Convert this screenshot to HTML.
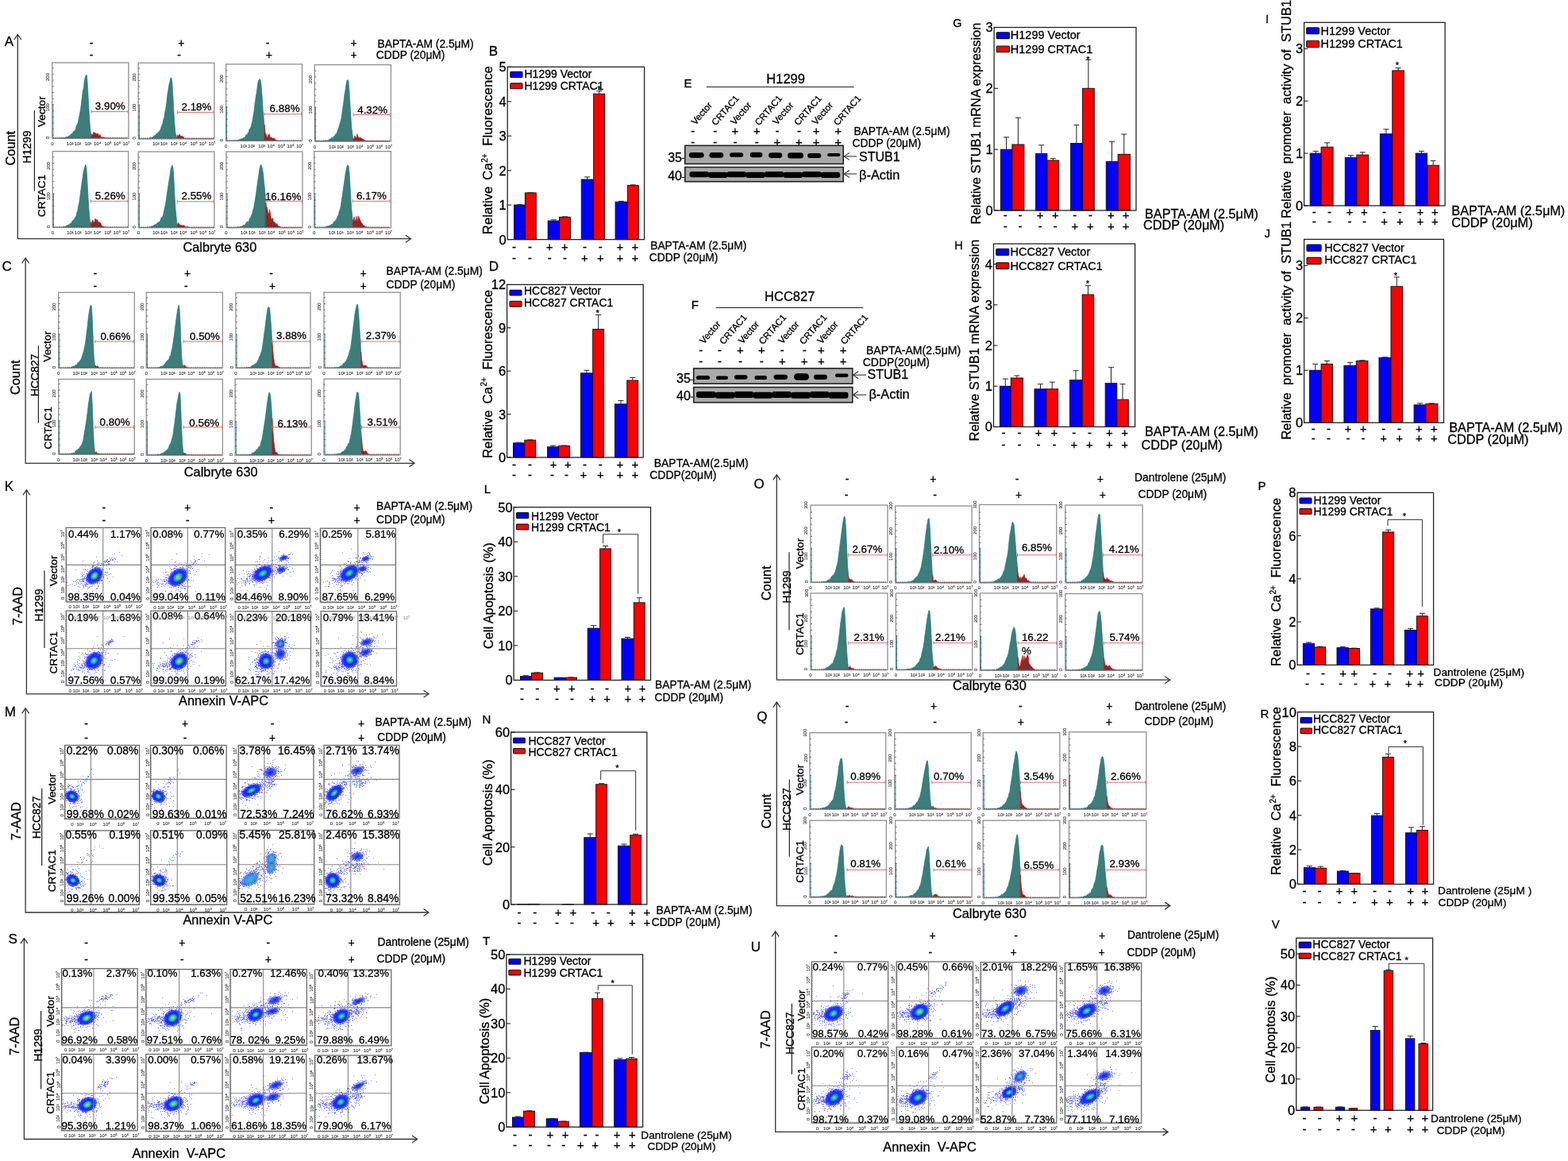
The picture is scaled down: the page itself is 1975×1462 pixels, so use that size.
<!DOCTYPE html><html><head><meta charset="utf-8"><title>Figure</title><style>html,body{margin:0;padding:0;background:#fff;overflow:hidden}svg{display:block}text{font-family:"Liberation Sans",Arial,sans-serif;fill:#000;white-space:pre;stroke:#000;stroke-width:0.3px}.c0{font-size:17px}.c1{font-size:14px;text-anchor:middle}.c2{font-size:13.8px}.c3{font-size:16.4px;text-anchor:middle}.c4{font-size:13.7px;text-anchor:middle}.c5{font-size:16.4px}.c6{font-size:13.4px;text-anchor:start}.c7{font-size:6px;text-anchor:middle;fill:#333;stroke:#333;stroke-width:0.12px}.c8{font-size:13.4px;text-anchor:end}.c9{font-size:6px;text-anchor:middle;fill:#9a9a9a;stroke:#9a9a9a;stroke-width:0.12px}.c10{font-size:13.9px;text-anchor:start}.c11{font-size:13.9px;text-anchor:end}.c12{font-size:16.5px;text-anchor:end}.c13{font-size:14px}.c14{font-size:11px;text-anchor:middle}.c15{font-size:16.8px;text-anchor:start}.c16{font-size:10px}.c17{font-size:15px;text-anchor:middle}.c18{font-size:14.5px}.c19{font-size:16.5px;text-anchor:start}.c20{font-size:16.3px}.c21{font-size:15px}.c22{font-size:16.4px;text-anchor:start}.c23{font-size:13.7px}.c24{font-size:16.5px}.c25{font-size:11.7px}.c26{font-size:16px}</style></head><body><svg width="1975" height="1462" viewBox="0 0 1975 1462">
<rect width="1975" height="1462" fill="#fff"/>
<text x="5.7" y="58.4" class="c0">A</text>
<path d="M22.3 43.5V300.7H517.4" fill="none" stroke="#333" stroke-width="1.3"/>
<path d="M17.8 50L22.3 43.5L26.8 50" fill="none" stroke="#333" stroke-width="1.3"/>
<path d="M510.9 296.2L517.4 300.7L510.9 305.2" fill="none" stroke="#333" stroke-width="1.3"/>
<text x="115" y="58.5" class="c1">-</text>
<text x="228.3" y="58.5" class="c1">+</text>
<text x="337" y="58.5" class="c1">-</text>
<text x="445.5" y="58.5" class="c1">+</text>
<text x="115" y="74.3" class="c1">-</text>
<text x="225.6" y="74.3" class="c1">-</text>
<text x="338.9" y="74.3" class="c1">+</text>
<text x="445.5" y="74.3" class="c1">+</text>
<text x="475.5" y="59.6" class="c2">BAPTA-AM (2.5μM)</text>
<text x="473.8" y="73.9" class="c2">CDDP (20μM)</text>
<text x="19.5" y="186.7" class="c3" transform="rotate(-90 19.5 186.7)">Count</text>
<text x="38.5" y="185" class="c1" transform="rotate(-90 38.5 185)">H1299</text>
<text x="56.6" y="140.6" class="c4" transform="rotate(-90 56.6 140.6)">Vector</text>
<text x="56.6" y="246.5" class="c4" transform="rotate(-90 56.6 246.5)">CRTAC1</text>
<line x1="43.4" y1="139.3" x2="43.4" y2="240.6" stroke="#222" stroke-width="1.2"/>
<text x="230.4" y="316.5" class="c5">Calbryte 630</text>
<path d="M66.4 174.3L66.4 174.3l1 0l1 0l1 0l1 -0.1l1 0l1 0l1 0l1 -0.1l1 0l1 -0.4l1 -0.3l1 0.5l1 0l1 -0.5l1 0.1l1 -0.2l1 -1.3l1 0.9l1 -0.9l1 -0.7l1 0.2l1 -1.6l1 -1l1 -0.1l1 -1.1l1 -2.2l1 -0.3l1 -1.2l1 -1.6l1 -4.5l1 -1.2l1 -2.7l1 -5.7l1 -4.2l1 -5.6l1 -7.4l1 -8.9l1 -7.7l1 -4.2l1 -8.9l1 -4.5l1 -2.6l1 0.5l1 14l1 18.5l1 16.9l1 14.9l1 9.1l0.4 1.6L115 174.3Z" fill="#3d7d7a" stroke="#13807e" stroke-width="0.7"/>
<path d="M115 174.3L115 169.9l0 0l0.4 -1.2l1 2l1 -2.7l1 -1.9l1 1.8l1 -0.4l1 1.1l1 0l1 -0.7l1 3.7l1 -2.2l1 0.8l1 2.6l1 0.1l1 -0.2l1 0.3l1 0.1l1 0.6l1 0.5l1 0l1 0l1 0.1l1 0l1 0l1 0l1 0l1 0l1 0l1 0l1 0l1 0l1 0l1 0l1 0l1 0l1 0l1 0l1 0l1 0l1 0l1 0l1 0l1 0l1 0l1 0l1 0l1 0L161.4 174.3Z" fill="#8a2a2a" stroke="#c01818" stroke-width="0.7"/>
<line x1="66.8" y1="174.3" x2="66.8" y2="131.4" stroke="#13807e" stroke-width="1"/>
<rect x="65.8" y="78.9" width="96.2" height="95.4" fill="none" stroke="#8f8f8f" stroke-width="1.3"/>
<path d="M67.8 174.3v-1.6M70.1 174.3v-1.6M72.4 174.3v-1.6M74.7 174.3v-1.6M77 174.3v-1.6M79.3 174.3v-1.6M81.6 174.3v-1.6M83.9 174.3v-1.6M86.2 174.3v-1.6M88.5 174.3v-1.6M90.8 174.3v-1.6M93.1 174.3v-1.6M95.4 174.3v-1.6M97.7 174.3v-1.6M100 174.3v-1.6M102.3 174.3v-1.6M104.6 174.3v-1.6M106.9 174.3v-1.6M109.2 174.3v-1.6M111.5 174.3v-1.6M113.8 174.3v-1.6M116.1 174.3v-1.6M118.4 174.3v-1.6M120.7 174.3v-1.6M123 174.3v-1.6M125.3 174.3v-1.6M127.6 174.3v-1.6M129.9 174.3v-1.6M132.2 174.3v-1.6M134.5 174.3v-1.6M136.8 174.3v-1.6M139.1 174.3v-1.6M141.4 174.3v-1.6M143.7 174.3v-1.6M146 174.3v-1.6M148.3 174.3v-1.6M150.6 174.3v-1.6M152.9 174.3v-1.6M155.2 174.3v-1.6M157.5 174.3v-1.6M159.8 174.3v-1.6" fill="none" stroke="#444" stroke-width="0.8"/>
<path d="M65.8 170.3h2M65.8 162.6h2M65.8 154.9h2M65.8 147.2h2M65.8 139.5h2M65.8 131.8h2M65.8 124.1h2M65.8 116.4h2M65.8 108.7h2M65.8 101h2M65.8 93.3h2M65.8 85.6h2" fill="none" stroke="#555" stroke-width="0.8"/>
<line x1="115" y1="140.6" x2="161.1" y2="140.6" stroke="#e07070" stroke-width="1"/>
<line x1="115" y1="138.4" x2="115" y2="142.8" stroke="#e07070" stroke-width="1"/>
<line x1="161.1" y1="138.4" x2="161.1" y2="142.8" stroke="#e07070" stroke-width="1"/>
<text x="119.8" y="138" class="c6">3.90%</text>
<text x="65.8" y="182.8" class="c7">0</text>
<text x="88.2" y="182.8" class="c7">10¹</text>
<text x="98" y="182.8" class="c7">10²</text>
<text x="111" y="182.8" class="c7">10³</text>
<text x="122.6" y="182.8" class="c7">10⁴</text>
<text x="136" y="182.8" class="c7">10⁵</text>
<text x="147.6" y="182.8" class="c7">10⁶</text>
<text x="159.1" y="182.8" class="c7">10⁷</text>
<text x="62.3" y="173.3" class="c7" transform="rotate(-90 62.3 173.3)">0</text>
<text x="62.3" y="135.1" class="c7" transform="rotate(-90 62.3 135.1)">100</text>
<text x="62.3" y="97" class="c7" transform="rotate(-90 62.3 97)">200</text>
<path d="M174.9 174.8L174.9 174.8l1 0l1 0l1 -0.1l1 0l1 0l1 0l1 -0.1l1 -0.1l1 -0.2l1 0.5l1 -0.9l1 0.6l1 0l1 -1.3l1 -0.2l1 0.8l1 -0.5l1 -1.4l1 -0.9l1 -0.3l1 -1.2l1 -0.2l1 -1.4l1 0l1 -2.2l1 -1l1 -0.8l1 -3.3l1 -2.9l1 -2.1l1 -5l1 -2.8l1 -7l1 -4.9l1 -6.8l1 -9.6l1 -6.1l1 -6.6l1 -3.6l1 -5.1l1 -0.2l1 6.2l1 17.1l1 18.8l1 15.8l1 10.8l1 4.5l1 2.7l0.2 0.1L223.3 174.8Z" fill="#3d7d7a" stroke="#13807e" stroke-width="0.7"/>
<path d="M223.3 174.8L223.3 169.8l0 0l0.6 1l1 0.3l1 -2.2l1 1.8l1 0.8l1 0l1 -0.1l1 0.8l1 2.2l1 -0.2l1 0.3l1 0.1l1 0.1l1 0.1l1 0l1 0l1 0l1 0l1 0l1 0l1 0l1 0l1 0l1 0l1 0l1 0l1 0l1 0l1 0l1 0l1 0l1 0l1 0l1 0l1 0l1 0l1 0l1 0l1 0l1 0l1 0l1 0l1 0l1 0l1 0l1 0L268.9 174.8Z" fill="#8a2a2a" stroke="#c01818" stroke-width="0.7"/>
<line x1="175.3" y1="174.8" x2="175.3" y2="131.8" stroke="#13807e" stroke-width="1"/>
<rect x="174.3" y="79.2" width="95.6" height="95.6" fill="none" stroke="#8f8f8f" stroke-width="1.3"/>
<path d="M176.3 174.8v-1.6M178.6 174.8v-1.6M180.9 174.8v-1.6M183.2 174.8v-1.6M185.5 174.8v-1.6M187.8 174.8v-1.6M190.1 174.8v-1.6M192.4 174.8v-1.6M194.7 174.8v-1.6M197 174.8v-1.6M199.3 174.8v-1.6M201.6 174.8v-1.6M203.9 174.8v-1.6M206.2 174.8v-1.6M208.5 174.8v-1.6M210.8 174.8v-1.6M213.1 174.8v-1.6M215.4 174.8v-1.6M217.7 174.8v-1.6M220 174.8v-1.6M222.3 174.8v-1.6M224.6 174.8v-1.6M226.9 174.8v-1.6M229.2 174.8v-1.6M231.5 174.8v-1.6M233.8 174.8v-1.6M236.1 174.8v-1.6M238.4 174.8v-1.6M240.7 174.8v-1.6M243 174.8v-1.6M245.3 174.8v-1.6M247.6 174.8v-1.6M249.9 174.8v-1.6M252.2 174.8v-1.6M254.5 174.8v-1.6M256.8 174.8v-1.6M259.1 174.8v-1.6M261.4 174.8v-1.6M263.7 174.8v-1.6M266 174.8v-1.6M268.3 174.8v-1.6" fill="none" stroke="#444" stroke-width="0.8"/>
<path d="M174.3 170.8h2M174.3 163.1h2M174.3 155.4h2M174.3 147.7h2M174.3 140h2M174.3 132.3h2M174.3 124.6h2M174.3 116.9h2M174.3 109.2h2M174.3 101.5h2M174.3 93.8h2M174.3 86.1h2" fill="none" stroke="#555" stroke-width="0.8"/>
<line x1="223.3" y1="141.4" x2="269" y2="141.4" stroke="#e07070" stroke-width="1"/>
<line x1="223.3" y1="139.2" x2="223.3" y2="143.6" stroke="#e07070" stroke-width="1"/>
<line x1="269" y1="139.2" x2="269" y2="143.6" stroke="#e07070" stroke-width="1"/>
<text x="228.5" y="139.3" class="c6">2.18%</text>
<text x="174.3" y="183.3" class="c7">0</text>
<text x="196.6" y="183.3" class="c7">10¹</text>
<text x="206.3" y="183.3" class="c7">10²</text>
<text x="219.2" y="183.3" class="c7">10³</text>
<text x="230.7" y="183.3" class="c7">10⁴</text>
<text x="244.1" y="183.3" class="c7">10⁵</text>
<text x="255.6" y="183.3" class="c7">10⁶</text>
<text x="267" y="183.3" class="c7">10⁷</text>
<text x="170.8" y="173.8" class="c7" transform="rotate(-90 170.8 173.8)">0</text>
<text x="170.8" y="135.6" class="c7" transform="rotate(-90 170.8 135.6)">100</text>
<text x="170.8" y="97.3" class="c7" transform="rotate(-90 170.8 97.3)">200</text>
<path d="M285.2 177.5L285.2 177.5l1 0l1 0l1 0l1 -0.1l1 0l1 0l1 0l1 -0.1l1 -0.1l1 -0.4l1 0.5l1 -0.5l1 0.4l1 -0.6l1 0.1l1 -0.4l1 -1.2l1 0.2l1 -0.7l1 0.1l1 -1.2l1 -0.1l1 -0.3l1 -1.2l1 -2.7l1 1.2l1 -2.8l1 -1.3l1 -3.7l1 -0.7l1 -2.6l1 -3.8l1 -4.2l1 -6.9l1 -5.3l1 -9.4l1 -7.4l1 -5.5l1 -7.5l1 -6.5l1 -2.1l1 -1.3l1 1.6l1 7.8l1 13.7l1 15.8l1 11.1l0.6 8.2L333 177.5Z" fill="#3d7d7a" stroke="#13807e" stroke-width="0.7"/>
<path d="M333 177.5L333 156.8l0 0l1.2 10.8l1 1.5l1 3.5l1 0.1l1 -3.2l1 -0.9l1 4.1l1 0.6l1 -0.2l1 0.9l1 0.5l1 -0.9l1 1.5l1 0.7l1 1.4l1 -0.1l1 0.1l1 0.2l1 0l1 0l1 0l1 0.1l1 0l1 0l1 0l1 0l1 0l1 0l1 0l1 0l1 0l1 0l1 0l1 0l1 0l1 0l1 0l1 0l1 0l1 0l1 0l1 0l1 0l1 0l1 0l1 0L379.2 177.5Z" fill="#8a2a2a" stroke="#c01818" stroke-width="0.7"/>
<line x1="285.6" y1="177.5" x2="285.6" y2="134" stroke="#13807e" stroke-width="1"/>
<rect x="284.6" y="80.8" width="95.9" height="96.7" fill="none" stroke="#8f8f8f" stroke-width="1.3"/>
<path d="M286.6 177.5v-1.6M288.9 177.5v-1.6M291.2 177.5v-1.6M293.5 177.5v-1.6M295.8 177.5v-1.6M298.1 177.5v-1.6M300.4 177.5v-1.6M302.7 177.5v-1.6M305 177.5v-1.6M307.3 177.5v-1.6M309.6 177.5v-1.6M311.9 177.5v-1.6M314.2 177.5v-1.6M316.5 177.5v-1.6M318.8 177.5v-1.6M321.1 177.5v-1.6M323.4 177.5v-1.6M325.7 177.5v-1.6M328 177.5v-1.6M330.3 177.5v-1.6M332.6 177.5v-1.6M334.9 177.5v-1.6M337.2 177.5v-1.6M339.5 177.5v-1.6M341.8 177.5v-1.6M344.1 177.5v-1.6M346.4 177.5v-1.6M348.7 177.5v-1.6M351 177.5v-1.6M353.3 177.5v-1.6M355.6 177.5v-1.6M357.9 177.5v-1.6M360.2 177.5v-1.6M362.5 177.5v-1.6M364.8 177.5v-1.6M367.1 177.5v-1.6M369.4 177.5v-1.6M371.7 177.5v-1.6M374 177.5v-1.6M376.3 177.5v-1.6M378.6 177.5v-1.6" fill="none" stroke="#444" stroke-width="0.8"/>
<path d="M284.6 173.5h2M284.6 165.8h2M284.6 158.1h2M284.6 150.4h2M284.6 142.7h2M284.6 135h2M284.6 127.3h2M284.6 119.6h2M284.6 111.9h2M284.6 104.2h2M284.6 96.5h2M284.6 88.8h2" fill="none" stroke="#555" stroke-width="0.8"/>
<line x1="333" y1="143.7" x2="379.7" y2="143.7" stroke="#e07070" stroke-width="1"/>
<line x1="333" y1="141.5" x2="333" y2="145.9" stroke="#e07070" stroke-width="1"/>
<line x1="379.7" y1="141.5" x2="379.7" y2="145.9" stroke="#e07070" stroke-width="1"/>
<text x="339.6" y="140.6" class="c6">6.88%</text>
<text x="284.6" y="186" class="c7">0</text>
<text x="306.9" y="186" class="c7">10¹</text>
<text x="316.7" y="186" class="c7">10²</text>
<text x="329.7" y="186" class="c7">10³</text>
<text x="341.2" y="186" class="c7">10⁴</text>
<text x="354.6" y="186" class="c7">10⁵</text>
<text x="366.1" y="186" class="c7">10⁶</text>
<text x="377.6" y="186" class="c7">10⁷</text>
<text x="281.1" y="176.5" class="c7" transform="rotate(-90 281.1 176.5)">0</text>
<text x="281.1" y="137.8" class="c7" transform="rotate(-90 281.1 137.8)">100</text>
<text x="281.1" y="99.1" class="c7" transform="rotate(-90 281.1 99.1)">200</text>
<path d="M396.9 178L396.9 178l1 0l1 0l1 -0.1l1 0l1 0l1 0l1 -0.1l1 0l1 -0.1l1 -0.2l1 0.5l1 -0.8l1 -0.6l1 0.8l1 -0.7l1 0.3l1 -0.4l1 -1.5l1 0.2l1 -1.2l1 -1.1l1 0.9l1 -1.4l1 -0.9l1 -1.2l1 -1.6l1 -0.4l1 -3l1 -2.8l1 -2.6l1 -3.6l1 -3.5l1 -3.5l1 -6.8l1 -7.5l1 -6.3l1 -9.3l1 -5.4l1 -7.3l1 -5l1 -1.5l1 1.1l1 12.3l1 16.2l1 16.7l1 15.1l1 7.3l0.9 5.2L445 178Z" fill="#3d7d7a" stroke="#13807e" stroke-width="0.7"/>
<path d="M445 178L445 174.7l0 0l0.9 0.1l1 -4l1 2.5l1 0.2l1 -4.8l1 3.4l1 1.1l1 0.4l1 -0.5l1 0.4l1 1.2l1 0.3l1 1.1l1 -0.2l1 1.6l1 -0.4l1 0.9l1 -0.2l1 0.1l1 0l1 0.1l1 0l1 0l1 0l1 0l1 0l1 0l1 0l1 0l1 0l1 0l1 0l1 0l1 0l1 0l1 0l1 0l1 0l1 0l1 0l1 0l1 0l1 0l1 0l1 0l1 0L490.9 178Z" fill="#8a2a2a" stroke="#c01818" stroke-width="0.7"/>
<line x1="397.3" y1="178" x2="397.3" y2="134.6" stroke="#13807e" stroke-width="1"/>
<rect x="396.3" y="81.6" width="96.1" height="96.4" fill="none" stroke="#8f8f8f" stroke-width="1.3"/>
<path d="M398.3 178v-1.6M400.6 178v-1.6M402.9 178v-1.6M405.2 178v-1.6M407.5 178v-1.6M409.8 178v-1.6M412.1 178v-1.6M414.4 178v-1.6M416.7 178v-1.6M419 178v-1.6M421.3 178v-1.6M423.6 178v-1.6M425.9 178v-1.6M428.2 178v-1.6M430.5 178v-1.6M432.8 178v-1.6M435.1 178v-1.6M437.4 178v-1.6M439.7 178v-1.6M442 178v-1.6M444.3 178v-1.6M446.6 178v-1.6M448.9 178v-1.6M451.2 178v-1.6M453.5 178v-1.6M455.8 178v-1.6M458.1 178v-1.6M460.4 178v-1.6M462.7 178v-1.6M465 178v-1.6M467.3 178v-1.6M469.6 178v-1.6M471.9 178v-1.6M474.2 178v-1.6M476.5 178v-1.6M478.8 178v-1.6M481.1 178v-1.6M483.4 178v-1.6M485.7 178v-1.6M488 178v-1.6M490.3 178v-1.6" fill="none" stroke="#444" stroke-width="0.8"/>
<path d="M396.3 174h2M396.3 166.3h2M396.3 158.6h2M396.3 150.9h2M396.3 143.2h2M396.3 135.5h2M396.3 127.8h2M396.3 120.1h2M396.3 112.4h2M396.3 104.7h2M396.3 97h2M396.3 89.3h2" fill="none" stroke="#555" stroke-width="0.8"/>
<line x1="445" y1="144.5" x2="491" y2="144.5" stroke="#e07070" stroke-width="1"/>
<line x1="445" y1="142.3" x2="445" y2="146.7" stroke="#e07070" stroke-width="1"/>
<line x1="491" y1="142.3" x2="491" y2="146.7" stroke="#e07070" stroke-width="1"/>
<text x="450.2" y="143.2" class="c6">4.32%</text>
<text x="396.3" y="186.5" class="c7">0</text>
<text x="418.7" y="186.5" class="c7">10¹</text>
<text x="428.5" y="186.5" class="c7">10²</text>
<text x="441.5" y="186.5" class="c7">10³</text>
<text x="453" y="186.5" class="c7">10⁴</text>
<text x="466.5" y="186.5" class="c7">10⁵</text>
<text x="478" y="186.5" class="c7">10⁶</text>
<text x="489.5" y="186.5" class="c7">10⁷</text>
<text x="392.8" y="177" class="c7" transform="rotate(-90 392.8 177)">0</text>
<text x="392.8" y="138.4" class="c7" transform="rotate(-90 392.8 138.4)">100</text>
<text x="392.8" y="99.9" class="c7" transform="rotate(-90 392.8 99.9)">200</text>
<path d="M66.9 286.5L66.9 286.5l1 0l1 0l1 -0.1l1 0l1 0l1 0l1 -0.1l1 -0.1l1 -0.5l1 0.8l1 0l1 -0.4l1 -0.6l1 0l1 0.1l1 -0.8l1 -0.8l1 0.1l1 -0.8l1 -0.5l1 -0.9l1 -0.3l1 -1l1 -2.3l1 -0.3l1 -1.4l1 -1.4l1 -1.8l1 -1.5l1 -4.6l1 -2.1l1 -6.6l1 -4l1 -7.6l1 -7.8l1 -7.3l1 -6.1l1 -8.2l1 -4.6l1 -3.4l1 -2.4l1 4.4l1 16.4l1 18.8l1 16l1 12l1 6.8l0.4 1.2L114.5 286.5Z" fill="#3d7d7a" stroke="#13807e" stroke-width="0.7"/>
<path d="M114.5 286.5L114.5 279.7l0 0l0.4 2.2l1 -2.9l1 -2.1l1 3.6l1 -0.9l1 -4l1 0.1l1 2.2l1 -1.3l1 3.8l1 -1l1 0.6l1 1.3l1 2.3l1 1.4l1 -0.1l1 0.7l1 0.3l1 0.6l1 -0.3l1 0l1 0.2l1 0l1 0l1 0.1l1 0l1 0l1 0l1 0l1 0l1 0l1 0l1 0l1 0l1 0l1 0l1 0l1 0l1 0l1 0l1 0l1 0l1 0l1 0l1 0l1 0l1 0L160.9 286.5Z" fill="#8a2a2a" stroke="#c01818" stroke-width="0.7"/>
<line x1="67.3" y1="286.5" x2="67.3" y2="243.3" stroke="#13807e" stroke-width="1"/>
<rect x="66.3" y="190.6" width="95.3" height="95.9" fill="none" stroke="#8f8f8f" stroke-width="1.3"/>
<path d="M68.3 286.5v-1.6M70.6 286.5v-1.6M72.9 286.5v-1.6M75.2 286.5v-1.6M77.5 286.5v-1.6M79.8 286.5v-1.6M82.1 286.5v-1.6M84.4 286.5v-1.6M86.7 286.5v-1.6M89 286.5v-1.6M91.3 286.5v-1.6M93.6 286.5v-1.6M95.9 286.5v-1.6M98.2 286.5v-1.6M100.5 286.5v-1.6M102.8 286.5v-1.6M105.1 286.5v-1.6M107.4 286.5v-1.6M109.7 286.5v-1.6M112 286.5v-1.6M114.3 286.5v-1.6M116.6 286.5v-1.6M118.9 286.5v-1.6M121.2 286.5v-1.6M123.5 286.5v-1.6M125.8 286.5v-1.6M128.1 286.5v-1.6M130.4 286.5v-1.6M132.7 286.5v-1.6M135 286.5v-1.6M137.3 286.5v-1.6M139.6 286.5v-1.6M141.9 286.5v-1.6M144.2 286.5v-1.6M146.5 286.5v-1.6M148.8 286.5v-1.6M151.1 286.5v-1.6M153.4 286.5v-1.6M155.7 286.5v-1.6M158 286.5v-1.6M160.3 286.5v-1.6" fill="none" stroke="#444" stroke-width="0.8"/>
<path d="M66.3 282.5h2M66.3 274.8h2M66.3 267.1h2M66.3 259.4h2M66.3 251.7h2M66.3 244h2M66.3 236.3h2M66.3 228.6h2M66.3 220.9h2M66.3 213.2h2M66.3 205.5h2M66.3 197.8h2" fill="none" stroke="#555" stroke-width="0.8"/>
<line x1="114.5" y1="253.3" x2="161.1" y2="253.3" stroke="#e07070" stroke-width="1"/>
<line x1="114.5" y1="251.1" x2="114.5" y2="255.5" stroke="#e07070" stroke-width="1"/>
<line x1="161.1" y1="251.1" x2="161.1" y2="255.5" stroke="#e07070" stroke-width="1"/>
<text x="119.8" y="250.6" class="c6">5.26%</text>
<text x="66.3" y="295" class="c7">0</text>
<text x="88.5" y="295" class="c7">10¹</text>
<text x="98.2" y="295" class="c7">10²</text>
<text x="111.1" y="295" class="c7">10³</text>
<text x="122.5" y="295" class="c7">10⁴</text>
<text x="135.9" y="295" class="c7">10⁵</text>
<text x="147.3" y="295" class="c7">10⁶</text>
<text x="158.7" y="295" class="c7">10⁷</text>
<text x="62.8" y="285.5" class="c7" transform="rotate(-90 62.8 285.5)">0</text>
<text x="62.8" y="247.1" class="c7" transform="rotate(-90 62.8 247.1)">100</text>
<text x="62.8" y="208.8" class="c7" transform="rotate(-90 62.8 208.8)">200</text>
<path d="M174.9 286.7L174.9 286.7l1 0l1 0l1 0l1 -0.1l1 0l1 0l1 0l1 -0.1l1 0l1 0l1 -0.8l1 0.7l1 0l1 -0.6l1 0l1 -1.2l1 0.3l1 -0.4l1 -1.1l1 -0.4l1 -0.5l1 0.5l1 -2.2l1 -0.7l1 0l1 -1l1 -1l1 -3.8l1 -0.6l1 -0.9l1 -3.3l1 -5.3l1 -4.8l1 -4.3l1 -7.6l1 -6.8l1 -6.7l1 -6.5l1 -5.6l1 -7.5l1 -4.2l1 -2.3l1 2.7l1 12.4l1 21.5l1 16.9l1 10.4l1 8.6l0.2 1.9L223.3 286.7Z" fill="#3d7d7a" stroke="#13807e" stroke-width="0.7"/>
<path d="M223.3 286.7L223.3 283.3l0 0l0.6 -0.8l1 -2.1l1 2.5l1 0.1l1 0.4l1 0.7l1 -0.2l1 0l1 -0.4l1 2.1l1 0.3l1 -0.3l1 0.2l1 -0.3l1 0.9l1 0.2l1 0l1 0l1 0.1l1 0l1 0l1 0l1 0l1 0l1 0l1 0l1 0l1 0l1 0l1 0l1 0l1 0l1 0l1 0l1 0l1 0l1 0l1 0l1 0l1 0l1 0l1 0l1 0l1 0l1 0l1 0L268.9 286.7Z" fill="#8a2a2a" stroke="#c01818" stroke-width="0.7"/>
<line x1="175.3" y1="286.7" x2="175.3" y2="243.6" stroke="#13807e" stroke-width="1"/>
<rect x="174.3" y="191" width="95.6" height="95.7" fill="none" stroke="#8f8f8f" stroke-width="1.3"/>
<path d="M176.3 286.7v-1.6M178.6 286.7v-1.6M180.9 286.7v-1.6M183.2 286.7v-1.6M185.5 286.7v-1.6M187.8 286.7v-1.6M190.1 286.7v-1.6M192.4 286.7v-1.6M194.7 286.7v-1.6M197 286.7v-1.6M199.3 286.7v-1.6M201.6 286.7v-1.6M203.9 286.7v-1.6M206.2 286.7v-1.6M208.5 286.7v-1.6M210.8 286.7v-1.6M213.1 286.7v-1.6M215.4 286.7v-1.6M217.7 286.7v-1.6M220 286.7v-1.6M222.3 286.7v-1.6M224.6 286.7v-1.6M226.9 286.7v-1.6M229.2 286.7v-1.6M231.5 286.7v-1.6M233.8 286.7v-1.6M236.1 286.7v-1.6M238.4 286.7v-1.6M240.7 286.7v-1.6M243 286.7v-1.6M245.3 286.7v-1.6M247.6 286.7v-1.6M249.9 286.7v-1.6M252.2 286.7v-1.6M254.5 286.7v-1.6M256.8 286.7v-1.6M259.1 286.7v-1.6M261.4 286.7v-1.6M263.7 286.7v-1.6M266 286.7v-1.6M268.3 286.7v-1.6" fill="none" stroke="#444" stroke-width="0.8"/>
<path d="M174.3 282.7h2M174.3 275h2M174.3 267.3h2M174.3 259.6h2M174.3 251.9h2M174.3 244.2h2M174.3 236.5h2M174.3 228.8h2M174.3 221.1h2M174.3 213.4h2M174.3 205.7h2M174.3 198h2" fill="none" stroke="#555" stroke-width="0.8"/>
<line x1="223.3" y1="253.8" x2="269" y2="253.8" stroke="#e07070" stroke-width="1"/>
<line x1="223.3" y1="251.6" x2="223.3" y2="256" stroke="#e07070" stroke-width="1"/>
<line x1="269" y1="251.6" x2="269" y2="256" stroke="#e07070" stroke-width="1"/>
<text x="228.5" y="251.2" class="c6">2.55%</text>
<text x="174.3" y="295.2" class="c7">0</text>
<text x="196.6" y="295.2" class="c7">10¹</text>
<text x="206.3" y="295.2" class="c7">10²</text>
<text x="219.2" y="295.2" class="c7">10³</text>
<text x="230.7" y="295.2" class="c7">10⁴</text>
<text x="244.1" y="295.2" class="c7">10⁵</text>
<text x="255.6" y="295.2" class="c7">10⁶</text>
<text x="267" y="295.2" class="c7">10⁷</text>
<text x="170.8" y="285.7" class="c7" transform="rotate(-90 170.8 285.7)">0</text>
<text x="170.8" y="247.4" class="c7" transform="rotate(-90 170.8 247.4)">100</text>
<text x="170.8" y="209.1" class="c7" transform="rotate(-90 170.8 209.1)">200</text>
<path d="M285.6 286.7L285.6 286.7l1 0l1 0l1 0l1 0l1 -0.1l1 0l1 0l1 0l1 -0.1l1 0l1 0l1 0.2l1 -0.1l1 -1l1 1l1 -0.3l1 -1.4l1 0.6l1 -0.8l1 -0.2l1 -1.2l1 0.2l1 -0.5l1 -1.6l1 -1.6l1 -0.9l1 0.5l1 -1.1l1 -3.6l1 -0.5l1 -3.1l1 -1.7l1 -5l1 -2.5l1 -5.9l1 -5.5l1 -7.1l1 -7.1l1 -8.1l1 -5.8l1 -7.8l1 -4.7l1 -2.6l1 1.9l1 3.9l1 5.6l1 11.7l1 9.1l0.6 6.9L334.4 286.7Z" fill="#3d7d7a" stroke="#13807e" stroke-width="0.7"/>
<path d="M334.4 286.7L334.4 250.5l0 0l1.2 9.7l1 1.7l1 5.6l1 2.7l1 -6.4l1 6l1 6l1 0.1l1 -1.6l1 6.2l1 -1.2l1 1.1l1 1.8l1 -0.7l1 2.3l1 0.8l1 0.5l1 0.2l1 1.2l1 0l1 -0.1l1 0.1l1 0.1l1 0l1 0.1l1 0l1 0l1 0l1 0l1 0l1 0l1 0l1 0l1 0l1 0l1 0l1 0l1 0l1 0l1 0l1 0l1 0l1 0l1 0l1 0L379.6 286.7Z" fill="#8a2a2a" stroke="#c01818" stroke-width="0.7"/>
<line x1="286" y1="286.7" x2="286" y2="243.6" stroke="#13807e" stroke-width="1"/>
<rect x="285" y="191" width="96" height="95.7" fill="none" stroke="#8f8f8f" stroke-width="1.3"/>
<path d="M287 286.7v-1.6M289.3 286.7v-1.6M291.6 286.7v-1.6M293.9 286.7v-1.6M296.2 286.7v-1.6M298.5 286.7v-1.6M300.8 286.7v-1.6M303.1 286.7v-1.6M305.4 286.7v-1.6M307.7 286.7v-1.6M310 286.7v-1.6M312.3 286.7v-1.6M314.6 286.7v-1.6M316.9 286.7v-1.6M319.2 286.7v-1.6M321.5 286.7v-1.6M323.8 286.7v-1.6M326.1 286.7v-1.6M328.4 286.7v-1.6M330.7 286.7v-1.6M333 286.7v-1.6M335.3 286.7v-1.6M337.6 286.7v-1.6M339.9 286.7v-1.6M342.2 286.7v-1.6M344.5 286.7v-1.6M346.8 286.7v-1.6M349.1 286.7v-1.6M351.4 286.7v-1.6M353.7 286.7v-1.6M356 286.7v-1.6M358.3 286.7v-1.6M360.6 286.7v-1.6M362.9 286.7v-1.6M365.2 286.7v-1.6M367.5 286.7v-1.6M369.8 286.7v-1.6M372.1 286.7v-1.6M374.4 286.7v-1.6M376.7 286.7v-1.6M379 286.7v-1.6" fill="none" stroke="#444" stroke-width="0.8"/>
<path d="M285 282.7h2M285 275h2M285 267.3h2M285 259.6h2M285 251.9h2M285 244.2h2M285 236.5h2M285 228.8h2M285 221.1h2M285 213.4h2M285 205.7h2M285 198h2" fill="none" stroke="#555" stroke-width="0.8"/>
<line x1="334.4" y1="253.3" x2="380.5" y2="253.3" stroke="#e07070" stroke-width="1"/>
<line x1="334.4" y1="251.1" x2="334.4" y2="255.5" stroke="#e07070" stroke-width="1"/>
<line x1="380.5" y1="251.1" x2="380.5" y2="255.5" stroke="#e07070" stroke-width="1"/>
<text x="333.9" y="252" class="c6">16.16%</text>
<text x="285" y="295.2" class="c7">0</text>
<text x="307.4" y="295.2" class="c7">10¹</text>
<text x="317.2" y="295.2" class="c7">10²</text>
<text x="330.1" y="295.2" class="c7">10³</text>
<text x="341.6" y="295.2" class="c7">10⁴</text>
<text x="355.1" y="295.2" class="c7">10⁵</text>
<text x="366.6" y="295.2" class="c7">10⁶</text>
<text x="378.1" y="295.2" class="c7">10⁷</text>
<text x="281.5" y="285.7" class="c7" transform="rotate(-90 281.5 285.7)">0</text>
<text x="281.5" y="247.4" class="c7" transform="rotate(-90 281.5 247.4)">100</text>
<text x="281.5" y="209.1" class="c7" transform="rotate(-90 281.5 209.1)">200</text>
<path d="M396.3 286.7L396.3 286.7l1 0l1 0l1 0l1 -0.1l1 0l1 0l1 0l1 -0.1l1 -0.1l1 0l1 0.2l1 -0.1l1 0.1l1 -0.8l1 -0.5l1 -0.6l1 0.1l1 -0.4l1 -0.3l1 -0.7l1 -0.8l1 -0.1l1 -1.1l1 -1.6l1 -0.7l1 -1.2l1 -1.1l1 -1.8l1 -2.8l1 -1.6l1 -4.3l1 -2.5l1 -4l1 -7.8l1 -5.5l1 -8.1l1 -6.5l1 -7.1l1 -7.4l1 -4.4l1 -4.6l1 -0.6l1 2l1 12.1l1 17.1l1 17.2l1 11.8l0.9 9.7L444.4 286.7Z" fill="#3d7d7a" stroke="#13807e" stroke-width="0.7"/>
<path d="M444.4 286.7L444.4 278l0 0l0.9 -2.1l1 -2.9l1 5.4l1 -1.5l1 -4.5l1 7.5l1 -7.7l1 1.7l1 2.3l1 2.3l1 1.8l1 1.2l1 1.8l1 0.9l1 0.3l1 1.5l1 -0.8l1 0.9l1 0.2l1 0.2l1 0l1 0.1l1 0l1 0.1l1 0l1 0l1 0l1 0l1 0l1 0l1 0l1 0l1 0l1 0l1 0l1 0l1 0l1 0l1 0l1 0l1 0l1 0l1 0l1 0l1 0l1 0l1 0L491.3 286.7Z" fill="#8a2a2a" stroke="#c01818" stroke-width="0.7"/>
<line x1="396.7" y1="286.7" x2="396.7" y2="243.5" stroke="#13807e" stroke-width="1"/>
<rect x="395.7" y="190.6" width="96.7" height="96.1" fill="none" stroke="#8f8f8f" stroke-width="1.3"/>
<path d="M397.7 286.7v-1.6M400 286.7v-1.6M402.3 286.7v-1.6M404.6 286.7v-1.6M406.9 286.7v-1.6M409.2 286.7v-1.6M411.5 286.7v-1.6M413.8 286.7v-1.6M416.1 286.7v-1.6M418.4 286.7v-1.6M420.7 286.7v-1.6M423 286.7v-1.6M425.3 286.7v-1.6M427.6 286.7v-1.6M429.9 286.7v-1.6M432.2 286.7v-1.6M434.5 286.7v-1.6M436.8 286.7v-1.6M439.1 286.7v-1.6M441.4 286.7v-1.6M443.7 286.7v-1.6M446 286.7v-1.6M448.3 286.7v-1.6M450.6 286.7v-1.6M452.9 286.7v-1.6M455.2 286.7v-1.6M457.5 286.7v-1.6M459.8 286.7v-1.6M462.1 286.7v-1.6M464.4 286.7v-1.6M466.7 286.7v-1.6M469 286.7v-1.6M471.3 286.7v-1.6M473.6 286.7v-1.6M475.9 286.7v-1.6M478.2 286.7v-1.6M480.5 286.7v-1.6M482.8 286.7v-1.6M485.1 286.7v-1.6M487.4 286.7v-1.6M489.7 286.7v-1.6" fill="none" stroke="#444" stroke-width="0.8"/>
<path d="M395.7 282.7h2M395.7 275h2M395.7 267.3h2M395.7 259.6h2M395.7 251.9h2M395.7 244.2h2M395.7 236.5h2M395.7 228.8h2M395.7 221.1h2M395.7 213.4h2M395.7 205.7h2M395.7 198h2" fill="none" stroke="#555" stroke-width="0.8"/>
<line x1="444.4" y1="253.3" x2="491" y2="253.3" stroke="#e07070" stroke-width="1"/>
<line x1="444.4" y1="251.1" x2="444.4" y2="255.5" stroke="#e07070" stroke-width="1"/>
<line x1="491" y1="251.1" x2="491" y2="255.5" stroke="#e07070" stroke-width="1"/>
<text x="448.9" y="251.2" class="c6">6.17%</text>
<text x="395.7" y="295.2" class="c7">0</text>
<text x="418.2" y="295.2" class="c7">10¹</text>
<text x="428.1" y="295.2" class="c7">10²</text>
<text x="441.1" y="295.2" class="c7">10³</text>
<text x="452.8" y="295.2" class="c7">10⁴</text>
<text x="466.3" y="295.2" class="c7">10⁵</text>
<text x="477.9" y="295.2" class="c7">10⁶</text>
<text x="489.5" y="295.2" class="c7">10⁷</text>
<text x="392.2" y="285.7" class="c7" transform="rotate(-90 392.2 285.7)">0</text>
<text x="392.2" y="247.3" class="c7" transform="rotate(-90 392.2 247.3)">100</text>
<text x="392.2" y="208.8" class="c7" transform="rotate(-90 392.2 208.8)">200</text>
<text x="2.6" y="341" class="c0">C</text>
<path d="M32.1 325V583.3H522" fill="none" stroke="#333" stroke-width="1.3"/>
<path d="M27.6 331.5L32.1 325L36.6 331.5" fill="none" stroke="#333" stroke-width="1.3"/>
<path d="M515.5 578.8L522 583.3L515.5 587.8" fill="none" stroke="#333" stroke-width="1.3"/>
<text x="119.8" y="348.5" class="c1">-</text>
<text x="236.2" y="348.5" class="c1">+</text>
<text x="341.5" y="348.5" class="c1">-</text>
<text x="457.6" y="348.5" class="c1">+</text>
<text x="119.8" y="364.8" class="c1">-</text>
<text x="234.4" y="364.8" class="c1">-</text>
<text x="343.1" y="364.8" class="c1">+</text>
<text x="457.6" y="364.8" class="c1">+</text>
<text x="486.6" y="345.5" class="c2">BAPTA-AM (2.5μM)</text>
<text x="486.6" y="363.4" class="c2">CDDP (20μM)</text>
<text x="25.3" y="475.3" class="c3" transform="rotate(-90 25.3 475.3)">Count</text>
<text x="48.6" y="472.5" class="c1" transform="rotate(-90 48.6 472.5)">HCC827</text>
<text x="64.5" y="436.3" class="c4" transform="rotate(-90 64.5 436.3)">Vector</text>
<text x="64.5" y="539" class="c4" transform="rotate(-90 64.5 539)">CRTAC1</text>
<line x1="48.4" y1="435.3" x2="48.4" y2="532.7" stroke="#222" stroke-width="1.2"/>
<text x="231.7" y="599.6" class="c5">Calbryte 630</text>
<path d="M74.3 463.5L74.3 463.5l1 0l1 0l1 0l1 0l1 0l1 -0.1l1 0l1 0l1 -0.1l1 0l1 -0.2l1 -0.3l1 0.1l1 0.2l1 -0.2l1 -0.6l1 -0.7l1 -0.6l1 0.6l1 -1.5l1 -0.4l1 0.2l1 -1.8l1 -1.9l1 0.4l1 -2.1l1 -0.4l1 -2.2l1 -2.9l1 -3.1l1 -3.1l1 -4.7l1 -4.7l1 -7.5l1 -8.1l1 -8.1l1 -10.1l1 -6.2l1 -6.2l1 -3.1l1 0.9l1 17.3l1 25.1l1 22.7l1 8.5l0.3 1.4L119.8 463.5Z" fill="#3d7d7a" stroke="#13807e" stroke-width="0.7"/>
<path d="M119.8 463.5L119.8 461.3l0 0l0.5 -1.2l1 1.6l1 -0.9l1 0.5l1 1.8l1 0.2l1 0.1l1 0.1l1 0l1 0l1 0l1 0l1 0l1 0l1 0l1 0l1 0l1 0l1 0l1 0l1 0l1 0l1 0l1 0l1 0l1 0l1 0l1 0l1 0l1 0l1 0l1 0l1 0l1 0l1 0l1 0l1 0l1 0l1 0l1 0l1 0l1 0l1 0l1 0l1 0l1 0l1 0l1 0l1 0L168.3 463.5Z" fill="#8a2a2a" stroke="#c01818" stroke-width="0.7"/>
<line x1="74.7" y1="463.5" x2="74.7" y2="420.6" stroke="#13807e" stroke-width="1"/>
<rect x="73.7" y="368.2" width="95.6" height="95.3" fill="none" stroke="#8f8f8f" stroke-width="1.3"/>
<path d="M75.7 463.5v-1.6M78 463.5v-1.6M80.3 463.5v-1.6M82.6 463.5v-1.6M84.9 463.5v-1.6M87.2 463.5v-1.6M89.5 463.5v-1.6M91.8 463.5v-1.6M94.1 463.5v-1.6M96.4 463.5v-1.6M98.7 463.5v-1.6M101 463.5v-1.6M103.3 463.5v-1.6M105.6 463.5v-1.6M107.9 463.5v-1.6M110.2 463.5v-1.6M112.5 463.5v-1.6M114.8 463.5v-1.6M117.1 463.5v-1.6M119.4 463.5v-1.6M121.7 463.5v-1.6M124 463.5v-1.6M126.3 463.5v-1.6M128.6 463.5v-1.6M130.9 463.5v-1.6M133.2 463.5v-1.6M135.5 463.5v-1.6M137.8 463.5v-1.6M140.1 463.5v-1.6M142.4 463.5v-1.6M144.7 463.5v-1.6M147 463.5v-1.6M149.3 463.5v-1.6M151.6 463.5v-1.6M153.9 463.5v-1.6M156.2 463.5v-1.6M158.5 463.5v-1.6M160.8 463.5v-1.6M163.1 463.5v-1.6M165.4 463.5v-1.6M167.7 463.5v-1.6" fill="none" stroke="#444" stroke-width="0.8"/>
<path d="M73.7 459.5h2M73.7 451.8h2M73.7 444.1h2M73.7 436.4h2M73.7 428.7h2M73.7 421h2M73.7 413.3h2M73.7 405.6h2M73.7 397.9h2M73.7 390.2h2M73.7 382.5h2M73.7 374.8h2" fill="none" stroke="#555" stroke-width="0.8"/>
<line x1="119.8" y1="430" x2="168.5" y2="430" stroke="#e07070" stroke-width="1"/>
<line x1="119.8" y1="427.8" x2="119.8" y2="432.2" stroke="#e07070" stroke-width="1"/>
<line x1="168.5" y1="427.8" x2="168.5" y2="432.2" stroke="#e07070" stroke-width="1"/>
<text x="126.4" y="428" class="c6">0.66%</text>
<text x="73.7" y="472" class="c7">0</text>
<text x="96" y="472" class="c7">10¹</text>
<text x="105.7" y="472" class="c7">10²</text>
<text x="118.6" y="472" class="c7">10³</text>
<text x="130.1" y="472" class="c7">10⁴</text>
<text x="143.5" y="472" class="c7">10⁵</text>
<text x="155" y="472" class="c7">10⁶</text>
<text x="166.4" y="472" class="c7">10⁷</text>
<text x="70.2" y="462.5" class="c7" transform="rotate(-90 70.2 462.5)">0</text>
<text x="70.2" y="424.4" class="c7" transform="rotate(-90 70.2 424.4)">100</text>
<text x="70.2" y="386.3" class="c7" transform="rotate(-90 70.2 386.3)">200</text>
<path d="M184.9 463.5L184.9 463.5l1 0l1 0l1 0l1 0l1 0l1 -0.1l1 0l1 0l1 -0.1l1 0l1 0.2l1 0l1 -0.7l1 0.5l1 -0.9l1 0.6l1 -1.2l1 -0.7l1 0.4l1 -0.1l1 -1.6l1 -1l1 -1l1 -1.4l1 -1.1l1 -1.5l1 0.2l1 -2.1l1 -3.4l1 -1l1 -5l1 -3.8l1 -6.2l1 -7l1 -6.8l1 -8.8l1 -7.4l1 -7.2l1 -6.1l1 -5l1 2.4l1 17.7l1 24.5l1 21.9l1 8.2l1.1 3.4L231.2 463.5Z" fill="#3d7d7a" stroke="#13807e" stroke-width="0.7"/>
<path d="M231.2 463.5L231.2 461l0 0l0.7 -1.3l1 0.5l1 1.5l1 0.3l1 1.2l1 0.1l1 0.2l1 0l1 0l1 0l1 0l1 0l1 0l1 0l1 0l1 0l1 0l1 0l1 0l1 0l1 0l1 0l1 0l1 0l1 0l1 0l1 0l1 0l1 0l1 0l1 0l1 0l1 0l1 0l1 0l1 0l1 0l1 0l1 0l1 0l1 0l1 0l1 0l1 0l1 0l1 0l1 0l1 0L278.9 463.5Z" fill="#8a2a2a" stroke="#c01818" stroke-width="0.7"/>
<line x1="185.3" y1="463.5" x2="185.3" y2="420.6" stroke="#13807e" stroke-width="1"/>
<rect x="184.3" y="368.2" width="96.1" height="95.3" fill="none" stroke="#8f8f8f" stroke-width="1.3"/>
<path d="M186.3 463.5v-1.6M188.6 463.5v-1.6M190.9 463.5v-1.6M193.2 463.5v-1.6M195.5 463.5v-1.6M197.8 463.5v-1.6M200.1 463.5v-1.6M202.4 463.5v-1.6M204.7 463.5v-1.6M207 463.5v-1.6M209.3 463.5v-1.6M211.6 463.5v-1.6M213.9 463.5v-1.6M216.2 463.5v-1.6M218.5 463.5v-1.6M220.8 463.5v-1.6M223.1 463.5v-1.6M225.4 463.5v-1.6M227.7 463.5v-1.6M230 463.5v-1.6M232.3 463.5v-1.6M234.6 463.5v-1.6M236.9 463.5v-1.6M239.2 463.5v-1.6M241.5 463.5v-1.6M243.8 463.5v-1.6M246.1 463.5v-1.6M248.4 463.5v-1.6M250.7 463.5v-1.6M253 463.5v-1.6M255.3 463.5v-1.6M257.6 463.5v-1.6M259.9 463.5v-1.6M262.2 463.5v-1.6M264.5 463.5v-1.6M266.8 463.5v-1.6M269.1 463.5v-1.6M271.4 463.5v-1.6M273.7 463.5v-1.6M276 463.5v-1.6M278.3 463.5v-1.6" fill="none" stroke="#444" stroke-width="0.8"/>
<path d="M184.3 459.5h2M184.3 451.8h2M184.3 444.1h2M184.3 436.4h2M184.3 428.7h2M184.3 421h2M184.3 413.3h2M184.3 405.6h2M184.3 397.9h2M184.3 390.2h2M184.3 382.5h2M184.3 374.8h2" fill="none" stroke="#555" stroke-width="0.8"/>
<line x1="231.2" y1="430" x2="279.9" y2="430" stroke="#e07070" stroke-width="1"/>
<line x1="231.2" y1="427.8" x2="231.2" y2="432.2" stroke="#e07070" stroke-width="1"/>
<line x1="279.9" y1="427.8" x2="279.9" y2="432.2" stroke="#e07070" stroke-width="1"/>
<text x="239" y="428" class="c6">0.50%</text>
<text x="184.3" y="472" class="c7">0</text>
<text x="206.7" y="472" class="c7">10¹</text>
<text x="216.5" y="472" class="c7">10²</text>
<text x="229.5" y="472" class="c7">10³</text>
<text x="241" y="472" class="c7">10⁴</text>
<text x="254.5" y="472" class="c7">10⁵</text>
<text x="266" y="472" class="c7">10⁶</text>
<text x="277.5" y="472" class="c7">10⁷</text>
<text x="180.8" y="462.5" class="c7" transform="rotate(-90 180.8 462.5)">0</text>
<text x="180.8" y="424.4" class="c7" transform="rotate(-90 180.8 424.4)">100</text>
<text x="180.8" y="386.3" class="c7" transform="rotate(-90 180.8 386.3)">200</text>
<path d="M297.6 463.5L297.6 463.5l1 0l1 0l1 0l1 0l1 0l1 -0.1l1 0l1 0l1 0l1 -0.1l1 -0.1l1 0l1 -0.4l1 0l1 -0.1l1 0l1 -0.2l1 0.1l1 -1.5l1 -0.9l1 -0.2l1 0l1 -1.8l1 0.2l1 -1l1 -0.9l1 -2.4l1 -1l1 -4l1 -1l1 -3.7l1 -2.1l1 -5.6l1 -7.2l1 -7.4l1 -7.3l1 -8.5l1 -7.6l1 -7.5l1 -4.1l1 -0.4l1 1.4l1 10.4l1 12.7l1 16.6L342.8 463.5Z" fill="#3d7d7a" stroke="#13807e" stroke-width="0.7"/>
<path d="M342.8 463.5L342.8 430.7l0 0l0.8 8.8l1 10.8l1 6.7l1 3l1 0.9l1 -0.8l1 1.6l1 -0.2l1 0.7l1 1l1 0.2l1 0.1l1 0l1 0l1 0l1 0l1 0l1 0l1 0l1 0l1 0l1 0l1 0l1 0l1 0l1 0l1 0l1 0l1 0l1 0l1 0l1 0l1 0l1 0l1 0l1 0l1 0l1 0l1 0l1 0l1 0l1 0l1 0l1 0l1 0l1 0l1 0L389.6 463.5Z" fill="#8a2a2a" stroke="#c01818" stroke-width="0.7"/>
<line x1="298" y1="463.5" x2="298" y2="420.8" stroke="#13807e" stroke-width="1"/>
<rect x="297" y="368.7" width="94" height="94.8" fill="none" stroke="#8f8f8f" stroke-width="1.3"/>
<path d="M299 463.5v-1.6M301.3 463.5v-1.6M303.6 463.5v-1.6M305.9 463.5v-1.6M308.2 463.5v-1.6M310.5 463.5v-1.6M312.8 463.5v-1.6M315.1 463.5v-1.6M317.4 463.5v-1.6M319.7 463.5v-1.6M322 463.5v-1.6M324.3 463.5v-1.6M326.6 463.5v-1.6M328.9 463.5v-1.6M331.2 463.5v-1.6M333.5 463.5v-1.6M335.8 463.5v-1.6M338.1 463.5v-1.6M340.4 463.5v-1.6M342.7 463.5v-1.6M345 463.5v-1.6M347.3 463.5v-1.6M349.6 463.5v-1.6M351.9 463.5v-1.6M354.2 463.5v-1.6M356.5 463.5v-1.6M358.8 463.5v-1.6M361.1 463.5v-1.6M363.4 463.5v-1.6M365.7 463.5v-1.6M368 463.5v-1.6M370.3 463.5v-1.6M372.6 463.5v-1.6M374.9 463.5v-1.6M377.2 463.5v-1.6M379.5 463.5v-1.6M381.8 463.5v-1.6M384.1 463.5v-1.6M386.4 463.5v-1.6M388.7 463.5v-1.6" fill="none" stroke="#444" stroke-width="0.8"/>
<path d="M297 459.5h2M297 451.8h2M297 444.1h2M297 436.4h2M297 428.7h2M297 421h2M297 413.3h2M297 405.6h2M297 397.9h2M297 390.2h2M297 382.5h2M297 374.8h2" fill="none" stroke="#555" stroke-width="0.8"/>
<line x1="342.8" y1="430" x2="390.2" y2="430" stroke="#e07070" stroke-width="1"/>
<line x1="342.8" y1="427.8" x2="342.8" y2="432.2" stroke="#e07070" stroke-width="1"/>
<line x1="390.2" y1="427.8" x2="390.2" y2="432.2" stroke="#e07070" stroke-width="1"/>
<text x="348" y="426.6" class="c6">3.88%</text>
<text x="297" y="472" class="c7">0</text>
<text x="318.9" y="472" class="c7">10¹</text>
<text x="328.5" y="472" class="c7">10²</text>
<text x="341.2" y="472" class="c7">10³</text>
<text x="352.5" y="472" class="c7">10⁴</text>
<text x="365.6" y="472" class="c7">10⁵</text>
<text x="376.9" y="472" class="c7">10⁶</text>
<text x="388.2" y="472" class="c7">10⁷</text>
<text x="293.5" y="462.5" class="c7" transform="rotate(-90 293.5 462.5)">0</text>
<text x="293.5" y="424.6" class="c7" transform="rotate(-90 293.5 424.6)">100</text>
<text x="293.5" y="386.7" class="c7" transform="rotate(-90 293.5 386.7)">200</text>
<path d="M408.6 463.5L408.6 463.5l1 0l1 0l1 0l1 0l1 0l1 0l1 -0.1l1 0l1 0l1 -0.1l1 0l1 0.2l1 0l1 -0.9l1 0.6l1 -0.6l1 0l1 0.1l1 -0.8l1 -1.2l1 0l1 -0.1l1 -1.6l1 -1.5l1 -0.1l1 -1.5l1 -1.2l1 -1.7l1 -1.6l1 -3.4l1 -2.7l1 -4.3l1 -2l1 -8.2l1 -7.4l1 -8.9l1 -7.6l1 -8.3l1 -6.9l1 -4.3l1 -4.5l1 1.2l1 8.1l1 16.4l1 15.9l0.9 15L454.7 463.5Z" fill="#3d7d7a" stroke="#13807e" stroke-width="0.7"/>
<path d="M454.7 463.5L454.7 443.2l0 0l0.9 9.1l1 5.5l1 3.8l1 -1.5l1 -0.2l1 0.2l1 0.6l1 2.3l1 0.2l1 -0.2l1 0.4l1 0l1 0.1l1 0l1 0l1 0l1 0l1 0l1 0l1 0l1 0l1 0l1 0l1 0l1 0l1 0l1 0l1 0l1 0l1 0l1 0l1 0l1 0l1 0l1 0l1 0l1 0l1 0l1 0l1 0l1 0l1 0l1 0l1 0l1 0l1 0l1 0l1 0L502.6 463.5Z" fill="#8a2a2a" stroke="#c01818" stroke-width="0.7"/>
<line x1="409" y1="463.5" x2="409" y2="420.6" stroke="#13807e" stroke-width="1"/>
<rect x="408" y="368.2" width="96.2" height="95.3" fill="none" stroke="#8f8f8f" stroke-width="1.3"/>
<path d="M410 463.5v-1.6M412.3 463.5v-1.6M414.6 463.5v-1.6M416.9 463.5v-1.6M419.2 463.5v-1.6M421.5 463.5v-1.6M423.8 463.5v-1.6M426.1 463.5v-1.6M428.4 463.5v-1.6M430.7 463.5v-1.6M433 463.5v-1.6M435.3 463.5v-1.6M437.6 463.5v-1.6M439.9 463.5v-1.6M442.2 463.5v-1.6M444.5 463.5v-1.6M446.8 463.5v-1.6M449.1 463.5v-1.6M451.4 463.5v-1.6M453.7 463.5v-1.6M456 463.5v-1.6M458.3 463.5v-1.6M460.6 463.5v-1.6M462.9 463.5v-1.6M465.2 463.5v-1.6M467.5 463.5v-1.6M469.8 463.5v-1.6M472.1 463.5v-1.6M474.4 463.5v-1.6M476.7 463.5v-1.6M479 463.5v-1.6M481.3 463.5v-1.6M483.6 463.5v-1.6M485.9 463.5v-1.6M488.2 463.5v-1.6M490.5 463.5v-1.6M492.8 463.5v-1.6M495.1 463.5v-1.6M497.4 463.5v-1.6M499.7 463.5v-1.6M502 463.5v-1.6" fill="none" stroke="#444" stroke-width="0.8"/>
<path d="M408 459.5h2M408 451.8h2M408 444.1h2M408 436.4h2M408 428.7h2M408 421h2M408 413.3h2M408 405.6h2M408 397.9h2M408 390.2h2M408 382.5h2M408 374.8h2" fill="none" stroke="#555" stroke-width="0.8"/>
<line x1="454.7" y1="430" x2="503.4" y2="430" stroke="#e07070" stroke-width="1"/>
<line x1="454.7" y1="427.8" x2="454.7" y2="432.2" stroke="#e07070" stroke-width="1"/>
<line x1="503.4" y1="427.8" x2="503.4" y2="432.2" stroke="#e07070" stroke-width="1"/>
<text x="460.8" y="426.6" class="c6">2.37%</text>
<text x="408" y="472" class="c7">0</text>
<text x="430.4" y="472" class="c7">10¹</text>
<text x="440.2" y="472" class="c7">10²</text>
<text x="453.2" y="472" class="c7">10³</text>
<text x="464.8" y="472" class="c7">10⁴</text>
<text x="478.2" y="472" class="c7">10⁵</text>
<text x="489.8" y="472" class="c7">10⁶</text>
<text x="501.3" y="472" class="c7">10⁷</text>
<text x="404.5" y="462.5" class="c7" transform="rotate(-90 404.5 462.5)">0</text>
<text x="404.5" y="424.4" class="c7" transform="rotate(-90 404.5 424.4)">100</text>
<text x="404.5" y="386.3" class="c7" transform="rotate(-90 404.5 386.3)">200</text>
<path d="M74.3 572.2L74.3 572.2l1 0l1 0l1 0l1 0l1 0l1 -0.1l1 0l1 0l1 -0.1l1 0l1 0.2l1 -0.3l1 -0.7l1 0.8l1 -0.8l1 -0.1l1 -0.1l1 -0.6l1 0.2l1 -0.9l1 -1.8l1 -1l1 -0.1l1 -1.2l1 0l1 -2.1l1 -1.4l1 -1.2l1 -2.1l1 -2l1 -5.4l1 -6.1l1 -5.7l1 -6.3l1 -6.9l1 -8.1l1 -8.8l1 -6.4l1 -6.1l1 -2.5l1 -1.8l1 18.4l1 26.1l1 20.6l1 10l0.3 1.5L119.8 572.2Z" fill="#3d7d7a" stroke="#13807e" stroke-width="0.7"/>
<path d="M119.8 572.2L119.8 569.6l0 0l0.5 0.9l1 -1.8l1 2.4l1 0.1l1 -0.1l1 0.5l1 0.5l1 0.1l1 0l1 0l1 0l1 0l1 0l1 0l1 0l1 0l1 0l1 0l1 0l1 0l1 0l1 0l1 0l1 0l1 0l1 0l1 0l1 0l1 0l1 0l1 0l1 0l1 0l1 0l1 0l1 0l1 0l1 0l1 0l1 0l1 0l1 0l1 0l1 0l1 0l1 0l1 0l1 0l1 0L168.3 572.2Z" fill="#8a2a2a" stroke="#c01818" stroke-width="0.7"/>
<line x1="74.7" y1="572.2" x2="74.7" y2="529.6" stroke="#13807e" stroke-width="1"/>
<rect x="73.7" y="477.5" width="95.6" height="94.7" fill="none" stroke="#8f8f8f" stroke-width="1.3"/>
<path d="M75.7 572.2v-1.6M78 572.2v-1.6M80.3 572.2v-1.6M82.6 572.2v-1.6M84.9 572.2v-1.6M87.2 572.2v-1.6M89.5 572.2v-1.6M91.8 572.2v-1.6M94.1 572.2v-1.6M96.4 572.2v-1.6M98.7 572.2v-1.6M101 572.2v-1.6M103.3 572.2v-1.6M105.6 572.2v-1.6M107.9 572.2v-1.6M110.2 572.2v-1.6M112.5 572.2v-1.6M114.8 572.2v-1.6M117.1 572.2v-1.6M119.4 572.2v-1.6M121.7 572.2v-1.6M124 572.2v-1.6M126.3 572.2v-1.6M128.6 572.2v-1.6M130.9 572.2v-1.6M133.2 572.2v-1.6M135.5 572.2v-1.6M137.8 572.2v-1.6M140.1 572.2v-1.6M142.4 572.2v-1.6M144.7 572.2v-1.6M147 572.2v-1.6M149.3 572.2v-1.6M151.6 572.2v-1.6M153.9 572.2v-1.6M156.2 572.2v-1.6M158.5 572.2v-1.6M160.8 572.2v-1.6M163.1 572.2v-1.6M165.4 572.2v-1.6M167.7 572.2v-1.6" fill="none" stroke="#444" stroke-width="0.8"/>
<path d="M73.7 568.2h2M73.7 560.5h2M73.7 552.8h2M73.7 545.1h2M73.7 537.4h2M73.7 529.7h2M73.7 522h2M73.7 514.3h2M73.7 506.6h2M73.7 498.9h2M73.7 491.2h2M73.7 483.5h2" fill="none" stroke="#555" stroke-width="0.8"/>
<line x1="119.8" y1="538" x2="168.5" y2="538" stroke="#e07070" stroke-width="1"/>
<line x1="119.8" y1="535.8" x2="119.8" y2="540.2" stroke="#e07070" stroke-width="1"/>
<line x1="168.5" y1="535.8" x2="168.5" y2="540.2" stroke="#e07070" stroke-width="1"/>
<text x="125.6" y="536.4" class="c6">0.80%</text>
<text x="73.7" y="580.7" class="c7">0</text>
<text x="96" y="580.7" class="c7">10¹</text>
<text x="105.7" y="580.7" class="c7">10²</text>
<text x="118.6" y="580.7" class="c7">10³</text>
<text x="130.1" y="580.7" class="c7">10⁴</text>
<text x="143.5" y="580.7" class="c7">10⁵</text>
<text x="155" y="580.7" class="c7">10⁶</text>
<text x="166.4" y="580.7" class="c7">10⁷</text>
<text x="70.2" y="571.2" class="c7" transform="rotate(-90 70.2 571.2)">0</text>
<text x="70.2" y="533.3" class="c7" transform="rotate(-90 70.2 533.3)">100</text>
<text x="70.2" y="495.4" class="c7" transform="rotate(-90 70.2 495.4)">200</text>
<path d="M184.9 573.3L184.9 573.3l1 0l1 0l1 0l1 0l1 0l1 -0.1l1 0l1 0l1 0l1 -0.1l1 -0.1l1 0.3l1 -0.7l1 -0.4l1 -0.1l1 0.8l1 -0.6l1 -1l1 -0.6l1 0.2l1 -1.1l1 -0.4l1 -0.9l1 -0.5l1 -0.8l1 -1.6l1 -0.2l1 -3.3l1 -2.4l1 -1.5l1 -3l1 -3.7l1 -3.7l1 -7.9l1 -6.4l1 -8.2l1 -9l1 -8.2l1 -5.4l1 -4.8l1 -4.4l1 2.2l1 21.5l1 25.9l1 18.3l1.1 9.4L231.2 573.3Z" fill="#3d7d7a" stroke="#13807e" stroke-width="0.7"/>
<path d="M231.2 573.3L231.2 570.4l0 0l0.7 0.5l1 -0.2l1 0.3l1 1.7l1 0.4l1 0l1 0.2l1 0l1 0l1 0l1 0l1 0l1 0l1 0l1 0l1 0l1 0l1 0l1 0l1 0l1 0l1 0l1 0l1 0l1 0l1 0l1 0l1 0l1 0l1 0l1 0l1 0l1 0l1 0l1 0l1 0l1 0l1 0l1 0l1 0l1 0l1 0l1 0l1 0l1 0l1 0l1 0l1 0L278.9 573.3Z" fill="#8a2a2a" stroke="#c01818" stroke-width="0.7"/>
<line x1="185.3" y1="573.3" x2="185.3" y2="530.2" stroke="#13807e" stroke-width="1"/>
<rect x="184.3" y="477.5" width="96.1" height="95.8" fill="none" stroke="#8f8f8f" stroke-width="1.3"/>
<path d="M186.3 573.3v-1.6M188.6 573.3v-1.6M190.9 573.3v-1.6M193.2 573.3v-1.6M195.5 573.3v-1.6M197.8 573.3v-1.6M200.1 573.3v-1.6M202.4 573.3v-1.6M204.7 573.3v-1.6M207 573.3v-1.6M209.3 573.3v-1.6M211.6 573.3v-1.6M213.9 573.3v-1.6M216.2 573.3v-1.6M218.5 573.3v-1.6M220.8 573.3v-1.6M223.1 573.3v-1.6M225.4 573.3v-1.6M227.7 573.3v-1.6M230 573.3v-1.6M232.3 573.3v-1.6M234.6 573.3v-1.6M236.9 573.3v-1.6M239.2 573.3v-1.6M241.5 573.3v-1.6M243.8 573.3v-1.6M246.1 573.3v-1.6M248.4 573.3v-1.6M250.7 573.3v-1.6M253 573.3v-1.6M255.3 573.3v-1.6M257.6 573.3v-1.6M259.9 573.3v-1.6M262.2 573.3v-1.6M264.5 573.3v-1.6M266.8 573.3v-1.6M269.1 573.3v-1.6M271.4 573.3v-1.6M273.7 573.3v-1.6M276 573.3v-1.6M278.3 573.3v-1.6" fill="none" stroke="#444" stroke-width="0.8"/>
<path d="M184.3 569.3h2M184.3 561.6h2M184.3 553.9h2M184.3 546.2h2M184.3 538.5h2M184.3 530.8h2M184.3 523.1h2M184.3 515.4h2M184.3 507.7h2M184.3 500h2M184.3 492.3h2M184.3 484.6h2" fill="none" stroke="#555" stroke-width="0.8"/>
<line x1="231.2" y1="538" x2="279.9" y2="538" stroke="#e07070" stroke-width="1"/>
<line x1="231.2" y1="535.8" x2="231.2" y2="540.2" stroke="#e07070" stroke-width="1"/>
<line x1="279.9" y1="535.8" x2="279.9" y2="540.2" stroke="#e07070" stroke-width="1"/>
<text x="238.3" y="537" class="c6">0.56%</text>
<text x="184.3" y="581.8" class="c7">0</text>
<text x="206.7" y="581.8" class="c7">10¹</text>
<text x="216.5" y="581.8" class="c7">10²</text>
<text x="229.5" y="581.8" class="c7">10³</text>
<text x="241" y="581.8" class="c7">10⁴</text>
<text x="254.5" y="581.8" class="c7">10⁵</text>
<text x="266" y="581.8" class="c7">10⁶</text>
<text x="277.5" y="581.8" class="c7">10⁷</text>
<text x="180.8" y="572.3" class="c7" transform="rotate(-90 180.8 572.3)">0</text>
<text x="180.8" y="534" class="c7" transform="rotate(-90 180.8 534)">100</text>
<text x="180.8" y="495.7" class="c7" transform="rotate(-90 180.8 495.7)">200</text>
<path d="M296.8 573.3L296.8 573.3l1 0l1 0l1 0l1 0l1 0l1 0l1 0l1 -0.1l1 0l1 0l1 -0.1l1 0l1 -0.4l1 0.6l1 0l1 -0.1l1 -0.7l1 -0.2l1 -0.1l1 -0.1l1 -1.8l1 0.4l1 -1.3l1 -0.6l1 -0.4l1 -2.2l1 -0.3l1 -0.6l1 -2.8l1 0.2l1 -1.5l1 -4.6l1 -2.6l1 -5l1 -7.2l1 -6.5l1 -5.8l1 -8l1 -7.3l1 -8l1 -6.7l1 -5.1l1 0.4l1 4.6l1 11.9l0.8 13.5L342.8 573.3Z" fill="#3d7d7a" stroke="#13807e" stroke-width="0.7"/>
<path d="M342.8 573.3L342.8 526.8l0 0l1 15.5l1 12.4l1 8.4l1 5.4l1 2.1l1 -1.2l1 2.3l1 0.9l1 -0.3l1 0.8l1 0.1l1 0l1 0.1l1 0l1 0l1 0l1 0l1 0l1 0l1 0l1 0l1 0l1 0l1 0l1 0l1 0l1 0l1 0l1 0l1 0l1 0l1 0l1 0l1 0l1 0l1 0l1 0l1 0l1 0l1 0l1 0l1 0l1 0l1 0l1 0l1 0l1 0l1 0L390.8 573.3Z" fill="#8a2a2a" stroke="#c01818" stroke-width="0.7"/>
<line x1="297.2" y1="573.3" x2="297.2" y2="530.1" stroke="#13807e" stroke-width="1"/>
<rect x="296.2" y="477.2" width="96.1" height="96.1" fill="none" stroke="#8f8f8f" stroke-width="1.3"/>
<path d="M298.2 573.3v-1.6M300.5 573.3v-1.6M302.8 573.3v-1.6M305.1 573.3v-1.6M307.4 573.3v-1.6M309.7 573.3v-1.6M312 573.3v-1.6M314.3 573.3v-1.6M316.6 573.3v-1.6M318.9 573.3v-1.6M321.2 573.3v-1.6M323.5 573.3v-1.6M325.8 573.3v-1.6M328.1 573.3v-1.6M330.4 573.3v-1.6M332.7 573.3v-1.6M335 573.3v-1.6M337.3 573.3v-1.6M339.6 573.3v-1.6M341.9 573.3v-1.6M344.2 573.3v-1.6M346.5 573.3v-1.6M348.8 573.3v-1.6M351.1 573.3v-1.6M353.4 573.3v-1.6M355.7 573.3v-1.6M358 573.3v-1.6M360.3 573.3v-1.6M362.6 573.3v-1.6M364.9 573.3v-1.6M367.2 573.3v-1.6M369.5 573.3v-1.6M371.8 573.3v-1.6M374.1 573.3v-1.6M376.4 573.3v-1.6M378.7 573.3v-1.6M381 573.3v-1.6M383.3 573.3v-1.6M385.6 573.3v-1.6M387.9 573.3v-1.6M390.2 573.3v-1.6" fill="none" stroke="#444" stroke-width="0.8"/>
<path d="M296.2 569.3h2M296.2 561.6h2M296.2 553.9h2M296.2 546.2h2M296.2 538.5h2M296.2 530.8h2M296.2 523.1h2M296.2 515.4h2M296.2 507.7h2M296.2 500h2M296.2 492.3h2M296.2 484.6h2" fill="none" stroke="#555" stroke-width="0.8"/>
<line x1="342.8" y1="538" x2="391" y2="538" stroke="#e07070" stroke-width="1"/>
<line x1="342.8" y1="535.8" x2="342.8" y2="540.2" stroke="#e07070" stroke-width="1"/>
<line x1="391" y1="535.8" x2="391" y2="540.2" stroke="#e07070" stroke-width="1"/>
<text x="349.4" y="537.5" class="c6">6.13%</text>
<text x="296.2" y="581.8" class="c7">0</text>
<text x="318.6" y="581.8" class="c7">10¹</text>
<text x="328.4" y="581.8" class="c7">10²</text>
<text x="341.4" y="581.8" class="c7">10³</text>
<text x="352.9" y="581.8" class="c7">10⁴</text>
<text x="366.4" y="581.8" class="c7">10⁵</text>
<text x="377.9" y="581.8" class="c7">10⁶</text>
<text x="389.4" y="581.8" class="c7">10⁷</text>
<text x="292.7" y="572.3" class="c7" transform="rotate(-90 292.7 572.3)">0</text>
<text x="292.7" y="533.9" class="c7" transform="rotate(-90 292.7 533.9)">100</text>
<text x="292.7" y="495.4" class="c7" transform="rotate(-90 292.7 495.4)">200</text>
<path d="M408.6 572.8L408.6 572.8l1 0l1 0l1 0l1 0l1 0l1 0l1 -0.1l1 0l1 0l1 -0.1l1 0l1 -0.1l1 0l1 -0.6l1 0.8l1 -1.1l1 0.5l1 -1.4l1 0.7l1 -0.6l1 0l1 -1.3l1 -1.5l1 1l1 -2.1l1 -0.7l1 -0.6l1 -3.5l1 0l1 -3.7l1 0.4l1 -4.3l1 -4.9l1 -4.2l1 -7.4l1 -7.7l1 -7.3l1 -9.5l1 -8.3l1 -4.9l1 -6.5l1 0.3l1 1.4l1 12.7l1 16.6l1 16.4l0.7 8.9L455.5 572.8Z" fill="#3d7d7a" stroke="#13807e" stroke-width="0.7"/>
<path d="M455.5 572.8L455.5 552.2l0 0l1.1 11.6l1 5.1l1 -1.1l1 0.8l1 -1l1 0.9l1 2.1l1 0.7l1 0.9l1 0.6l1 -0.1l1 0l1 0.1l1 0l1 0l1 0l1 0l1 0l1 0l1 0l1 0l1 0l1 0l1 0l1 0l1 0l1 0l1 0l1 0l1 0l1 0l1 0l1 0l1 0l1 0l1 0l1 0l1 0l1 0l1 0l1 0l1 0l1 0l1 0l1 0l1 0l1 0L502.6 572.8Z" fill="#8a2a2a" stroke="#c01818" stroke-width="0.7"/>
<line x1="409" y1="572.8" x2="409" y2="529.8" stroke="#13807e" stroke-width="1"/>
<rect x="408" y="477.2" width="96.2" height="95.6" fill="none" stroke="#8f8f8f" stroke-width="1.3"/>
<path d="M410 572.8v-1.6M412.3 572.8v-1.6M414.6 572.8v-1.6M416.9 572.8v-1.6M419.2 572.8v-1.6M421.5 572.8v-1.6M423.8 572.8v-1.6M426.1 572.8v-1.6M428.4 572.8v-1.6M430.7 572.8v-1.6M433 572.8v-1.6M435.3 572.8v-1.6M437.6 572.8v-1.6M439.9 572.8v-1.6M442.2 572.8v-1.6M444.5 572.8v-1.6M446.8 572.8v-1.6M449.1 572.8v-1.6M451.4 572.8v-1.6M453.7 572.8v-1.6M456 572.8v-1.6M458.3 572.8v-1.6M460.6 572.8v-1.6M462.9 572.8v-1.6M465.2 572.8v-1.6M467.5 572.8v-1.6M469.8 572.8v-1.6M472.1 572.8v-1.6M474.4 572.8v-1.6M476.7 572.8v-1.6M479 572.8v-1.6M481.3 572.8v-1.6M483.6 572.8v-1.6M485.9 572.8v-1.6M488.2 572.8v-1.6M490.5 572.8v-1.6M492.8 572.8v-1.6M495.1 572.8v-1.6M497.4 572.8v-1.6M499.7 572.8v-1.6M502 572.8v-1.6" fill="none" stroke="#444" stroke-width="0.8"/>
<path d="M408 568.8h2M408 561.1h2M408 553.4h2M408 545.7h2M408 538h2M408 530.3h2M408 522.6h2M408 514.9h2M408 507.2h2M408 499.5h2M408 491.8h2M408 484.1h2" fill="none" stroke="#555" stroke-width="0.8"/>
<line x1="455.5" y1="538" x2="503.4" y2="538" stroke="#e07070" stroke-width="1"/>
<line x1="455.5" y1="535.8" x2="455.5" y2="540.2" stroke="#e07070" stroke-width="1"/>
<line x1="503.4" y1="535.8" x2="503.4" y2="540.2" stroke="#e07070" stroke-width="1"/>
<text x="462.6" y="536.4" class="c6">3.51%</text>
<text x="408" y="581.3" class="c7">0</text>
<text x="430.4" y="581.3" class="c7">10¹</text>
<text x="440.2" y="581.3" class="c7">10²</text>
<text x="453.2" y="581.3" class="c7">10³</text>
<text x="464.8" y="581.3" class="c7">10⁴</text>
<text x="478.2" y="581.3" class="c7">10⁵</text>
<text x="489.8" y="581.3" class="c7">10⁶</text>
<text x="501.3" y="581.3" class="c7">10⁷</text>
<text x="404.5" y="571.8" class="c7" transform="rotate(-90 404.5 571.8)">0</text>
<text x="404.5" y="533.6" class="c7" transform="rotate(-90 404.5 533.6)">100</text>
<text x="404.5" y="495.3" class="c7" transform="rotate(-90 404.5 495.3)">200</text>
<text x="949.4" y="615" class="c0">O</text>
<path d="M978.3 597.8V856.2H1473.7" fill="none" stroke="#333" stroke-width="1.3"/>
<path d="M973.8 604.3L978.3 597.8L982.8 604.3" fill="none" stroke="#333" stroke-width="1.3"/>
<path d="M1467.2 851.7L1473.7 856.2L1467.2 860.7" fill="none" stroke="#333" stroke-width="1.3"/>
<text x="1067.1" y="608" class="c1">-</text>
<text x="1175.4" y="608" class="c1">+</text>
<text x="1281.2" y="608" class="c1">-</text>
<text x="1385.8" y="608" class="c1">+</text>
<text x="1066.2" y="627.8" class="c1">-</text>
<text x="1177.6" y="627.8" class="c1">-</text>
<text x="1283.1" y="627.8" class="c1">+</text>
<text x="1388.9" y="627.8" class="c1">+</text>
<text x="1429.1" y="606.3" class="c2">Dantrolene (25μM)</text>
<text x="1433.5" y="627" class="c2">CDDP (20μM)</text>
<text x="971" y="734.4" class="c3" transform="rotate(-90 971 734.4)">Count</text>
<text x="996" y="739.1" class="c1" transform="rotate(-90 996 739.1)">H1299</text>
<text x="1011.6" y="697.2" class="c4" transform="rotate(-90 1011.6 697.2)">Vector</text>
<text x="1011.6" y="798.3" class="c4" transform="rotate(-90 1011.6 798.3)">CRTAC1</text>
<line x1="994" y1="695.2" x2="994" y2="793.4" stroke="#222" stroke-width="1.2"/>
<text x="1199.9" y="869.4" class="c5">Calbryte 630</text>
<path d="M1021.6 733.5L1021.6 733.5l1 0l1 0l1 0l1 0l1 0l1 0l1 -0.1l1 0l1 0l1 0l1 -0.1l1 -0.1l1 0l1 -0.8l1 0.4l1 -0.3l1 -0.1l1 -0.1l1 -0.4l1 -0.2l1 -1.2l1 -0.4l1 -0.2l1 -0.8l1 -1.7l1 -1.6l1 -1.1l1 -0.3l1 -2l1 -1.3l1 -2.8l1 -4.7l1 -2.6l1 -5.6l1 -8.3l1 -7.7l1 -7.5l1 -8.2l1 -8l1 -7l1 -5.8l1 -3l1 2.4l1 15.2l1 23.9l1 20.9l0.9 10.3L1068.7 733.5Z" fill="#3d7d7a" stroke="#13807e" stroke-width="0.7"/>
<path d="M1068.7 733.5L1068.7 725.6l0 0l0.9 3.7l1 -0.1l1 0.7l1 -0.5l1 1.7l1 0.7l1 0.3l1 1.4l1 -0.2l1 0.1l1 0l1 0.1l1 0l1 0l1 0l1 0l1 0l1 0l1 0l1 0l1 0l1 0l1 0l1 0l1 0l1 0l1 0l1 0l1 0l1 0l1 0l1 0l1 0l1 0l1 0l1 0l1 0l1 0l1 0l1 0l1 0l1 0l1 0l1 0l1 0l1 0l1 0l1 0L1116.6 733.5Z" fill="#8a2a2a" stroke="#c01818" stroke-width="0.7"/>
<line x1="1022" y1="733.5" x2="1022" y2="689.7" stroke="#13807e" stroke-width="1"/>
<rect x="1021" y="636.1" width="97" height="97.4" fill="none" stroke="#8f8f8f" stroke-width="1.3"/>
<path d="M1023 733.5v-1.6M1025.3 733.5v-1.6M1027.6 733.5v-1.6M1029.9 733.5v-1.6M1032.2 733.5v-1.6M1034.5 733.5v-1.6M1036.8 733.5v-1.6M1039.1 733.5v-1.6M1041.4 733.5v-1.6M1043.7 733.5v-1.6M1046 733.5v-1.6M1048.3 733.5v-1.6M1050.6 733.5v-1.6M1052.9 733.5v-1.6M1055.2 733.5v-1.6M1057.5 733.5v-1.6M1059.8 733.5v-1.6M1062.1 733.5v-1.6M1064.4 733.5v-1.6M1066.7 733.5v-1.6M1069 733.5v-1.6M1071.3 733.5v-1.6M1073.6 733.5v-1.6M1075.9 733.5v-1.6M1078.2 733.5v-1.6M1080.5 733.5v-1.6M1082.8 733.5v-1.6M1085.1 733.5v-1.6M1087.4 733.5v-1.6M1089.7 733.5v-1.6M1092 733.5v-1.6M1094.3 733.5v-1.6M1096.6 733.5v-1.6M1098.9 733.5v-1.6M1101.2 733.5v-1.6M1103.5 733.5v-1.6M1105.8 733.5v-1.6M1108.1 733.5v-1.6M1110.4 733.5v-1.6M1112.7 733.5v-1.6M1115 733.5v-1.6" fill="none" stroke="#444" stroke-width="0.8"/>
<path d="M1021 729.5h2M1021 721.8h2M1021 714.1h2M1021 706.4h2M1021 698.7h2M1021 691h2M1021 683.3h2M1021 675.6h2M1021 667.9h2M1021 660.2h2M1021 652.5h2M1021 644.8h2" fill="none" stroke="#555" stroke-width="0.8"/>
<line x1="1068.7" y1="698.9" x2="1117.4" y2="698.9" stroke="#e07070" stroke-width="1"/>
<line x1="1068.7" y1="696.7" x2="1068.7" y2="701.1" stroke="#e07070" stroke-width="1"/>
<line x1="1117.4" y1="696.7" x2="1117.4" y2="701.1" stroke="#e07070" stroke-width="1"/>
<text x="1073.4" y="696.1" class="c6">2.67%</text>
<text x="1021" y="742" class="c7">0</text>
<text x="1043.6" y="742" class="c7">10¹</text>
<text x="1053.5" y="742" class="c7">10²</text>
<text x="1066.6" y="742" class="c7">10³</text>
<text x="1078.2" y="742" class="c7">10⁴</text>
<text x="1091.8" y="742" class="c7">10⁵</text>
<text x="1103.5" y="742" class="c7">10⁶</text>
<text x="1115.1" y="742" class="c7">10⁷</text>
<text x="1017.5" y="732.5" class="c7" transform="rotate(-90 1017.5 732.5)">0</text>
<text x="1017.5" y="700.4" class="c7" transform="rotate(-90 1017.5 700.4)">100</text>
<text x="1017.5" y="668.2" class="c7" transform="rotate(-90 1017.5 668.2)">200</text>
<text x="1017.5" y="636.1" class="c7" transform="rotate(-90 1017.5 636.1)">300</text>
<path d="M1128.3 733.8L1128.3 733.8l1 0l1 0l1 0l1 0l1 0l1 0l1 -0.1l1 0l1 0l1 -0.1l1 0l1 0.2l1 -0.4l1 0.1l1 0l1 -1.3l1 1l1 -0.9l1 0.1l1 -0.7l1 -0.4l1 -0.3l1 -1l1 -2l1 -0.1l1 -1.6l1 0.1l1 -2.2l1 -2.4l1 -1.8l1 -2.8l1 -3.3l1 -5.5l1 -5.4l1 -6.8l1 -7.3l1 -10l1 -8.2l1 -6.7l1 -7.1l1 -3.9l1 -0.1l1 11.3l1 20.4l1 19.5l1 17.8l0.3 0.4L1174.8 733.8Z" fill="#3d7d7a" stroke="#13807e" stroke-width="0.7"/>
<path d="M1174.8 733.8L1174.8 724.6l0 0l0.5 5.1l1 1.8l1 -0.9l1 -0.4l1 0.6l1 2.2l1 -0.3l1 0.7l1 0.4l1 -0.2l1 0.1l1 0.1l1 0l1 0l1 0l1 0l1 0l1 0l1 0l1 0l1 0l1 0l1 0l1 0l1 0l1 0l1 0l1 0l1 0l1 0l1 0l1 0l1 0l1 0l1 0l1 0l1 0l1 0l1 0l1 0l1 0l1 0l1 0l1 0l1 0l1 0l1 0l1 0l1 0L1223.3 733.8Z" fill="#8a2a2a" stroke="#c01818" stroke-width="0.7"/>
<line x1="1128.7" y1="733.8" x2="1128.7" y2="690.3" stroke="#13807e" stroke-width="1"/>
<rect x="1127.7" y="637.1" width="96.4" height="96.7" fill="none" stroke="#8f8f8f" stroke-width="1.3"/>
<path d="M1129.7 733.8v-1.6M1132 733.8v-1.6M1134.3 733.8v-1.6M1136.6 733.8v-1.6M1138.9 733.8v-1.6M1141.2 733.8v-1.6M1143.5 733.8v-1.6M1145.8 733.8v-1.6M1148.1 733.8v-1.6M1150.4 733.8v-1.6M1152.7 733.8v-1.6M1155 733.8v-1.6M1157.3 733.8v-1.6M1159.6 733.8v-1.6M1161.9 733.8v-1.6M1164.2 733.8v-1.6M1166.5 733.8v-1.6M1168.8 733.8v-1.6M1171.1 733.8v-1.6M1173.4 733.8v-1.6M1175.7 733.8v-1.6M1178 733.8v-1.6M1180.3 733.8v-1.6M1182.6 733.8v-1.6M1184.9 733.8v-1.6M1187.2 733.8v-1.6M1189.5 733.8v-1.6M1191.8 733.8v-1.6M1194.1 733.8v-1.6M1196.4 733.8v-1.6M1198.7 733.8v-1.6M1201 733.8v-1.6M1203.3 733.8v-1.6M1205.6 733.8v-1.6M1207.9 733.8v-1.6M1210.2 733.8v-1.6M1212.5 733.8v-1.6M1214.8 733.8v-1.6M1217.1 733.8v-1.6M1219.4 733.8v-1.6M1221.7 733.8v-1.6" fill="none" stroke="#444" stroke-width="0.8"/>
<path d="M1127.7 729.8h2M1127.7 722.1h2M1127.7 714.4h2M1127.7 706.7h2M1127.7 699h2M1127.7 691.3h2M1127.7 683.6h2M1127.7 675.9h2M1127.7 668.2h2M1127.7 660.5h2M1127.7 652.8h2M1127.7 645.1h2" fill="none" stroke="#555" stroke-width="0.8"/>
<line x1="1174.8" y1="698.9" x2="1224.1" y2="698.9" stroke="#e07070" stroke-width="1"/>
<line x1="1174.8" y1="696.7" x2="1174.8" y2="701.1" stroke="#e07070" stroke-width="1"/>
<line x1="1224.1" y1="696.7" x2="1224.1" y2="701.1" stroke="#e07070" stroke-width="1"/>
<text x="1176.1" y="696.7" class="c6">2.10%</text>
<text x="1127.7" y="742.3" class="c7">0</text>
<text x="1150.2" y="742.3" class="c7">10¹</text>
<text x="1160" y="742.3" class="c7">10²</text>
<text x="1173" y="742.3" class="c7">10³</text>
<text x="1184.6" y="742.3" class="c7">10⁴</text>
<text x="1198.1" y="742.3" class="c7">10⁵</text>
<text x="1209.6" y="742.3" class="c7">10⁶</text>
<text x="1221.2" y="742.3" class="c7">10⁷</text>
<text x="1124.2" y="732.8" class="c7" transform="rotate(-90 1124.2 732.8)">0</text>
<text x="1124.2" y="700.9" class="c7" transform="rotate(-90 1124.2 700.9)">100</text>
<text x="1124.2" y="669" class="c7" transform="rotate(-90 1124.2 669)">200</text>
<text x="1124.2" y="637.1" class="c7" transform="rotate(-90 1124.2 637.1)">300</text>
<path d="M1234.1 733.8L1234.1 733.8l1 0l1 0l1 0l1 0l1 0l1 0l1 -0.1l1 0l1 0l1 -0.1l1 0l1 -0.6l1 0.2l1 -0.2l1 0.8l1 -1.2l1 0.8l1 -1.1l1 -0.7l1 -0.7l1 0.1l1 -0.4l1 -1.8l1 0.5l1 -0.7l1 -1l1 -1.7l1 -1.2l1 -1.9l1 -3.4l1 -1.3l1 -5.1l1 -4.5l1 -5.7l1 -3.9l1 -7.7l1 -10.5l1 -8.1l1 -4.6l1 -5.9l1 -4.6l1 0.4l1 2.7l1 11.4l1 13l1 12.8l1 11.2l0.2 4.3L1281.5 733.8Z" fill="#3d7d7a" stroke="#13807e" stroke-width="0.7"/>
<path d="M1281.5 733.8L1281.5 714l0 0l0.6 6.7l1 5.3l1 2.5l1 -1.9l1 3.2l1 -2.8l1 -0.2l1 -1.2l1 -2.3l1 4.7l1 0.1l1 0.5l1 2.9l1 -0.7l1 0.5l1 1.3l1 0.1l1 1.1l1 0l1 -1l1 0.9l1 0l1 0.1l1 0l1 0l1 0l1 0l1 0l1 0l1 0l1 0l1 0l1 0l1 0l1 0l1 0l1 0l1 0l1 0l1 0l1 0l1 0l1 0l1 0l1 0l1 0l1 0l1 0l1 0L1330.1 733.8Z" fill="#8a2a2a" stroke="#c01818" stroke-width="0.7"/>
<line x1="1234.5" y1="733.8" x2="1234.5" y2="689.6" stroke="#13807e" stroke-width="1"/>
<rect x="1233.5" y="635.5" width="97.3" height="98.3" fill="none" stroke="#8f8f8f" stroke-width="1.3"/>
<path d="M1235.5 733.8v-1.6M1237.8 733.8v-1.6M1240.1 733.8v-1.6M1242.4 733.8v-1.6M1244.7 733.8v-1.6M1247 733.8v-1.6M1249.3 733.8v-1.6M1251.6 733.8v-1.6M1253.9 733.8v-1.6M1256.2 733.8v-1.6M1258.5 733.8v-1.6M1260.8 733.8v-1.6M1263.1 733.8v-1.6M1265.4 733.8v-1.6M1267.7 733.8v-1.6M1270 733.8v-1.6M1272.3 733.8v-1.6M1274.6 733.8v-1.6M1276.9 733.8v-1.6M1279.2 733.8v-1.6M1281.5 733.8v-1.6M1283.8 733.8v-1.6M1286.1 733.8v-1.6M1288.4 733.8v-1.6M1290.7 733.8v-1.6M1293 733.8v-1.6M1295.3 733.8v-1.6M1297.6 733.8v-1.6M1299.9 733.8v-1.6M1302.2 733.8v-1.6M1304.5 733.8v-1.6M1306.8 733.8v-1.6M1309.1 733.8v-1.6M1311.4 733.8v-1.6M1313.7 733.8v-1.6M1316 733.8v-1.6M1318.3 733.8v-1.6M1320.6 733.8v-1.6M1322.9 733.8v-1.6M1325.2 733.8v-1.6M1327.5 733.8v-1.6M1329.8 733.8v-1.6" fill="none" stroke="#444" stroke-width="0.8"/>
<path d="M1233.5 729.8h2M1233.5 722.1h2M1233.5 714.4h2M1233.5 706.7h2M1233.5 699h2M1233.5 691.3h2M1233.5 683.6h2M1233.5 675.9h2M1233.5 668.2h2M1233.5 660.5h2M1233.5 652.8h2M1233.5 645.1h2" fill="none" stroke="#555" stroke-width="0.8"/>
<line x1="1281.5" y1="698.9" x2="1330.2" y2="698.9" stroke="#e07070" stroke-width="1"/>
<line x1="1281.5" y1="696.7" x2="1281.5" y2="701.1" stroke="#e07070" stroke-width="1"/>
<line x1="1330.2" y1="696.7" x2="1330.2" y2="701.1" stroke="#e07070" stroke-width="1"/>
<text x="1286.9" y="694.2" class="c6">6.85%</text>
<text x="1233.5" y="742.3" class="c7">0</text>
<text x="1256.2" y="742.3" class="c7">10¹</text>
<text x="1266.1" y="742.3" class="c7">10²</text>
<text x="1279.2" y="742.3" class="c7">10³</text>
<text x="1290.9" y="742.3" class="c7">10⁴</text>
<text x="1304.5" y="742.3" class="c7">10⁵</text>
<text x="1316.2" y="742.3" class="c7">10⁶</text>
<text x="1327.9" y="742.3" class="c7">10⁷</text>
<text x="1230" y="732.8" class="c7" transform="rotate(-90 1230 732.8)">0</text>
<text x="1230" y="700.4" class="c7" transform="rotate(-90 1230 700.4)">100</text>
<text x="1230" y="667.9" class="c7" transform="rotate(-90 1230 667.9)">200</text>
<text x="1230" y="635.5" class="c7" transform="rotate(-90 1230 635.5)">300</text>
<path d="M1342.4 733.8L1342.4 733.8l1 0l1 0l1 0l1 0l1 0l1 0l1 -0.1l1 0l1 0l1 -0.1l1 0l1 -0.1l1 0.2l1 -0.4l1 -0.9l1 1l1 -1.1l1 0.7l1 -0.5l1 -1.5l1 0.2l1 -1.6l1 0.2l1 -1.3l1 -0.7l1 -1.6l1 -0.2l1 -1.9l1 -1.4l1 -3.1l1 -1.9l1 -2.4l1 -5l1 -6.1l1 -6l1 -7.9l1 -9.4l1 -9.6l1 -7.2l1 -7.5l1 -7.4l1 -2.2l1 2l1 14.8l1 18.4l1 20.3l0.9 15L1389.5 733.8Z" fill="#3d7d7a" stroke="#13807e" stroke-width="0.7"/>
<path d="M1389.5 733.8L1389.5 720.4l0 0l0.9 6.1l1 2.3l1 0.7l1 0.6l1 -2.8l1 2.4l1 -0.3l1 0.9l1 1.7l1 -0.9l1 1l1 0.2l1 0.5l1 0.8l1 -0.1l1 0.1l1 0.1l1 0l1 0.1l1 0l1 0l1 0l1 0l1 0l1 0l1 0l1 0l1 0l1 0l1 0l1 0l1 0l1 0l1 0l1 0l1 0l1 0l1 0l1 0l1 0l1 0l1 0l1 0l1 0l1 0l1 0l1 0l1 0l1 0L1438.4 733.8Z" fill="#8a2a2a" stroke="#c01818" stroke-width="0.7"/>
<line x1="1342.8" y1="733.8" x2="1342.8" y2="689.8" stroke="#13807e" stroke-width="1"/>
<rect x="1341.8" y="636.1" width="97.3" height="97.7" fill="none" stroke="#8f8f8f" stroke-width="1.3"/>
<path d="M1343.8 733.8v-1.6M1346.1 733.8v-1.6M1348.4 733.8v-1.6M1350.7 733.8v-1.6M1353 733.8v-1.6M1355.3 733.8v-1.6M1357.6 733.8v-1.6M1359.9 733.8v-1.6M1362.2 733.8v-1.6M1364.5 733.8v-1.6M1366.8 733.8v-1.6M1369.1 733.8v-1.6M1371.4 733.8v-1.6M1373.7 733.8v-1.6M1376 733.8v-1.6M1378.3 733.8v-1.6M1380.6 733.8v-1.6M1382.9 733.8v-1.6M1385.2 733.8v-1.6M1387.5 733.8v-1.6M1389.8 733.8v-1.6M1392.1 733.8v-1.6M1394.4 733.8v-1.6M1396.7 733.8v-1.6M1399 733.8v-1.6M1401.3 733.8v-1.6M1403.6 733.8v-1.6M1405.9 733.8v-1.6M1408.2 733.8v-1.6M1410.5 733.8v-1.6M1412.8 733.8v-1.6M1415.1 733.8v-1.6M1417.4 733.8v-1.6M1419.7 733.8v-1.6M1422 733.8v-1.6M1424.3 733.8v-1.6M1426.6 733.8v-1.6M1428.9 733.8v-1.6M1431.2 733.8v-1.6M1433.5 733.8v-1.6M1435.8 733.8v-1.6M1438.1 733.8v-1.6" fill="none" stroke="#444" stroke-width="0.8"/>
<path d="M1341.8 729.8h2M1341.8 722.1h2M1341.8 714.4h2M1341.8 706.7h2M1341.8 699h2M1341.8 691.3h2M1341.8 683.6h2M1341.8 675.9h2M1341.8 668.2h2M1341.8 660.5h2M1341.8 652.8h2M1341.8 645.1h2" fill="none" stroke="#555" stroke-width="0.8"/>
<line x1="1389.5" y1="698.9" x2="1438.5" y2="698.9" stroke="#e07070" stroke-width="1"/>
<line x1="1389.5" y1="696.7" x2="1389.5" y2="701.1" stroke="#e07070" stroke-width="1"/>
<line x1="1438.5" y1="696.7" x2="1438.5" y2="701.1" stroke="#e07070" stroke-width="1"/>
<text x="1396.8" y="696.1" class="c6">4.21%</text>
<text x="1341.8" y="742.3" class="c7">0</text>
<text x="1364.5" y="742.3" class="c7">10¹</text>
<text x="1374.4" y="742.3" class="c7">10²</text>
<text x="1387.5" y="742.3" class="c7">10³</text>
<text x="1399.2" y="742.3" class="c7">10⁴</text>
<text x="1412.8" y="742.3" class="c7">10⁵</text>
<text x="1424.5" y="742.3" class="c7">10⁶</text>
<text x="1436.2" y="742.3" class="c7">10⁷</text>
<text x="1338.3" y="732.8" class="c7" transform="rotate(-90 1338.3 732.8)">0</text>
<text x="1338.3" y="700.6" class="c7" transform="rotate(-90 1338.3 700.6)">100</text>
<text x="1338.3" y="668.3" class="c7" transform="rotate(-90 1338.3 668.3)">200</text>
<text x="1338.3" y="636.1" class="c7" transform="rotate(-90 1338.3 636.1)">300</text>
<path d="M1021.6 843.6L1021.6 843.6l1 0l1 0l1 0l1 0l1 0l1 -0.1l1 0l1 0l1 0l1 -0.1l1 -0.1l1 0.1l1 -0.9l1 0.7l1 -0.1l1 -0.5l1 -0.1l1 -0.3l1 -1.4l1 -0.2l1 -0.3l1 -0.6l1 -1.3l1 -0.3l1 -1.3l1 -0.9l1 0.1l1 -2.4l1 -3.1l1 -2.7l1 -2.2l1 -5.2l1 -3.2l1 -6.4l1 -7.6l1 -7.8l1 -9.3l1 -6.8l1 -8.3l1 -2.8l1 -3.5l1 0.8l1 15l1 21.1l1 18.1l1 13.7l0.9 6.9L1068.7 843.6Z" fill="#3d7d7a" stroke="#13807e" stroke-width="0.7"/>
<path d="M1068.7 843.6L1068.7 840.1l0 0l0.9 1l1 -2.7l1 3.3l1 -1l1 1.6l1 -0.8l1 0.8l1 1.1l1 -0.4l1 0.4l1 0.1l1 0.1l1 0l1 0l1 0l1 0l1 0l1 0l1 0l1 0l1 0l1 0l1 0l1 0l1 0l1 0l1 0l1 0l1 0l1 0l1 0l1 0l1 0l1 0l1 0l1 0l1 0l1 0l1 0l1 0l1 0l1 0l1 0l1 0l1 0l1 0l1 0l1 0L1116.6 843.6Z" fill="#8a2a2a" stroke="#c01818" stroke-width="0.7"/>
<line x1="1022" y1="843.6" x2="1022" y2="800.1" stroke="#13807e" stroke-width="1"/>
<rect x="1021" y="747" width="97" height="96.6" fill="none" stroke="#8f8f8f" stroke-width="1.3"/>
<path d="M1023 843.6v-1.6M1025.3 843.6v-1.6M1027.6 843.6v-1.6M1029.9 843.6v-1.6M1032.2 843.6v-1.6M1034.5 843.6v-1.6M1036.8 843.6v-1.6M1039.1 843.6v-1.6M1041.4 843.6v-1.6M1043.7 843.6v-1.6M1046 843.6v-1.6M1048.3 843.6v-1.6M1050.6 843.6v-1.6M1052.9 843.6v-1.6M1055.2 843.6v-1.6M1057.5 843.6v-1.6M1059.8 843.6v-1.6M1062.1 843.6v-1.6M1064.4 843.6v-1.6M1066.7 843.6v-1.6M1069 843.6v-1.6M1071.3 843.6v-1.6M1073.6 843.6v-1.6M1075.9 843.6v-1.6M1078.2 843.6v-1.6M1080.5 843.6v-1.6M1082.8 843.6v-1.6M1085.1 843.6v-1.6M1087.4 843.6v-1.6M1089.7 843.6v-1.6M1092 843.6v-1.6M1094.3 843.6v-1.6M1096.6 843.6v-1.6M1098.9 843.6v-1.6M1101.2 843.6v-1.6M1103.5 843.6v-1.6M1105.8 843.6v-1.6M1108.1 843.6v-1.6M1110.4 843.6v-1.6M1112.7 843.6v-1.6M1115 843.6v-1.6" fill="none" stroke="#444" stroke-width="0.8"/>
<path d="M1021 839.6h2M1021 831.9h2M1021 824.2h2M1021 816.5h2M1021 808.8h2M1021 801.1h2M1021 793.4h2M1021 785.7h2M1021 778h2M1021 770.3h2M1021 762.6h2M1021 754.9h2" fill="none" stroke="#555" stroke-width="0.8"/>
<line x1="1068.7" y1="809.7" x2="1118" y2="809.7" stroke="#e07070" stroke-width="1"/>
<line x1="1068.7" y1="807.5" x2="1068.7" y2="811.9" stroke="#e07070" stroke-width="1"/>
<line x1="1118" y1="807.5" x2="1118" y2="811.9" stroke="#e07070" stroke-width="1"/>
<text x="1075.6" y="807.2" class="c6">2.31%</text>
<text x="1021" y="852.1" class="c7">0</text>
<text x="1043.6" y="852.1" class="c7">10¹</text>
<text x="1053.5" y="852.1" class="c7">10²</text>
<text x="1066.6" y="852.1" class="c7">10³</text>
<text x="1078.2" y="852.1" class="c7">10⁴</text>
<text x="1091.8" y="852.1" class="c7">10⁵</text>
<text x="1103.5" y="852.1" class="c7">10⁶</text>
<text x="1115.1" y="852.1" class="c7">10⁷</text>
<text x="1017.5" y="842.6" class="c7" transform="rotate(-90 1017.5 842.6)">0</text>
<text x="1017.5" y="810.7" class="c7" transform="rotate(-90 1017.5 810.7)">100</text>
<text x="1017.5" y="778.8" class="c7" transform="rotate(-90 1017.5 778.8)">200</text>
<text x="1017.5" y="747" class="c7" transform="rotate(-90 1017.5 747)">300</text>
<path d="M1129 843.6L1129 843.6l1 0l1 0l1 0l1 0l1 0l1 0l1 -0.1l1 0l1 0l1 -0.1l1 0l1 -0.5l1 0.2l1 -0.7l1 0.1l1 0l1 -0.6l1 1l1 -1.5l1 0.2l1 -1.2l1 -0.1l1 -0.3l1 -1.3l1 -1.5l1 -0.6l1 -1.6l1 -1l1 -1.1l1 -3.7l1 -0.9l1 -5.6l1 -3.7l1 -3.9l1 -6.8l1 -8.2l1 -7.1l1 -7.8l1 -6.9l1 -5.3l1 -4.4l1 0.7l1 11.5l1 19l1 21.5l1 11l0.8 6L1176 843.6Z" fill="#3d7d7a" stroke="#13807e" stroke-width="0.7"/>
<path d="M1176 843.6L1176 840.1l0 0l1 -0.3l1 -1.4l1 0.7l1 0.7l1 1.7l1 0l1 0.8l1 0l1 0.2l1 0.8l1 0.2l1 0.1l1 0l1 0l1 0l1 0l1 0l1 0l1 0l1 0l1 0l1 0l1 0l1 0l1 0l1 0l1 0l1 0l1 0l1 0l1 0l1 0l1 0l1 0l1 0l1 0l1 0l1 0l1 0l1 0l1 0l1 0l1 0l1 0l1 0l1 0l1 0l1 0L1224 843.6Z" fill="#8a2a2a" stroke="#c01818" stroke-width="0.7"/>
<line x1="1129.4" y1="843.6" x2="1129.4" y2="800.1" stroke="#13807e" stroke-width="1"/>
<rect x="1128.4" y="747" width="96.3" height="96.6" fill="none" stroke="#8f8f8f" stroke-width="1.3"/>
<path d="M1130.4 843.6v-1.6M1132.7 843.6v-1.6M1135 843.6v-1.6M1137.3 843.6v-1.6M1139.6 843.6v-1.6M1141.9 843.6v-1.6M1144.2 843.6v-1.6M1146.5 843.6v-1.6M1148.8 843.6v-1.6M1151.1 843.6v-1.6M1153.4 843.6v-1.6M1155.7 843.6v-1.6M1158 843.6v-1.6M1160.3 843.6v-1.6M1162.6 843.6v-1.6M1164.9 843.6v-1.6M1167.2 843.6v-1.6M1169.5 843.6v-1.6M1171.8 843.6v-1.6M1174.1 843.6v-1.6M1176.4 843.6v-1.6M1178.7 843.6v-1.6M1181 843.6v-1.6M1183.3 843.6v-1.6M1185.6 843.6v-1.6M1187.9 843.6v-1.6M1190.2 843.6v-1.6M1192.5 843.6v-1.6M1194.8 843.6v-1.6M1197.1 843.6v-1.6M1199.4 843.6v-1.6M1201.7 843.6v-1.6M1204 843.6v-1.6M1206.3 843.6v-1.6M1208.6 843.6v-1.6M1210.9 843.6v-1.6M1213.2 843.6v-1.6M1215.5 843.6v-1.6M1217.8 843.6v-1.6M1220.1 843.6v-1.6M1222.4 843.6v-1.6" fill="none" stroke="#444" stroke-width="0.8"/>
<path d="M1128.4 839.6h2M1128.4 831.9h2M1128.4 824.2h2M1128.4 816.5h2M1128.4 808.8h2M1128.4 801.1h2M1128.4 793.4h2M1128.4 785.7h2M1128.4 778h2M1128.4 770.3h2M1128.4 762.6h2M1128.4 754.9h2" fill="none" stroke="#555" stroke-width="0.8"/>
<line x1="1176" y1="809.7" x2="1224.7" y2="809.7" stroke="#e07070" stroke-width="1"/>
<line x1="1176" y1="807.5" x2="1176" y2="811.9" stroke="#e07070" stroke-width="1"/>
<line x1="1224.7" y1="807.5" x2="1224.7" y2="811.9" stroke="#e07070" stroke-width="1"/>
<text x="1178" y="806.6" class="c6">2.21%</text>
<text x="1128.4" y="852.1" class="c7">0</text>
<text x="1150.8" y="852.1" class="c7">10¹</text>
<text x="1160.7" y="852.1" class="c7">10²</text>
<text x="1173.7" y="852.1" class="c7">10³</text>
<text x="1185.2" y="852.1" class="c7">10⁴</text>
<text x="1198.7" y="852.1" class="c7">10⁵</text>
<text x="1210.3" y="852.1" class="c7">10⁶</text>
<text x="1221.8" y="852.1" class="c7">10⁷</text>
<text x="1124.9" y="842.6" class="c7" transform="rotate(-90 1124.9 842.6)">0</text>
<text x="1124.9" y="810.7" class="c7" transform="rotate(-90 1124.9 810.7)">100</text>
<text x="1124.9" y="778.8" class="c7" transform="rotate(-90 1124.9 778.8)">200</text>
<text x="1124.9" y="747" class="c7" transform="rotate(-90 1124.9 747)">300</text>
<path d="M1235.1 844.3L1235.1 844.3l1 0l1 0l1 0l1 0l1 0l1 0l1 0l1 -0.1l1 0l1 0l1 0l1 -0.1l1 0l1 0.2l1 0l1 -0.5l1 -0.7l1 0.9l1 -0.1l1 -1.3l1 0.5l1 -1.2l1 -0.2l1 -0.7l1 -1l1 -0.2l1 -0.5l1 -1.6l1 -0.4l1 -1.8l1 -2l1 -2.7l1 -2.4l1 -2.2l1 -3.2l1 -5.6l1 -6.2l1 -4.4l1 -6.6l1 -5.5l1 -2.8l1 -2.2l1 1.9l1 5l1 11.6l1 8.3l0.9 10.8L1282.2 844.3Z" fill="#3d7d7a" stroke="#13807e" stroke-width="0.7"/>
<path d="M1282.2 844.3L1282.2 827.9l0 0l0.9 7l1 3.8l1 0.6l1 -6.9l1 -2.4l1 -4.6l1 8.3l1 -7.5l1 4.9l1 -3l1 0.2l1 -4.1l1 1.7l1 9.9l1 0.5l1 1.9l1 1.2l1 0.8l1 1.6l1 0.2l1 1.3l1 0.3l1 0.7l1 -0.3l1 0.2l1 0l1 0.1l1 0l1 0l1 0l1 0l1 0l1 0l1 0l1 0l1 0l1 0l1 0l1 0l1 0l1 0l1 0l1 0l1 0l1 0l1 0l1 0l1 0L1330.1 844.3Z" fill="#8a2a2a" stroke="#c01818" stroke-width="0.7"/>
<line x1="1235.5" y1="844.3" x2="1235.5" y2="800.5" stroke="#13807e" stroke-width="1"/>
<rect x="1234.5" y="747" width="97" height="97.3" fill="none" stroke="#8f8f8f" stroke-width="1.3"/>
<path d="M1236.5 844.3v-1.6M1238.8 844.3v-1.6M1241.1 844.3v-1.6M1243.4 844.3v-1.6M1245.7 844.3v-1.6M1248 844.3v-1.6M1250.3 844.3v-1.6M1252.6 844.3v-1.6M1254.9 844.3v-1.6M1257.2 844.3v-1.6M1259.5 844.3v-1.6M1261.8 844.3v-1.6M1264.1 844.3v-1.6M1266.4 844.3v-1.6M1268.7 844.3v-1.6M1271 844.3v-1.6M1273.3 844.3v-1.6M1275.6 844.3v-1.6M1277.9 844.3v-1.6M1280.2 844.3v-1.6M1282.5 844.3v-1.6M1284.8 844.3v-1.6M1287.1 844.3v-1.6M1289.4 844.3v-1.6M1291.7 844.3v-1.6M1294 844.3v-1.6M1296.3 844.3v-1.6M1298.6 844.3v-1.6M1300.9 844.3v-1.6M1303.2 844.3v-1.6M1305.5 844.3v-1.6M1307.8 844.3v-1.6M1310.1 844.3v-1.6M1312.4 844.3v-1.6M1314.7 844.3v-1.6M1317 844.3v-1.6M1319.3 844.3v-1.6M1321.6 844.3v-1.6M1323.9 844.3v-1.6M1326.2 844.3v-1.6M1328.5 844.3v-1.6" fill="none" stroke="#444" stroke-width="0.8"/>
<path d="M1234.5 840.3h2M1234.5 832.6h2M1234.5 824.9h2M1234.5 817.2h2M1234.5 809.5h2M1234.5 801.8h2M1234.5 794.1h2M1234.5 786.4h2M1234.5 778.7h2M1234.5 771h2M1234.5 763.3h2M1234.5 755.6h2" fill="none" stroke="#555" stroke-width="0.8"/>
<line x1="1282.2" y1="809.7" x2="1330.8" y2="809.7" stroke="#e07070" stroke-width="1"/>
<line x1="1282.2" y1="807.5" x2="1282.2" y2="811.9" stroke="#e07070" stroke-width="1"/>
<line x1="1330.8" y1="807.5" x2="1330.8" y2="811.9" stroke="#e07070" stroke-width="1"/>
<text x="1286.9" y="807.2" class="c6">16.22</text>
<text x="1286.9" y="823.9" class="c6">%</text>
<text x="1234.5" y="852.8" class="c7">0</text>
<text x="1257.1" y="852.8" class="c7">10¹</text>
<text x="1267" y="852.8" class="c7">10²</text>
<text x="1280.1" y="852.8" class="c7">10³</text>
<text x="1291.7" y="852.8" class="c7">10⁴</text>
<text x="1305.3" y="852.8" class="c7">10⁵</text>
<text x="1317" y="852.8" class="c7">10⁶</text>
<text x="1328.6" y="852.8" class="c7">10⁷</text>
<text x="1231" y="843.3" class="c7" transform="rotate(-90 1231 843.3)">0</text>
<text x="1231" y="811.2" class="c7" transform="rotate(-90 1231 811.2)">100</text>
<text x="1231" y="779.1" class="c7" transform="rotate(-90 1231 779.1)">200</text>
<text x="1231" y="747" class="c7" transform="rotate(-90 1231 747)">300</text>
<path d="M1342.4 844.3L1342.4 844.3l1 0l1 0l1 0l1 0l1 0l1 0l1 0l1 -0.1l1 0l1 0l1 -0.1l1 0l1 -0.5l1 -0.1l1 0.2l1 0l1 -0.9l1 0.8l1 -0.3l1 -1.4l1 0l1 -0.2l1 -1.1l1 0.3l1 -1.2l1 -0.8l1 -0.2l1 -1.7l1 -2.9l1 -0.8l1 -3.2l1 -2.5l1 -3l1 -3.5l1 -5.9l1 -5.4l1 -8l1 -6.6l1 -8.5l1 -9.1l1 -5.8l1 -1.9l1 -0.1l1 6.1l1 10.5l1 16.1l1 13l0.9 9.6L1390.5 844.3Z" fill="#3d7d7a" stroke="#13807e" stroke-width="0.7"/>
<path d="M1390.5 844.3L1390.5 828.5l0 0l0.9 5.8l1 4.3l1 -0.9l1 0.2l1 1.9l1 -1.7l1 -0.1l1 2l1 0.4l1 1.2l1 1.2l1 -0.4l1 0.3l1 0.6l1 0.7l1 0.2l1 -0.1l1 0.1l1 0l1 0.1l1 0l1 0l1 0l1 0l1 0l1 0l1 0l1 0l1 0l1 0l1 0l1 0l1 0l1 0l1 0l1 0l1 0l1 0l1 0l1 0l1 0l1 0l1 0l1 0l1 0l1 0l1 0l1 0L1438.4 844.3Z" fill="#8a2a2a" stroke="#c01818" stroke-width="0.7"/>
<line x1="1342.8" y1="844.3" x2="1342.8" y2="800.8" stroke="#13807e" stroke-width="1"/>
<rect x="1341.8" y="747.6" width="97.3" height="96.7" fill="none" stroke="#8f8f8f" stroke-width="1.3"/>
<path d="M1343.8 844.3v-1.6M1346.1 844.3v-1.6M1348.4 844.3v-1.6M1350.7 844.3v-1.6M1353 844.3v-1.6M1355.3 844.3v-1.6M1357.6 844.3v-1.6M1359.9 844.3v-1.6M1362.2 844.3v-1.6M1364.5 844.3v-1.6M1366.8 844.3v-1.6M1369.1 844.3v-1.6M1371.4 844.3v-1.6M1373.7 844.3v-1.6M1376 844.3v-1.6M1378.3 844.3v-1.6M1380.6 844.3v-1.6M1382.9 844.3v-1.6M1385.2 844.3v-1.6M1387.5 844.3v-1.6M1389.8 844.3v-1.6M1392.1 844.3v-1.6M1394.4 844.3v-1.6M1396.7 844.3v-1.6M1399 844.3v-1.6M1401.3 844.3v-1.6M1403.6 844.3v-1.6M1405.9 844.3v-1.6M1408.2 844.3v-1.6M1410.5 844.3v-1.6M1412.8 844.3v-1.6M1415.1 844.3v-1.6M1417.4 844.3v-1.6M1419.7 844.3v-1.6M1422 844.3v-1.6M1424.3 844.3v-1.6M1426.6 844.3v-1.6M1428.9 844.3v-1.6M1431.2 844.3v-1.6M1433.5 844.3v-1.6M1435.8 844.3v-1.6M1438.1 844.3v-1.6" fill="none" stroke="#444" stroke-width="0.8"/>
<path d="M1341.8 840.3h2M1341.8 832.6h2M1341.8 824.9h2M1341.8 817.2h2M1341.8 809.5h2M1341.8 801.8h2M1341.8 794.1h2M1341.8 786.4h2M1341.8 778.7h2M1341.8 771h2M1341.8 763.3h2M1341.8 755.6h2" fill="none" stroke="#555" stroke-width="0.8"/>
<line x1="1390.5" y1="809.7" x2="1439.1" y2="809.7" stroke="#e07070" stroke-width="1"/>
<line x1="1390.5" y1="807.5" x2="1390.5" y2="811.9" stroke="#e07070" stroke-width="1"/>
<line x1="1439.1" y1="807.5" x2="1439.1" y2="811.9" stroke="#e07070" stroke-width="1"/>
<text x="1397.4" y="807.2" class="c6">5.74%</text>
<text x="1341.8" y="852.8" class="c7">0</text>
<text x="1364.5" y="852.8" class="c7">10¹</text>
<text x="1374.4" y="852.8" class="c7">10²</text>
<text x="1387.5" y="852.8" class="c7">10³</text>
<text x="1399.2" y="852.8" class="c7">10⁴</text>
<text x="1412.8" y="852.8" class="c7">10⁵</text>
<text x="1424.5" y="852.8" class="c7">10⁶</text>
<text x="1436.2" y="852.8" class="c7">10⁷</text>
<text x="1338.3" y="843.3" class="c7" transform="rotate(-90 1338.3 843.3)">0</text>
<text x="1338.3" y="811.4" class="c7" transform="rotate(-90 1338.3 811.4)">100</text>
<text x="1338.3" y="779.5" class="c7" transform="rotate(-90 1338.3 779.5)">200</text>
<text x="1338.3" y="747.6" class="c7" transform="rotate(-90 1338.3 747.6)">300</text>
<text x="953.2" y="907.7" class="c0">Q</text>
<path d="M978.3 884.1V1140.6H1473.7" fill="none" stroke="#333" stroke-width="1.3"/>
<path d="M973.8 890.6L978.3 884.1L982.8 890.6" fill="none" stroke="#333" stroke-width="1.3"/>
<path d="M1467.2 1136.1L1473.7 1140.6L1467.2 1145.1" fill="none" stroke="#333" stroke-width="1.3"/>
<text x="1067.1" y="893.6" class="c1">-</text>
<text x="1176.1" y="893.6" class="c1">+</text>
<text x="1285.3" y="893.6" class="c1">-</text>
<text x="1397.4" y="893.6" class="c1">+</text>
<text x="1066.2" y="914" class="c1">-</text>
<text x="1177.6" y="914" class="c1">-</text>
<text x="1285.9" y="914" class="c1">+</text>
<text x="1396.8" y="914" class="c1">+</text>
<text x="1429.1" y="893.5" class="c2">Dantrolene (25μM)</text>
<text x="1441.6" y="913.3" class="c2">CDDP (20μM)</text>
<text x="971.4" y="1021.5" class="c3" transform="rotate(-90 971.4 1021.5)">Count</text>
<text x="996" y="1019.1" class="c1" transform="rotate(-90 996 1019.1)">HCC827</text>
<text x="1012" y="982.2" class="c4" transform="rotate(-90 1012 982.2)">Vector</text>
<text x="1012" y="1085" class="c4" transform="rotate(-90 1012 1085)">CRTAC1</text>
<line x1="994.3" y1="981.4" x2="994.3" y2="1078.8" stroke="#222" stroke-width="1.2"/>
<text x="1199.9" y="1156.3" class="c5">Calbryte 630</text>
<path d="M1020.6 1019.1L1020.6 1019.1l1 0l1 0l1 0l1 0l1 -0.1l1 0l1 0l1 -0.1l1 0l1 -0.1l1 -0.4l1 0.6l1 -0.9l1 0l1 -0.3l1 -0.8l1 0.3l1 -0.2l1 -0.6l1 -0.7l1 0.2l1 -1.2l1 -1l1 -0.5l1 -2.3l1 -0.6l1 -1.9l1 -1.1l1 -1.1l1 -5.6l1 -4.8l1 -3.5l1 -5.6l1 -7.2l1 -5.2l1 -9.8l1 -4l1 -4.8l1 -1l1 0.8l1 12.4l1 19.7l1 15.6l1 10l1 3.8l1 1.5l0.3 0.3L1067.1 1019.1Z" fill="#3d7d7a" stroke="#13807e" stroke-width="0.7"/>
<path d="M1067.1 1019.1L1067.1 1018.2l0 0l0.5 -0.9l1 -1.9l1 0.8l1 1l1 -0.2l1 0.4l1 -0.1l1 0.6l1 1.1l1 -0.1l1 0.1l1 0.1l1 0l1 0l1 0l1 0l1 0l1 0l1 0l1 0l1 0l1 0l1 0l1 0l1 0l1 0l1 0l1 0l1 0l1 0l1 0l1 0l1 0l1 0l1 0l1 0l1 0l1 0l1 0l1 0l1 0l1 0l1 0l1 0l1 0l1 0l1 0l1 0L1114.6 1019.1Z" fill="#8a2a2a" stroke="#c01818" stroke-width="0.7"/>
<line x1="1021" y1="1019.1" x2="1021" y2="975.7" stroke="#13807e" stroke-width="1"/>
<rect x="1020" y="922.7" width="95.8" height="96.4" fill="none" stroke="#8f8f8f" stroke-width="1.3"/>
<path d="M1022 1019.1v-1.6M1024.3 1019.1v-1.6M1026.6 1019.1v-1.6M1028.9 1019.1v-1.6M1031.2 1019.1v-1.6M1033.5 1019.1v-1.6M1035.8 1019.1v-1.6M1038.1 1019.1v-1.6M1040.4 1019.1v-1.6M1042.7 1019.1v-1.6M1045 1019.1v-1.6M1047.3 1019.1v-1.6M1049.6 1019.1v-1.6M1051.9 1019.1v-1.6M1054.2 1019.1v-1.6M1056.5 1019.1v-1.6M1058.8 1019.1v-1.6M1061.1 1019.1v-1.6M1063.4 1019.1v-1.6M1065.7 1019.1v-1.6M1068 1019.1v-1.6M1070.3 1019.1v-1.6M1072.6 1019.1v-1.6M1074.9 1019.1v-1.6M1077.2 1019.1v-1.6M1079.5 1019.1v-1.6M1081.8 1019.1v-1.6M1084.1 1019.1v-1.6M1086.4 1019.1v-1.6M1088.7 1019.1v-1.6M1091 1019.1v-1.6M1093.3 1019.1v-1.6M1095.6 1019.1v-1.6M1097.9 1019.1v-1.6M1100.2 1019.1v-1.6M1102.5 1019.1v-1.6M1104.8 1019.1v-1.6M1107.1 1019.1v-1.6M1109.4 1019.1v-1.6M1111.7 1019.1v-1.6M1114 1019.1v-1.6" fill="none" stroke="#444" stroke-width="0.8"/>
<path d="M1020 1015.1h2M1020 1007.4h2M1020 999.7h2M1020 992h2M1020 984.3h2M1020 976.6h2M1020 968.9h2M1020 961.2h2M1020 953.5h2M1020 945.8h2M1020 938.1h2M1020 930.4h2" fill="none" stroke="#555" stroke-width="0.8"/>
<line x1="1067.1" y1="985.2" x2="1114.9" y2="985.2" stroke="#e07070" stroke-width="1"/>
<line x1="1067.1" y1="983" x2="1067.1" y2="987.4" stroke="#e07070" stroke-width="1"/>
<line x1="1114.9" y1="983" x2="1114.9" y2="987.4" stroke="#e07070" stroke-width="1"/>
<text x="1071.2" y="982.1" class="c6">0.89%</text>
<text x="1020" y="1027.6" class="c7">0</text>
<text x="1042.3" y="1027.6" class="c7">10¹</text>
<text x="1052.1" y="1027.6" class="c7">10²</text>
<text x="1065" y="1027.6" class="c7">10³</text>
<text x="1076.5" y="1027.6" class="c7">10⁴</text>
<text x="1089.9" y="1027.6" class="c7">10⁵</text>
<text x="1101.4" y="1027.6" class="c7">10⁶</text>
<text x="1112.9" y="1027.6" class="c7">10⁷</text>
<text x="1016.5" y="1018.1" class="c7" transform="rotate(-90 1016.5 1018.1)">0</text>
<text x="1016.5" y="986.3" class="c7" transform="rotate(-90 1016.5 986.3)">100</text>
<text x="1016.5" y="954.5" class="c7" transform="rotate(-90 1016.5 954.5)">200</text>
<text x="1016.5" y="922.7" class="c7" transform="rotate(-90 1016.5 922.7)">300</text>
<path d="M1127.4 1019.1L1127.4 1019.1l1 0l1 0l1 0l1 0l1 0l1 0l1 -0.1l1 0l1 0l1 -0.1l1 0l1 0.2l1 -0.5l1 -0.2l1 0l1 0l1 -0.4l1 -0.9l1 0.6l1 -1.3l1 0.8l1 -1.4l1 -1.4l1 -0.1l1 -0.4l1 -1.6l1 -1.5l1 -1.3l1 -0.1l1 -4.4l1 -0.8l1 -3.9l1 -4.5l1 -5.1l1 -7.2l1 -5.7l1 -5.6l1 -5.3l1 -5l1 -4l1 0.1l1 10l1 16.7l1 18.6l1 9.3l1 3.9l0.3 0.9L1173.9 1019.1Z" fill="#3d7d7a" stroke="#13807e" stroke-width="0.7"/>
<path d="M1173.9 1019.1L1173.9 1016.2l0 0l0.5 -0.3l1 -0.9l1 2.9l1 -0.4l1 -0.2l1 1l1 -0.3l1 1.1l1 -0.5l1 0.4l1 0.1l1 0l1 0l1 0l1 0l1 0l1 0l1 0l1 0l1 0l1 0l1 0l1 0l1 0l1 0l1 0l1 0l1 0l1 0l1 0l1 0l1 0l1 0l1 0l1 0l1 0l1 0l1 0l1 0l1 0l1 0l1 0l1 0l1 0l1 0l1 0l1 0l1 0l1 0L1222.4 1019.1Z" fill="#8a2a2a" stroke="#c01818" stroke-width="0.7"/>
<line x1="1127.8" y1="1019.1" x2="1127.8" y2="975.7" stroke="#13807e" stroke-width="1"/>
<rect x="1126.8" y="922.7" width="96.4" height="96.4" fill="none" stroke="#8f8f8f" stroke-width="1.3"/>
<path d="M1128.8 1019.1v-1.6M1131.1 1019.1v-1.6M1133.4 1019.1v-1.6M1135.7 1019.1v-1.6M1138 1019.1v-1.6M1140.3 1019.1v-1.6M1142.6 1019.1v-1.6M1144.9 1019.1v-1.6M1147.2 1019.1v-1.6M1149.5 1019.1v-1.6M1151.8 1019.1v-1.6M1154.1 1019.1v-1.6M1156.4 1019.1v-1.6M1158.7 1019.1v-1.6M1161 1019.1v-1.6M1163.3 1019.1v-1.6M1165.6 1019.1v-1.6M1167.9 1019.1v-1.6M1170.2 1019.1v-1.6M1172.5 1019.1v-1.6M1174.8 1019.1v-1.6M1177.1 1019.1v-1.6M1179.4 1019.1v-1.6M1181.7 1019.1v-1.6M1184 1019.1v-1.6M1186.3 1019.1v-1.6M1188.6 1019.1v-1.6M1190.9 1019.1v-1.6M1193.2 1019.1v-1.6M1195.5 1019.1v-1.6M1197.8 1019.1v-1.6M1200.1 1019.1v-1.6M1202.4 1019.1v-1.6M1204.7 1019.1v-1.6M1207 1019.1v-1.6M1209.3 1019.1v-1.6M1211.6 1019.1v-1.6M1213.9 1019.1v-1.6M1216.2 1019.1v-1.6M1218.5 1019.1v-1.6M1220.8 1019.1v-1.6" fill="none" stroke="#444" stroke-width="0.8"/>
<path d="M1126.8 1015.1h2M1126.8 1007.4h2M1126.8 999.7h2M1126.8 992h2M1126.8 984.3h2M1126.8 976.6h2M1126.8 968.9h2M1126.8 961.2h2M1126.8 953.5h2M1126.8 945.8h2M1126.8 938.1h2M1126.8 930.4h2" fill="none" stroke="#555" stroke-width="0.8"/>
<line x1="1173.9" y1="985.2" x2="1222.5" y2="985.2" stroke="#e07070" stroke-width="1"/>
<line x1="1173.9" y1="983" x2="1173.9" y2="987.4" stroke="#e07070" stroke-width="1"/>
<line x1="1222.5" y1="983" x2="1222.5" y2="987.4" stroke="#e07070" stroke-width="1"/>
<text x="1176.1" y="982.4" class="c6">0.70%</text>
<text x="1126.8" y="1027.6" class="c7">0</text>
<text x="1149.3" y="1027.6" class="c7">10¹</text>
<text x="1159.1" y="1027.6" class="c7">10²</text>
<text x="1172.1" y="1027.6" class="c7">10³</text>
<text x="1183.7" y="1027.6" class="c7">10⁴</text>
<text x="1197.2" y="1027.6" class="c7">10⁵</text>
<text x="1208.7" y="1027.6" class="c7">10⁶</text>
<text x="1220.3" y="1027.6" class="c7">10⁷</text>
<text x="1123.3" y="1018.1" class="c7" transform="rotate(-90 1123.3 1018.1)">0</text>
<text x="1123.3" y="986.3" class="c7" transform="rotate(-90 1123.3 986.3)">100</text>
<text x="1123.3" y="954.5" class="c7" transform="rotate(-90 1123.3 954.5)">200</text>
<text x="1123.3" y="922.7" class="c7" transform="rotate(-90 1123.3 922.7)">300</text>
<path d="M1238.8 1019.1L1238.8 1019.1l1 0l1 0l1 0l1 0l1 0l1 0l1 -0.1l1 0l1 0l1 -0.1l1 0l1 -0.1l1 -0.5l1 0.1l1 0.6l1 -1.1l1 0.3l1 -0.6l1 -0.1l1 -0.2l1 -0.8l1 -0.5l1 -0.1l1 -1.1l1 -1.9l1 0.7l1 -2.1l1 -1.1l1 -1.2l1 -3.8l1 -1.2l1 -4.5l1 -2.3l1 -7.6l1 -6.2l1 -5.9l1 -8.3l1 -7.1l1 -5l1 -6.5l1 -4.9l1 1.1l1 4.3l1 10l1 14.6l1 13.7l0.3 2.9L1285.3 1019.1Z" fill="#3d7d7a" stroke="#13807e" stroke-width="0.7"/>
<path d="M1285.3 1019.1L1285.3 996.4l0 0l0.5 6.7l1 7.4l1 3.5l1 0l1 1l1 1.6l1 0.4l1 0.8l1 0.4l1 0.9l1 -0.1l1 0.1l1 0l1 0l1 0l1 0l1 0l1 0l1 0l1 0l1 0l1 0l1 0l1 0l1 0l1 0l1 0l1 0l1 0l1 0l1 0l1 0l1 0l1 0l1 0l1 0l1 0l1 0l1 0l1 0l1 0l1 0l1 0l1 0l1 0l1 0l1 0l1 0l1 0L1333.8 1019.1Z" fill="#8a2a2a" stroke="#c01818" stroke-width="0.7"/>
<line x1="1239.2" y1="1019.1" x2="1239.2" y2="975.7" stroke="#13807e" stroke-width="1"/>
<rect x="1238.2" y="922.7" width="96.7" height="96.4" fill="none" stroke="#8f8f8f" stroke-width="1.3"/>
<path d="M1240.2 1019.1v-1.6M1242.5 1019.1v-1.6M1244.8 1019.1v-1.6M1247.1 1019.1v-1.6M1249.4 1019.1v-1.6M1251.7 1019.1v-1.6M1254 1019.1v-1.6M1256.3 1019.1v-1.6M1258.6 1019.1v-1.6M1260.9 1019.1v-1.6M1263.2 1019.1v-1.6M1265.5 1019.1v-1.6M1267.8 1019.1v-1.6M1270.1 1019.1v-1.6M1272.4 1019.1v-1.6M1274.7 1019.1v-1.6M1277 1019.1v-1.6M1279.3 1019.1v-1.6M1281.6 1019.1v-1.6M1283.9 1019.1v-1.6M1286.2 1019.1v-1.6M1288.5 1019.1v-1.6M1290.8 1019.1v-1.6M1293.1 1019.1v-1.6M1295.4 1019.1v-1.6M1297.7 1019.1v-1.6M1300 1019.1v-1.6M1302.3 1019.1v-1.6M1304.6 1019.1v-1.6M1306.9 1019.1v-1.6M1309.2 1019.1v-1.6M1311.5 1019.1v-1.6M1313.8 1019.1v-1.6M1316.1 1019.1v-1.6M1318.4 1019.1v-1.6M1320.7 1019.1v-1.6M1323 1019.1v-1.6M1325.3 1019.1v-1.6M1327.6 1019.1v-1.6M1329.9 1019.1v-1.6M1332.2 1019.1v-1.6" fill="none" stroke="#444" stroke-width="0.8"/>
<path d="M1238.2 1015.1h2M1238.2 1007.4h2M1238.2 999.7h2M1238.2 992h2M1238.2 984.3h2M1238.2 976.6h2M1238.2 968.9h2M1238.2 961.2h2M1238.2 953.5h2M1238.2 945.8h2M1238.2 938.1h2M1238.2 930.4h2" fill="none" stroke="#555" stroke-width="0.8"/>
<line x1="1285.3" y1="985.2" x2="1334.6" y2="985.2" stroke="#e07070" stroke-width="1"/>
<line x1="1285.3" y1="983" x2="1285.3" y2="987.4" stroke="#e07070" stroke-width="1"/>
<line x1="1334.6" y1="983" x2="1334.6" y2="987.4" stroke="#e07070" stroke-width="1"/>
<text x="1289.4" y="982.1" class="c6">3.54%</text>
<text x="1238.2" y="1027.6" class="c7">0</text>
<text x="1260.7" y="1027.6" class="c7">10¹</text>
<text x="1270.6" y="1027.6" class="c7">10²</text>
<text x="1283.6" y="1027.6" class="c7">10³</text>
<text x="1295.3" y="1027.6" class="c7">10⁴</text>
<text x="1308.8" y="1027.6" class="c7">10⁵</text>
<text x="1320.4" y="1027.6" class="c7">10⁶</text>
<text x="1332" y="1027.6" class="c7">10⁷</text>
<text x="1234.7" y="1018.1" class="c7" transform="rotate(-90 1234.7 1018.1)">0</text>
<text x="1234.7" y="986.3" class="c7" transform="rotate(-90 1234.7 986.3)">100</text>
<text x="1234.7" y="954.5" class="c7" transform="rotate(-90 1234.7 954.5)">200</text>
<text x="1234.7" y="922.7" class="c7" transform="rotate(-90 1234.7 922.7)">300</text>
<path d="M1347.1 1019.1L1347.1 1019.1l1 0l1 0l1 0l1 0l1 0l1 0l1 -0.1l1 0l1 0l1 0l1 -0.1l1 -0.1l1 0.3l1 0l1 -1l1 -0.2l1 0.8l1 -1.1l1 -0.2l1 0l1 -0.2l1 -0.4l1 -1l1 -1.9l1 -0.9l1 0.3l1 -1.9l1 -0.2l1 -2.8l1 -0.9l1 -3.9l1 -0.7l1 -6.5l1 -3l1 -6.1l1 -6.2l1 -7.2l1 -7.6l1 -5.9l1 -5.6l1 -2l1 0.2l1 3.4l1 9.2l1 13.2l1 13.3l0.9 10.8L1394.2 1019.1Z" fill="#3d7d7a" stroke="#13807e" stroke-width="0.7"/>
<path d="M1394.2 1019.1L1394.2 1002.4l0 0l0.9 6.9l1 4.4l1 0.9l1 1l1 2l1 -0.4l1 0.6l1 1.1l1 -0.2l1 0.2l1 0.1l1 0.1l1 0l1 0l1 0l1 0l1 0l1 0l1 0l1 0l1 0l1 0l1 0l1 0l1 0l1 0l1 0l1 0l1 0l1 0l1 0l1 0l1 0l1 0l1 0l1 0l1 0l1 0l1 0l1 0l1 0l1 0l1 0l1 0l1 0l1 0l1 0l1 0l1 0L1443.1 1019.1Z" fill="#8a2a2a" stroke="#c01818" stroke-width="0.7"/>
<line x1="1347.5" y1="1019.1" x2="1347.5" y2="975.3" stroke="#13807e" stroke-width="1"/>
<rect x="1346.5" y="921.8" width="97.3" height="97.3" fill="none" stroke="#8f8f8f" stroke-width="1.3"/>
<path d="M1348.5 1019.1v-1.6M1350.8 1019.1v-1.6M1353.1 1019.1v-1.6M1355.4 1019.1v-1.6M1357.7 1019.1v-1.6M1360 1019.1v-1.6M1362.3 1019.1v-1.6M1364.6 1019.1v-1.6M1366.9 1019.1v-1.6M1369.2 1019.1v-1.6M1371.5 1019.1v-1.6M1373.8 1019.1v-1.6M1376.1 1019.1v-1.6M1378.4 1019.1v-1.6M1380.7 1019.1v-1.6M1383 1019.1v-1.6M1385.3 1019.1v-1.6M1387.6 1019.1v-1.6M1389.9 1019.1v-1.6M1392.2 1019.1v-1.6M1394.5 1019.1v-1.6M1396.8 1019.1v-1.6M1399.1 1019.1v-1.6M1401.4 1019.1v-1.6M1403.7 1019.1v-1.6M1406 1019.1v-1.6M1408.3 1019.1v-1.6M1410.6 1019.1v-1.6M1412.9 1019.1v-1.6M1415.2 1019.1v-1.6M1417.5 1019.1v-1.6M1419.8 1019.1v-1.6M1422.1 1019.1v-1.6M1424.4 1019.1v-1.6M1426.7 1019.1v-1.6M1429 1019.1v-1.6M1431.3 1019.1v-1.6M1433.6 1019.1v-1.6M1435.9 1019.1v-1.6M1438.2 1019.1v-1.6M1440.5 1019.1v-1.6M1442.8 1019.1v-1.6" fill="none" stroke="#444" stroke-width="0.8"/>
<path d="M1346.5 1015.1h2M1346.5 1007.4h2M1346.5 999.7h2M1346.5 992h2M1346.5 984.3h2M1346.5 976.6h2M1346.5 968.9h2M1346.5 961.2h2M1346.5 953.5h2M1346.5 945.8h2M1346.5 938.1h2M1346.5 930.4h2" fill="none" stroke="#555" stroke-width="0.8"/>
<line x1="1394.2" y1="985.2" x2="1442.9" y2="985.2" stroke="#e07070" stroke-width="1"/>
<line x1="1394.2" y1="983" x2="1394.2" y2="987.4" stroke="#e07070" stroke-width="1"/>
<line x1="1442.9" y1="983" x2="1442.9" y2="987.4" stroke="#e07070" stroke-width="1"/>
<text x="1399" y="982.1" class="c6">2.66%</text>
<text x="1346.5" y="1027.6" class="c7">0</text>
<text x="1369.2" y="1027.6" class="c7">10¹</text>
<text x="1379.1" y="1027.6" class="c7">10²</text>
<text x="1392.2" y="1027.6" class="c7">10³</text>
<text x="1403.9" y="1027.6" class="c7">10⁴</text>
<text x="1417.5" y="1027.6" class="c7">10⁵</text>
<text x="1429.2" y="1027.6" class="c7">10⁶</text>
<text x="1440.9" y="1027.6" class="c7">10⁷</text>
<text x="1343" y="1018.1" class="c7" transform="rotate(-90 1343 1018.1)">0</text>
<text x="1343" y="986" class="c7" transform="rotate(-90 1343 986)">100</text>
<text x="1343" y="953.9" class="c7" transform="rotate(-90 1343 953.9)">200</text>
<text x="1343" y="921.8" class="c7" transform="rotate(-90 1343 921.8)">300</text>
<path d="M1020.6 1129.9L1020.6 1129.9l1 0l1 0l1 0l1 0l1 0l1 -0.1l1 0l1 0l1 -0.1l1 0l1 -0.7l1 0.7l1 0.2l1 -1.4l1 1.1l1 -1.3l1 0.6l1 -1.2l1 0.3l1 -0.6l1 -1.2l1 -0.9l1 -0.3l1 -1.3l1 -1.1l1 -1.4l1 1l1 -2.4l1 -4.2l1 -2l1 -2.7l1 -5.1l1 -3.8l1 -5.5l1 -7.5l1 -8.2l1 -7.1l1 -6.4l1 -3.6l1 0.9l1 0.7l1 18.7l1 19.6l1 14.7l1 8.2l1 2.9l0.3 -0.3L1067.1 1129.9Z" fill="#3d7d7a" stroke="#13807e" stroke-width="0.7"/>
<path d="M1067.1 1129.9L1067.1 1127.9l0 0l0.5 0l1 0.2l1 -0.5l1 0l1 1.3l1 -0.7l1 -0.4l1 1.3l1 -0.1l1 0.6l1 0.2l1 0.1l1 0l1 0l1 0l1 0l1 0l1 0l1 0l1 0l1 0l1 0l1 0l1 0l1 0l1 0l1 0l1 0l1 0l1 0l1 0l1 0l1 0l1 0l1 0l1 0l1 0l1 0l1 0l1 0l1 0l1 0l1 0l1 0l1 0l1 0l1 0l1 0l1 0L1115.6 1129.9Z" fill="#8a2a2a" stroke="#c01818" stroke-width="0.7"/>
<line x1="1021" y1="1129.9" x2="1021" y2="1086.4" stroke="#13807e" stroke-width="1"/>
<rect x="1020" y="1033.2" width="96.4" height="96.7" fill="none" stroke="#8f8f8f" stroke-width="1.3"/>
<path d="M1022 1129.9v-1.6M1024.3 1129.9v-1.6M1026.6 1129.9v-1.6M1028.9 1129.9v-1.6M1031.2 1129.9v-1.6M1033.5 1129.9v-1.6M1035.8 1129.9v-1.6M1038.1 1129.9v-1.6M1040.4 1129.9v-1.6M1042.7 1129.9v-1.6M1045 1129.9v-1.6M1047.3 1129.9v-1.6M1049.6 1129.9v-1.6M1051.9 1129.9v-1.6M1054.2 1129.9v-1.6M1056.5 1129.9v-1.6M1058.8 1129.9v-1.6M1061.1 1129.9v-1.6M1063.4 1129.9v-1.6M1065.7 1129.9v-1.6M1068 1129.9v-1.6M1070.3 1129.9v-1.6M1072.6 1129.9v-1.6M1074.9 1129.9v-1.6M1077.2 1129.9v-1.6M1079.5 1129.9v-1.6M1081.8 1129.9v-1.6M1084.1 1129.9v-1.6M1086.4 1129.9v-1.6M1088.7 1129.9v-1.6M1091 1129.9v-1.6M1093.3 1129.9v-1.6M1095.6 1129.9v-1.6M1097.9 1129.9v-1.6M1100.2 1129.9v-1.6M1102.5 1129.9v-1.6M1104.8 1129.9v-1.6M1107.1 1129.9v-1.6M1109.4 1129.9v-1.6M1111.7 1129.9v-1.6M1114 1129.9v-1.6" fill="none" stroke="#444" stroke-width="0.8"/>
<path d="M1020 1125.9h2M1020 1118.2h2M1020 1110.5h2M1020 1102.8h2M1020 1095.1h2M1020 1087.4h2M1020 1079.7h2M1020 1072h2M1020 1064.3h2M1020 1056.6h2M1020 1048.9h2M1020 1041.2h2" fill="none" stroke="#555" stroke-width="0.8"/>
<line x1="1067.1" y1="1095.4" x2="1116.4" y2="1095.4" stroke="#e07070" stroke-width="1"/>
<line x1="1067.1" y1="1093.2" x2="1067.1" y2="1097.6" stroke="#e07070" stroke-width="1"/>
<line x1="1116.4" y1="1093.2" x2="1116.4" y2="1097.6" stroke="#e07070" stroke-width="1"/>
<text x="1071.2" y="1091.9" class="c6">0.81%</text>
<text x="1020" y="1138.4" class="c7">0</text>
<text x="1042.5" y="1138.4" class="c7">10¹</text>
<text x="1052.3" y="1138.4" class="c7">10²</text>
<text x="1065.3" y="1138.4" class="c7">10³</text>
<text x="1076.9" y="1138.4" class="c7">10⁴</text>
<text x="1090.4" y="1138.4" class="c7">10⁵</text>
<text x="1101.9" y="1138.4" class="c7">10⁶</text>
<text x="1113.5" y="1138.4" class="c7">10⁷</text>
<text x="1016.5" y="1128.9" class="c7" transform="rotate(-90 1016.5 1128.9)">0</text>
<text x="1016.5" y="1097" class="c7" transform="rotate(-90 1016.5 1097)">100</text>
<text x="1016.5" y="1065.1" class="c7" transform="rotate(-90 1016.5 1065.1)">200</text>
<text x="1016.5" y="1033.2" class="c7" transform="rotate(-90 1016.5 1033.2)">300</text>
<path d="M1128.3 1129.9L1128.3 1129.9l1 0l1 0l1 0l1 0l1 0l1 0l1 -0.1l1 0l1 0l1 -0.1l1 0l1 0.2l1 -0.5l1 -0.3l1 0.3l1 -0.1l1 -1.2l1 -0.1l1 -0.4l1 0l1 0.1l1 -0.9l1 -1.5l1 0l1 -1.2l1 -0.6l1 -2.3l1 -0.5l1 -1.4l1 -3.6l1 -1.2l1 -4l1 -5.7l1 -4l1 -6.9l1 -6.3l1 -5.8l1 -4.9l1 -7.6l1 -1.2l1 -2.4l1 8.8l1 18.7l1 18.8l1 11.4l1 4.6l1 1l0.5 0.6L1176 1129.9Z" fill="#3d7d7a" stroke="#13807e" stroke-width="0.7"/>
<path d="M1176 1129.9L1176 1127l0 0l1.3 -0.4l1 -0.5l1 0.3l1 0l1 2.9l1 -1.1l1 0.7l1 0.5l1 0.4l1 0.1l1 0l1 0l1 0l1 0l1 0l1 0l1 0l1 0l1 0l1 0l1 0l1 0l1 0l1 0l1 0l1 0l1 0l1 0l1 0l1 0l1 0l1 0l1 0l1 0l1 0l1 0l1 0l1 0l1 0l1 0l1 0l1 0l1 0l1 0l1 0l1 0l1 0L1223.3 1129.9Z" fill="#8a2a2a" stroke="#c01818" stroke-width="0.7"/>
<line x1="1128.7" y1="1129.9" x2="1128.7" y2="1086.4" stroke="#13807e" stroke-width="1"/>
<rect x="1127.7" y="1033.2" width="96.4" height="96.7" fill="none" stroke="#8f8f8f" stroke-width="1.3"/>
<path d="M1129.7 1129.9v-1.6M1132 1129.9v-1.6M1134.3 1129.9v-1.6M1136.6 1129.9v-1.6M1138.9 1129.9v-1.6M1141.2 1129.9v-1.6M1143.5 1129.9v-1.6M1145.8 1129.9v-1.6M1148.1 1129.9v-1.6M1150.4 1129.9v-1.6M1152.7 1129.9v-1.6M1155 1129.9v-1.6M1157.3 1129.9v-1.6M1159.6 1129.9v-1.6M1161.9 1129.9v-1.6M1164.2 1129.9v-1.6M1166.5 1129.9v-1.6M1168.8 1129.9v-1.6M1171.1 1129.9v-1.6M1173.4 1129.9v-1.6M1175.7 1129.9v-1.6M1178 1129.9v-1.6M1180.3 1129.9v-1.6M1182.6 1129.9v-1.6M1184.9 1129.9v-1.6M1187.2 1129.9v-1.6M1189.5 1129.9v-1.6M1191.8 1129.9v-1.6M1194.1 1129.9v-1.6M1196.4 1129.9v-1.6M1198.7 1129.9v-1.6M1201 1129.9v-1.6M1203.3 1129.9v-1.6M1205.6 1129.9v-1.6M1207.9 1129.9v-1.6M1210.2 1129.9v-1.6M1212.5 1129.9v-1.6M1214.8 1129.9v-1.6M1217.1 1129.9v-1.6M1219.4 1129.9v-1.6M1221.7 1129.9v-1.6" fill="none" stroke="#444" stroke-width="0.8"/>
<path d="M1127.7 1125.9h2M1127.7 1118.2h2M1127.7 1110.5h2M1127.7 1102.8h2M1127.7 1095.1h2M1127.7 1087.4h2M1127.7 1079.7h2M1127.7 1072h2M1127.7 1064.3h2M1127.7 1056.6h2M1127.7 1048.9h2M1127.7 1041.2h2" fill="none" stroke="#555" stroke-width="0.8"/>
<line x1="1176" y1="1095.4" x2="1224.1" y2="1095.4" stroke="#e07070" stroke-width="1"/>
<line x1="1176" y1="1093.2" x2="1176" y2="1097.6" stroke="#e07070" stroke-width="1"/>
<line x1="1224.1" y1="1093.2" x2="1224.1" y2="1097.6" stroke="#e07070" stroke-width="1"/>
<text x="1178.6" y="1091.9" class="c6">0.61%</text>
<text x="1127.7" y="1138.4" class="c7">0</text>
<text x="1150.2" y="1138.4" class="c7">10¹</text>
<text x="1160" y="1138.4" class="c7">10²</text>
<text x="1173" y="1138.4" class="c7">10³</text>
<text x="1184.6" y="1138.4" class="c7">10⁴</text>
<text x="1198.1" y="1138.4" class="c7">10⁵</text>
<text x="1209.6" y="1138.4" class="c7">10⁶</text>
<text x="1221.2" y="1138.4" class="c7">10⁷</text>
<text x="1124.2" y="1128.9" class="c7" transform="rotate(-90 1124.2 1128.9)">0</text>
<text x="1124.2" y="1097" class="c7" transform="rotate(-90 1124.2 1097)">100</text>
<text x="1124.2" y="1065.1" class="c7" transform="rotate(-90 1124.2 1065.1)">200</text>
<text x="1124.2" y="1033.2" class="c7" transform="rotate(-90 1124.2 1033.2)">300</text>
<path d="M1238.8 1130.6L1238.8 1130.6l1 0l1 0l1 0l1 0l1 0l1 0l1 0l1 -0.1l1 0l1 0l1 -0.1l1 0l1 -0.1l1 0.1l1 -1l1 0.8l1 -0.2l1 -0.7l1 -0.1l1 -0.9l1 0.1l1 -1.5l1 -0.4l1 0.2l1 -1.5l1 -0.2l1 -1.7l1 -0.8l1 -1.7l1 -3.2l1 -1.7l1 -3.8l1 -3.3l1 -4.8l1 -5.1l1 -4.9l1 -8.9l1 -7.8l1 -8.9l1 -5.5l1 -7.2l1 -4.6l1 0.4l1 9.8l1 13.3l1 16.9l0.3 8L1285.3 1130.6Z" fill="#3d7d7a" stroke="#13807e" stroke-width="0.7"/>
<path d="M1285.3 1130.6L1285.3 1101.7l0 0l0.5 7.8l1 9.6l1 6.2l1 1.5l1 0.1l1 0.7l1 1.9l1 0.2l1 0.6l1 -0.2l1 0.4l1 0l1 0.1l1 0l1 0l1 0l1 0l1 0l1 0l1 0l1 0l1 0l1 0l1 0l1 0l1 0l1 0l1 0l1 0l1 0l1 0l1 0l1 0l1 0l1 0l1 0l1 0l1 0l1 0l1 0l1 0l1 0l1 0l1 0l1 0l1 0l1 0l1 0l1 0L1333.8 1130.6Z" fill="#8a2a2a" stroke="#c01818" stroke-width="0.7"/>
<line x1="1239.2" y1="1130.6" x2="1239.2" y2="1086.8" stroke="#13807e" stroke-width="1"/>
<rect x="1238.2" y="1033.2" width="96.7" height="97.4" fill="none" stroke="#8f8f8f" stroke-width="1.3"/>
<path d="M1240.2 1130.6v-1.6M1242.5 1130.6v-1.6M1244.8 1130.6v-1.6M1247.1 1130.6v-1.6M1249.4 1130.6v-1.6M1251.7 1130.6v-1.6M1254 1130.6v-1.6M1256.3 1130.6v-1.6M1258.6 1130.6v-1.6M1260.9 1130.6v-1.6M1263.2 1130.6v-1.6M1265.5 1130.6v-1.6M1267.8 1130.6v-1.6M1270.1 1130.6v-1.6M1272.4 1130.6v-1.6M1274.7 1130.6v-1.6M1277 1130.6v-1.6M1279.3 1130.6v-1.6M1281.6 1130.6v-1.6M1283.9 1130.6v-1.6M1286.2 1130.6v-1.6M1288.5 1130.6v-1.6M1290.8 1130.6v-1.6M1293.1 1130.6v-1.6M1295.4 1130.6v-1.6M1297.7 1130.6v-1.6M1300 1130.6v-1.6M1302.3 1130.6v-1.6M1304.6 1130.6v-1.6M1306.9 1130.6v-1.6M1309.2 1130.6v-1.6M1311.5 1130.6v-1.6M1313.8 1130.6v-1.6M1316.1 1130.6v-1.6M1318.4 1130.6v-1.6M1320.7 1130.6v-1.6M1323 1130.6v-1.6M1325.3 1130.6v-1.6M1327.6 1130.6v-1.6M1329.9 1130.6v-1.6M1332.2 1130.6v-1.6" fill="none" stroke="#444" stroke-width="0.8"/>
<path d="M1238.2 1126.6h2M1238.2 1118.9h2M1238.2 1111.2h2M1238.2 1103.5h2M1238.2 1095.8h2M1238.2 1088.1h2M1238.2 1080.4h2M1238.2 1072.7h2M1238.2 1065h2M1238.2 1057.3h2M1238.2 1049.6h2M1238.2 1041.9h2" fill="none" stroke="#555" stroke-width="0.8"/>
<line x1="1285.3" y1="1095.4" x2="1334" y2="1095.4" stroke="#e07070" stroke-width="1"/>
<line x1="1285.3" y1="1093.2" x2="1285.3" y2="1097.6" stroke="#e07070" stroke-width="1"/>
<line x1="1334" y1="1093.2" x2="1334" y2="1097.6" stroke="#e07070" stroke-width="1"/>
<text x="1289.4" y="1093.5" class="c6">6.55%</text>
<text x="1238.2" y="1139.1" class="c7">0</text>
<text x="1260.7" y="1139.1" class="c7">10¹</text>
<text x="1270.6" y="1139.1" class="c7">10²</text>
<text x="1283.6" y="1139.1" class="c7">10³</text>
<text x="1295.3" y="1139.1" class="c7">10⁴</text>
<text x="1308.8" y="1139.1" class="c7">10⁵</text>
<text x="1320.4" y="1139.1" class="c7">10⁶</text>
<text x="1332" y="1139.1" class="c7">10⁷</text>
<text x="1234.7" y="1129.6" class="c7" transform="rotate(-90 1234.7 1129.6)">0</text>
<text x="1234.7" y="1097.5" class="c7" transform="rotate(-90 1234.7 1097.5)">100</text>
<text x="1234.7" y="1065.3" class="c7" transform="rotate(-90 1234.7 1065.3)">200</text>
<text x="1234.7" y="1033.2" class="c7" transform="rotate(-90 1234.7 1033.2)">300</text>
<path d="M1347.1 1130.6L1347.1 1130.6l1 0l1 0l1 0l1 0l1 0l1 0l1 -0.1l1 0l1 0l1 -0.1l1 0l1 -0.6l1 0.8l1 -1.1l1 -0.1l1 0.8l1 -0.7l1 -0.9l1 -0.5l1 0.7l1 -0.9l1 -1l1 -0.8l1 0.3l1 -1.6l1 -0.4l1 -0.7l1 -3.6l1 -0.1l1 -3.3l1 -3.5l1 -2.5l1 -3.5l1 -6.7l1 -6.5l1 -5l1 -7.4l1 -8.5l1 -3.1l1 -5.2l1 -0.7l1 0.8l1 8.8l1 9.7l1 13.5l1 10.7l0.9 8.9L1394.2 1130.6Z" fill="#3d7d7a" stroke="#13807e" stroke-width="0.7"/>
<path d="M1394.2 1130.6L1394.2 1117.6l0 0l0.9 4.2l1 4.2l1 1.6l1 -1.2l1 1.1l1 0.3l1 1.5l1 0.5l1 -0.3l1 0.9l1 0.1l1 0.1l1 0l1 0l1 0l1 0l1 0l1 0l1 0l1 0l1 0l1 0l1 0l1 0l1 0l1 0l1 0l1 0l1 0l1 0l1 0l1 0l1 0l1 0l1 0l1 0l1 0l1 0l1 0l1 0l1 0l1 0l1 0l1 0l1 0l1 0l1 0l1 0l1 0L1443.1 1130.6Z" fill="#8a2a2a" stroke="#c01818" stroke-width="0.7"/>
<line x1="1347.5" y1="1130.6" x2="1347.5" y2="1086.8" stroke="#13807e" stroke-width="1"/>
<rect x="1346.5" y="1033.2" width="97.3" height="97.4" fill="none" stroke="#8f8f8f" stroke-width="1.3"/>
<path d="M1348.5 1130.6v-1.6M1350.8 1130.6v-1.6M1353.1 1130.6v-1.6M1355.4 1130.6v-1.6M1357.7 1130.6v-1.6M1360 1130.6v-1.6M1362.3 1130.6v-1.6M1364.6 1130.6v-1.6M1366.9 1130.6v-1.6M1369.2 1130.6v-1.6M1371.5 1130.6v-1.6M1373.8 1130.6v-1.6M1376.1 1130.6v-1.6M1378.4 1130.6v-1.6M1380.7 1130.6v-1.6M1383 1130.6v-1.6M1385.3 1130.6v-1.6M1387.6 1130.6v-1.6M1389.9 1130.6v-1.6M1392.2 1130.6v-1.6M1394.5 1130.6v-1.6M1396.8 1130.6v-1.6M1399.1 1130.6v-1.6M1401.4 1130.6v-1.6M1403.7 1130.6v-1.6M1406 1130.6v-1.6M1408.3 1130.6v-1.6M1410.6 1130.6v-1.6M1412.9 1130.6v-1.6M1415.2 1130.6v-1.6M1417.5 1130.6v-1.6M1419.8 1130.6v-1.6M1422.1 1130.6v-1.6M1424.4 1130.6v-1.6M1426.7 1130.6v-1.6M1429 1130.6v-1.6M1431.3 1130.6v-1.6M1433.6 1130.6v-1.6M1435.9 1130.6v-1.6M1438.2 1130.6v-1.6M1440.5 1130.6v-1.6M1442.8 1130.6v-1.6" fill="none" stroke="#444" stroke-width="0.8"/>
<path d="M1346.5 1126.6h2M1346.5 1118.9h2M1346.5 1111.2h2M1346.5 1103.5h2M1346.5 1095.8h2M1346.5 1088.1h2M1346.5 1080.4h2M1346.5 1072.7h2M1346.5 1065h2M1346.5 1057.3h2M1346.5 1049.6h2M1346.5 1041.9h2" fill="none" stroke="#555" stroke-width="0.8"/>
<line x1="1394.2" y1="1095.4" x2="1443.2" y2="1095.4" stroke="#e07070" stroke-width="1"/>
<line x1="1394.2" y1="1093.2" x2="1394.2" y2="1097.6" stroke="#e07070" stroke-width="1"/>
<line x1="1443.2" y1="1093.2" x2="1443.2" y2="1097.6" stroke="#e07070" stroke-width="1"/>
<text x="1397.4" y="1091.9" class="c6">2.93%</text>
<text x="1346.5" y="1139.1" class="c7">0</text>
<text x="1369.2" y="1139.1" class="c7">10¹</text>
<text x="1379.1" y="1139.1" class="c7">10²</text>
<text x="1392.2" y="1139.1" class="c7">10³</text>
<text x="1403.9" y="1139.1" class="c7">10⁴</text>
<text x="1417.5" y="1139.1" class="c7">10⁵</text>
<text x="1429.2" y="1139.1" class="c7">10⁶</text>
<text x="1440.9" y="1139.1" class="c7">10⁷</text>
<text x="1343" y="1129.6" class="c7" transform="rotate(-90 1343 1129.6)">0</text>
<text x="1343" y="1097.5" class="c7" transform="rotate(-90 1343 1097.5)">100</text>
<text x="1343" y="1065.3" class="c7" transform="rotate(-90 1343 1065.3)">200</text>
<text x="1343" y="1033.2" class="c7" transform="rotate(-90 1343 1033.2)">300</text>
<defs><radialGradient id="core"><stop offset="0" stop-color="#e8e030"/><stop offset="0.1" stop-color="#40e060"/><stop offset="0.25" stop-color="#10b0d0"/><stop offset="0.45" stop-color="#0a2cff"/><stop offset="0.75" stop-color="#1010ff" stop-opacity="0.75"/><stop offset="1" stop-color="#2030ff" stop-opacity="0"/></radialGradient><radialGradient id="coreR"><stop offset="0" stop-color="#ff3010"/><stop offset="0.08" stop-color="#e0e030"/><stop offset="0.18" stop-color="#40e060"/><stop offset="0.32" stop-color="#10b0d0"/><stop offset="0.5" stop-color="#0a2cff"/><stop offset="0.78" stop-color="#1010ff" stop-opacity="0.75"/><stop offset="1" stop-color="#2030ff" stop-opacity="0"/></radialGradient><radialGradient id="coreB"><stop offset="0" stop-color="#0820f0"/><stop offset="0.55" stop-color="#1a30ff" stop-opacity="0.7"/><stop offset="1" stop-color="#2040ff" stop-opacity="0"/></radialGradient><radialGradient id="coreC"><stop offset="0" stop-color="#30c0b0"/><stop offset="0.35" stop-color="#30a8e0"/><stop offset="0.7" stop-color="#2060ff" stop-opacity="0.6"/><stop offset="1" stop-color="#2040ff" stop-opacity="0"/></radialGradient><radialGradient id="coreG"><stop offset="0" stop-color="#30d080"/><stop offset="0.25" stop-color="#20a0d0"/><stop offset="0.55" stop-color="#1030ff" stop-opacity="0.8"/><stop offset="1" stop-color="#2040ff" stop-opacity="0"/></radialGradient></defs>
<text x="5.8" y="618.4" class="c0">K</text>
<path d="M33.4 617V873.8H540" fill="none" stroke="#333" stroke-width="1.3"/>
<path d="M28.9 623.5L33.4 617L37.9 623.5" fill="none" stroke="#333" stroke-width="1.3"/>
<path d="M533.5 869.3L540 873.8L533.5 878.3" fill="none" stroke="#333" stroke-width="1.3"/>
<text x="130.9" y="643.5" class="c1">-</text>
<text x="236.4" y="643.5" class="c1">+</text>
<text x="341.8" y="643.5" class="c1">-</text>
<text x="449.7" y="643.5" class="c1">+</text>
<text x="130.9" y="660.1" class="c1">-</text>
<text x="236.4" y="660.1" class="c1">-</text>
<text x="341.8" y="660.1" class="c1">+</text>
<text x="449.7" y="660.1" class="c1">+</text>
<text x="474" y="642" class="c2">BAPTA-AM (2.5μM)</text>
<text x="474" y="659.2" class="c2">CDDP (20μM)</text>
<text x="28.4" y="763" class="c3" transform="rotate(-90 28.4 763)">7-AAD</text>
<text x="54.3" y="762" class="c1" transform="rotate(-90 54.3 762)">H1299</text>
<line x1="56" y1="718.5" x2="56" y2="816" stroke="#222" stroke-width="1.2"/>
<text x="72.4" y="718.9" class="c4" transform="rotate(-90 72.4 718.9)">Vector</text>
<text x="72.4" y="821.8" class="c4" transform="rotate(-90 72.4 821.8)">CRTAC1</text>
<text x="225" y="887.5" class="c5">Annexin V-APC</text>
<path d="M150 695.5h1m-7 2h1m8 2h1m-33 2h1m19 1h1m1 0h1m-6 1h1m1 0h1m3 0h1m-10 1h1m3 0h1m1 0h2m2 0h1m-13 1h3m3 0h1m1 0h2m-39 1h1m17 0h2m7 0h1m1 0h1m2 0h3m-21 1h1m11 0h5m1 0h2m6 0h1m2 0h1m-30 1h1m5 0h1m7 0h1m2 0h1m-19 1h1m5 0h1m1 0h1m1 0h2m1 0h1m5 0h2m-15 1h1m5 0h2m3 0h1m1 0h2m-15 1h1m3 0h1m3 0h1m-16 1h3m4 0h1m2 0h1m3 0h1m3 0h1m-28 1h1m8 0h2m3 0h2m-8 1h2m2 0h3m1 0h1m1 0h1m1 0h1m-15 1h1m5 0h2m2 0h1m1 0h1m-19 1h1m8 0h1m3 0h1m2 0h1m1 0h2m1 0h2m4 0h1m2 0h2m-44 1h1m9 0h1m1 0h1m2 0h1m3 0h1m1 0h1m3 0h1m4 0h1m3 0h2m-23 1h1m4 0h1m2 0h1m1 0h1m1 0h3m2 0h2m1 0h1m-19 1h1m3 0h1m1 0h2m1 0h1m1 0h2m4 0h2m-26 1h1m2 0h1m5 0h1m3 0h1m1 0h2m1 0h5m1 0h2m3 0h2m1 0h1m-23 1h1m1 0h2m1 0h2m1 0h1m1 0h1m1 0h1m1 0h2m5 0h1m-32 1h1m4 0h2m3 0h3m1 0h5m1 0h1m1 0h3m11 0h1m-35 1h1m4 0h5m1 0h3m1 0h2m1 0h1m1 0h2m1 0h3m1 0h1m4 0h1m-35 1h2m4 0h6m1 0h3m1 0h2m1 0h3m1 0h1m6 0h1m-32 1h1m3 0h1m2 0h3m1 0h4m3 0h1m2 0h3m3 0h1m-29 1h1m1 0h1m1 0h1m2 0h1m2 0h6m1 0h5m3 0h1m2 0h1m11 0h1m-37 1h1m1 0h1m1 0h3m1 0h4m1 0h3m1 0h3m1 0h1m2 0h1m-28 1h7m1 0h9m1 0h1m2 0h1m2 0h1m7 0h1m-39 1h1m1 0h1m1 0h2m1 0h3m1 0h3m1 0h5m3 0h4m2 0h1m-31 1h1m3 0h1m2 0h2m3 0h3m1 0h8m3 0h6m-34 1h1m4 0h1m3 0h3m1 0h2m1 0h3m1 0h1m1 0h1m1 0h1m2 0h4m1 0h3m-38 1h1m1 0h1m6 0h5m3 0h3m1 0h1m3 0h1m1 0h1m1 0h1m1 0h1m1 0h1m11 0h1m-54 1h1m11 0h1m1 0h1m8 0h1m1 0h1m1 0h6m3 0h1m1 0h2m-26 1h1m3 0h1m3 0h1m1 0h2m2 0h1m1 0h2m1 0h1m2 0h1m1 0h1m2 0h1m2 0h1m-38 1h1m4 0h1m2 0h1m1 0h1m2 0h1m2 0h1m1 0h3m1 0h4m1 0h1m3 0h1m-35 1h1m17 0h4m19 0h1m-45 1h1m8 0h1m8 0h1m1 0h1m1 0h1m8 0h1m6 0h1m-26 1h1m6 0h1m1 0h2m4 0h1m1 0h1m7 0h2m-25 1h1m4 0h1m4 0h1m1 0h1m17 0h1m-27 1h1m6 0h1m10 0h1m-13 1h1m10 0h2m6 2h1m-31 1h1m16 0h1m-6 2h1m5 1h2m-3 1h2m-1 2h1m10 0h1m-17 2h1m17 0h1" fill="none" stroke="#1a2aff" stroke-width="1" stroke-opacity="0.6"/>
<ellipse cx="119" cy="725" rx="13" ry="9.7" fill="url(#coreR)" transform="rotate(-45 119 725)"/>
<line x1="129.8" y1="664.5" x2="129.8" y2="758" stroke="#858585" stroke-width="1.1"/>
<line x1="83.2" y1="711.4" x2="177.7" y2="711.4" stroke="#858585" stroke-width="1.1"/>
<rect x="83.2" y="664.5" width="94.5" height="93.5" fill="none" stroke="#6a6a6a" stroke-width="1.3"/>
<path d="M85.2 758v-1.5M87.8 758v-1.5M90.4 758v-1.5M93 758v-1.5M95.6 758v-1.5M98.2 758v-1.5M100.8 758v-1.5M103.4 758v-1.5M106 758v-1.5M108.6 758v-1.5M111.2 758v-1.5M113.8 758v-1.5M116.4 758v-1.5M119 758v-1.5M121.6 758v-1.5M124.2 758v-1.5M126.8 758v-1.5M129.4 758v-1.5M132 758v-1.5M134.6 758v-1.5M137.2 758v-1.5M139.8 758v-1.5M142.4 758v-1.5M145 758v-1.5M147.6 758v-1.5M150.2 758v-1.5M152.8 758v-1.5M155.4 758v-1.5M158 758v-1.5M160.6 758v-1.5M163.2 758v-1.5M165.8 758v-1.5M168.4 758v-1.5M171 758v-1.5M173.6 758v-1.5M176.2 758v-1.5M83.2 756h1.5M83.2 753.4h1.5M83.2 750.8h1.5M83.2 748.2h1.5M83.2 745.6h1.5M83.2 743h1.5M83.2 740.4h1.5M83.2 737.8h1.5M83.2 735.2h1.5M83.2 732.6h1.5M83.2 730h1.5M83.2 727.4h1.5M83.2 724.8h1.5M83.2 722.2h1.5M83.2 719.6h1.5M83.2 717h1.5M83.2 714.4h1.5M83.2 711.8h1.5M83.2 709.2h1.5M83.2 706.6h1.5M83.2 704h1.5M83.2 701.4h1.5M83.2 698.8h1.5M83.2 696.2h1.5M83.2 693.6h1.5M83.2 691h1.5M83.2 688.4h1.5M83.2 685.8h1.5M83.2 683.2h1.5M83.2 680.6h1.5M83.2 678h1.5M83.2 675.4h1.5M83.2 672.8h1.5M83.2 670.2h1.5M83.2 667.6h1.5" fill="none" stroke="#555" stroke-width="0.7"/>
<text x="88.2" y="766.3" class="c7">0</text>
<text x="96.1" y="766.3" class="c7">10¹</text>
<text x="108" y="766.3" class="c7">10²</text>
<text x="121" y="766.3" class="c7">10³</text>
<text x="135" y="766.3" class="c7">10⁴</text>
<text x="148" y="766.3" class="c7">10⁵</text>
<text x="162.4" y="766.3" class="c7">10⁶</text>
<text x="175.4" y="766.3" class="c7">10⁷</text>
<text x="81.2" y="753.3" class="c7" transform="rotate(-90 81.2 753.3)">0</text>
<text x="81.2" y="743" class="c7" transform="rotate(-90 81.2 743)">10²</text>
<text x="81.2" y="730" class="c7" transform="rotate(-90 81.2 730)">10³</text>
<text x="81.2" y="716.9" class="c7" transform="rotate(-90 81.2 716.9)">10⁴</text>
<text x="81.2" y="701.9" class="c7" transform="rotate(-90 81.2 701.9)">10⁵</text>
<text x="81.2" y="686.9" class="c7" transform="rotate(-90 81.2 686.9)">10⁶</text>
<text x="81.2" y="672" class="c7" transform="rotate(-90 81.2 672)">10⁷</text>
<text x="86" y="676.9" class="c6">0.44%</text>
<text x="177" y="676.9" class="c8">1.17%</text>
<text x="85.6" y="755.9" class="c6">98.35%</text>
<text x="177" y="755.9" class="c8">0.04%</text>
<path d="M222 697.5h1m31 0h1m8 1h1m-20 2h1m9 0h1m-39 4h1m27 0h1m4 0h3m-6 1h1m-11 1h1m3 0h1m4 0h2m1 0h1m8 0h1m-37 1h1m22 0h1m1 0h1m-27 1h1m20 0h1m3 0h1m-21 1h1m8 0h1m8 0h2m2 0h1m-20 1h1m9 0h1m1 0h1m1 0h2m-6 1h2m3 0h1m1 0h1m-26 1h1m10 0h1m2 0h7m-28 1h1m7 0h2m6 0h1m4 0h1m5 0h1m18 0h1m-34 1h2m1 0h1m1 0h1m4 0h3m1 0h1m-27 1h1m4 0h2m9 0h1m3 0h1m1 0h1m2 0h1m2 0h1m-25 1h2m1 0h3m1 0h1m1 0h1m1 0h1m1 0h2m2 0h1m4 0h1m1 0h1m-35 1h1m6 0h2m6 0h1m1 0h1m1 0h2m5 0h1m1 0h1m12 0h1m-31 1h3m4 0h1m5 0h1m1 0h3m1 0h1m4 0h1m-29 1h1m3 0h2m2 0h1m2 0h1m2 0h3m1 0h1m3 0h1m1 0h1m7 0h1m-40 1h2m1 0h1m4 0h1m2 0h1m3 0h1m1 0h1m1 0h5m1 0h1m1 0h1m-31 1h1m9 0h1m2 0h1m1 0h2m1 0h1m2 0h3m1 0h1m1 0h3m1 0h2m1 0h1m-26 1h1m1 0h1m2 0h4m2 0h1m2 0h1m2 0h1m4 0h1m2 0h1m-29 1h1m7 0h7m1 0h2m1 0h1m1 0h1m1 0h1m10 0h1m-37 1h1m1 0h1m3 0h2m2 0h2m2 0h1m1 0h1m2 0h2m2 0h1m1 0h1m-23 1h1m3 0h1m2 0h4m3 0h1m1 0h2m2 0h2m-28 1h1m7 0h2m3 0h2m1 0h3m1 0h8m1 0h1m-28 1h3m1 0h1m1 0h1m1 0h1m1 0h2m1 0h6m1 0h4m1 0h1m2 0h1m4 0h1m-31 1h4m1 0h9m1 0h1m1 0h2m1 0h1m2 0h1m-39 1h1m2 0h1m2 0h1m3 0h2m1 0h1m3 0h2m4 0h3m1 0h4m2 0h5m3 0h1m-41 1h1m7 0h1m3 0h1m1 0h1m1 0h1m1 0h2m1 0h5m1 0h3m1 0h3m3 0h1m1 0h3m-43 1h1m1 0h1m5 0h1m1 0h2m1 0h17m1 0h1m3 0h2m2 0h1m7 0h1m-52 1h1m2 0h1m10 0h3m2 0h2m1 0h5m3 0h4m4 0h1m-38 1h1m4 0h2m9 0h1m1 0h1m1 0h2m2 0h3m1 0h2m1 0h3m2 0h1m-29 1h1m3 0h1m3 0h1m1 0h3m1 0h1m1 0h2m3 0h2m2 0h2m2 0h1m2 0h1m-37 1h2m4 0h2m3 0h1m1 0h1m3 0h1m1 0h2m1 0h1m6 0h1m-27 1h1m5 0h1m1 0h1m7 0h1m1 0h1m9 0h2m2 0h1m-41 1h1m6 0h1m11 0h1m5 0h1m2 0h1m3 0h3m2 0h2m-28 1h1m3 0h1m11 0h3m8 0h5m2 0h1m1 0h1m-42 1h1m14 0h1m1 0h1m2 0h1m5 0h2m1 0h1m-12 1h1m11 0h2m2 0h1m-11 1h1m9 0h2m-10 1h1m-4 1h1m-14 1h1m6 0h1m8 0h1m1 0h1m19 0h1m-20 1h1m-36 7h1m13 1h1" fill="none" stroke="#1a2aff" stroke-width="1" stroke-opacity="0.6"/>
<ellipse cx="224" cy="727" rx="15.1" ry="10.8" fill="url(#coreR)" transform="rotate(-40 224 727)"/>
<line x1="236.4" y1="664.5" x2="236.4" y2="758.5" stroke="#858585" stroke-width="1.1"/>
<line x1="190" y1="711.4" x2="283.8" y2="711.4" stroke="#858585" stroke-width="1.1"/>
<rect x="190" y="664.5" width="93.8" height="94" fill="none" stroke="#6a6a6a" stroke-width="1.3"/>
<path d="M192 758.5v-1.5M194.6 758.5v-1.5M197.2 758.5v-1.5M199.8 758.5v-1.5M202.4 758.5v-1.5M205 758.5v-1.5M207.6 758.5v-1.5M210.2 758.5v-1.5M212.8 758.5v-1.5M215.4 758.5v-1.5M218 758.5v-1.5M220.6 758.5v-1.5M223.2 758.5v-1.5M225.8 758.5v-1.5M228.4 758.5v-1.5M231 758.5v-1.5M233.6 758.5v-1.5M236.2 758.5v-1.5M238.8 758.5v-1.5M241.4 758.5v-1.5M244 758.5v-1.5M246.6 758.5v-1.5M249.2 758.5v-1.5M251.8 758.5v-1.5M254.4 758.5v-1.5M257 758.5v-1.5M259.6 758.5v-1.5M262.2 758.5v-1.5M264.8 758.5v-1.5M267.4 758.5v-1.5M270 758.5v-1.5M272.6 758.5v-1.5M275.2 758.5v-1.5M277.8 758.5v-1.5M280.4 758.5v-1.5M190 756.5h1.5M190 753.9h1.5M190 751.3h1.5M190 748.7h1.5M190 746.1h1.5M190 743.5h1.5M190 740.9h1.5M190 738.3h1.5M190 735.7h1.5M190 733.1h1.5M190 730.5h1.5M190 727.9h1.5M190 725.3h1.5M190 722.7h1.5M190 720.1h1.5M190 717.5h1.5M190 714.9h1.5M190 712.3h1.5M190 709.7h1.5M190 707.1h1.5M190 704.5h1.5M190 701.9h1.5M190 699.3h1.5M190 696.7h1.5M190 694.1h1.5M190 691.5h1.5M190 688.9h1.5M190 686.3h1.5M190 683.7h1.5M190 681.1h1.5M190 678.5h1.5M190 675.9h1.5M190 673.3h1.5M190 670.7h1.5M190 668.1h1.5" fill="none" stroke="#555" stroke-width="0.7"/>
<text x="195" y="766.8" class="c7">0</text>
<text x="202.9" y="766.8" class="c7">10¹</text>
<text x="214.6" y="766.8" class="c7">10²</text>
<text x="227.5" y="766.8" class="c7">10³</text>
<text x="241.4" y="766.8" class="c7">10⁴</text>
<text x="254.3" y="766.8" class="c7">10⁵</text>
<text x="268.6" y="766.8" class="c7">10⁶</text>
<text x="281.5" y="766.8" class="c7">10⁷</text>
<text x="188" y="753.8" class="c7" transform="rotate(-90 188 753.8)">0</text>
<text x="188" y="743.5" class="c7" transform="rotate(-90 188 743.5)">10²</text>
<text x="188" y="730.3" class="c7" transform="rotate(-90 188 730.3)">10³</text>
<text x="188" y="717.1" class="c7" transform="rotate(-90 188 717.1)">10⁴</text>
<text x="188" y="702.1" class="c7" transform="rotate(-90 188 702.1)">10⁵</text>
<text x="188" y="687.1" class="c7" transform="rotate(-90 188 687.1)">10⁶</text>
<text x="188" y="672" class="c7" transform="rotate(-90 188 672)">10⁷</text>
<text x="192.2" y="676.9" class="c6">0.08%</text>
<text x="282.3" y="676.9" class="c8">0.77%</text>
<text x="192.2" y="755.9" class="c6">99.04%</text>
<text x="283.8" y="755.9" class="c8">0.11%</text>
<path d="M351 694.5h1m14 1h1m-38 1h1m27 1h1m7 0h1m-10 1h1m6 0h2m3 0h1m-15 1h1m1 0h3m-32 1h1m20 0h1m6 0h6m1 0h1m-36 1h1m17 0h1m5 0h1m1 0h1m1 0h6m3 0h1m-27 1h1m11 0h1m1 0h6m1 0h5m-13 1h6m2 0h2m1 0h2m-38 1h1m6 0h1m14 0h1m3 0h1m1 0h4m1 0h1m-17 1h1m2 0h1m5 0h3m1 0h1m3 0h1m1 0h1m-31 1h1m5 0h1m1 0h1m1 0h1m8 0h1m1 0h2m6 0h1m-40 1h1m1 0h1m2 0h1m23 0h1m2 0h1m-24 1h1m5 0h1m11 0h1m8 0h1m4 0h1m-38 2h2m5 0h1m3 0h1m3 0h2m1 0h1m2 0h1m12 0h1m-56 1h1m12 0h2m2 0h1m9 0h1m1 0h1m3 0h1m3 0h2m4 0h1m-27 1h1m6 0h1m3 0h1m3 0h6m7 0h4m2 0h1m3 0h1m-38 1h1m8 0h2m5 0h2m2 0h1m1 0h1m1 0h1m3 0h3m2 0h3m1 0h1m3 0h1m-38 1h1m2 0h1m1 0h3m1 0h3m8 0h2m2 0h2m1 0h3m4 0h2m-43 1h1m2 0h1m4 0h1m2 0h2m1 0h2m1 0h4m3 0h1m1 0h1m1 0h2m1 0h3m1 0h3m1 0h2m7 0h1m-45 1h1m2 0h2m2 0h5m2 0h3m9 0h9m1 0h1m1 0h1m-43 1h2m2 0h1m1 0h1m1 0h2m1 0h7m2 0h1m2 0h1m2 0h1m1 0h3m1 0h4m1 0h2m3 0h2m-58 1h1m15 0h1m1 0h4m3 0h6m2 0h1m1 0h4m1 0h1m4 0h2m1 0h3m1 0h1m-46 1h1m5 0h7m1 0h1m3 0h2m1 0h1m3 0h4m1 0h3m5 0h3m1 0h2m1 0h1m10 0h1m-60 1h1m7 0h1m2 0h1m1 0h11m1 0h3m2 0h3m3 0h1m1 0h1m1 0h2m1 0h4m8 0h1m-49 1h1m1 0h1m2 0h4m1 0h2m1 0h7m1 0h1m4 0h1m4 0h1m2 0h4m-48 1h1m4 0h2m1 0h1m8 0h1m1 0h5m3 0h2m1 0h1m1 0h1m8 0h1m2 0h3m7 0h1m-61 1h1m9 0h1m2 0h1m1 0h4m2 0h1m1 0h12m7 0h2m2 0h1m-33 1h1m1 0h1m1 0h7m1 0h8m1 0h1m1 0h2m3 0h1m-33 1h1m1 0h3m1 0h2m1 0h1m1 0h4m1 0h5m1 0h2m1 0h1m4 0h1m14 0h1m9 0h1m-60 1h1m5 0h2m2 0h5m1 0h1m2 0h1m1 0h2m1 0h1m1 0h2m1 0h3m3 0h2m1 0h1m-35 1h1m4 0h1m1 0h1m1 0h8m1 0h3m1 0h1m1 0h2m1 0h3m-42 1h1m3 0h2m5 0h2m2 0h1m1 0h5m1 0h1m1 0h4m1 0h1m5 0h1m4 0h1m-37 1h1m5 0h2m2 0h1m3 0h1m2 0h4m1 0h3m1 0h1m1 0h3m-30 1h1m1 0h1m1 0h1m1 0h1m3 0h7m4 0h3m1 0h1m8 0h2m-44 1h1m9 0h1m1 0h1m1 0h1m1 0h2m5 0h2m1 0h2m1 0h1m2 0h2m2 0h1m8 0h1m-41 1h1m6 0h1m1 0h2m4 0h2m3 0h1m2 0h3m2 0h1m11 0h1m-43 1h1m5 0h1m1 0h2m8 0h1m3 0h1m1 0h1m3 0h2m2 0h1m2 0h1m1 0h1m-34 1h1m3 0h1m1 0h1m3 0h1m8 0h1m2 0h1m3 0h2m-34 1h1m10 0h1m4 0h1m-7 1h1m10 0h2m1 0h1m-19 1h1m4 0h1m26 0h1m-17 1h1m-19 1h1m23 0h1m1 0h1m6 1h1m-1 2h1m-33 1h1m7 0h1m11 2h1m-14 3h1m7 0h1m-14 2h1" fill="none" stroke="#1a2aff" stroke-width="1" stroke-opacity="0.6"/>
<ellipse cx="331" cy="722" rx="15.1" ry="9.7" fill="url(#core)" transform="rotate(-30 331 722)"/>
<ellipse cx="357.5" cy="702.5" rx="6.5" ry="3.8" fill="url(#coreB)" transform="rotate(-20 357.5 702.5)"/>
<ellipse cx="354.3" cy="717.4" rx="7.6" ry="4.3" fill="url(#coreB)" transform="rotate(-15 354.3 717.4)"/>
<line x1="342.8" y1="665.3" x2="342.8" y2="758.8" stroke="#858585" stroke-width="1.1"/>
<line x1="296.2" y1="711.4" x2="390.5" y2="711.4" stroke="#858585" stroke-width="1.1"/>
<rect x="296.2" y="665.3" width="94.3" height="93.5" fill="none" stroke="#6a6a6a" stroke-width="1.3"/>
<path d="M298.2 758.8v-1.5M300.8 758.8v-1.5M303.4 758.8v-1.5M306 758.8v-1.5M308.6 758.8v-1.5M311.2 758.8v-1.5M313.8 758.8v-1.5M316.4 758.8v-1.5M319 758.8v-1.5M321.6 758.8v-1.5M324.2 758.8v-1.5M326.8 758.8v-1.5M329.4 758.8v-1.5M332 758.8v-1.5M334.6 758.8v-1.5M337.2 758.8v-1.5M339.8 758.8v-1.5M342.4 758.8v-1.5M345 758.8v-1.5M347.6 758.8v-1.5M350.2 758.8v-1.5M352.8 758.8v-1.5M355.4 758.8v-1.5M358 758.8v-1.5M360.6 758.8v-1.5M363.2 758.8v-1.5M365.8 758.8v-1.5M368.4 758.8v-1.5M371 758.8v-1.5M373.6 758.8v-1.5M376.2 758.8v-1.5M378.8 758.8v-1.5M381.4 758.8v-1.5M384 758.8v-1.5M386.6 758.8v-1.5M389.2 758.8v-1.5M296.2 756.8h1.5M296.2 754.2h1.5M296.2 751.6h1.5M296.2 749h1.5M296.2 746.4h1.5M296.2 743.8h1.5M296.2 741.2h1.5M296.2 738.6h1.5M296.2 736h1.5M296.2 733.4h1.5M296.2 730.8h1.5M296.2 728.2h1.5M296.2 725.6h1.5M296.2 723h1.5M296.2 720.4h1.5M296.2 717.8h1.5M296.2 715.2h1.5M296.2 712.6h1.5M296.2 710h1.5M296.2 707.4h1.5M296.2 704.8h1.5M296.2 702.2h1.5M296.2 699.6h1.5M296.2 697h1.5M296.2 694.4h1.5M296.2 691.8h1.5M296.2 689.2h1.5M296.2 686.6h1.5M296.2 684h1.5M296.2 681.4h1.5M296.2 678.8h1.5M296.2 676.2h1.5M296.2 673.6h1.5M296.2 671h1.5M296.2 668.4h1.5" fill="none" stroke="#555" stroke-width="0.7"/>
<text x="301.2" y="767.1" class="c7">0</text>
<text x="309.1" y="767.1" class="c7">10¹</text>
<text x="320.9" y="767.1" class="c7">10²</text>
<text x="333.9" y="767.1" class="c7">10³</text>
<text x="347.9" y="767.1" class="c7">10⁴</text>
<text x="360.9" y="767.1" class="c7">10⁵</text>
<text x="375.2" y="767.1" class="c7">10⁶</text>
<text x="388.2" y="767.1" class="c7">10⁷</text>
<text x="294.2" y="754.1" class="c7" transform="rotate(-90 294.2 754.1)">0</text>
<text x="294.2" y="743.8" class="c7" transform="rotate(-90 294.2 743.8)">10²</text>
<text x="294.2" y="730.8" class="c7" transform="rotate(-90 294.2 730.8)">10³</text>
<text x="294.2" y="717.7" class="c7" transform="rotate(-90 294.2 717.7)">10⁴</text>
<text x="294.2" y="702.7" class="c7" transform="rotate(-90 294.2 702.7)">10⁵</text>
<text x="294.2" y="687.7" class="c7" transform="rotate(-90 294.2 687.7)">10⁶</text>
<text x="294.2" y="672.8" class="c7" transform="rotate(-90 294.2 672.8)">10⁷</text>
<text x="298.8" y="676.9" class="c6">0.35%</text>
<text x="389.2" y="676.9" class="c8">6.29%</text>
<text x="297" y="755.9" class="c6">84.46%</text>
<text x="388.4" y="755.9" class="c8">8.90%</text>
<path d="M450 689.5h1m-9 2h1m14 4h1m6 0h1m-34 1h1m26 0h1m4 0h1m1 0h1m-1 1h1m-18 1h1m10 0h1m5 0h1m-15 1h1m10 0h3m1 0h1m-16 1h1m5 0h1m2 0h2m4 0h1m1 0h1m1 0h1m-23 1h1m9 0h1m1 0h3m4 0h1m-21 1h1m1 0h1m3 0h2m1 0h3m1 0h4m-24 1h1m7 0h1m4 0h1m2 0h9m1 0h1m2 0h1m-13 1h2m1 0h4m5 0h1m-18 1h2m1 0h5m4 0h1m-27 1h1m10 0h1m2 0h1m1 0h2m2 0h2m2 0h2m-26 1h2m2 0h1m5 0h2m2 0h2m3 0h1m2 0h2m-21 1h1m4 0h1m3 0h4m1 0h2m4 0h1m1 0h1m-31 1h1m2 0h1m4 0h1m6 0h1m1 0h1m11 0h1m-30 1h1m1 0h1m5 0h1m1 0h1m1 0h1m1 0h1m2 0h1m2 0h1m1 0h2m1 0h1m-38 1h1m14 0h1m2 0h1m1 0h1m4 0h1m1 0h1m3 0h1m2 0h1m2 0h1m1 0h2m-34 1h1m7 0h2m1 0h1m1 0h6m2 0h3m1 0h1m3 0h2m4 0h1m-36 1h1m5 0h1m4 0h1m2 0h1m1 0h2m1 0h1m4 0h1m1 0h1m1 0h3m1 0h2m-26 1h1m1 0h1m1 0h1m2 0h1m2 0h3m2 0h1m1 0h1m1 0h5m3 0h2m-35 1h1m4 0h1m1 0h1m1 0h3m2 0h1m1 0h1m1 0h1m2 0h3m1 0h4m1 0h1m5 0h1m-34 1h1m1 0h1m2 0h1m1 0h1m2 0h1m2 0h2m1 0h3m1 0h9m1 0h1m-36 1h1m1 0h1m1 0h1m2 0h4m1 0h1m2 0h2m2 0h3m1 0h1m1 0h8m2 0h1m-46 1h1m10 0h1m2 0h1m2 0h1m1 0h7m1 0h2m1 0h2m1 0h1m2 0h5m1 0h2m-37 1h1m2 0h2m2 0h5m1 0h4m1 0h4m1 0h4m2 0h1m1 0h1m5 0h1m2 0h1m-49 1h1m8 0h1m1 0h1m3 0h1m2 0h4m1 0h5m1 0h3m1 0h1m1 0h2m4 0h2m3 0h1m2 0h1m-39 1h2m2 0h1m1 0h2m1 0h2m1 0h3m1 0h2m2 0h1m1 0h1m1 0h4m1 0h1m-42 1h1m6 0h1m2 0h2m2 0h3m1 0h1m2 0h4m1 0h1m1 0h2m1 0h1m7 0h2m-33 1h1m1 0h1m1 0h2m1 0h1m1 0h5m1 0h8m1 0h2m6 0h1m-39 1h1m9 0h1m1 0h8m2 0h4m2 0h1m3 0h1m4 0h1m-37 1h1m6 0h2m2 0h2m1 0h1m2 0h9m1 0h4m8 0h1m-35 1h6m1 0h1m1 0h4m1 0h6m1 0h2m6 0h1m-35 1h1m6 0h1m3 0h3m1 0h8m1 0h1m1 0h2m1 0h1m-31 1h5m1 0h5m4 0h6m1 0h3m5 0h1m2 0h1m1 0h1m-34 1h4m3 0h1m1 0h3m2 0h2m1 0h1m9 0h1m-29 1h1m3 0h1m1 0h9m1 0h1m1 0h4m2 0h2m3 0h1m1 0h1m8 0h1m-48 1h1m5 0h1m1 0h1m1 0h1m2 0h1m1 0h1m1 0h2m1 0h2m1 0h4m3 0h1m-33 1h1m11 0h1m2 0h1m3 0h1m1 0h1m2 0h3m2 0h2m1 0h1m-36 1h1m6 0h2m5 0h1m2 0h1m1 0h2m2 0h1m1 0h1m2 0h1m9 0h1m-28 1h1m10 0h1m4 0h1m2 0h1m1 0h1m10 0h1m-37 1h2m7 0h1m2 0h1m6 0h1m4 0h1m-15 1h1m4 0h1m13 0h1m-15 1h1m1 0h1m-22 1h1m2 0h2m5 0h1m9 0h1m-3 1h1m-1 3h1m-4 1h1m2 0h1m16 0h1m-17 2h1m15 1h1m-34 10h1" fill="none" stroke="#1a2aff" stroke-width="1" stroke-opacity="0.6"/>
<ellipse cx="440" cy="721.7" rx="14.6" ry="9.7" fill="url(#core)" transform="rotate(-35 440 721.7)"/>
<ellipse cx="460.7" cy="703.6" rx="6.5" ry="3.8" fill="url(#coreB)" transform="rotate(-20 460.7 703.6)"/>
<ellipse cx="456.4" cy="716.4" rx="7.6" ry="4.3" fill="url(#coreB)" transform="rotate(-15 456.4 716.4)"/>
<line x1="450.8" y1="665.3" x2="450.8" y2="758.5" stroke="#858585" stroke-width="1.1"/>
<line x1="403.4" y1="711.4" x2="498.4" y2="711.4" stroke="#858585" stroke-width="1.1"/>
<rect x="403.4" y="665.3" width="95" height="93.2" fill="none" stroke="#6a6a6a" stroke-width="1.3"/>
<path d="M405.4 758.5v-1.5M408 758.5v-1.5M410.6 758.5v-1.5M413.2 758.5v-1.5M415.8 758.5v-1.5M418.4 758.5v-1.5M421 758.5v-1.5M423.6 758.5v-1.5M426.2 758.5v-1.5M428.8 758.5v-1.5M431.4 758.5v-1.5M434 758.5v-1.5M436.6 758.5v-1.5M439.2 758.5v-1.5M441.8 758.5v-1.5M444.4 758.5v-1.5M447 758.5v-1.5M449.6 758.5v-1.5M452.2 758.5v-1.5M454.8 758.5v-1.5M457.4 758.5v-1.5M460 758.5v-1.5M462.6 758.5v-1.5M465.2 758.5v-1.5M467.8 758.5v-1.5M470.4 758.5v-1.5M473 758.5v-1.5M475.6 758.5v-1.5M478.2 758.5v-1.5M480.8 758.5v-1.5M483.4 758.5v-1.5M486 758.5v-1.5M488.6 758.5v-1.5M491.2 758.5v-1.5M493.8 758.5v-1.5M496.4 758.5v-1.5M403.4 756.5h1.5M403.4 753.9h1.5M403.4 751.3h1.5M403.4 748.7h1.5M403.4 746.1h1.5M403.4 743.5h1.5M403.4 740.9h1.5M403.4 738.3h1.5M403.4 735.7h1.5M403.4 733.1h1.5M403.4 730.5h1.5M403.4 727.9h1.5M403.4 725.3h1.5M403.4 722.7h1.5M403.4 720.1h1.5M403.4 717.5h1.5M403.4 714.9h1.5M403.4 712.3h1.5M403.4 709.7h1.5M403.4 707.1h1.5M403.4 704.5h1.5M403.4 701.9h1.5M403.4 699.3h1.5M403.4 696.7h1.5M403.4 694.1h1.5M403.4 691.5h1.5M403.4 688.9h1.5M403.4 686.3h1.5M403.4 683.7h1.5M403.4 681.1h1.5M403.4 678.5h1.5M403.4 675.9h1.5M403.4 673.3h1.5M403.4 670.7h1.5M403.4 668.1h1.5" fill="none" stroke="#555" stroke-width="0.7"/>
<text x="408.4" y="766.8" class="c7">0</text>
<text x="416.4" y="766.8" class="c7">10¹</text>
<text x="428.3" y="766.8" class="c7">10²</text>
<text x="441.4" y="766.8" class="c7">10³</text>
<text x="455.5" y="766.8" class="c7">10⁴</text>
<text x="468.6" y="766.8" class="c7">10⁵</text>
<text x="483" y="766.8" class="c7">10⁶</text>
<text x="496.1" y="766.8" class="c7">10⁷</text>
<text x="401.4" y="753.8" class="c7" transform="rotate(-90 401.4 753.8)">0</text>
<text x="401.4" y="743.6" class="c7" transform="rotate(-90 401.4 743.6)">10²</text>
<text x="401.4" y="730.5" class="c7" transform="rotate(-90 401.4 730.5)">10³</text>
<text x="401.4" y="717.5" class="c7" transform="rotate(-90 401.4 717.5)">10⁴</text>
<text x="401.4" y="702.6" class="c7" transform="rotate(-90 401.4 702.6)">10⁵</text>
<text x="401.4" y="687.7" class="c7" transform="rotate(-90 401.4 687.7)">10⁶</text>
<text x="401.4" y="672.8" class="c7" transform="rotate(-90 401.4 672.8)">10⁷</text>
<text x="405.5" y="676.9" class="c6">0.25%</text>
<text x="498.4" y="676.9" class="c8">5.81%</text>
<text x="405.5" y="755.9" class="c6">87.65%</text>
<text x="497.1" y="755.9" class="c8">6.29%</text>
<path d="M122 801.5h1m33 0h1m-17 3h1m-1 1h2m-4 1h2m1 0h1m-5 1h6m-9 1h7m1 0h1m-7 1h4m-7 1h5m-11 1h1m5 0h1m2 0h2m-20 1h1m3 0h1m5 0h1m1 0h1m2 0h1m3 0h1m-8 2h1m-14 1h1m6 0h1m2 0h1m-4 1h1m-15 1h1m5 0h1m7 0h1m1 1h1m7 0h1m-25 1h1m1 0h1m5 0h1m12 0h1m-19 1h1m9 0h2m8 0h1m-35 1h1m17 0h3m2 0h1m1 0h2m1 0h2m1 0h1m1 0h1m-29 1h1m2 0h1m9 0h1m1 0h4m2 0h2m1 0h1m7 0h1m-30 1h1m1 0h1m1 0h1m2 0h1m2 0h5m1 0h1m3 0h2m19 0h1m-44 1h1m2 0h3m1 0h1m1 0h1m1 0h1m4 0h1m2 0h3m2 0h1m2 0h1m-17 1h2m1 0h1m1 0h1m3 0h5m-31 1h1m6 0h1m2 0h1m1 0h1m1 0h2m2 0h1m1 0h1m1 0h5m2 0h1m1 0h1m-24 1h2m1 0h1m3 0h7m1 0h2m4 0h1m-29 1h1m5 0h1m2 0h3m2 0h1m1 0h10m3 0h3m-26 1h1m6 0h3m1 0h5m1 0h2m4 0h1m3 0h1m-36 1h1m11 0h1m1 0h3m1 0h8m4 0h1m15 0h1m-45 1h1m2 0h1m7 0h3m1 0h4m1 0h4m3 0h2m10 0h1m1 0h1m-38 1h2m5 0h2m2 0h8m1 0h1m2 0h1m1 0h1m-33 1h1m8 0h1m1 0h4m3 0h2m1 0h2m1 0h1m4 0h2m5 0h1m-29 1h1m1 0h9m1 0h5m7 0h1m-32 1h1m1 0h1m2 0h1m1 0h2m2 0h9m2 0h2m1 0h1m1 0h4m-36 1h1m3 0h1m4 0h1m1 0h1m1 0h2m1 0h3m1 0h9m1 0h1m1 0h2m4 0h1m5 0h1m-36 1h2m2 0h2m1 0h1m1 0h7m1 0h2m1 0h1m1 0h1m5 0h2m-38 1h2m2 0h1m1 0h1m2 0h2m1 0h9m1 0h2m1 0h4m2 0h2m-33 1h1m5 0h1m3 0h1m1 0h1m2 0h3m1 0h3m6 0h3m11 0h1m-41 1h1m1 0h1m1 0h4m1 0h2m1 0h1m1 0h3m3 0h1m1 0h4m1 0h1m-33 1h1m9 0h2m1 0h2m1 0h1m3 0h1m1 0h1m3 0h2m3 0h1m-31 1h1m3 0h1m1 0h1m4 0h1m6 0h1m1 0h4m3 0h1m2 0h1m-33 1h1m1 0h1m5 0h1m1 0h1m9 0h1m1 0h2m1 0h2m1 0h1m5 0h1m3 0h1m-40 1h1m8 0h1m1 0h1m5 0h1m4 0h1m8 0h1m2 0h1m7 0h2m-29 1h1m5 0h1m-8 1h1m6 0h2m8 0h2m7 0h1m-37 1h1m12 0h1m6 0h1m4 1h1m-32 1h1m24 0h1m1 0h1m-8 1h1m-2 1h1m11 0h1m-2 1h1m-5 1h1m5 2h1m-32 1h1m43 0h1m-39 6h1" fill="none" stroke="#1a2aff" stroke-width="1" stroke-opacity="0.6"/>
<ellipse cx="118.3" cy="832" rx="13.5" ry="10.8" fill="url(#core)" transform="rotate(-45 118.3 832)"/>
<line x1="129.8" y1="769.3" x2="129.8" y2="863.3" stroke="#858585" stroke-width="1.1"/>
<line x1="83.2" y1="816.7" x2="177.7" y2="816.7" stroke="#858585" stroke-width="1.1"/>
<rect x="83.2" y="769.3" width="94.5" height="94" fill="none" stroke="#6a6a6a" stroke-width="1.3"/>
<path d="M85.2 863.3v-1.5M87.8 863.3v-1.5M90.4 863.3v-1.5M93 863.3v-1.5M95.6 863.3v-1.5M98.2 863.3v-1.5M100.8 863.3v-1.5M103.4 863.3v-1.5M106 863.3v-1.5M108.6 863.3v-1.5M111.2 863.3v-1.5M113.8 863.3v-1.5M116.4 863.3v-1.5M119 863.3v-1.5M121.6 863.3v-1.5M124.2 863.3v-1.5M126.8 863.3v-1.5M129.4 863.3v-1.5M132 863.3v-1.5M134.6 863.3v-1.5M137.2 863.3v-1.5M139.8 863.3v-1.5M142.4 863.3v-1.5M145 863.3v-1.5M147.6 863.3v-1.5M150.2 863.3v-1.5M152.8 863.3v-1.5M155.4 863.3v-1.5M158 863.3v-1.5M160.6 863.3v-1.5M163.2 863.3v-1.5M165.8 863.3v-1.5M168.4 863.3v-1.5M171 863.3v-1.5M173.6 863.3v-1.5M176.2 863.3v-1.5M83.2 861.3h1.5M83.2 858.7h1.5M83.2 856.1h1.5M83.2 853.5h1.5M83.2 850.9h1.5M83.2 848.3h1.5M83.2 845.7h1.5M83.2 843.1h1.5M83.2 840.5h1.5M83.2 837.9h1.5M83.2 835.3h1.5M83.2 832.7h1.5M83.2 830.1h1.5M83.2 827.5h1.5M83.2 824.9h1.5M83.2 822.3h1.5M83.2 819.7h1.5M83.2 817.1h1.5M83.2 814.5h1.5M83.2 811.9h1.5M83.2 809.3h1.5M83.2 806.7h1.5M83.2 804.1h1.5M83.2 801.5h1.5M83.2 798.9h1.5M83.2 796.3h1.5M83.2 793.7h1.5M83.2 791.1h1.5M83.2 788.5h1.5M83.2 785.9h1.5M83.2 783.3h1.5M83.2 780.7h1.5M83.2 778.1h1.5M83.2 775.5h1.5M83.2 772.9h1.5" fill="none" stroke="#555" stroke-width="0.7"/>
<text x="88.2" y="871.6" class="c7">0</text>
<text x="96.1" y="871.6" class="c7">10¹</text>
<text x="108" y="871.6" class="c7">10²</text>
<text x="121" y="871.6" class="c7">10³</text>
<text x="135" y="871.6" class="c7">10⁴</text>
<text x="148" y="871.6" class="c7">10⁵</text>
<text x="162.4" y="871.6" class="c7">10⁶</text>
<text x="175.4" y="871.6" class="c7">10⁷</text>
<text x="81.2" y="858.6" class="c7" transform="rotate(-90 81.2 858.6)">0</text>
<text x="81.2" y="848.3" class="c7" transform="rotate(-90 81.2 848.3)">10²</text>
<text x="81.2" y="835.1" class="c7" transform="rotate(-90 81.2 835.1)">10³</text>
<text x="81.2" y="821.9" class="c7" transform="rotate(-90 81.2 821.9)">10⁴</text>
<text x="81.2" y="806.9" class="c7" transform="rotate(-90 81.2 806.9)">10⁵</text>
<text x="81.2" y="791.9" class="c7" transform="rotate(-90 81.2 791.9)">10⁶</text>
<text x="81.2" y="776.8" class="c7" transform="rotate(-90 81.2 776.8)">10⁷</text>
<text x="85.6" y="782.2" class="c6">0.19%</text>
<text x="177" y="782.2" class="c8">1.68%</text>
<text x="85.6" y="861.2" class="c6">97.56%</text>
<text x="177" y="861.2" class="c8">0.57%</text>
<text x="96.1" y="779.8" class="c9">10¹</text>
<text x="108" y="779.8" class="c9">10²</text>
<text x="121" y="779.8" class="c9">10³</text>
<text x="135" y="779.8" class="c9">10⁴</text>
<text x="148" y="779.8" class="c9">10⁵</text>
<text x="162.4" y="779.8" class="c9">10⁶</text>
<text x="175.4" y="779.8" class="c9">10⁷</text>
<path d="M249 803.5h1m-37 1h1m17 0h1m21 1h1m-10 1h1m1 0h2m1 0h2m-4 1h2m5 0h1m-13 1h1m2 0h1m1 0h1m3 0h1m-47 1h1m36 0h5m-2 1h1m-6 1h5m-27 1h1m4 0h1m12 0h2m4 0h1m-12 1h1m6 0h1m0 1h1m5 0h1m2 0h1m-35 1h1m20 0h1m2 0h1m4 0h1m-27 1h1m22 0h1m2 0h1m-15 1h1m3 0h1m-9 1h1m1 0h1m-13 1h1m15 0h1m2 0h1m1 0h1m3 0h1m-26 1h1m8 0h1m7 0h1m1 0h1m18 0h1m-47 1h1m15 0h1m3 0h1m1 0h3m1 0h2m-15 1h1m1 0h1m6 0h1m5 0h2m4 0h1m-25 1h1m1 0h2m1 0h2m13 0h1m-14 1h3m1 0h5m1 0h1m4 0h2m4 0h1m-37 1h1m6 0h2m4 0h3m1 0h1m1 0h3m1 0h1m5 0h1m2 0h1m-23 1h2m2 0h3m3 0h4m3 0h1m2 0h1m2 0h1m-32 1h1m2 0h2m5 0h1m1 0h1m2 0h4m1 0h2m5 0h1m2 0h1m4 0h1m-45 1h1m16 0h3m1 0h1m1 0h2m3 0h2m1 0h3m3 0h1m-38 1h1m8 0h1m1 0h1m1 0h1m3 0h3m1 0h3m1 0h2m2 0h1m1 0h1m3 0h2m-25 1h1m1 0h2m1 0h3m3 0h1m1 0h6m1 0h1m2 0h1m-28 1h1m3 0h1m3 0h1m3 0h3m1 0h4m1 0h4m1 0h1m2 0h1m1 0h1m-29 1h1m1 0h1m1 0h1m1 0h4m3 0h3m2 0h1m1 0h2m1 0h1m-31 1h1m1 0h1m2 0h1m1 0h1m1 0h2m1 0h1m1 0h5m2 0h2m1 0h1m2 0h1m4 0h1m3 0h1m1 0h1m-44 1h1m8 0h1m2 0h4m2 0h2m1 0h13m-43 1h1m1 0h1m9 0h2m1 0h1m1 0h2m1 0h1m2 0h10m2 0h1m1 0h3m1 0h1m1 0h1m2 0h1m-37 1h1m3 0h2m1 0h1m2 0h3m1 0h11m1 0h1m1 0h1m1 0h3m1 0h1m6 0h1m-51 1h1m8 0h1m1 0h2m2 0h3m2 0h1m1 0h1m1 0h4m1 0h4m1 0h1m1 0h1m-31 1h2m3 0h3m1 0h1m1 0h1m1 0h2m3 0h10m1 0h1m2 0h1m1 0h1m17 0h1m-51 1h1m1 0h1m1 0h4m1 0h2m1 0h1m2 0h4m1 0h1m3 0h4m3 0h1m2 0h1m3 0h1m-47 1h1m6 0h1m5 0h1m3 0h2m3 0h8m4 0h1m1 0h2m-34 1h2m2 0h1m11 0h3m2 0h1m1 0h2m5 0h3m-25 1h1m4 0h1m2 0h3m2 0h1m1 0h3m5 0h1m8 0h1m-34 1h2m5 0h1m1 0h2m8 0h4m4 0h1m2 0h1m-38 1h1m10 0h1m12 0h1m1 0h1m4 0h1m-29 1h1m4 0h1m3 0h1m6 0h1m3 0h1m3 0h1m1 0h1m4 0h1m-11 1h1m1 0h1m-17 1h1m24 0h1m-20 1h1m7 0h3m1 1h1m-9 1h1m13 3h1m-19 2h1" fill="none" stroke="#1a2aff" stroke-width="1" stroke-opacity="0.6"/>
<ellipse cx="225.7" cy="832.6" rx="13.5" ry="10.8" fill="url(#coreR)" transform="rotate(-40 225.7 832.6)"/>
<line x1="236.4" y1="769.3" x2="236.4" y2="863.8" stroke="#858585" stroke-width="1.1"/>
<line x1="190" y1="816.7" x2="284.4" y2="816.7" stroke="#858585" stroke-width="1.1"/>
<rect x="190" y="769.3" width="94.4" height="94.5" fill="none" stroke="#6a6a6a" stroke-width="1.3"/>
<path d="M192 863.8v-1.5M194.6 863.8v-1.5M197.2 863.8v-1.5M199.8 863.8v-1.5M202.4 863.8v-1.5M205 863.8v-1.5M207.6 863.8v-1.5M210.2 863.8v-1.5M212.8 863.8v-1.5M215.4 863.8v-1.5M218 863.8v-1.5M220.6 863.8v-1.5M223.2 863.8v-1.5M225.8 863.8v-1.5M228.4 863.8v-1.5M231 863.8v-1.5M233.6 863.8v-1.5M236.2 863.8v-1.5M238.8 863.8v-1.5M241.4 863.8v-1.5M244 863.8v-1.5M246.6 863.8v-1.5M249.2 863.8v-1.5M251.8 863.8v-1.5M254.4 863.8v-1.5M257 863.8v-1.5M259.6 863.8v-1.5M262.2 863.8v-1.5M264.8 863.8v-1.5M267.4 863.8v-1.5M270 863.8v-1.5M272.6 863.8v-1.5M275.2 863.8v-1.5M277.8 863.8v-1.5M280.4 863.8v-1.5M283 863.8v-1.5M190 861.8h1.5M190 859.2h1.5M190 856.6h1.5M190 854h1.5M190 851.4h1.5M190 848.8h1.5M190 846.2h1.5M190 843.6h1.5M190 841h1.5M190 838.4h1.5M190 835.8h1.5M190 833.2h1.5M190 830.6h1.5M190 828h1.5M190 825.4h1.5M190 822.8h1.5M190 820.2h1.5M190 817.6h1.5M190 815h1.5M190 812.4h1.5M190 809.8h1.5M190 807.2h1.5M190 804.6h1.5M190 802h1.5M190 799.4h1.5M190 796.8h1.5M190 794.2h1.5M190 791.6h1.5M190 789h1.5M190 786.4h1.5M190 783.8h1.5M190 781.2h1.5M190 778.6h1.5M190 776h1.5M190 773.4h1.5" fill="none" stroke="#555" stroke-width="0.7"/>
<text x="195" y="872.1" class="c7">0</text>
<text x="202.9" y="872.1" class="c7">10¹</text>
<text x="214.7" y="872.1" class="c7">10²</text>
<text x="227.8" y="872.1" class="c7">10³</text>
<text x="241.7" y="872.1" class="c7">10⁴</text>
<text x="254.8" y="872.1" class="c7">10⁵</text>
<text x="269.1" y="872.1" class="c7">10⁶</text>
<text x="282.1" y="872.1" class="c7">10⁷</text>
<text x="188" y="859.1" class="c7" transform="rotate(-90 188 859.1)">0</text>
<text x="188" y="848.7" class="c7" transform="rotate(-90 188 848.7)">10²</text>
<text x="188" y="835.4" class="c7" transform="rotate(-90 188 835.4)">10³</text>
<text x="188" y="822.2" class="c7" transform="rotate(-90 188 822.2)">10⁴</text>
<text x="188" y="807.1" class="c7" transform="rotate(-90 188 807.1)">10⁵</text>
<text x="188" y="792" class="c7" transform="rotate(-90 188 792)">10⁶</text>
<text x="188" y="776.9" class="c7" transform="rotate(-90 188 776.9)">10⁷</text>
<text x="192.2" y="780.4" class="c6">0.08%</text>
<text x="283" y="780.4" class="c8">0.64%</text>
<text x="192.2" y="861.2" class="c6">99.09%</text>
<text x="283" y="861.2" class="c8">0.19%</text>
<text x="202.9" y="779.8" class="c9">10¹</text>
<text x="214.7" y="779.8" class="c9">10²</text>
<text x="227.8" y="779.8" class="c9">10³</text>
<text x="241.7" y="779.8" class="c9">10⁴</text>
<text x="254.8" y="779.8" class="c9">10⁵</text>
<text x="269.1" y="779.8" class="c9">10⁶</text>
<text x="282.1" y="779.8" class="c9">10⁷</text>
<path d="M343 796.5h1m17 1h1m-9 3h1m-6 1h1m9 0h2m-11 1h1m13 0h1m-17 1h1m2 0h1m3 0h2m1 0h2m1 0h1m-14 1h1m2 0h2m1 0h1m1 0h1m3 0h1m-13 1h2m3 0h2m2 0h1m1 0h2m-11 1h3m2 0h2m2 0h2m-32 1h1m19 0h1m3 0h1m1 0h3m1 0h1m-15 1h1m3 0h3m1 0h2m1 0h1m1 0h1m1 0h2m-18 1h7m1 0h2m1 0h2m3 0h2m-19 1h1m3 0h2m1 0h2m1 0h6m3 0h1m-39 1h1m23 0h1m2 0h2m1 0h4m7 0h1m-20 1h4m4 0h2m1 0h2m2 0h1m9 0h1m-40 1h1m4 0h1m11 0h2m2 0h1m2 0h3m1 0h1m3 0h1m-26 1h1m6 0h1m5 0h5m1 0h1m2 0h1m3 0h1m-18 1h1m1 0h2m1 0h2m1 0h3m8 0h1m-21 1h4m1 0h3m5 0h1m2 0h1m9 0h1m-40 1h1m14 0h1m1 0h5m1 0h1m2 0h2m8 0h1m-30 1h1m9 0h4m-28 1h1m6 0h2m12 0h2m1 0h8m2 0h2m-45 1h1m12 0h1m1 0h1m1 0h2m1 0h2m9 0h4m1 0h5m7 0h1m-45 1h1m7 0h2m1 0h1m3 0h2m2 0h1m1 0h2m4 0h1m1 0h2m1 0h2m2 0h2m1 0h1m-37 1h1m2 0h1m1 0h1m1 0h1m2 0h2m5 0h1m2 0h3m1 0h5m1 0h1m1 0h4m1 0h1m2 0h1m-38 1h1m3 0h6m1 0h1m7 0h2m1 0h2m1 0h6m4 0h1m-38 1h1m2 0h4m1 0h4m4 0h2m2 0h1m1 0h1m1 0h3m1 0h4m1 0h1m3 0h1m-38 1h1m2 0h1m1 0h1m4 0h2m1 0h2m2 0h1m1 0h1m1 0h1m1 0h2m1 0h5m1 0h1m4 0h1m2 0h1m-38 1h1m1 0h1m1 0h9m2 0h1m3 0h1m2 0h1m1 0h1m1 0h1m1 0h2m1 0h1m1 0h1m-49 1h1m10 0h3m1 0h1m1 0h1m1 0h1m1 0h1m4 0h3m3 0h1m3 0h2m2 0h3m1 0h1m1 0h1m-31 1h3m1 0h1m2 0h1m3 0h3m1 0h1m2 0h1m3 0h3m1 0h1m2 0h1m1 0h1m-39 1h2m3 0h9m1 0h2m7 0h1m1 0h2m1 0h3m1 0h1m8 0h1m-52 1h1m6 0h1m1 0h1m1 0h1m2 0h1m1 0h12m1 0h1m3 0h1m6 0h1m1 0h1m4 0h1m-41 1h2m1 0h1m1 0h1m1 0h1m1 0h13m1 0h3m7 0h1m3 0h1m3 0h1m-34 1h2m1 0h10m1 0h1m9 0h1m-35 1h1m4 0h2m1 0h4m3 0h6m2 0h1m1 0h5m-31 1h1m3 0h1m1 0h3m2 0h1m1 0h2m1 0h6m1 0h2m1 0h1m17 0h1m-41 1h1m3 0h5m2 0h3m1 0h2m1 0h2m1 0h2m7 0h1m7 0h1m-45 1h1m6 0h2m1 0h1m3 0h3m1 0h5m1 0h2m4 0h1m5 0h1m-29 1h1m1 0h3m2 0h13m1 0h1m5 0h1m-30 1h3m1 0h7m1 0h3m3 0h4m1 0h2m-25 1h2m2 0h1m1 0h2m3 0h4m1 0h7m-24 1h1m1 0h3m3 0h2m2 0h1m1 0h1m1 0h1m2 0h1m3 0h1m-21 1h2m1 0h1m2 0h3m2 0h1m1 0h3m2 0h1m2 0h1m4 0h2m13 0h1m-52 1h1m8 0h1m1 0h1m3 0h3m1 0h1m1 0h1m6 0h1m-28 1h1m4 0h1m7 0h2m2 0h1m1 0h2m2 0h1m16 0h1m-40 1h1m13 0h4m1 0h1m-14 1h3m2 0h1m1 0h3m1 0h1m3 0h2m2 0h1m4 0h1m-21 1h1m3 0h1m6 1h1m2 0h1m2 0h1m-31 1h1m9 0h1m15 0h1m5 0h2m-24 1h1m1 0h2m2 0h1m7 0h1m-14 2h2m6 0h3m-2 1h1m7 0h1m-30 4h1m10 1h1" fill="none" stroke="#1a2aff" stroke-width="1" stroke-opacity="0.6"/>
<ellipse cx="335.2" cy="832.6" rx="11.3" ry="10.8" fill="url(#core)" transform="rotate(-50 335.2 832.6)"/>
<ellipse cx="353.3" cy="810.7" rx="7.6" ry="6.5" fill="url(#coreG)" transform="rotate(-50 353.3 810.7)"/>
<ellipse cx="353.3" cy="823.5" rx="8.6" ry="7.6" fill="url(#coreB)" transform="rotate(-50 353.3 823.5)"/>
<line x1="342.8" y1="769.8" x2="342.8" y2="863.8" stroke="#858585" stroke-width="1.1"/>
<line x1="296.2" y1="816.7" x2="391.5" y2="816.7" stroke="#858585" stroke-width="1.1"/>
<rect x="296.2" y="769.8" width="95.3" height="94" fill="none" stroke="#6a6a6a" stroke-width="1.3"/>
<path d="M298.2 863.8v-1.5M300.8 863.8v-1.5M303.4 863.8v-1.5M306 863.8v-1.5M308.6 863.8v-1.5M311.2 863.8v-1.5M313.8 863.8v-1.5M316.4 863.8v-1.5M319 863.8v-1.5M321.6 863.8v-1.5M324.2 863.8v-1.5M326.8 863.8v-1.5M329.4 863.8v-1.5M332 863.8v-1.5M334.6 863.8v-1.5M337.2 863.8v-1.5M339.8 863.8v-1.5M342.4 863.8v-1.5M345 863.8v-1.5M347.6 863.8v-1.5M350.2 863.8v-1.5M352.8 863.8v-1.5M355.4 863.8v-1.5M358 863.8v-1.5M360.6 863.8v-1.5M363.2 863.8v-1.5M365.8 863.8v-1.5M368.4 863.8v-1.5M371 863.8v-1.5M373.6 863.8v-1.5M376.2 863.8v-1.5M378.8 863.8v-1.5M381.4 863.8v-1.5M384 863.8v-1.5M386.6 863.8v-1.5M389.2 863.8v-1.5M296.2 861.8h1.5M296.2 859.2h1.5M296.2 856.6h1.5M296.2 854h1.5M296.2 851.4h1.5M296.2 848.8h1.5M296.2 846.2h1.5M296.2 843.6h1.5M296.2 841h1.5M296.2 838.4h1.5M296.2 835.8h1.5M296.2 833.2h1.5M296.2 830.6h1.5M296.2 828h1.5M296.2 825.4h1.5M296.2 822.8h1.5M296.2 820.2h1.5M296.2 817.6h1.5M296.2 815h1.5M296.2 812.4h1.5M296.2 809.8h1.5M296.2 807.2h1.5M296.2 804.6h1.5M296.2 802h1.5M296.2 799.4h1.5M296.2 796.8h1.5M296.2 794.2h1.5M296.2 791.6h1.5M296.2 789h1.5M296.2 786.4h1.5M296.2 783.8h1.5M296.2 781.2h1.5M296.2 778.6h1.5M296.2 776h1.5M296.2 773.4h1.5" fill="none" stroke="#555" stroke-width="0.7"/>
<text x="301.3" y="872.1" class="c7">0</text>
<text x="309.3" y="872.1" class="c7">10¹</text>
<text x="321.2" y="872.1" class="c7">10²</text>
<text x="334.3" y="872.1" class="c7">10³</text>
<text x="348.4" y="872.1" class="c7">10⁴</text>
<text x="361.6" y="872.1" class="c7">10⁵</text>
<text x="376.1" y="872.1" class="c7">10⁶</text>
<text x="389.2" y="872.1" class="c7">10⁷</text>
<text x="294.2" y="859.1" class="c7" transform="rotate(-90 294.2 859.1)">0</text>
<text x="294.2" y="848.8" class="c7" transform="rotate(-90 294.2 848.8)">10²</text>
<text x="294.2" y="835.6" class="c7" transform="rotate(-90 294.2 835.6)">10³</text>
<text x="294.2" y="822.4" class="c7" transform="rotate(-90 294.2 822.4)">10⁴</text>
<text x="294.2" y="807.4" class="c7" transform="rotate(-90 294.2 807.4)">10⁵</text>
<text x="294.2" y="792.4" class="c7" transform="rotate(-90 294.2 792.4)">10⁶</text>
<text x="294.2" y="777.3" class="c7" transform="rotate(-90 294.2 777.3)">10⁷</text>
<text x="298.8" y="782.2" class="c6">0.23%</text>
<text x="392.3" y="782.2" class="c8">20.18%</text>
<text x="296.2" y="861.2" class="c6">62.17%</text>
<text x="390.5" y="861.2" class="c8">17.42%</text>
<text x="309.3" y="780.3" class="c9">10¹</text>
<text x="321.2" y="780.3" class="c9">10²</text>
<text x="334.3" y="780.3" class="c9">10³</text>
<text x="348.4" y="780.3" class="c9">10⁴</text>
<text x="361.6" y="780.3" class="c9">10⁵</text>
<text x="376.1" y="780.3" class="c9">10⁶</text>
<text x="389.2" y="780.3" class="c9">10⁷</text>
<path d="M454 795.5h1m0 1h1m12 1h1m12 1h1m-24 1h1m2 0h1m3 0h1m-22 1h1m30 0h1m-6 1h1m-22 1h1m3 0h1m8 0h1m8 0h1m2 0h1m-49 1h1m27 0h1m7 0h1m2 0h1m1 0h1m2 0h1m1 0h1m-16 1h1m3 0h1m1 0h1m4 0h1m-19 1h1m4 0h2m5 0h1m1 0h3m3 0h1m-14 1h2m1 0h2m1 0h1m1 0h1m1 0h1m1 0h2m1 0h1m3 0h1m-22 1h1m1 0h8m1 0h1m1 0h2m1 0h1m-22 1h1m1 0h1m2 0h1m1 0h3m2 0h3m3 0h1m4 0h1m11 0h1m-33 1h1m1 0h2m1 0h4m2 0h1m1 0h3m7 0h1m-27 1h1m3 0h1m1 0h1m1 0h1m2 0h3m1 0h2m5 0h1m-29 1h1m4 0h1m5 0h1m1 0h5m2 0h1m2 0h1m-11 1h1m6 0h1m1 0h1m-17 1h2m3 0h1m5 0h2m1 0h3m1 0h1m5 0h1m-27 1h2m3 0h2m6 0h1m1 0h1m3 0h1m3 0h1m-43 1h1m12 0h1m5 0h1m3 0h1m3 0h2m4 0h1m2 0h1m-55 1h1m10 0h1m2 0h1m8 0h1m20 0h1m1 0h1m4 0h1m1 0h1m1 0h1m2 0h1m-31 1h1m3 0h1m4 0h1m1 0h1m5 0h2m1 0h1m3 0h2m1 0h1m1 0h1m-34 1h1m9 0h1m1 0h1m4 0h2m1 0h3m4 0h2m1 0h1m2 0h1m-36 1h1m4 0h2m1 0h2m2 0h1m10 0h1m1 0h6m1 0h1m1 0h2m-39 1h1m5 0h1m2 0h1m9 0h1m1 0h2m2 0h3m2 0h2m1 0h2m3 0h1m1 0h1m-47 1h2m6 0h1m5 0h2m1 0h1m1 0h1m1 0h3m2 0h1m1 0h2m1 0h2m1 0h5m3 0h1m-46 1h1m10 0h1m4 0h1m1 0h2m1 0h1m1 0h1m8 0h3m2 0h1m2 0h2m11 0h1m-62 1h1m8 0h1m8 0h1m8 0h1m2 0h3m2 0h1m3 0h2m4 0h2m1 0h2m4 0h1m-39 1h1m2 0h1m1 0h5m1 0h1m1 0h1m1 0h1m10 0h6m1 0h1m1 0h1m1 0h2m-59 1h1m21 0h1m1 0h1m1 0h3m3 0h2m1 0h1m1 0h4m3 0h1m2 0h3m1 0h1m3 0h1m-42 1h1m6 0h4m1 0h1m1 0h1m1 0h1m1 0h2m1 0h1m2 0h1m1 0h2m1 0h4m2 0h1m1 0h3m-35 1h2m1 0h1m1 0h3m1 0h6m1 0h1m1 0h1m2 0h3m2 0h1m4 0h1m1 0h1m-46 1h1m12 0h1m3 0h1m3 0h1m2 0h1m1 0h1m1 0h3m3 0h2m3 0h1m-38 1h1m5 0h1m1 0h1m2 0h1m1 0h1m1 0h11m1 0h1m1 0h1m3 0h1m6 0h1m6 0h1m-37 1h1m1 0h3m1 0h2m1 0h6m1 0h1m1 0h2m1 0h1m1 0h1m7 0h1m-39 1h1m8 0h1m1 0h3m1 0h1m1 0h3m2 0h6m7 0h1m-39 1h1m7 0h1m1 0h4m1 0h13m1 0h2m8 0h1m-30 1h1m1 0h1m2 0h4m1 0h4m1 0h5m2 0h1m2 0h2m-41 1h1m2 0h1m8 0h2m2 0h1m1 0h4m1 0h4m3 0h5m1 0h1m-29 1h1m1 0h1m1 0h2m1 0h3m1 0h9m2 0h2m1 0h1m1 0h1m8 0h1m-35 1h1m3 0h3m1 0h2m1 0h2m1 0h3m4 0h1m1 0h1m4 0h3m6 0h1m-42 1h1m5 0h2m1 0h2m1 0h2m1 0h1m2 0h3m1 0h2m1 0h2m2 0h3m13 0h1m-44 1h1m6 0h2m2 0h6m1 0h1m8 0h1m2 0h1m1 0h1m-43 1h1m6 0h1m1 0h2m1 0h2m2 0h5m2 0h2m1 0h1m2 0h1m2 0h1m1 0h1m-33 1h1m4 0h4m2 0h3m2 0h2m3 0h1m1 0h3m1 0h1m1 0h1m-28 1h1m5 0h3m1 0h1m1 0h2m2 0h2m1 0h3m5 0h1m6 0h1m-29 1h2m1 0h1m6 0h1m3 0h1m1 0h2m1 0h1m5 0h1m3 0h1m-32 1h1m2 0h1m1 0h2m1 0h1m5 0h2m1 0h2m2 0h1m2 0h1m-36 1h1m14 0h1m11 0h1m6 0h1m2 0h2m-23 1h1m3 0h1m1 0h1m2 0h1m7 0h1m-34 1h1m13 0h1m23 0h1m1 0h1m-31 1h1m16 0h2m5 0h1m-22 1h1m14 0h1m15 0h1m-38 1h1m13 0h1m-24 1h1m15 0h1m12 0h1m1 0h2m-7 1h1m4 0h1m2 0h1m-24 2h1m22 0h1m-20 1h1m18 0h1m-23 1h1m43 1h1m-29 5h1" fill="none" stroke="#1a2aff" stroke-width="1" stroke-opacity="0.6"/>
<ellipse cx="440.5" cy="831" rx="11.9" ry="11.9" fill="url(#core)" transform="rotate(-50 440.5 831)"/>
<ellipse cx="461.7" cy="808.6" rx="9.7" ry="5.4" fill="url(#coreB)" transform="rotate(-20 461.7 808.6)"/>
<ellipse cx="460.7" cy="821.4" rx="9.7" ry="5.4" fill="url(#coreB)" transform="rotate(-20 460.7 821.4)"/>
<line x1="450.8" y1="769.8" x2="450.8" y2="864.1" stroke="#858585" stroke-width="1.1"/>
<line x1="404.2" y1="816.7" x2="499.5" y2="816.7" stroke="#858585" stroke-width="1.1"/>
<rect x="404.2" y="769.8" width="95.3" height="94.3" fill="none" stroke="#6a6a6a" stroke-width="1.3"/>
<path d="M406.2 864.1v-1.5M408.8 864.1v-1.5M411.4 864.1v-1.5M414 864.1v-1.5M416.6 864.1v-1.5M419.2 864.1v-1.5M421.8 864.1v-1.5M424.4 864.1v-1.5M427 864.1v-1.5M429.6 864.1v-1.5M432.2 864.1v-1.5M434.8 864.1v-1.5M437.4 864.1v-1.5M440 864.1v-1.5M442.6 864.1v-1.5M445.2 864.1v-1.5M447.8 864.1v-1.5M450.4 864.1v-1.5M453 864.1v-1.5M455.6 864.1v-1.5M458.2 864.1v-1.5M460.8 864.1v-1.5M463.4 864.1v-1.5M466 864.1v-1.5M468.6 864.1v-1.5M471.2 864.1v-1.5M473.8 864.1v-1.5M476.4 864.1v-1.5M479 864.1v-1.5M481.6 864.1v-1.5M484.2 864.1v-1.5M486.8 864.1v-1.5M489.4 864.1v-1.5M492 864.1v-1.5M494.6 864.1v-1.5M497.2 864.1v-1.5M404.2 862.1h1.5M404.2 859.5h1.5M404.2 856.9h1.5M404.2 854.3h1.5M404.2 851.7h1.5M404.2 849.1h1.5M404.2 846.5h1.5M404.2 843.9h1.5M404.2 841.3h1.5M404.2 838.7h1.5M404.2 836.1h1.5M404.2 833.5h1.5M404.2 830.9h1.5M404.2 828.3h1.5M404.2 825.7h1.5M404.2 823.1h1.5M404.2 820.5h1.5M404.2 817.9h1.5M404.2 815.3h1.5M404.2 812.7h1.5M404.2 810.1h1.5M404.2 807.5h1.5M404.2 804.9h1.5M404.2 802.3h1.5M404.2 799.7h1.5M404.2 797.1h1.5M404.2 794.5h1.5M404.2 791.9h1.5M404.2 789.3h1.5M404.2 786.7h1.5M404.2 784.1h1.5M404.2 781.5h1.5M404.2 778.9h1.5M404.2 776.3h1.5M404.2 773.7h1.5" fill="none" stroke="#555" stroke-width="0.7"/>
<text x="409.3" y="872.4" class="c7">0</text>
<text x="417.3" y="872.4" class="c7">10¹</text>
<text x="429.2" y="872.4" class="c7">10²</text>
<text x="442.3" y="872.4" class="c7">10³</text>
<text x="456.4" y="872.4" class="c7">10⁴</text>
<text x="469.6" y="872.4" class="c7">10⁵</text>
<text x="484.1" y="872.4" class="c7">10⁶</text>
<text x="497.2" y="872.4" class="c7">10⁷</text>
<text x="402.2" y="859.4" class="c7" transform="rotate(-90 402.2 859.4)">0</text>
<text x="402.2" y="849" class="c7" transform="rotate(-90 402.2 849)">10²</text>
<text x="402.2" y="835.8" class="c7" transform="rotate(-90 402.2 835.8)">10³</text>
<text x="402.2" y="822.6" class="c7" transform="rotate(-90 402.2 822.6)">10⁴</text>
<text x="402.2" y="807.5" class="c7" transform="rotate(-90 402.2 807.5)">10⁵</text>
<text x="402.2" y="792.4" class="c7" transform="rotate(-90 402.2 792.4)">10⁶</text>
<text x="402.2" y="777.3" class="c7" transform="rotate(-90 402.2 777.3)">10⁷</text>
<text x="406.8" y="782.2" class="c6">0.79%</text>
<text x="496.3" y="782.2" class="c8">13.41%</text>
<text x="405.5" y="861.2" class="c6">76.96%</text>
<text x="496.3" y="861.2" class="c8">8.84%</text>
<text x="417.3" y="780.3" class="c9">10¹</text>
<text x="429.2" y="780.3" class="c9">10²</text>
<text x="442.3" y="780.3" class="c9">10³</text>
<text x="456.4" y="780.3" class="c9">10⁴</text>
<text x="469.6" y="780.3" class="c9">10⁵</text>
<text x="484.1" y="780.3" class="c9">10⁶</text>
<text x="497.2" y="780.3" class="c9">10⁷</text>
<text x="512" y="780.3" class="c9">10⁷</text>
<text x="5.8" y="902.4" class="c0">M</text>
<path d="M32.1 891.8V1149H540" fill="none" stroke="#333" stroke-width="1.3"/>
<path d="M27.6 898.3L32.1 891.8L36.6 898.3" fill="none" stroke="#333" stroke-width="1.3"/>
<path d="M533.5 1144.5L540 1149L533.5 1153.5" fill="none" stroke="#333" stroke-width="1.3"/>
<text x="108.7" y="916.4" class="c1">-</text>
<text x="233" y="916.4" class="c1">+</text>
<text x="343" y="916.4" class="c1">-</text>
<text x="455" y="916.4" class="c1">+</text>
<text x="108.7" y="933.5" class="c1">-</text>
<text x="233" y="933.5" class="c1">-</text>
<text x="343" y="933.5" class="c1">+</text>
<text x="455" y="933.5" class="c1">+</text>
<text x="472.6" y="914.2" class="c2">BAPTA-AM (2.5μM)</text>
<text x="475.3" y="932.7" class="c2">CDDP (20μM)</text>
<text x="26.3" y="1034" class="c3" transform="rotate(-90 26.3 1034)">7-AAD</text>
<text x="51.3" y="1029.4" class="c1" transform="rotate(-90 51.3 1029.4)">HCC827</text>
<line x1="52.7" y1="992.7" x2="52.7" y2="1090" stroke="#222" stroke-width="1.2"/>
<text x="69.8" y="993.3" class="c4" transform="rotate(-90 69.8 993.3)">Vector</text>
<text x="69.8" y="1096.6" class="c4" transform="rotate(-90 69.8 1096.6)">CRTAC1</text>
<text x="230.4" y="1164.4" class="c5">Annexin V-APC</text>
<path d="M115 968.5h1m-4 7h1m4 0h1m-14 2h1m5 0h2m-1 1h1m-2 1h1m-3 1h1m-5 1h1m2 0h1m-1 1h1m1 0h1m-9 1h1m4 0h1m-9 1h1m9 0h1m-5 1h2m0 1h1m-21 1h1m12 0h1m2 0h2m-17 1h1m1 0h1m-6 1h1m1 0h3m8 0h3m2 0h2m-19 1h2m3 0h2m4 0h2m-13 1h1m5 0h2m2 0h1m5 0h1m-16 1h1m1 0h1m-7 1h2m4 0h3m6 0h2m2 0h1m-13 1h1m2 0h3m8 0h1m-22 1h1m6 0h1m3 0h1m4 0h2m3 0h1m-21 1h1m4 0h5m2 0h2m1 0h1m-16 1h1m2 0h10m2 0h1m6 0h1m-22 1h1m1 0h7m7 0h1m-19 1h9m2 0h5m-15 1h1m1 0h11m-14 1h2m1 0h1m1 0h8m1 0h1m1 0h2m2 0h1m-21 1h1m1 0h9m2 0h2m2 0h2m-18 1h4m1 0h9m1 0h1m1 0h1m-18 1h1m3 0h7m1 0h1m1 0h1m1 0h1m-17 1h9m1 0h3m1 0h2m1 0h1m-19 1h1m2 0h11m3 0h1m2 0h1m-16 1h3m2 0h4m1 0h2m2 0h1m-19 1h2m1 0h4m1 0h2m1 0h2m1 0h1m2 0h1m-14 1h3m1 0h1m1 0h2m3 0h1m4 0h1m-12 1h3m7 0h2m-16 1h1m2 0h3m1 0h1m1 0h1m1 0h1m-12 1h1m4 0h1m-7 2h1m10 0h1m-7 1h1m1 0h1m1 0h1m6 0h1m-13 1h1m9 0h1m-14 1h1m20 0h1m-8 3h1m-2 1h1" fill="none" stroke="#1a2aff" stroke-width="1" stroke-opacity="0.6"/>
<ellipse cx="90.8" cy="1002.8" rx="8.1" ry="9.7" fill="url(#core)" transform="rotate(-60 90.8 1002.8)"/>
<line x1="114.5" y1="938.5" x2="114.5" y2="1031.4" stroke="#858585" stroke-width="1.1"/>
<line x1="81.6" y1="981.4" x2="175.6" y2="981.4" stroke="#858585" stroke-width="1.1"/>
<rect x="81.6" y="938.5" width="94" height="92.9" fill="none" stroke="#6a6a6a" stroke-width="1.3"/>
<path d="M83.6 1031.4v-1.5M86.2 1031.4v-1.5M88.8 1031.4v-1.5M91.4 1031.4v-1.5M94 1031.4v-1.5M96.6 1031.4v-1.5M99.2 1031.4v-1.5M101.8 1031.4v-1.5M104.4 1031.4v-1.5M107 1031.4v-1.5M109.6 1031.4v-1.5M112.2 1031.4v-1.5M114.8 1031.4v-1.5M117.4 1031.4v-1.5M120 1031.4v-1.5M122.6 1031.4v-1.5M125.2 1031.4v-1.5M127.8 1031.4v-1.5M130.4 1031.4v-1.5M133 1031.4v-1.5M135.6 1031.4v-1.5M138.2 1031.4v-1.5M140.8 1031.4v-1.5M143.4 1031.4v-1.5M146 1031.4v-1.5M148.6 1031.4v-1.5M151.2 1031.4v-1.5M153.8 1031.4v-1.5M156.4 1031.4v-1.5M159 1031.4v-1.5M161.6 1031.4v-1.5M164.2 1031.4v-1.5M166.8 1031.4v-1.5M169.4 1031.4v-1.5M172 1031.4v-1.5M174.6 1031.4v-1.5M81.6 1029.4h1.5M81.6 1026.8h1.5M81.6 1024.2h1.5M81.6 1021.6h1.5M81.6 1019h1.5M81.6 1016.4h1.5M81.6 1013.8h1.5M81.6 1011.2h1.5M81.6 1008.6h1.5M81.6 1006h1.5M81.6 1003.4h1.5M81.6 1000.8h1.5M81.6 998.2h1.5M81.6 995.6h1.5M81.6 993h1.5M81.6 990.4h1.5M81.6 987.8h1.5M81.6 985.2h1.5M81.6 982.6h1.5M81.6 980h1.5M81.6 977.4h1.5M81.6 974.8h1.5M81.6 972.2h1.5M81.6 969.6h1.5M81.6 967h1.5M81.6 964.4h1.5M81.6 961.8h1.5M81.6 959.2h1.5M81.6 956.6h1.5M81.6 954h1.5M81.6 951.4h1.5M81.6 948.8h1.5M81.6 946.2h1.5M81.6 943.6h1.5M81.6 941h1.5" fill="none" stroke="#555" stroke-width="0.7"/>
<text x="90.8" y="1039.7" class="c7">0</text>
<text x="100.8" y="1039.7" class="c7">10³</text>
<text x="117.2" y="1039.7" class="c7">10⁴</text>
<text x="134.2" y="1039.7" class="c7">10⁵</text>
<text x="152.7" y="1039.7" class="c7">10⁶</text>
<text x="171.1" y="1039.7" class="c7">10⁷</text>
<text x="79.6" y="1026.8" class="c7" transform="rotate(-90 79.6 1026.8)">0</text>
<text x="79.6" y="1016.5" class="c7" transform="rotate(-90 79.6 1016.5)">10²</text>
<text x="79.6" y="1003.5" class="c7" transform="rotate(-90 79.6 1003.5)">10³</text>
<text x="79.6" y="990.5" class="c7" transform="rotate(-90 79.6 990.5)">10⁴</text>
<text x="79.6" y="975.7" class="c7" transform="rotate(-90 79.6 975.7)">10⁵</text>
<text x="79.6" y="960.8" class="c7" transform="rotate(-90 79.6 960.8)">10⁶</text>
<text x="79.6" y="945.9" class="c7" transform="rotate(-90 79.6 945.9)">10⁷</text>
<text x="83.7" y="949.8" class="c10">0.22%</text>
<text x="174.3" y="949.8" class="c11">0.08%</text>
<text x="83.7" y="1030.1" class="c10">99.68%</text>
<text x="175.1" y="1030.1" class="c11">0.02%</text>
<path d="M224 968.5h1m-1 2h1m1 3h1m-9 5h1m-6 1h2m-1 1h1m4 0h1m0 1h1m-9 1h1m2 0h1m-9 1h1m6 0h1m-19 1h1m15 0h1m3 0h1m-7 1h1m1 0h2m4 0h1m-14 1h1m5 0h1m2 0h1m-16 1h1m9 0h1m4 0h1m-8 3h1m3 0h2m-8 1h3m3 0h1m5 0h1m-19 1h1m8 1h1m-16 1h2m1 0h1m1 0h1m1 0h3m-10 1h1m2 0h3m3 0h1m1 0h3m-17 1h4m3 0h8m2 0h3m-17 1h1m1 0h1m2 0h3m1 0h1m1 0h3m7 0h1m-23 1h15m3 0h1m-19 1h1m2 0h1m1 0h1m1 0h3m1 0h2m1 0h1m2 0h1m-17 1h5m1 0h7m3 0h1m-20 1h6m1 0h5m1 0h1m2 0h2m1 0h1m-19 1h5m1 0h1m1 0h5m1 0h3m10 0h1m-29 1h3m1 0h3m1 0h1m1 0h3m1 0h2m1 0h2m7 0h1m-25 1h5m1 0h8m2 0h2m-19 1h1m1 0h13m1 0h1m1 0h1m1 0h1m2 0h1m-25 1h1m2 0h3m2 0h6m2 0h2m-16 1h1m1 0h2m1 0h2m1 0h2m1 0h4m2 0h1m-20 1h1m6 0h5m2 0h1m1 0h1m11 0h1m-26 1h4m2 0h1m1 0h1m1 0h3m-10 1h1m1 0h1m1 0h4m3 0h1m-14 1h1m2 0h1m4 0h1m-13 1h1m1 0h1m10 0h1m2 0h1m2 0h1m-19 1h2m9 0h1m10 2h1m4 0h1m4 0h1m-30 2h1m8 1h1m-10 7h1" fill="none" stroke="#1a2aff" stroke-width="1" stroke-opacity="0.6"/>
<ellipse cx="199.4" cy="1002.8" rx="8.1" ry="9.7" fill="url(#core)" transform="rotate(-60 199.4 1002.8)"/>
<line x1="223.3" y1="938.5" x2="223.3" y2="1030.6" stroke="#858585" stroke-width="1.1"/>
<line x1="189.6" y1="981.4" x2="285.2" y2="981.4" stroke="#858585" stroke-width="1.1"/>
<rect x="189.6" y="938.5" width="95.6" height="92.1" fill="none" stroke="#6a6a6a" stroke-width="1.3"/>
<path d="M191.6 1030.6v-1.5M194.2 1030.6v-1.5M196.8 1030.6v-1.5M199.4 1030.6v-1.5M202 1030.6v-1.5M204.6 1030.6v-1.5M207.2 1030.6v-1.5M209.8 1030.6v-1.5M212.4 1030.6v-1.5M215 1030.6v-1.5M217.6 1030.6v-1.5M220.2 1030.6v-1.5M222.8 1030.6v-1.5M225.4 1030.6v-1.5M228 1030.6v-1.5M230.6 1030.6v-1.5M233.2 1030.6v-1.5M235.8 1030.6v-1.5M238.4 1030.6v-1.5M241 1030.6v-1.5M243.6 1030.6v-1.5M246.2 1030.6v-1.5M248.8 1030.6v-1.5M251.4 1030.6v-1.5M254 1030.6v-1.5M256.6 1030.6v-1.5M259.2 1030.6v-1.5M261.8 1030.6v-1.5M264.4 1030.6v-1.5M267 1030.6v-1.5M269.6 1030.6v-1.5M272.2 1030.6v-1.5M274.8 1030.6v-1.5M277.4 1030.6v-1.5M280 1030.6v-1.5M282.6 1030.6v-1.5M189.6 1028.6h1.5M189.6 1026h1.5M189.6 1023.4h1.5M189.6 1020.8h1.5M189.6 1018.2h1.5M189.6 1015.6h1.5M189.6 1013h1.5M189.6 1010.4h1.5M189.6 1007.8h1.5M189.6 1005.2h1.5M189.6 1002.6h1.5M189.6 1000h1.5M189.6 997.4h1.5M189.6 994.8h1.5M189.6 992.2h1.5M189.6 989.6h1.5M189.6 987h1.5M189.6 984.4h1.5M189.6 981.8h1.5M189.6 979.2h1.5M189.6 976.6h1.5M189.6 974h1.5M189.6 971.4h1.5M189.6 968.8h1.5M189.6 966.2h1.5M189.6 963.6h1.5M189.6 961h1.5M189.6 958.4h1.5M189.6 955.8h1.5M189.6 953.2h1.5M189.6 950.6h1.5M189.6 948h1.5M189.6 945.4h1.5M189.6 942.8h1.5" fill="none" stroke="#555" stroke-width="0.7"/>
<text x="199" y="1038.9" class="c7">0</text>
<text x="209.1" y="1038.9" class="c7">10³</text>
<text x="225.8" y="1038.9" class="c7">10⁴</text>
<text x="243.1" y="1038.9" class="c7">10⁵</text>
<text x="261.9" y="1038.9" class="c7">10⁶</text>
<text x="280.6" y="1038.9" class="c7">10⁷</text>
<text x="187.6" y="1026" class="c7" transform="rotate(-90 187.6 1026)">0</text>
<text x="187.6" y="1015.9" class="c7" transform="rotate(-90 187.6 1015.9)">10²</text>
<text x="187.6" y="1003" class="c7" transform="rotate(-90 187.6 1003)">10³</text>
<text x="187.6" y="990.1" class="c7" transform="rotate(-90 187.6 990.1)">10⁴</text>
<text x="187.6" y="975.3" class="c7" transform="rotate(-90 187.6 975.3)">10⁵</text>
<text x="187.6" y="960.6" class="c7" transform="rotate(-90 187.6 960.6)">10⁶</text>
<text x="187.6" y="945.9" class="c7" transform="rotate(-90 187.6 945.9)">10⁷</text>
<text x="191.7" y="949.8" class="c10">0.30%</text>
<text x="282.3" y="949.8" class="c11">0.06%</text>
<text x="191.7" y="1030.1" class="c10">99.63%</text>
<text x="285.7" y="1030.1" class="c11">0.01%</text>
<path d="M336 955.5h1m9 1h1m-4 1h1m-1 3h1m-7 1h1m2 0h1m2 1h1m15 1h1m-28 1h1m9 0h1m-26 1h1m17 0h1m1 0h1m1 0h1m3 0h1m4 0h1m1 0h1m-17 1h1m3 0h2m4 0h1m2 0h1m3 0h1m-20 1h2m2 0h2m2 0h3m6 0h1m9 0h1m-33 1h1m1 0h1m4 0h1m1 0h3m1 0h4m4 0h1m1 0h1m-24 1h3m6 0h1m2 0h2m1 0h1m1 0h2m7 0h1m4 0h1m-30 1h2m7 0h1m2 0h1m1 0h1m2 0h3m1 0h1m-27 1h1m7 0h1m1 0h2m5 0h2m2 0h1m1 0h1m2 0h2m1 0h2m-22 1h2m1 0h4m1 0h1m1 0h1m2 0h1m5 0h1m-21 1h2m3 0h8m1 0h2m-23 1h1m5 0h2m2 0h2m1 0h5m1 0h1m1 0h2m2 0h1m-24 1h1m4 0h2m4 0h4m1 0h4m-13 1h2m1 0h1m2 0h1m1 0h1m2 0h1m2 0h1m5 0h1m-31 1h2m7 0h1m2 0h1m1 0h1m3 0h2m2 0h2m1 0h1m1 0h1m-20 1h1m3 0h1m2 0h1m4 0h1m-27 1h1m1 0h2m5 0h1m4 0h1m2 0h3m1 0h3m3 0h1m-24 1h1m14 0h1m3 0h1m1 0h2m-29 1h1m14 0h1m3 0h1m2 0h1m1 0h1m2 0h1m1 0h1m2 0h2m4 0h1m-41 1h1m15 0h1m2 0h1m4 0h2m1 0h2m2 0h1m-35 1h1m6 0h1m5 0h1m9 0h2m1 0h1m2 0h1m1 0h3m-16 1h1m4 0h1m3 0h2m2 0h3m-37 1h2m14 0h1m1 0h2m2 0h1m4 0h8m-35 1h1m3 0h1m5 0h3m2 0h1m4 0h1m2 0h2m5 0h2m1 0h1m-29 1h1m2 0h1m4 0h1m2 0h1m1 0h1m1 0h2m1 0h1m1 0h2m3 0h1m1 0h7m1 0h1m-37 1h5m1 0h1m2 0h1m2 0h2m1 0h2m1 0h1m1 0h1m1 0h1m1 0h1m2 0h1m3 0h1m1 0h1m-30 1h1m1 0h3m1 0h2m1 0h1m1 0h1m2 0h1m3 0h1m1 0h1m2 0h1m2 0h1m3 0h1m-42 1h2m1 0h1m3 0h1m1 0h3m1 0h5m3 0h1m1 0h1m1 0h1m4 0h1m2 0h2m2 0h1m-39 1h2m3 0h14m1 0h2m3 0h1m1 0h1m1 0h1m2 0h1m3 0h1m-29 1h15m6 0h1m2 0h1m2 0h1m-35 1h1m2 0h1m3 0h1m2 0h2m1 0h5m3 0h1m2 0h1m2 0h2m6 0h1m-35 1h1m1 0h2m2 0h3m1 0h7m2 0h2m3 0h1m1 0h1m4 0h1m-37 1h1m2 0h1m3 0h5m1 0h1m1 0h7m1 0h2m1 0h1m2 0h1m5 0h1m-36 1h1m1 0h6m1 0h5m2 0h10m-26 1h1m2 0h7m2 0h9m1 0h2m1 0h1m1 0h2m3 0h1m1 0h1m-32 1h1m2 0h1m2 0h1m1 0h4m1 0h4m2 0h2m1 0h2m1 0h2m5 0h1m-36 1h3m1 0h6m1 0h4m3 0h2m-19 1h1m2 0h2m2 0h6m2 0h1m1 0h1m1 0h4m-19 1h5m2 0h3m1 0h1m2 0h2m-21 1h1m1 0h1m3 0h3m1 0h2m1 0h1m1 0h2m2 0h1m1 0h1m17 0h1m-34 1h4m3 0h1m4 0h1m1 0h1m2 0h2m2 0h1m-28 1h5m4 0h4m1 0h2m-15 1h1m3 0h1m2 0h1m4 0h1m2 0h2m1 0h1m7 0h1m-26 1h2m5 0h2m9 0h1m-14 1h1m1 0h2m1 0h1m-4 1h1m3 0h1m-9 1h1m-2 2h1m18 2h1m-16 1h1m1 3h1" fill="none" stroke="#1a2aff" stroke-width="1" stroke-opacity="0.6"/>
<ellipse cx="316.7" cy="995.3" rx="15.1" ry="7.6" fill="url(#core)" transform="rotate(-25 316.7 995.3)"/>
<ellipse cx="340.4" cy="972.7" rx="10.8" ry="7.6" fill="url(#coreB)" transform="rotate(-20 340.4 972.7)"/>
<line x1="333" y1="938.5" x2="333" y2="1030.6" stroke="#858585" stroke-width="1.1"/>
<line x1="300.2" y1="981.4" x2="395" y2="981.4" stroke="#858585" stroke-width="1.1"/>
<rect x="300.2" y="938.5" width="94.8" height="92.1" fill="none" stroke="#6a6a6a" stroke-width="1.3"/>
<path d="M302.2 1030.6v-1.5M304.8 1030.6v-1.5M307.4 1030.6v-1.5M310 1030.6v-1.5M312.6 1030.6v-1.5M315.2 1030.6v-1.5M317.8 1030.6v-1.5M320.4 1030.6v-1.5M323 1030.6v-1.5M325.6 1030.6v-1.5M328.2 1030.6v-1.5M330.8 1030.6v-1.5M333.4 1030.6v-1.5M336 1030.6v-1.5M338.6 1030.6v-1.5M341.2 1030.6v-1.5M343.8 1030.6v-1.5M346.4 1030.6v-1.5M349 1030.6v-1.5M351.6 1030.6v-1.5M354.2 1030.6v-1.5M356.8 1030.6v-1.5M359.4 1030.6v-1.5M362 1030.6v-1.5M364.6 1030.6v-1.5M367.2 1030.6v-1.5M369.8 1030.6v-1.5M372.4 1030.6v-1.5M375 1030.6v-1.5M377.6 1030.6v-1.5M380.2 1030.6v-1.5M382.8 1030.6v-1.5M385.4 1030.6v-1.5M388 1030.6v-1.5M390.6 1030.6v-1.5M393.2 1030.6v-1.5M300.2 1028.6h1.5M300.2 1026h1.5M300.2 1023.4h1.5M300.2 1020.8h1.5M300.2 1018.2h1.5M300.2 1015.6h1.5M300.2 1013h1.5M300.2 1010.4h1.5M300.2 1007.8h1.5M300.2 1005.2h1.5M300.2 1002.6h1.5M300.2 1000h1.5M300.2 997.4h1.5M300.2 994.8h1.5M300.2 992.2h1.5M300.2 989.6h1.5M300.2 987h1.5M300.2 984.4h1.5M300.2 981.8h1.5M300.2 979.2h1.5M300.2 976.6h1.5M300.2 974h1.5M300.2 971.4h1.5M300.2 968.8h1.5M300.2 966.2h1.5M300.2 963.6h1.5M300.2 961h1.5M300.2 958.4h1.5M300.2 955.8h1.5M300.2 953.2h1.5M300.2 950.6h1.5M300.2 948h1.5M300.2 945.4h1.5M300.2 942.8h1.5" fill="none" stroke="#555" stroke-width="0.7"/>
<text x="309.5" y="1038.9" class="c7">0</text>
<text x="319.5" y="1038.9" class="c7">10³</text>
<text x="336.1" y="1038.9" class="c7">10⁴</text>
<text x="353.3" y="1038.9" class="c7">10⁵</text>
<text x="371.9" y="1038.9" class="c7">10⁶</text>
<text x="390.4" y="1038.9" class="c7">10⁷</text>
<text x="298.2" y="1026" class="c7" transform="rotate(-90 298.2 1026)">0</text>
<text x="298.2" y="1015.9" class="c7" transform="rotate(-90 298.2 1015.9)">10²</text>
<text x="298.2" y="1003" class="c7" transform="rotate(-90 298.2 1003)">10³</text>
<text x="298.2" y="990.1" class="c7" transform="rotate(-90 298.2 990.1)">10⁴</text>
<text x="298.2" y="975.3" class="c7" transform="rotate(-90 298.2 975.3)">10⁵</text>
<text x="298.2" y="960.6" class="c7" transform="rotate(-90 298.2 960.6)">10⁶</text>
<text x="298.2" y="945.9" class="c7" transform="rotate(-90 298.2 945.9)">10⁷</text>
<text x="301.5" y="949.8" class="c10">3.78%</text>
<text x="397" y="949.8" class="c11">16.45%</text>
<text x="302.3" y="1030.1" class="c10">72.53%</text>
<text x="395.7" y="1030.1" class="c11">7.24%</text>
<path d="M449 958.5h1m1 0h1m6 1h1m13 0h1m-42 3h1m7 0h1m13 0h1m2 0h1m-10 1h2m4 0h1m6 0h1m-30 1h1m13 0h1m2 0h1m8 0h1m8 0h1m-24 1h1m1 0h2m8 0h3m-15 1h2m2 0h2m2 0h1m1 0h1m2 0h3m2 0h1m5 0h1m-15 1h3m1 0h2m-15 1h1m1 0h7m1 0h3m-16 1h1m2 0h7m1 0h1m1 0h1m1 0h1m1 0h3m-18 1h4m2 0h1m2 0h1m1 0h1m1 0h1m4 0h1m1 0h1m-26 1h1m3 0h3m2 0h1m1 0h1m1 0h2m1 0h2m1 0h1m-16 1h2m1 0h3m2 0h1m2 0h1m1 0h1m-29 1h1m15 0h3m1 0h3m4 0h1m9 0h1m-44 1h1m18 0h1m1 0h1m1 0h2m2 0h2m1 0h2m1 0h1m-16 1h1m4 0h1m2 0h2m4 0h1m2 0h1m-40 1h1m17 0h1m1 0h2m2 0h1m3 0h5m6 0h3m-24 1h1m2 0h1m1 0h1m2 0h1m1 0h3m2 0h3m-11 1h1m5 0h1m1 0h1m-8 1h1m3 0h2m3 0h1m14 0h1m-35 1h1m4 0h2m10 0h1m1 0h1m4 0h1m4 0h1m-39 1h1m4 0h1m22 0h2m2 0h4m4 0h2m-38 1h1m1 0h1m3 0h1m13 0h1m3 0h1m1 0h2m3 0h1m3 0h1m10 0h1m-50 1h1m6 0h1m6 0h1m4 0h3m2 0h1m1 0h4m5 0h1m3 0h1m-47 1h1m12 0h5m1 0h1m1 0h1m4 0h1m1 0h1m2 0h1m1 0h1m2 0h2m4 0h1m-42 1h1m4 0h1m3 0h1m1 0h1m1 0h5m6 0h1m4 0h2m2 0h2m1 0h4m1 0h1m1 0h1m2 0h1m-52 1h1m5 0h2m3 0h1m1 0h1m1 0h3m4 0h1m9 0h1m3 0h1m3 0h3m2 0h2m-48 1h2m8 0h1m4 0h1m4 0h4m3 0h1m3 0h1m1 0h1m1 0h1m3 0h2m1 0h2m-42 1h1m9 0h5m1 0h1m1 0h2m1 0h1m9 0h2m1 0h1m3 0h2m-38 1h1m1 0h1m1 0h1m3 0h6m4 0h1m4 0h1m8 0h1m2 0h2m1 0h1m1 0h2m-41 1h2m1 0h2m1 0h2m1 0h2m1 0h2m16 0h1m4 0h1m2 0h1m-40 1h3m1 0h2m1 0h5m3 0h2m2 0h1m11 0h1m3 0h2m-39 1h1m5 0h2m1 0h2m1 0h7m-24 1h1m4 0h2m2 0h1m1 0h1m1 0h7m1 0h3m3 0h1m-26 1h1m1 0h1m1 0h1m2 0h1m1 0h1m1 0h9m-19 1h1m1 0h1m2 0h2m1 0h5m1 0h4m10 0h1m-33 1h1m1 0h2m2 0h1m1 0h2m1 0h5m1 0h7m-23 1h3m1 0h1m1 0h2m1 0h4m2 0h7m-20 1h10m1 0h2m1 0h1m2 0h2m9 0h1m-30 1h2m2 0h8m1 0h2m2 0h1m16 0h1m-37 1h1m3 0h2m2 0h3m1 0h3m1 0h1m1 0h3m2 0h1m-24 1h1m1 0h1m1 0h3m1 0h4m2 0h2m4 0h1m1 0h1m3 0h1m-25 1h3m1 0h1m1 0h3m1 0h5m-15 1h1m1 0h6m1 0h2m1 0h1m2 0h1m-17 1h1m2 0h3m1 0h4m1 0h3m4 0h1m12 0h1m-33 1h3m1 0h10m-11 1h2m1 0h1m1 0h3m1 0h1m6 0h1m9 0h1m-25 1h1m4 0h1m2 0h1m2 0h2m-18 1h1m4 0h1m2 0h3m1 0h1m-12 1h1m2 0h1m2 0h1m5 0h1m-14 1h1m1 0h1m4 0h2m19 0h1m-30 1h2m3 0h4m3 0h1m1 0h1m1 0h1m-13 1h1m5 0h1m7 0h1m-19 1h1m3 0h1m1 2h1m-1 8h1m0 5h1" fill="none" stroke="#1a2aff" stroke-width="1" stroke-opacity="0.6"/>
<ellipse cx="421" cy="998.6" rx="14" ry="8.1" fill="url(#core)" transform="rotate(-45 421 998.6)"/>
<ellipse cx="450.1" cy="970.5" rx="9.7" ry="6.5" fill="url(#coreB)" transform="rotate(-20 450.1 970.5)"/>
<line x1="441.8" y1="938.5" x2="441.8" y2="1030.6" stroke="#858585" stroke-width="1.1"/>
<line x1="408" y1="981.4" x2="503" y2="981.4" stroke="#858585" stroke-width="1.1"/>
<rect x="408" y="938.5" width="95" height="92.1" fill="none" stroke="#6a6a6a" stroke-width="1.3"/>
<path d="M410 1030.6v-1.5M412.6 1030.6v-1.5M415.2 1030.6v-1.5M417.8 1030.6v-1.5M420.4 1030.6v-1.5M423 1030.6v-1.5M425.6 1030.6v-1.5M428.2 1030.6v-1.5M430.8 1030.6v-1.5M433.4 1030.6v-1.5M436 1030.6v-1.5M438.6 1030.6v-1.5M441.2 1030.6v-1.5M443.8 1030.6v-1.5M446.4 1030.6v-1.5M449 1030.6v-1.5M451.6 1030.6v-1.5M454.2 1030.6v-1.5M456.8 1030.6v-1.5M459.4 1030.6v-1.5M462 1030.6v-1.5M464.6 1030.6v-1.5M467.2 1030.6v-1.5M469.8 1030.6v-1.5M472.4 1030.6v-1.5M475 1030.6v-1.5M477.6 1030.6v-1.5M480.2 1030.6v-1.5M482.8 1030.6v-1.5M485.4 1030.6v-1.5M488 1030.6v-1.5M490.6 1030.6v-1.5M493.2 1030.6v-1.5M495.8 1030.6v-1.5M498.4 1030.6v-1.5M501 1030.6v-1.5M408 1028.6h1.5M408 1026h1.5M408 1023.4h1.5M408 1020.8h1.5M408 1018.2h1.5M408 1015.6h1.5M408 1013h1.5M408 1010.4h1.5M408 1007.8h1.5M408 1005.2h1.5M408 1002.6h1.5M408 1000h1.5M408 997.4h1.5M408 994.8h1.5M408 992.2h1.5M408 989.6h1.5M408 987h1.5M408 984.4h1.5M408 981.8h1.5M408 979.2h1.5M408 976.6h1.5M408 974h1.5M408 971.4h1.5M408 968.8h1.5M408 966.2h1.5M408 963.6h1.5M408 961h1.5M408 958.4h1.5M408 955.8h1.5M408 953.2h1.5M408 950.6h1.5M408 948h1.5M408 945.4h1.5M408 942.8h1.5" fill="none" stroke="#555" stroke-width="0.7"/>
<text x="417.3" y="1038.9" class="c7">0</text>
<text x="427.4" y="1038.9" class="c7">10³</text>
<text x="444" y="1038.9" class="c7">10⁴</text>
<text x="461.2" y="1038.9" class="c7">10⁵</text>
<text x="479.8" y="1038.9" class="c7">10⁶</text>
<text x="498.4" y="1038.9" class="c7">10⁷</text>
<text x="406" y="1026" class="c7" transform="rotate(-90 406 1026)">0</text>
<text x="406" y="1015.9" class="c7" transform="rotate(-90 406 1015.9)">10²</text>
<text x="406" y="1003" class="c7" transform="rotate(-90 406 1003)">10³</text>
<text x="406" y="990.1" class="c7" transform="rotate(-90 406 990.1)">10⁴</text>
<text x="406" y="975.3" class="c7" transform="rotate(-90 406 975.3)">10⁵</text>
<text x="406" y="960.6" class="c7" transform="rotate(-90 406 960.6)">10⁶</text>
<text x="406" y="945.9" class="c7" transform="rotate(-90 406 945.9)">10⁷</text>
<text x="410.2" y="949.8" class="c10">2.71%</text>
<text x="502.9" y="949.8" class="c11">13.74%</text>
<text x="410.2" y="1030.1" class="c10">76.62%</text>
<text x="502.4" y="1030.1" class="c11">6.93%</text>
<path d="M114 1063.5h1m10 2h1m-7 1h1m9 2h1m-12 2h1m-4 1h1m-6 3h1m4 0h1m-7 1h1m1 1h2m4 0h1m-8 1h1m5 0h1m-5 1h1m4 0h1m-17 1h1m3 1h2m7 0h1m-13 2h1m2 0h1m2 1h2m6 1h1m-20 1h1m6 0h1m-6 1h1m2 0h2m11 0h1m-19 2h1m-9 3h1m7 0h1m1 2h1m-15 1h1m5 0h1m3 0h1m-4 1h1m3 1h1m15 0h1m-25 1h2m7 0h1m10 0h1m-26 1h1m2 0h1m4 0h1m6 0h1m-16 1h3m3 0h2m5 0h1m2 0h1m-16 1h2m2 0h1m3 0h1m1 0h1m2 0h1m3 0h1m-18 1h1m1 0h1m1 0h2m1 0h2m2 0h1m-14 1h1m2 0h8m1 0h1m6 0h1m-13 1h7m1 0h1m5 0h1m-20 1h4m3 0h4m7 0h1m-20 1h1m1 0h1m1 0h8m2 0h1m6 0h1m-21 1h5m1 0h5m1 0h3m7 0h1m-25 1h16m12 0h1m-28 1h1m3 0h13m4 0h1m-20 1h5m1 0h3m1 0h1m1 0h3m2 0h1m-19 1h3m1 0h1m1 0h2m1 0h1m1 0h2m1 0h2m2 0h2m2 0h1m-22 1h3m1 0h3m1 0h5m1 0h3m-19 1h1m1 0h1m1 0h14m3 0h1m-19 1h1m1 0h2m1 0h2m1 0h2m1 0h1m3 0h1m5 0h1m-22 1h2m2 0h1m2 0h1m1 0h1m1 0h1m3 0h2m1 0h1m1 0h1m-22 1h1m2 0h5m1 0h1m1 0h1m7 0h1m-15 1h3m5 0h1m3 0h1m2 0h1m-11 1h1m1 0h4m-15 1h1m8 0h2m1 0h4m-13 1h1m1 0h1m4 0h1m-12 1h1m4 0h1m5 0h1m7 0h1m-18 2h2m10 0h1m-15 1h1m26 4h1m-25 1h1m15 1h1m-1 4h1" fill="none" stroke="#1a2aff" stroke-width="1" stroke-opacity="0.6"/>
<ellipse cx="91.8" cy="1108.6" rx="8.1" ry="9.7" fill="url(#core)" transform="rotate(-60 91.8 1108.6)"/>
<line x1="114.5" y1="1045.9" x2="114.5" y2="1139.3" stroke="#858585" stroke-width="1.1"/>
<line x1="81.6" y1="1088.8" x2="175.6" y2="1088.8" stroke="#858585" stroke-width="1.1"/>
<rect x="81.6" y="1045.9" width="94" height="93.4" fill="none" stroke="#6a6a6a" stroke-width="1.3"/>
<path d="M83.6 1139.3v-1.5M86.2 1139.3v-1.5M88.8 1139.3v-1.5M91.4 1139.3v-1.5M94 1139.3v-1.5M96.6 1139.3v-1.5M99.2 1139.3v-1.5M101.8 1139.3v-1.5M104.4 1139.3v-1.5M107 1139.3v-1.5M109.6 1139.3v-1.5M112.2 1139.3v-1.5M114.8 1139.3v-1.5M117.4 1139.3v-1.5M120 1139.3v-1.5M122.6 1139.3v-1.5M125.2 1139.3v-1.5M127.8 1139.3v-1.5M130.4 1139.3v-1.5M133 1139.3v-1.5M135.6 1139.3v-1.5M138.2 1139.3v-1.5M140.8 1139.3v-1.5M143.4 1139.3v-1.5M146 1139.3v-1.5M148.6 1139.3v-1.5M151.2 1139.3v-1.5M153.8 1139.3v-1.5M156.4 1139.3v-1.5M159 1139.3v-1.5M161.6 1139.3v-1.5M164.2 1139.3v-1.5M166.8 1139.3v-1.5M169.4 1139.3v-1.5M172 1139.3v-1.5M174.6 1139.3v-1.5M81.6 1137.3h1.5M81.6 1134.7h1.5M81.6 1132.1h1.5M81.6 1129.5h1.5M81.6 1126.9h1.5M81.6 1124.3h1.5M81.6 1121.7h1.5M81.6 1119.1h1.5M81.6 1116.5h1.5M81.6 1113.9h1.5M81.6 1111.3h1.5M81.6 1108.7h1.5M81.6 1106.1h1.5M81.6 1103.5h1.5M81.6 1100.9h1.5M81.6 1098.3h1.5M81.6 1095.7h1.5M81.6 1093.1h1.5M81.6 1090.5h1.5M81.6 1087.9h1.5M81.6 1085.3h1.5M81.6 1082.7h1.5M81.6 1080.1h1.5M81.6 1077.5h1.5M81.6 1074.9h1.5M81.6 1072.3h1.5M81.6 1069.7h1.5M81.6 1067.1h1.5M81.6 1064.5h1.5M81.6 1061.9h1.5M81.6 1059.3h1.5M81.6 1056.7h1.5M81.6 1054.1h1.5M81.6 1051.5h1.5M81.6 1048.9h1.5" fill="none" stroke="#555" stroke-width="0.7"/>
<text x="90.8" y="1147.6" class="c7">0</text>
<text x="100.8" y="1147.6" class="c7">10³</text>
<text x="117.2" y="1147.6" class="c7">10⁴</text>
<text x="134.2" y="1147.6" class="c7">10⁵</text>
<text x="152.7" y="1147.6" class="c7">10⁶</text>
<text x="171.1" y="1147.6" class="c7">10⁷</text>
<text x="79.6" y="1134.6" class="c7" transform="rotate(-90 79.6 1134.6)">0</text>
<text x="79.6" y="1124.4" class="c7" transform="rotate(-90 79.6 1124.4)">10²</text>
<text x="79.6" y="1111.3" class="c7" transform="rotate(-90 79.6 1111.3)">10³</text>
<text x="79.6" y="1098.2" class="c7" transform="rotate(-90 79.6 1098.2)">10⁴</text>
<text x="79.6" y="1083.3" class="c7" transform="rotate(-90 79.6 1083.3)">10⁵</text>
<text x="79.6" y="1068.3" class="c7" transform="rotate(-90 79.6 1068.3)">10⁶</text>
<text x="79.6" y="1053.4" class="c7" transform="rotate(-90 79.6 1053.4)">10⁷</text>
<text x="82.4" y="1055.9" class="c10">0.55%</text>
<text x="176.9" y="1055.9" class="c11">0.19%</text>
<text x="83.7" y="1135.9" class="c10">99.26%</text>
<text x="175.9" y="1135.9" class="c11">0.00%</text>
<path d="M222 1072.5h1m6 0h1m-6 2h1m-4 1h1m5 0h1m-6 1h1m-5 1h1m7 1h1m-10 1h1m1 0h1m3 0h1m-11 2h1m-11 1h1m10 0h1m1 1h1m1 0h1m-7 1h1m4 0h1m-5 2h1m2 0h1m-15 2h1m10 0h1m3 0h1m-8 1h1m2 0h1m-23 2h1m6 0h1m9 2h1m-16 1h1m11 0h1m-4 1h1m5 0h2m-10 1h1m1 0h1m6 0h1m-8 1h1m4 0h1m1 0h1m-6 1h1m1 0h1m1 0h1m-15 1h3m3 0h1m1 0h1m7 0h1m-21 1h1m2 0h2m3 0h1m2 0h1m-6 1h3m1 0h3m4 0h1m1 0h1m-18 1h1m1 0h1m1 0h1m3 0h1m1 0h1m1 0h1m1 0h1m-16 1h3m1 0h5m2 0h2m1 0h2m1 0h1m-18 1h1m1 0h2m2 0h1m1 0h1m1 0h1m1 0h7m-18 1h5m1 0h2m1 0h4m3 0h2m-14 1h12m1 0h1m1 0h1m4 0h1m-26 1h1m1 0h1m1 0h10m1 0h1m1 0h1m1 0h2m-21 1h4m1 0h8m1 0h2m1 0h1m2 0h1m4 0h1m-26 1h3m1 0h1m1 0h9m1 0h1m1 0h2m-19 1h2m1 0h1m1 0h4m1 0h4m2 0h3m-17 1h8m1 0h4m2 0h1m-18 1h1m2 0h2m1 0h1m1 0h2m1 0h5m5 0h1m-22 1h7m2 0h6m1 0h2m-15 1h1m1 0h2m1 0h2m2 0h2m3 0h1m1 0h1m-14 1h1m1 0h2m5 0h1m3 0h1m2 0h1m2 0h2m-21 1h2m1 0h1m4 0h1m3 0h1m-15 1h1m8 0h1m-8 1h1m5 0h1m2 0h1m3 1h1m-5 1h2m-9 1h1m2 0h3m-3 1h1m-6 2h1m14 2h1m10 1h1" fill="none" stroke="#1a2aff" stroke-width="1" stroke-opacity="0.6"/>
<ellipse cx="200.5" cy="1108.6" rx="8.1" ry="9.7" fill="url(#core)" transform="rotate(-60 200.5 1108.6)"/>
<line x1="223.3" y1="1045.9" x2="223.3" y2="1139.3" stroke="#858585" stroke-width="1.1"/>
<line x1="189.6" y1="1088.8" x2="285.7" y2="1088.8" stroke="#858585" stroke-width="1.1"/>
<rect x="189.6" y="1045.9" width="96.1" height="93.4" fill="none" stroke="#6a6a6a" stroke-width="1.3"/>
<path d="M191.6 1139.3v-1.5M194.2 1139.3v-1.5M196.8 1139.3v-1.5M199.4 1139.3v-1.5M202 1139.3v-1.5M204.6 1139.3v-1.5M207.2 1139.3v-1.5M209.8 1139.3v-1.5M212.4 1139.3v-1.5M215 1139.3v-1.5M217.6 1139.3v-1.5M220.2 1139.3v-1.5M222.8 1139.3v-1.5M225.4 1139.3v-1.5M228 1139.3v-1.5M230.6 1139.3v-1.5M233.2 1139.3v-1.5M235.8 1139.3v-1.5M238.4 1139.3v-1.5M241 1139.3v-1.5M243.6 1139.3v-1.5M246.2 1139.3v-1.5M248.8 1139.3v-1.5M251.4 1139.3v-1.5M254 1139.3v-1.5M256.6 1139.3v-1.5M259.2 1139.3v-1.5M261.8 1139.3v-1.5M264.4 1139.3v-1.5M267 1139.3v-1.5M269.6 1139.3v-1.5M272.2 1139.3v-1.5M274.8 1139.3v-1.5M277.4 1139.3v-1.5M280 1139.3v-1.5M282.6 1139.3v-1.5M189.6 1137.3h1.5M189.6 1134.7h1.5M189.6 1132.1h1.5M189.6 1129.5h1.5M189.6 1126.9h1.5M189.6 1124.3h1.5M189.6 1121.7h1.5M189.6 1119.1h1.5M189.6 1116.5h1.5M189.6 1113.9h1.5M189.6 1111.3h1.5M189.6 1108.7h1.5M189.6 1106.1h1.5M189.6 1103.5h1.5M189.6 1100.9h1.5M189.6 1098.3h1.5M189.6 1095.7h1.5M189.6 1093.1h1.5M189.6 1090.5h1.5M189.6 1087.9h1.5M189.6 1085.3h1.5M189.6 1082.7h1.5M189.6 1080.1h1.5M189.6 1077.5h1.5M189.6 1074.9h1.5M189.6 1072.3h1.5M189.6 1069.7h1.5M189.6 1067.1h1.5M189.6 1064.5h1.5M189.6 1061.9h1.5M189.6 1059.3h1.5M189.6 1056.7h1.5M189.6 1054.1h1.5M189.6 1051.5h1.5M189.6 1048.9h1.5" fill="none" stroke="#555" stroke-width="0.7"/>
<text x="199" y="1147.6" class="c7">0</text>
<text x="209.2" y="1147.6" class="c7">10³</text>
<text x="226" y="1147.6" class="c7">10⁴</text>
<text x="243.4" y="1147.6" class="c7">10⁵</text>
<text x="262.3" y="1147.6" class="c7">10⁶</text>
<text x="281.1" y="1147.6" class="c7">10⁷</text>
<text x="187.6" y="1134.6" class="c7" transform="rotate(-90 187.6 1134.6)">0</text>
<text x="187.6" y="1124.4" class="c7" transform="rotate(-90 187.6 1124.4)">10²</text>
<text x="187.6" y="1111.3" class="c7" transform="rotate(-90 187.6 1111.3)">10³</text>
<text x="187.6" y="1098.2" class="c7" transform="rotate(-90 187.6 1098.2)">10⁴</text>
<text x="187.6" y="1083.3" class="c7" transform="rotate(-90 187.6 1083.3)">10⁵</text>
<text x="187.6" y="1068.3" class="c7" transform="rotate(-90 187.6 1068.3)">10⁶</text>
<text x="187.6" y="1053.4" class="c7" transform="rotate(-90 187.6 1053.4)">10⁷</text>
<text x="192.2" y="1055.9" class="c10">0.51%</text>
<text x="286.5" y="1055.9" class="c11">0.09%</text>
<text x="192.2" y="1135.9" class="c10">99.35%</text>
<text x="285.7" y="1135.9" class="c11">0.05%</text>
<path d="M343 1063.5h1m-6 3h1m-3 3h1m3 0h2m-5 1h1m-3 1h1m6 0h1m-6 1h1m1 0h1m3 0h2m-10 1h1m1 0h2m5 0h4m-14 1h1m2 0h2m4 0h1m8 0h2m-26 1h1m7 0h1m4 0h1m1 0h1m1 0h1m-9 1h1m1 0h2m1 0h6m2 0h1m-16 1h1m2 0h1m2 0h3m4 0h1m-15 1h1m1 0h1m1 0h2m1 0h1m1 0h1m1 0h2m1 0h1m5 0h1m-23 1h1m2 0h4m1 0h3m1 0h4m-16 1h1m4 0h2m1 0h1m1 0h6m-16 1h1m4 0h5m1 0h3m3 0h1m-14 1h3m1 0h2m1 0h3m4 0h1m-19 1h1m5 0h1m3 0h2m1 0h2m-21 1h2m7 0h1m1 0h2m1 0h6m1 0h1m-15 1h2m1 0h2m1 0h1m1 0h2m2 0h1m2 0h1m-25 1h1m3 0h1m8 0h2m1 0h4m2 0h2m-26 1h3m5 0h1m1 0h1m3 0h1m1 0h1m1 0h4m1 0h1m1 0h2m-29 1h1m9 0h2m4 0h1m4 0h1m1 0h3m1 0h1m1 0h1m-24 1h1m5 0h3m1 0h9m1 0h1m2 0h1m-32 1h1m3 0h1m3 0h2m5 0h2m2 0h1m1 0h1m2 0h1m1 0h2m2 0h1m3 0h1m-35 1h2m6 0h1m1 0h2m4 0h5m1 0h1m1 0h3m1 0h2m2 0h1m-28 1h4m3 0h1m1 0h1m2 0h11m-31 1h1m1 0h1m4 0h2m6 0h2m6 0h5m1 0h2m10 0h1m-47 1h1m10 0h3m1 0h2m1 0h1m1 0h2m3 0h1m2 0h2m1 0h2m1 0h5m-35 1h1m4 0h2m1 0h1m1 0h1m2 0h1m1 0h1m1 0h2m1 0h1m2 0h1m2 0h3m1 0h1m1 0h1m1 0h1m-37 1h2m2 0h1m2 0h2m2 0h1m3 0h1m8 0h1m1 0h5m3 0h1m3 0h1m-42 1h1m5 0h3m1 0h5m7 0h2m1 0h1m2 0h3m1 0h2m-40 1h1m4 0h1m3 0h1m1 0h2m2 0h1m1 0h2m3 0h2m6 0h1m3 0h1m1 0h2m2 0h1m3 0h1m-46 1h2m5 0h3m1 0h6m1 0h2m1 0h4m7 0h1m2 0h1m1 0h2m2 0h1m11 0h1m-50 1h1m4 0h1m1 0h1m1 0h5m1 0h4m5 0h2m2 0h1m4 0h1m2 0h1m-33 1h1m1 0h4m1 0h3m2 0h1m1 0h3m1 0h1m16 0h1m-36 1h8m1 0h1m2 0h2m4 0h2m10 0h1m-37 1h1m3 0h2m2 0h5m1 0h3m1 0h1m1 0h1m4 0h2m16 0h1m-42 1h1m2 0h3m1 0h3m3 0h2m2 0h2m10 0h2m-30 1h7m1 0h9m3 0h1m3 0h1m7 0h1m-39 1h2m1 0h1m3 0h12m3 0h1m2 0h3m12 0h2m-36 1h2m1 0h3m1 0h1m1 0h7m2 0h2m-25 1h1m2 0h1m1 0h1m1 0h1m1 0h3m1 0h7m1 0h2m2 0h2m1 0h1m4 0h1m-35 1h1m5 0h2m1 0h3m2 0h1m1 0h2m1 0h3m-21 1h4m2 0h3m2 0h6m1 0h2m1 0h1m3 0h1m6 0h1m-33 1h2m1 0h1m1 0h1m1 0h3m1 0h2m1 0h4m1 0h1m1 0h1m2 0h1m14 0h1m-40 1h9m1 0h3m1 0h1m2 0h3m2 0h1m-24 1h1m2 0h1m1 0h5m1 0h1m4 0h1m3 0h1m-20 1h1m2 0h2m1 0h1m1 0h1m2 0h1m1 0h2m7 0h2m-24 1h1m4 0h1m2 0h1m2 0h1m14 0h1m-28 1h1m4 0h2m6 0h1m-3 1h1m12 0h1m-25 1h2m10 0h1m-13 1h1m3 0h1m10 0h1m6 1h1m-13 2h1m-10 1h1m3 2h1m5 1h1m-10 4h1" fill="none" stroke="#1a2aff" stroke-width="1" stroke-opacity="0.6"/>
<ellipse cx="314.6" cy="1107.6" rx="14" ry="8.6" fill="url(#coreC)" transform="rotate(-30 314.6 1107.6)"/>
<ellipse cx="341.5" cy="1081.7" rx="8.6" ry="7.6" fill="url(#coreC)" transform="rotate(-70 341.5 1081.7)"/>
<ellipse cx="341.5" cy="1093" rx="8.6" ry="6.5" fill="url(#coreC)" transform="rotate(-70 341.5 1093)"/>
<line x1="333" y1="1045.4" x2="333" y2="1138.8" stroke="#858585" stroke-width="1.1"/>
<line x1="300.2" y1="1088.8" x2="395.7" y2="1088.8" stroke="#858585" stroke-width="1.1"/>
<rect x="300.2" y="1045.4" width="95.5" height="93.4" fill="none" stroke="#6a6a6a" stroke-width="1.3"/>
<path d="M302.2 1138.8v-1.5M304.8 1138.8v-1.5M307.4 1138.8v-1.5M310 1138.8v-1.5M312.6 1138.8v-1.5M315.2 1138.8v-1.5M317.8 1138.8v-1.5M320.4 1138.8v-1.5M323 1138.8v-1.5M325.6 1138.8v-1.5M328.2 1138.8v-1.5M330.8 1138.8v-1.5M333.4 1138.8v-1.5M336 1138.8v-1.5M338.6 1138.8v-1.5M341.2 1138.8v-1.5M343.8 1138.8v-1.5M346.4 1138.8v-1.5M349 1138.8v-1.5M351.6 1138.8v-1.5M354.2 1138.8v-1.5M356.8 1138.8v-1.5M359.4 1138.8v-1.5M362 1138.8v-1.5M364.6 1138.8v-1.5M367.2 1138.8v-1.5M369.8 1138.8v-1.5M372.4 1138.8v-1.5M375 1138.8v-1.5M377.6 1138.8v-1.5M380.2 1138.8v-1.5M382.8 1138.8v-1.5M385.4 1138.8v-1.5M388 1138.8v-1.5M390.6 1138.8v-1.5M393.2 1138.8v-1.5M300.2 1136.8h1.5M300.2 1134.2h1.5M300.2 1131.6h1.5M300.2 1129h1.5M300.2 1126.4h1.5M300.2 1123.8h1.5M300.2 1121.2h1.5M300.2 1118.6h1.5M300.2 1116h1.5M300.2 1113.4h1.5M300.2 1110.8h1.5M300.2 1108.2h1.5M300.2 1105.6h1.5M300.2 1103h1.5M300.2 1100.4h1.5M300.2 1097.8h1.5M300.2 1095.2h1.5M300.2 1092.6h1.5M300.2 1090h1.5M300.2 1087.4h1.5M300.2 1084.8h1.5M300.2 1082.2h1.5M300.2 1079.6h1.5M300.2 1077h1.5M300.2 1074.4h1.5M300.2 1071.8h1.5M300.2 1069.2h1.5M300.2 1066.6h1.5M300.2 1064h1.5M300.2 1061.4h1.5M300.2 1058.8h1.5M300.2 1056.2h1.5M300.2 1053.6h1.5M300.2 1051h1.5M300.2 1048.4h1.5" fill="none" stroke="#555" stroke-width="0.7"/>
<text x="309.6" y="1147.1" class="c7">0</text>
<text x="319.7" y="1147.1" class="c7">10³</text>
<text x="336.4" y="1147.1" class="c7">10⁴</text>
<text x="353.7" y="1147.1" class="c7">10⁵</text>
<text x="372.4" y="1147.1" class="c7">10⁶</text>
<text x="391.1" y="1147.1" class="c7">10⁷</text>
<text x="298.2" y="1134.1" class="c7" transform="rotate(-90 298.2 1134.1)">0</text>
<text x="298.2" y="1123.9" class="c7" transform="rotate(-90 298.2 1123.9)">10²</text>
<text x="298.2" y="1110.8" class="c7" transform="rotate(-90 298.2 1110.8)">10³</text>
<text x="298.2" y="1097.7" class="c7" transform="rotate(-90 298.2 1097.7)">10⁴</text>
<text x="298.2" y="1082.8" class="c7" transform="rotate(-90 298.2 1082.8)">10⁵</text>
<text x="298.2" y="1067.8" class="c7" transform="rotate(-90 298.2 1067.8)">10⁶</text>
<text x="298.2" y="1052.9" class="c7" transform="rotate(-90 298.2 1052.9)">10⁷</text>
<text x="301.5" y="1055.9" class="c10">5.45%</text>
<text x="398.1" y="1055.9" class="c11">25.81%</text>
<text x="302.3" y="1135.9" class="c10">52.51%</text>
<text x="397.6" y="1135.9" class="c11">16.23%</text>
<path d="M447 1061.5h1m-5 7h1m2 0h1m8 0h1m-1 1h1m2 0h1m3 0h1m-28 1h1m18 0h1m-17 1h1m7 0h1m6 0h1m8 0h1m2 0h1m-17 1h2m6 0h1m2 0h1m-24 1h1m5 0h1m4 0h1m1 0h1m1 0h2m2 0h1m4 0h1m-22 1h1m1 0h2m2 0h1m2 0h3m5 0h1m-17 1h1m3 0h2m1 0h1m1 0h1m1 0h1m1 0h1m6 0h1m-19 1h3m2 0h1m1 0h2m3 0h2m2 0h1m-17 1h2m3 0h2m1 0h3m1 0h2m-19 1h1m3 0h1m1 0h1m2 0h1m1 0h1m1 0h1m3 0h2m7 0h1m-23 1h2m1 0h7m2 0h2m-12 1h1m2 0h2m2 0h1m2 0h3m4 0h2m7 0h1m-47 1h1m15 0h1m1 0h1m1 0h2m1 0h2m3 0h1m1 0h1m1 0h1m-16 1h1m1 0h2m2 0h2m1 0h1m1 0h1m5 0h1m-16 1h1m2 0h1m2 0h1m1 0h3m3 0h1m2 0h1m-30 1h1m6 0h1m3 0h1m5 0h3m1 0h1m3 0h1m-46 1h1m21 0h1m1 0h1m2 0h2m3 0h1m17 0h1m-26 1h1m2 0h3m6 0h1m9 0h1m17 0h1m-45 1h2m4 0h1m4 0h1m4 0h3m1 0h2m1 0h1m2 0h1m4 0h1m-43 1h1m3 0h1m10 0h1m7 0h3m1 0h1m1 0h2m3 0h2m1 0h1m5 0h1m-30 1h2m4 0h4m4 0h2m2 0h1m1 0h2m-39 1h1m8 0h2m5 0h3m1 0h1m2 0h1m2 0h2m1 0h3m1 0h3m4 0h1m-29 1h1m9 0h1m1 0h1m3 0h3m2 0h1m1 0h1m1 0h3m-30 1h1m3 0h1m6 0h2m1 0h1m3 0h3m3 0h1m-40 1h1m12 0h1m1 0h1m1 0h1m1 0h1m3 0h3m5 0h3m2 0h3m1 0h1m4 0h1m-43 1h1m8 0h1m8 0h2m5 0h1m5 0h1m4 0h2m5 0h1m1 0h1m21 0h1m-59 1h1m2 0h3m2 0h1m2 0h1m3 0h1m8 0h2m1 0h1m2 0h1m-47 1h1m6 0h1m3 0h1m2 0h1m4 0h2m4 0h1m5 0h1m2 0h1m2 0h1m1 0h1m1 0h1m1 0h1m-36 1h2m7 0h1m2 0h2m1 0h1m1 0h1m5 0h1m4 0h3m2 0h2m1 0h1m-39 1h2m6 0h1m1 0h2m1 0h1m2 0h1m4 0h1m-26 1h2m2 0h1m1 0h1m1 0h1m3 0h1m1 0h1m1 0h2m1 0h1m1 0h1m4 0h1m-28 1h1m2 0h1m1 0h2m1 0h5m1 0h1m1 0h1m2 0h2m2 0h2m10 0h1m1 0h1m5 0h1m-41 1h5m2 0h3m2 0h1m6 0h1m3 0h1m-19 1h2m1 0h5m-11 1h4m1 0h2m1 0h1m2 0h1m1 0h1m-20 1h2m2 0h10m3 0h1m-17 1h1m1 0h3m2 0h9m1 0h1m1 0h1m-21 1h2m2 0h2m1 0h7m2 0h1m2 0h2m5 0h1m-25 1h1m3 0h1m1 0h1m1 0h4m1 0h3m1 0h3m2 0h1m-23 1h4m1 0h4m1 0h1m3 0h2m2 0h2m-21 1h4m1 0h1m1 0h8m1 0h3m2 0h2m-22 1h4m1 0h11m1 0h1m1 0h1m4 0h1m-25 1h2m4 0h10m1 0h1m3 0h1m-21 1h1m2 0h11m-16 1h1m1 0h3m1 0h2m1 0h1m1 0h4m1 0h1m11 0h1m-24 1h1m1 0h4m1 0h1m2 0h2m-16 1h1m1 0h1m1 0h3m1 0h2m1 0h2m-11 1h1m1 0h1m3 0h1m1 0h1m1 0h2m2 0h1m5 0h1m1 0h1m-23 1h4m1 0h2m1 0h2m1 0h3m2 0h1m3 0h1m6 0h1m-32 1h5m2 0h1m-2 1h2m4 0h1m6 0h1m-16 1h2m1 0h1m8 0h1m2 0h1m-15 1h1m5 0h1m-5 1h1m0 1h1m-8 1h2m3 0h1m-1 2h1m6 0h1m-11 1h1m21 1h1m-18 4h1" fill="none" stroke="#1a2aff" stroke-width="1" stroke-opacity="0.6"/>
<ellipse cx="418.9" cy="1108.6" rx="10.8" ry="10.8" fill="url(#core)" transform="rotate(-45 418.9 1108.6)"/>
<ellipse cx="450.1" cy="1078.5" rx="9.7" ry="6.5" fill="url(#coreB)" transform="rotate(-10 450.1 1078.5)"/>
<line x1="441.8" y1="1045.4" x2="441.8" y2="1139.3" stroke="#858585" stroke-width="1.1"/>
<line x1="408" y1="1088.8" x2="503.4" y2="1088.8" stroke="#858585" stroke-width="1.1"/>
<rect x="408" y="1045.4" width="95.4" height="93.9" fill="none" stroke="#6a6a6a" stroke-width="1.3"/>
<path d="M410 1139.3v-1.5M412.6 1139.3v-1.5M415.2 1139.3v-1.5M417.8 1139.3v-1.5M420.4 1139.3v-1.5M423 1139.3v-1.5M425.6 1139.3v-1.5M428.2 1139.3v-1.5M430.8 1139.3v-1.5M433.4 1139.3v-1.5M436 1139.3v-1.5M438.6 1139.3v-1.5M441.2 1139.3v-1.5M443.8 1139.3v-1.5M446.4 1139.3v-1.5M449 1139.3v-1.5M451.6 1139.3v-1.5M454.2 1139.3v-1.5M456.8 1139.3v-1.5M459.4 1139.3v-1.5M462 1139.3v-1.5M464.6 1139.3v-1.5M467.2 1139.3v-1.5M469.8 1139.3v-1.5M472.4 1139.3v-1.5M475 1139.3v-1.5M477.6 1139.3v-1.5M480.2 1139.3v-1.5M482.8 1139.3v-1.5M485.4 1139.3v-1.5M488 1139.3v-1.5M490.6 1139.3v-1.5M493.2 1139.3v-1.5M495.8 1139.3v-1.5M498.4 1139.3v-1.5M501 1139.3v-1.5M408 1137.3h1.5M408 1134.7h1.5M408 1132.1h1.5M408 1129.5h1.5M408 1126.9h1.5M408 1124.3h1.5M408 1121.7h1.5M408 1119.1h1.5M408 1116.5h1.5M408 1113.9h1.5M408 1111.3h1.5M408 1108.7h1.5M408 1106.1h1.5M408 1103.5h1.5M408 1100.9h1.5M408 1098.3h1.5M408 1095.7h1.5M408 1093.1h1.5M408 1090.5h1.5M408 1087.9h1.5M408 1085.3h1.5M408 1082.7h1.5M408 1080.1h1.5M408 1077.5h1.5M408 1074.9h1.5M408 1072.3h1.5M408 1069.7h1.5M408 1067.1h1.5M408 1064.5h1.5M408 1061.9h1.5M408 1059.3h1.5M408 1056.7h1.5M408 1054.1h1.5M408 1051.5h1.5M408 1048.9h1.5" fill="none" stroke="#555" stroke-width="0.7"/>
<text x="417.3" y="1147.6" class="c7">0</text>
<text x="427.5" y="1147.6" class="c7">10³</text>
<text x="444.2" y="1147.6" class="c7">10⁴</text>
<text x="461.4" y="1147.6" class="c7">10⁵</text>
<text x="480.1" y="1147.6" class="c7">10⁶</text>
<text x="498.8" y="1147.6" class="c7">10⁷</text>
<text x="406" y="1134.6" class="c7" transform="rotate(-90 406 1134.6)">0</text>
<text x="406" y="1124.3" class="c7" transform="rotate(-90 406 1124.3)">10²</text>
<text x="406" y="1111.1" class="c7" transform="rotate(-90 406 1111.1)">10³</text>
<text x="406" y="1098" class="c7" transform="rotate(-90 406 1098)">10⁴</text>
<text x="406" y="1083" class="c7" transform="rotate(-90 406 1083)">10⁵</text>
<text x="406" y="1067.9" class="c7" transform="rotate(-90 406 1067.9)">10⁶</text>
<text x="406" y="1052.9" class="c7" transform="rotate(-90 406 1052.9)">10⁷</text>
<text x="410.2" y="1055.9" class="c10">2.46%</text>
<text x="503.4" y="1055.9" class="c11">15.38%</text>
<text x="410.2" y="1135.9" class="c10">73.32%</text>
<text x="502.4" y="1135.9" class="c11">8.84%</text>
<text x="10.6" y="1187.8" class="c0">S</text>
<path d="M30.4 1181.7V1434.5H525.6" fill="none" stroke="#333" stroke-width="1.3"/>
<path d="M25.9 1188.2L30.4 1181.7L34.9 1188.2" fill="none" stroke="#333" stroke-width="1.3"/>
<path d="M519.1 1430L525.6 1434.5L519.1 1439" fill="none" stroke="#333" stroke-width="1.3"/>
<text x="108.5" y="1191.7" class="c1">-</text>
<text x="229.4" y="1191.7" class="c1">+</text>
<text x="337.8" y="1191.7" class="c1">-</text>
<text x="442.6" y="1191.7" class="c1">+</text>
<text x="108.5" y="1212.9" class="c1">-</text>
<text x="229.4" y="1212.9" class="c1">-</text>
<text x="337.8" y="1212.9" class="c1">+</text>
<text x="442.6" y="1212.9" class="c1">+</text>
<text x="475.5" y="1190.8" class="c2">Dantrolene (25μM)</text>
<text x="474.5" y="1212" class="c2">CDDP (20μM)</text>
<text x="24.3" y="1304.8" class="c3" transform="rotate(-90 24.3 1304.8)">7-AAD</text>
<text x="53.2" y="1316.1" class="c1" transform="rotate(-90 53.2 1316.1)">H1299</text>
<line x1="51.6" y1="1272.9" x2="51.6" y2="1371.6" stroke="#222" stroke-width="1.2"/>
<text x="68.4" y="1273.6" class="c4" transform="rotate(-90 68.4 1273.6)">Vector</text>
<text x="68.4" y="1376.1" class="c4" transform="rotate(-90 68.4 1376.1)">CRTAC1</text>
<text x="166.5" y="1458.3" class="c5">Annexin  V-APC</text>
<path d="M134 1250.5h1m4 2h3m5 0h1m-16 1h2m5 0h1m1 0h1m-14 1h3m2 0h2m4 0h1m-8 1h1m2 0h1m2 0h1m-14 1h1m4 0h1m1 0h3m1 0h2m-11 1h3m1 0h4m6 0h1m-16 1h3m1 0h1m1 0h1m1 0h2m-24 1h1m2 0h1m9 0h1m3 0h2m-9 1h1m-2 1h1m1 0h1m5 0h1m2 0h1m-7 3h1m5 1h1m-19 1h1m-18 1h1m11 0h1m7 0h1m5 0h1m18 0h1m-19 1h1m-4 1h1m-8 1h1m12 0h1m-39 1h1m16 0h1m3 0h3m7 0h1m-29 1h1m7 0h1m4 0h1m1 0h1m1 0h1m5 0h1m8 0h1m15 0h2m-64 1h1m14 0h1m4 0h1m4 0h2m1 0h1m5 0h2m-18 1h1m3 0h2m2 0h1m3 0h1m3 0h2m1 0h4m1 0h2m2 0h1m-33 1h1m14 0h1m2 0h1m1 0h1m1 0h3m1 0h2m1 0h3m1 0h1m-31 1h1m2 0h1m2 0h6m1 0h4m2 0h3m1 0h1m5 0h1m2 0h1m-32 1h1m2 0h3m2 0h2m1 0h6m1 0h1m6 0h1m5 0h1m-32 1h1m1 0h1m3 0h1m2 0h1m1 0h2m2 0h3m4 0h2m1 0h1m1 0h2m-43 1h1m4 0h1m1 0h1m3 0h2m1 0h3m1 0h8m1 0h4m1 0h2m1 0h1m2 0h1m1 0h1m-40 1h1m7 0h1m2 0h4m1 0h1m1 0h17m1 0h1m2 0h2m-44 1h1m2 0h1m1 0h1m1 0h1m2 0h1m1 0h2m3 0h1m2 0h2m1 0h1m1 0h1m1 0h10m1 0h2m1 0h1m2 0h1m5 0h1m-50 1h1m3 0h3m1 0h2m2 0h2m3 0h4m2 0h8m1 0h4m3 0h1m-40 1h1m1 0h3m4 0h10m1 0h6m1 0h2m3 0h6m3 0h1m-39 1h1m1 0h1m3 0h1m1 0h1m2 0h1m1 0h2m1 0h1m1 0h8m3 0h2m2 0h1m5 0h1m-46 1h1m1 0h1m1 0h3m3 0h4m1 0h9m1 0h2m1 0h3m1 0h1m1 0h1m1 0h2m1 0h2m1 0h1m21 0h1m-60 1h2m2 0h2m1 0h2m1 0h2m3 0h1m2 0h1m1 0h5m1 0h8m1 0h1m14 0h1m-51 1h1m3 0h3m3 0h1m1 0h3m3 0h4m1 0h5m1 0h1m2 0h1m1 0h3m-38 1h2m5 0h1m5 0h1m2 0h1m1 0h2m4 0h3m1 0h1m1 0h1m1 0h1m2 0h1m-35 1h1m8 0h1m2 0h1m1 0h2m1 0h3m1 0h1m1 0h2m1 0h2m7 0h1m-40 1h1m9 0h1m5 0h1m2 0h2m12 0h1m2 0h1m5 0h1m-44 1h1m2 0h1m3 0h1m6 0h2m10 0h1m18 0h1m-34 1h1m10 0h1m8 0h1m1 0h1m-12 1h1m2 0h1m3 0h1m-19 1h1m4 0h1m2 0h1m17 0h1m-22 1h1m-3 1h1m4 1h2m6 0h1m-13 2h1m-6 4h1m8 0h1m5 0h1m-15 9h1" fill="none" stroke="#1a2aff" stroke-width="1" stroke-opacity="0.6"/>
<ellipse cx="109" cy="1281.9" rx="13.5" ry="9.2" fill="url(#coreR)" transform="rotate(-25 109 1281.9)"/>
<line x1="117.9" y1="1219.7" x2="117.9" y2="1316" stroke="#858585" stroke-width="1.1"/>
<line x1="77.5" y1="1268.9" x2="173.2" y2="1268.9" stroke="#858585" stroke-width="1.1"/>
<rect x="77.5" y="1219.7" width="95.7" height="96.3" fill="none" stroke="#6a6a6a" stroke-width="1.3"/>
<path d="M79.5 1316v-1.5M82.1 1316v-1.5M84.7 1316v-1.5M87.3 1316v-1.5M89.9 1316v-1.5M92.5 1316v-1.5M95.1 1316v-1.5M97.7 1316v-1.5M100.3 1316v-1.5M102.9 1316v-1.5M105.5 1316v-1.5M108.1 1316v-1.5M110.7 1316v-1.5M113.3 1316v-1.5M115.9 1316v-1.5M118.5 1316v-1.5M121.1 1316v-1.5M123.7 1316v-1.5M126.3 1316v-1.5M128.9 1316v-1.5M131.5 1316v-1.5M134.1 1316v-1.5M136.7 1316v-1.5M139.3 1316v-1.5M141.9 1316v-1.5M144.5 1316v-1.5M147.1 1316v-1.5M149.7 1316v-1.5M152.3 1316v-1.5M154.9 1316v-1.5M157.5 1316v-1.5M160.1 1316v-1.5M162.7 1316v-1.5M165.3 1316v-1.5M167.9 1316v-1.5M170.5 1316v-1.5M77.5 1314h1.5M77.5 1311.4h1.5M77.5 1308.8h1.5M77.5 1306.2h1.5M77.5 1303.6h1.5M77.5 1301h1.5M77.5 1298.4h1.5M77.5 1295.8h1.5M77.5 1293.2h1.5M77.5 1290.6h1.5M77.5 1288h1.5M77.5 1285.4h1.5M77.5 1282.8h1.5M77.5 1280.2h1.5M77.5 1277.6h1.5M77.5 1275h1.5M77.5 1272.4h1.5M77.5 1269.8h1.5M77.5 1267.2h1.5M77.5 1264.6h1.5M77.5 1262h1.5M77.5 1259.4h1.5M77.5 1256.8h1.5M77.5 1254.2h1.5M77.5 1251.6h1.5M77.5 1249h1.5M77.5 1246.4h1.5M77.5 1243.8h1.5M77.5 1241.2h1.5M77.5 1238.6h1.5M77.5 1236h1.5M77.5 1233.4h1.5M77.5 1230.8h1.5M77.5 1228.2h1.5M77.5 1225.6h1.5M77.5 1223h1.5" fill="none" stroke="#555" stroke-width="0.7"/>
<text x="82.6" y="1324.3" class="c7">0</text>
<text x="90.6" y="1324.3" class="c7">10¹</text>
<text x="102.6" y="1324.3" class="c7">10²</text>
<text x="115.8" y="1324.3" class="c7">10³</text>
<text x="129.9" y="1324.3" class="c7">10⁴</text>
<text x="143.2" y="1324.3" class="c7">10⁵</text>
<text x="157.7" y="1324.3" class="c7">10⁶</text>
<text x="170.9" y="1324.3" class="c7">10⁷</text>
<text x="75.5" y="1311.2" class="c7" transform="rotate(-90 75.5 1311.2)">0</text>
<text x="75.5" y="1300.6" class="c7" transform="rotate(-90 75.5 1300.6)">10²</text>
<text x="75.5" y="1287.1" class="c7" transform="rotate(-90 75.5 1287.1)">10³</text>
<text x="75.5" y="1273.6" class="c7" transform="rotate(-90 75.5 1273.6)">10⁴</text>
<text x="75.5" y="1258.2" class="c7" transform="rotate(-90 75.5 1258.2)">10⁵</text>
<text x="75.5" y="1242.8" class="c7" transform="rotate(-90 75.5 1242.8)">10⁶</text>
<text x="75.5" y="1227.4" class="c7" transform="rotate(-90 75.5 1227.4)">10⁷</text>
<text x="78.4" y="1230.3" class="c6">0.13%</text>
<text x="171.7" y="1230.3" class="c8">2.37%</text>
<text x="77.5" y="1313.9" class="c6">96.92%</text>
<text x="173.2" y="1313.9" class="c8">0.58%</text>
<path d="M252 1250.5h1m1 0h1m-5 3h1m9 0h1m-18 1h1m5 1h1m-46 1h1m30 0h1m6 0h1m-4 1h1m1 0h2m2 0h1m-15 1h1m6 0h3m2 0h2m-12 1h1m2 0h3m1 0h4m-12 1h2m1 0h1m1 0h1m2 0h1m1 0h1m1 0h1m-13 1h3m1 0h1m2 0h1m3 0h1m-31 1h1m6 0h1m7 0h1m4 0h3m1 0h2m-11 1h1m3 0h1m-21 1h1m16 0h1m3 0h1m-26 1h1m18 0h2m-1 1h1m4 0h1m4 0h1m-21 1h1m4 0h1m2 0h1m-15 1h2m2 0h1m9 0h1m4 0h1m-28 1h1m8 0h1m8 0h1m21 0h1m-43 1h1m11 0h1m1 0h1m5 0h1m2 0h2m1 0h1m-25 1h1m7 0h2m1 0h2m4 0h1m2 0h2m1 0h1m1 0h1m-31 1h1m10 0h1m3 0h4m3 0h1m2 0h1m3 0h1m4 0h1m-29 1h1m6 0h2m1 0h2m2 0h3m2 0h1m1 0h1m1 0h1m11 0h1m-35 1h2m9 0h2m1 0h2m1 0h2m1 0h1m1 0h2m6 0h1m-25 1h1m1 0h2m3 0h4m2 0h4m1 0h1m8 0h1m-49 1h1m11 0h1m1 0h2m2 0h1m2 0h2m1 0h1m1 0h1m3 0h1m2 0h1m1 0h1m3 0h1m5 0h1m29 0h1m-74 1h1m2 0h1m8 0h1m2 0h2m3 0h4m1 0h4m1 0h4m7 0h1m-41 1h1m1 0h1m11 0h2m1 0h1m1 0h9m2 0h2m1 0h3m3 0h1m-34 1h2m3 0h1m2 0h3m1 0h1m1 0h1m3 0h2m1 0h4m2 0h1m10 0h1m-47 1h1m1 0h2m2 0h4m1 0h2m1 0h1m1 0h6m1 0h2m1 0h1m1 0h3m1 0h4m5 0h1m10 0h1m-54 1h1m6 0h3m1 0h3m2 0h1m1 0h7m1 0h3m1 0h2m2 0h1m1 0h1m-42 1h1m2 0h3m3 0h1m1 0h3m1 0h2m2 0h2m1 0h13m1 0h2m2 0h2m9 0h1m-51 1h2m1 0h1m1 0h3m1 0h1m1 0h1m3 0h3m4 0h11m2 0h1m1 0h1m1 0h1m3 0h1m1 0h1m-43 1h4m2 0h1m1 0h1m2 0h1m2 0h3m2 0h2m1 0h1m1 0h1m1 0h3m1 0h3m2 0h1m5 0h1m1 0h2m-47 1h1m1 0h3m1 0h3m1 0h3m3 0h2m2 0h1m1 0h1m1 0h5m3 0h2m2 0h2m3 0h1m5 0h1m-50 1h2m2 0h1m1 0h1m1 0h1m2 0h1m2 0h1m1 0h2m3 0h3m1 0h2m1 0h1m1 0h4m1 0h5m-41 1h1m8 0h1m6 0h3m2 0h1m2 0h8m1 0h1m3 0h2m2 0h1m7 0h1m-47 1h3m7 0h1m2 0h1m1 0h2m8 0h2m1 0h1m1 0h2m3 0h2m8 0h1m-46 1h1m10 0h1m7 0h4m1 0h1m1 0h2m1 0h1m3 0h2m-33 1h1m13 0h1m2 0h2m2 0h1m2 0h1m1 0h2m1 0h1m2 0h1m2 0h1m1 0h1m-27 1h3m1 0h1m1 0h1m1 0h2m5 0h3m1 0h1m1 0h1m1 0h2m4 0h1m-29 1h1m3 0h2m1 0h4m2 0h1m2 0h1m1 0h1m8 0h1m-17 1h1m4 0h1m4 0h1m-25 1h1m4 0h2m4 0h2m19 0h1m-26 1h1m1 1h1m3 0h1m-13 1h1m8 0h1m13 1h1m-23 3h1m-4 1h1m5 0h1m1 1h1m-3 10h1" fill="none" stroke="#1a2aff" stroke-width="1" stroke-opacity="0.6"/>
<ellipse cx="217.5" cy="1281.9" rx="13.5" ry="10.8" fill="url(#coreR)" transform="rotate(-30 217.5 1281.9)"/>
<line x1="225.7" y1="1220.6" x2="225.7" y2="1316" stroke="#858585" stroke-width="1.1"/>
<line x1="183.8" y1="1268.9" x2="279.5" y2="1268.9" stroke="#858585" stroke-width="1.1"/>
<rect x="183.8" y="1220.6" width="95.7" height="95.4" fill="none" stroke="#6a6a6a" stroke-width="1.3"/>
<path d="M185.8 1316v-1.5M188.4 1316v-1.5M191 1316v-1.5M193.6 1316v-1.5M196.2 1316v-1.5M198.8 1316v-1.5M201.4 1316v-1.5M204 1316v-1.5M206.6 1316v-1.5M209.2 1316v-1.5M211.8 1316v-1.5M214.4 1316v-1.5M217 1316v-1.5M219.6 1316v-1.5M222.2 1316v-1.5M224.8 1316v-1.5M227.4 1316v-1.5M230 1316v-1.5M232.6 1316v-1.5M235.2 1316v-1.5M237.8 1316v-1.5M240.4 1316v-1.5M243 1316v-1.5M245.6 1316v-1.5M248.2 1316v-1.5M250.8 1316v-1.5M253.4 1316v-1.5M256 1316v-1.5M258.6 1316v-1.5M261.2 1316v-1.5M263.8 1316v-1.5M266.4 1316v-1.5M269 1316v-1.5M271.6 1316v-1.5M274.2 1316v-1.5M276.8 1316v-1.5M183.8 1314h1.5M183.8 1311.4h1.5M183.8 1308.8h1.5M183.8 1306.2h1.5M183.8 1303.6h1.5M183.8 1301h1.5M183.8 1298.4h1.5M183.8 1295.8h1.5M183.8 1293.2h1.5M183.8 1290.6h1.5M183.8 1288h1.5M183.8 1285.4h1.5M183.8 1282.8h1.5M183.8 1280.2h1.5M183.8 1277.6h1.5M183.8 1275h1.5M183.8 1272.4h1.5M183.8 1269.8h1.5M183.8 1267.2h1.5M183.8 1264.6h1.5M183.8 1262h1.5M183.8 1259.4h1.5M183.8 1256.8h1.5M183.8 1254.2h1.5M183.8 1251.6h1.5M183.8 1249h1.5M183.8 1246.4h1.5M183.8 1243.8h1.5M183.8 1241.2h1.5M183.8 1238.6h1.5M183.8 1236h1.5M183.8 1233.4h1.5M183.8 1230.8h1.5M183.8 1228.2h1.5M183.8 1225.6h1.5M183.8 1223h1.5" fill="none" stroke="#555" stroke-width="0.7"/>
<text x="188.9" y="1324.3" class="c7">0</text>
<text x="196.9" y="1324.3" class="c7">10¹</text>
<text x="208.9" y="1324.3" class="c7">10²</text>
<text x="222.1" y="1324.3" class="c7">10³</text>
<text x="236.2" y="1324.3" class="c7">10⁴</text>
<text x="249.5" y="1324.3" class="c7">10⁵</text>
<text x="264" y="1324.3" class="c7">10⁶</text>
<text x="277.2" y="1324.3" class="c7">10⁷</text>
<text x="181.8" y="1311.2" class="c7" transform="rotate(-90 181.8 1311.2)">0</text>
<text x="181.8" y="1300.7" class="c7" transform="rotate(-90 181.8 1300.7)">10²</text>
<text x="181.8" y="1287.4" class="c7" transform="rotate(-90 181.8 1287.4)">10³</text>
<text x="181.8" y="1274" class="c7" transform="rotate(-90 181.8 1274)">10⁴</text>
<text x="181.8" y="1258.8" class="c7" transform="rotate(-90 181.8 1258.8)">10⁵</text>
<text x="181.8" y="1243.5" class="c7" transform="rotate(-90 181.8 1243.5)">10⁶</text>
<text x="181.8" y="1228.2" class="c7" transform="rotate(-90 181.8 1228.2)">10⁷</text>
<text x="185.4" y="1230.3" class="c6">0.10%</text>
<text x="278.1" y="1230.3" class="c8">1.63%</text>
<text x="184.8" y="1313.9" class="c6">97.51%</text>
<text x="279" y="1313.9" class="c8">0.76%</text>
<path d="M351 1249.5h1m7 0h1m-20 1h1m22 0h1m-19 1h2m6 0h1m-4 1h1m4 0h1m-10 1h1m6 0h1m4 0h1m1 0h1m-20 1h1m2 0h1m1 0h1m5 0h1m2 0h1m1 0h1m3 0h1m-23 1h2m2 0h1m1 0h1m1 0h5m-24 1h1m12 0h3m2 0h5m1 0h1m1 0h1m1 0h1m17 0h1m-37 1h4m1 0h4m1 0h1m4 0h1m-22 1h1m3 0h1m1 0h1m2 0h2m1 0h3m2 0h2m1 0h2m6 0h1m7 0h1m-32 1h1m2 0h1m5 0h2m1 0h1m-22 1h1m8 0h1m1 0h5m2 0h1m1 0h1m1 0h1m3 0h1m-27 1h1m10 0h3m1 0h1m1 0h1m2 0h4m3 0h1m-30 1h1m1 0h1m6 0h1m3 0h1m1 0h2m1 0h3m3 0h1m-29 1h1m11 0h2m1 0h4m1 0h4m1 0h1m1 0h1m7 0h2m-41 1h1m1 0h1m11 0h1m1 0h1m6 0h1m2 0h1m2 0h1m1 0h3m2 0h1m-43 1h1m9 0h1m5 0h2m2 0h1m3 0h1m2 0h1m3 0h1m1 0h1m17 0h1m-57 1h1m11 0h2m7 0h3m1 0h1m3 0h1m6 0h1m3 0h1m-35 1h2m8 0h2m3 0h1m4 0h1m2 0h2m2 0h1m1 0h2m5 0h1m4 0h1m-45 1h1m5 0h1m5 0h1m2 0h1m1 0h1m1 0h1m3 0h2m3 0h1m1 0h1m5 0h1m3 0h1m1 0h2m10 0h1m-53 1h1m7 0h3m2 0h1m3 0h3m1 0h1m3 0h1m5 0h1m1 0h5m-41 1h1m4 0h1m3 0h1m1 0h1m2 0h4m1 0h1m1 0h2m2 0h1m2 0h2m1 0h1m4 0h3m3 0h2m-43 1h2m1 0h1m2 0h1m2 0h3m1 0h2m1 0h2m2 0h1m3 0h1m1 0h1m2 0h1m1 0h2m1 0h5m3 0h1m5 0h1m-57 1h1m6 0h1m3 0h1m1 0h5m1 0h1m2 0h3m2 0h3m3 0h1m1 0h1m2 0h3m1 0h1m2 0h1m1 0h1m4 0h1m-63 1h1m6 0h1m9 0h1m2 0h1m3 0h1m2 0h1m1 0h1m2 0h3m1 0h1m1 0h1m5 0h3m1 0h4m1 0h4m1 0h1m6 0h1m3 0h1m6 0h1m-64 1h1m2 0h1m2 0h4m1 0h5m1 0h3m1 0h4m1 0h2m1 0h2m1 0h2m2 0h3m2 0h3m1 0h1m4 0h1m-58 1h1m2 0h1m1 0h1m3 0h1m2 0h2m1 0h2m1 0h11m1 0h7m4 0h2m2 0h3m3 0h1m-50 1h1m5 0h1m5 0h2m1 0h1m1 0h7m1 0h5m1 0h2m2 0h1m1 0h3m2 0h1m1 0h1m1 0h3m7 0h1m-60 1h1m3 0h1m4 0h1m1 0h1m2 0h3m3 0h9m1 0h2m1 0h1m1 0h1m1 0h1m2 0h1m2 0h1m2 0h1m15 0h1m-58 1h1m3 0h1m1 0h1m1 0h14m1 0h3m3 0h2m2 0h1m1 0h2m2 0h1m15 0h1m-66 1h1m3 0h1m1 0h1m2 0h2m3 0h4m1 0h1m2 0h4m1 0h6m1 0h2m2 0h1m2 0h2m1 0h1m2 0h1m4 0h2m-51 1h1m2 0h2m1 0h1m5 0h1m2 0h1m1 0h16m1 0h1m4 0h1m2 0h2m-40 1h9m2 0h1m1 0h12m1 0h1m3 0h3m1 0h1m8 0h1m18 0h1m-70 1h1m5 0h3m5 0h2m3 0h2m1 0h9m1 0h5m13 0h1m-47 1h3m1 0h1m1 0h1m1 0h8m1 0h6m2 0h3m3 0h1m26 0h1m-59 1h1m1 0h1m3 0h1m1 0h1m5 0h2m1 0h1m5 0h1m1 0h1m1 0h1m1 0h2m4 0h1m27 0h1m-63 1h2m2 0h1m2 0h1m4 0h1m1 0h1m2 0h4m1 0h3m1 0h2m2 0h2m2 0h1m-37 1h1m3 0h2m6 0h1m1 0h1m1 0h1m1 0h1m1 0h1m2 0h4m12 0h1m-42 1h1m5 0h1m4 0h2m5 0h1m5 0h1m5 0h1m-23 1h1m6 0h1m4 0h3m2 0h2m1 0h1m18 0h1m-40 1h1m25 0h1m6 0h1m-33 1h1m18 0h2m11 1h1m-21 1h1m-11 2h1m-2 1h1m0 2h1m-1 4h1" fill="none" stroke="#1a2aff" stroke-width="1" stroke-opacity="0.6"/>
<ellipse cx="322" cy="1277.6" rx="11.9" ry="8.6" fill="url(#core)" transform="rotate(-30 322 1277.6)"/>
<ellipse cx="346.2" cy="1259.6" rx="10.8" ry="5.4" fill="url(#coreB)" transform="rotate(-20 346.2 1259.6)"/>
<ellipse cx="343" cy="1273.4" rx="10.8" ry="4.9" fill="url(#coreB)" transform="rotate(-15 343 1273.4)"/>
<line x1="331.7" y1="1220.6" x2="331.7" y2="1316.3" stroke="#858585" stroke-width="1.1"/>
<line x1="290" y1="1268.9" x2="386.4" y2="1268.9" stroke="#858585" stroke-width="1.1"/>
<rect x="290" y="1220.6" width="96.4" height="95.7" fill="none" stroke="#6a6a6a" stroke-width="1.3"/>
<path d="M292 1316.3v-1.5M294.6 1316.3v-1.5M297.2 1316.3v-1.5M299.8 1316.3v-1.5M302.4 1316.3v-1.5M305 1316.3v-1.5M307.6 1316.3v-1.5M310.2 1316.3v-1.5M312.8 1316.3v-1.5M315.4 1316.3v-1.5M318 1316.3v-1.5M320.6 1316.3v-1.5M323.2 1316.3v-1.5M325.8 1316.3v-1.5M328.4 1316.3v-1.5M331 1316.3v-1.5M333.6 1316.3v-1.5M336.2 1316.3v-1.5M338.8 1316.3v-1.5M341.4 1316.3v-1.5M344 1316.3v-1.5M346.6 1316.3v-1.5M349.2 1316.3v-1.5M351.8 1316.3v-1.5M354.4 1316.3v-1.5M357 1316.3v-1.5M359.6 1316.3v-1.5M362.2 1316.3v-1.5M364.8 1316.3v-1.5M367.4 1316.3v-1.5M370 1316.3v-1.5M372.6 1316.3v-1.5M375.2 1316.3v-1.5M377.8 1316.3v-1.5M380.4 1316.3v-1.5M383 1316.3v-1.5M290 1314.3h1.5M290 1311.7h1.5M290 1309.1h1.5M290 1306.5h1.5M290 1303.9h1.5M290 1301.3h1.5M290 1298.7h1.5M290 1296.1h1.5M290 1293.5h1.5M290 1290.9h1.5M290 1288.3h1.5M290 1285.7h1.5M290 1283.1h1.5M290 1280.5h1.5M290 1277.9h1.5M290 1275.3h1.5M290 1272.7h1.5M290 1270.1h1.5M290 1267.5h1.5M290 1264.9h1.5M290 1262.3h1.5M290 1259.7h1.5M290 1257.1h1.5M290 1254.5h1.5M290 1251.9h1.5M290 1249.3h1.5M290 1246.7h1.5M290 1244.1h1.5M290 1241.5h1.5M290 1238.9h1.5M290 1236.3h1.5M290 1233.7h1.5M290 1231.1h1.5M290 1228.5h1.5M290 1225.9h1.5M290 1223.3h1.5" fill="none" stroke="#555" stroke-width="0.7"/>
<text x="295.1" y="1324.6" class="c7">0</text>
<text x="303.2" y="1324.6" class="c7">10¹</text>
<text x="315.3" y="1324.6" class="c7">10²</text>
<text x="328.6" y="1324.6" class="c7">10³</text>
<text x="342.8" y="1324.6" class="c7">10⁴</text>
<text x="356.1" y="1324.6" class="c7">10⁵</text>
<text x="370.8" y="1324.6" class="c7">10⁶</text>
<text x="384.1" y="1324.6" class="c7">10⁷</text>
<text x="288" y="1311.5" class="c7" transform="rotate(-90 288 1311.5)">0</text>
<text x="288" y="1301" class="c7" transform="rotate(-90 288 1301)">10²</text>
<text x="288" y="1287.6" class="c7" transform="rotate(-90 288 1287.6)">10³</text>
<text x="288" y="1274.2" class="c7" transform="rotate(-90 288 1274.2)">10⁴</text>
<text x="288" y="1258.9" class="c7" transform="rotate(-90 288 1258.9)">10⁵</text>
<text x="288" y="1243.6" class="c7" transform="rotate(-90 288 1243.6)">10⁶</text>
<text x="288" y="1228.3" class="c7" transform="rotate(-90 288 1228.3)">10⁷</text>
<text x="292.4" y="1230.3" class="c6">0.27%</text>
<text x="385.4" y="1230.3" class="c8">12.46%</text>
<text x="290.2" y="1313.9" class="c6">78. 02%</text>
<text x="384.4" y="1313.9" class="c8">9.25%</text>
<path d="M460 1250.5h1m2 1h1m-16 1h1m13 0h1m11 0h1m-22 1h1m2 0h1m-16 1h1m5 0h1m8 0h1m3 0h1m5 0h2m-15 1h1m2 0h1m4 0h1m-15 1h1m9 0h1m4 0h1m3 0h1m4 0h1m-28 1h1m3 0h1m4 0h1m1 0h1m1 0h1m1 0h1m1 0h1m-29 1h1m10 0h1m1 0h3m3 0h1m2 0h2m1 0h1m-16 1h2m1 0h3m1 0h1m2 0h3m2 0h1m4 0h1m-20 1h11m1 0h1m1 0h2m3 0h1m-42 1h1m4 0h1m8 0h1m3 0h1m7 0h3m1 0h2m1 0h2m1 0h1m-15 1h3m1 0h5m4 0h1m1 0h1m-21 1h1m4 0h1m2 0h2m1 0h3m2 0h1m-31 1h2m3 0h1m6 0h1m2 0h2m2 0h6m2 0h1m1 0h2m-29 1h2m13 0h1m3 0h3m9 0h1m-54 1h1m10 0h1m4 0h2m4 0h1m3 0h1m3 0h1m5 0h2m1 0h1m9 0h1m-27 1h1m2 0h1m2 0h1m2 0h1m2 0h1m4 0h1m3 0h2m-13 1h1m2 0h1m4 0h1m2 0h2m1 0h1m3 0h1m-36 1h2m7 0h1m3 0h1m3 0h1m6 0h1m1 0h1m2 0h1m4 0h2m7 0h1m-45 1h2m6 0h1m1 0h1m2 0h1m9 0h1m2 0h1m1 0h2m1 0h1m2 0h2m1 0h1m1 0h1m-35 1h1m2 0h1m3 0h1m1 0h1m5 0h3m5 0h3m2 0h1m1 0h1m1 0h1m-44 1h1m9 0h2m1 0h4m5 0h1m1 0h6m2 0h1m2 0h3m4 0h1m-42 1h1m5 0h2m3 0h2m1 0h4m1 0h5m3 0h5m1 0h5m1 0h1m2 0h1m-51 1h1m5 0h1m1 0h2m9 0h1m1 0h3m1 0h3m2 0h1m1 0h2m3 0h2m1 0h2m2 0h2m2 0h1m5 0h1m-50 1h1m3 0h1m2 0h1m2 0h2m2 0h1m1 0h4m1 0h5m2 0h4m1 0h5m1 0h2m4 0h1m3 0h1m-52 1h1m3 0h1m4 0h1m1 0h3m1 0h1m2 0h5m2 0h1m1 0h1m2 0h4m3 0h3m1 0h2m-39 1h2m1 0h9m2 0h1m1 0h9m3 0h2m4 0h3m5 0h1m-56 1h1m7 0h1m2 0h1m3 0h1m1 0h4m1 0h9m1 0h1m4 0h2m1 0h1m3 0h1m5 0h1m-44 1h2m1 0h2m3 0h1m2 0h3m1 0h6m1 0h5m1 0h4m3 0h2m4 0h1m1 0h1m3 0h1m-45 1h1m3 0h4m1 0h17m2 0h2m1 0h1m1 0h2m-46 1h2m2 0h1m1 0h2m2 0h1m1 0h1m4 0h14m1 0h1m1 0h2m1 0h3m7 0h1m5 0h1m7 0h1m-58 1h3m1 0h1m1 0h1m1 0h1m3 0h1m3 0h5m1 0h6m1 0h2m8 0h2m4 0h1m-53 1h1m1 0h1m1 0h1m4 0h6m2 0h5m4 0h5m2 0h6m1 0h1m3 0h1m4 0h1m-50 1h1m3 0h1m3 0h1m2 0h1m3 0h1m3 0h2m1 0h2m2 0h2m1 0h3m1 0h1m3 0h1m3 0h3m3 0h1m-47 1h4m1 0h1m1 0h1m4 0h1m5 0h3m1 0h7m1 0h1m2 0h1m3 0h1m3 0h1m4 0h1m-46 1h1m7 0h1m2 0h2m1 0h2m3 0h1m2 0h1m1 0h5m1 0h1m1 0h3m6 0h1m9 0h1m-47 1h1m8 0h1m2 0h3m3 0h1m2 0h6m3 0h1m1 0h2m1 0h1m-39 1h1m10 0h1m1 0h1m8 0h1m1 0h2m1 0h1m2 0h2m-32 1h1m6 0h3m2 0h1m1 0h1m2 0h1m5 0h1m4 0h1m1 0h2m1 0h1m-23 1h1m5 0h1m2 0h1m2 0h1m2 0h3m-18 1h1m6 0h1m2 0h1m10 0h1m5 0h1m2 0h1m-23 1h2m2 0h1m3 0h1m6 0h1m3 0h1m-28 2h1m4 0h1m2 0h1m2 0h1m3 0h1m-17 1h1m1 0h1m1 0h1m5 0h1m6 0h2m-4 1h1m3 0h2m11 0h1m-21 1h1" fill="none" stroke="#1a2aff" stroke-width="1" stroke-opacity="0.6"/>
<ellipse cx="430.2" cy="1279.7" rx="13" ry="9.7" fill="url(#core)" transform="rotate(-30 430.2 1279.7)"/>
<ellipse cx="451.4" cy="1260.6" rx="10.8" ry="4.3" fill="url(#coreB)" transform="rotate(-25 451.4 1260.6)"/>
<line x1="438.4" y1="1221.2" x2="438.4" y2="1316.9" stroke="#858585" stroke-width="1.1"/>
<line x1="396.5" y1="1268.9" x2="492.8" y2="1268.9" stroke="#858585" stroke-width="1.1"/>
<rect x="396.5" y="1221.2" width="96.3" height="95.7" fill="none" stroke="#6a6a6a" stroke-width="1.3"/>
<path d="M398.5 1316.9v-1.5M401.1 1316.9v-1.5M403.7 1316.9v-1.5M406.3 1316.9v-1.5M408.9 1316.9v-1.5M411.5 1316.9v-1.5M414.1 1316.9v-1.5M416.7 1316.9v-1.5M419.3 1316.9v-1.5M421.9 1316.9v-1.5M424.5 1316.9v-1.5M427.1 1316.9v-1.5M429.7 1316.9v-1.5M432.3 1316.9v-1.5M434.9 1316.9v-1.5M437.5 1316.9v-1.5M440.1 1316.9v-1.5M442.7 1316.9v-1.5M445.3 1316.9v-1.5M447.9 1316.9v-1.5M450.5 1316.9v-1.5M453.1 1316.9v-1.5M455.7 1316.9v-1.5M458.3 1316.9v-1.5M460.9 1316.9v-1.5M463.5 1316.9v-1.5M466.1 1316.9v-1.5M468.7 1316.9v-1.5M471.3 1316.9v-1.5M473.9 1316.9v-1.5M476.5 1316.9v-1.5M479.1 1316.9v-1.5M481.7 1316.9v-1.5M484.3 1316.9v-1.5M486.9 1316.9v-1.5M489.5 1316.9v-1.5M396.5 1314.9h1.5M396.5 1312.3h1.5M396.5 1309.7h1.5M396.5 1307.1h1.5M396.5 1304.5h1.5M396.5 1301.9h1.5M396.5 1299.3h1.5M396.5 1296.7h1.5M396.5 1294.1h1.5M396.5 1291.5h1.5M396.5 1288.9h1.5M396.5 1286.3h1.5M396.5 1283.7h1.5M396.5 1281.1h1.5M396.5 1278.5h1.5M396.5 1275.9h1.5M396.5 1273.3h1.5M396.5 1270.7h1.5M396.5 1268.1h1.5M396.5 1265.5h1.5M396.5 1262.9h1.5M396.5 1260.3h1.5M396.5 1257.7h1.5M396.5 1255.1h1.5M396.5 1252.5h1.5M396.5 1249.9h1.5M396.5 1247.3h1.5M396.5 1244.7h1.5M396.5 1242.1h1.5M396.5 1239.5h1.5M396.5 1236.9h1.5M396.5 1234.3h1.5M396.5 1231.7h1.5M396.5 1229.1h1.5M396.5 1226.5h1.5M396.5 1223.9h1.5" fill="none" stroke="#555" stroke-width="0.7"/>
<text x="401.6" y="1325.2" class="c7">0</text>
<text x="409.7" y="1325.2" class="c7">10¹</text>
<text x="421.7" y="1325.2" class="c7">10²</text>
<text x="435" y="1325.2" class="c7">10³</text>
<text x="449.3" y="1325.2" class="c7">10⁴</text>
<text x="462.6" y="1325.2" class="c7">10⁵</text>
<text x="477.2" y="1325.2" class="c7">10⁶</text>
<text x="490.5" y="1325.2" class="c7">10⁷</text>
<text x="394.5" y="1312.1" class="c7" transform="rotate(-90 394.5 1312.1)">0</text>
<text x="394.5" y="1301.6" class="c7" transform="rotate(-90 394.5 1301.6)">10²</text>
<text x="394.5" y="1288.2" class="c7" transform="rotate(-90 394.5 1288.2)">10³</text>
<text x="394.5" y="1274.8" class="c7" transform="rotate(-90 394.5 1274.8)">10⁴</text>
<text x="394.5" y="1259.5" class="c7" transform="rotate(-90 394.5 1259.5)">10⁵</text>
<text x="394.5" y="1244.2" class="c7" transform="rotate(-90 394.5 1244.2)">10⁶</text>
<text x="394.5" y="1228.9" class="c7" transform="rotate(-90 394.5 1228.9)">10⁷</text>
<text x="400.5" y="1230.3" class="c6">0.40%</text>
<text x="489.9" y="1230.3" class="c8">13.23%</text>
<text x="399" y="1313.9" class="c6">79.88%</text>
<text x="489.9" y="1313.9" class="c8">6.49%</text>
<path d="M146 1356.5h1m-9 1h1m1 0h1m0 1h1m-12 1h1m4 0h1m-7 2h1m1 0h1m2 0h1m1 0h1m-8 1h1m2 0h2m1 0h2m-9 1h1m2 0h3m1 0h1m-5 1h1m3 0h2m-12 1h1m1 0h2m2 0h2m1 0h2m-11 1h1m3 0h4m-7 1h1m4 0h2m-10 1h2m1 0h2m4 0h2m-11 1h3m0 1h2m-6 1h1m3 1h1m2 1h1m8 2h1m-25 1h1m-7 1h1m-6 1h1m5 0h1m1 0h2m6 0h1m15 0h1m-44 1h1m14 0h1m6 0h4m11 0h1m-5 1h1m-19 1h1m2 0h2m1 0h1m3 0h2m-15 1h1m1 0h1m1 0h1m1 0h2m5 0h2m-22 1h1m5 0h1m2 0h3m1 0h1m1 0h1m3 0h2m2 0h1m1 0h1m9 0h1m4 0h1m-59 1h1m19 0h2m2 0h4m2 0h1m1 0h2m1 0h1m1 0h1m1 0h1m4 0h1m-27 1h4m1 0h2m3 0h6m2 0h2m2 0h3m8 0h1m-34 1h1m4 0h2m2 0h2m1 0h1m1 0h3m1 0h2m1 0h1m1 0h1m2 0h1m-44 1h1m3 0h1m4 0h1m3 0h1m4 0h3m2 0h1m2 0h1m1 0h2m1 0h3m3 0h2m2 0h1m2 0h1m-40 1h1m3 0h2m6 0h1m2 0h1m1 0h4m1 0h1m1 0h11m1 0h1m1 0h1m-46 1h1m1 0h1m1 0h1m2 0h1m3 0h1m2 0h1m1 0h1m4 0h2m1 0h2m1 0h9m1 0h4m1 0h2m2 0h2m-47 1h1m1 0h1m7 0h2m1 0h2m2 0h6m1 0h2m2 0h9m1 0h2m-33 1h3m8 0h5m1 0h2m1 0h3m1 0h1m1 0h3m1 0h4m2 0h1m1 0h2m-46 1h6m5 0h3m2 0h5m1 0h13m1 0h1m1 0h3m-41 1h1m1 0h2m2 0h2m1 0h4m1 0h1m2 0h1m1 0h4m1 0h6m1 0h3m1 0h1m2 0h2m5 0h1m1 0h1m-49 1h1m2 0h2m1 0h15m1 0h12m1 0h1m1 0h1m1 0h4m4 0h1m-46 1h2m7 0h1m1 0h1m1 0h11m1 0h1m1 0h2m1 0h1m1 0h2m1 0h1m2 0h1m3 0h1m-38 1h1m4 0h1m1 0h1m4 0h1m1 0h1m1 0h4m2 0h2m2 0h3m2 0h1m4 0h1m-43 1h1m14 0h2m1 0h2m1 0h1m1 0h2m2 0h1m1 0h1m2 0h4m1 0h1m-33 1h1m2 0h1m5 0h1m2 0h1m5 0h1m1 0h3m2 0h1m5 0h1m4 0h2m-35 1h1m4 0h2m3 0h1m4 0h2m1 0h2m1 0h1m6 0h1m1 0h1m2 0h1m-38 1h1m12 0h2m1 0h1m3 0h2m1 0h3m9 0h1m1 0h1m-19 1h1m3 0h2m-10 1h1m8 0h1m18 0h1m-27 1h1m10 0h1m-15 1h1m2 0h2m18 0h1m-22 1h1m9 0h1m-17 1h1m12 0h1m6 0h1m-14 1h1m4 1h1m13 0h1m-26 2h1m24 0h1m-17 1h1m2 0h1" fill="none" stroke="#1a2aff" stroke-width="1" stroke-opacity="0.6"/>
<ellipse cx="110.1" cy="1390.9" rx="13.5" ry="9.7" fill="url(#coreR)" transform="rotate(-25 110.1 1390.9)"/>
<line x1="117.9" y1="1327.5" x2="117.9" y2="1423.8" stroke="#858585" stroke-width="1.1"/>
<line x1="77.5" y1="1376.8" x2="173.2" y2="1376.8" stroke="#858585" stroke-width="1.1"/>
<rect x="77.5" y="1327.5" width="95.7" height="96.3" fill="none" stroke="#6a6a6a" stroke-width="1.3"/>
<path d="M79.5 1423.8v-1.5M82.1 1423.8v-1.5M84.7 1423.8v-1.5M87.3 1423.8v-1.5M89.9 1423.8v-1.5M92.5 1423.8v-1.5M95.1 1423.8v-1.5M97.7 1423.8v-1.5M100.3 1423.8v-1.5M102.9 1423.8v-1.5M105.5 1423.8v-1.5M108.1 1423.8v-1.5M110.7 1423.8v-1.5M113.3 1423.8v-1.5M115.9 1423.8v-1.5M118.5 1423.8v-1.5M121.1 1423.8v-1.5M123.7 1423.8v-1.5M126.3 1423.8v-1.5M128.9 1423.8v-1.5M131.5 1423.8v-1.5M134.1 1423.8v-1.5M136.7 1423.8v-1.5M139.3 1423.8v-1.5M141.9 1423.8v-1.5M144.5 1423.8v-1.5M147.1 1423.8v-1.5M149.7 1423.8v-1.5M152.3 1423.8v-1.5M154.9 1423.8v-1.5M157.5 1423.8v-1.5M160.1 1423.8v-1.5M162.7 1423.8v-1.5M165.3 1423.8v-1.5M167.9 1423.8v-1.5M170.5 1423.8v-1.5M77.5 1421.8h1.5M77.5 1419.2h1.5M77.5 1416.6h1.5M77.5 1414h1.5M77.5 1411.4h1.5M77.5 1408.8h1.5M77.5 1406.2h1.5M77.5 1403.6h1.5M77.5 1401h1.5M77.5 1398.4h1.5M77.5 1395.8h1.5M77.5 1393.2h1.5M77.5 1390.6h1.5M77.5 1388h1.5M77.5 1385.4h1.5M77.5 1382.8h1.5M77.5 1380.2h1.5M77.5 1377.6h1.5M77.5 1375h1.5M77.5 1372.4h1.5M77.5 1369.8h1.5M77.5 1367.2h1.5M77.5 1364.6h1.5M77.5 1362h1.5M77.5 1359.4h1.5M77.5 1356.8h1.5M77.5 1354.2h1.5M77.5 1351.6h1.5M77.5 1349h1.5M77.5 1346.4h1.5M77.5 1343.8h1.5M77.5 1341.2h1.5M77.5 1338.6h1.5M77.5 1336h1.5M77.5 1333.4h1.5M77.5 1330.8h1.5" fill="none" stroke="#555" stroke-width="0.7"/>
<text x="82.6" y="1432.1" class="c7">0</text>
<text x="90.6" y="1432.1" class="c7">10¹</text>
<text x="102.6" y="1432.1" class="c7">10²</text>
<text x="115.8" y="1432.1" class="c7">10³</text>
<text x="129.9" y="1432.1" class="c7">10⁴</text>
<text x="143.2" y="1432.1" class="c7">10⁵</text>
<text x="157.7" y="1432.1" class="c7">10⁶</text>
<text x="170.9" y="1432.1" class="c7">10⁷</text>
<text x="75.5" y="1419" class="c7" transform="rotate(-90 75.5 1419)">0</text>
<text x="75.5" y="1408.4" class="c7" transform="rotate(-90 75.5 1408.4)">10²</text>
<text x="75.5" y="1394.9" class="c7" transform="rotate(-90 75.5 1394.9)">10³</text>
<text x="75.5" y="1381.4" class="c7" transform="rotate(-90 75.5 1381.4)">10⁴</text>
<text x="75.5" y="1366" class="c7" transform="rotate(-90 75.5 1366)">10⁵</text>
<text x="75.5" y="1350.6" class="c7" transform="rotate(-90 75.5 1350.6)">10⁶</text>
<text x="75.5" y="1335.2" class="c7" transform="rotate(-90 75.5 1335.2)">10⁷</text>
<text x="78.4" y="1338.8" class="c6">0.04%</text>
<text x="171.1" y="1338.8" class="c8">3.39%</text>
<text x="77.5" y="1421.8" class="c6">95.36%</text>
<text x="170.8" y="1421.8" class="c8">1.21%</text>
<path d="M228 1362.5h1m15 0h2m-32 1h1m24 0h1m2 0h1m1 0h2m1 0h1m-8 1h1m2 0h3m-7 1h4m-2 1h4m-11 1h1m1 0h1m3 0h1m-6 2h1m-17 1h1m19 0h1m-6 1h1m1 0h1m-9 2h1m-2 1h1m-16 1h1m13 0h1m5 0h1m-20 1h1m15 0h1m8 0h1m-23 1h2m1 0h2m-2 1h1m1 0h1m1 0h1m14 0h1m2 0h1m-30 1h2m4 0h1m-25 1h1m21 0h3m3 0h1m15 0h1m-28 1h2m2 0h1m3 0h1m2 0h1m2 0h3m4 0h1m-41 1h1m9 0h1m9 0h1m7 0h2m1 0h2m1 0h1m1 0h1m2 0h1m1 0h1m-28 1h1m1 0h1m2 0h2m2 0h1m1 0h1m1 0h3m1 0h1m1 0h3m6 0h1m6 0h1m-50 1h1m16 0h1m2 0h1m2 0h3m2 0h2m2 0h1m2 0h2m2 0h1m2 0h1m-37 1h1m9 0h1m3 0h8m1 0h5m1 0h1m5 0h1m2 0h1m-51 1h1m4 0h1m8 0h1m2 0h1m2 0h1m1 0h2m1 0h2m1 0h4m1 0h6m1 0h1m3 0h1m4 0h1m-50 1h1m12 0h3m5 0h2m1 0h1m2 0h1m1 0h3m2 0h3m1 0h1m2 0h2m2 0h1m3 0h1m-50 1h1m7 0h1m3 0h3m2 0h1m1 0h6m1 0h3m1 0h1m3 0h1m1 0h2m1 0h3m1 0h2m2 0h1m-48 1h3m1 0h2m7 0h1m1 0h1m1 0h3m1 0h4m1 0h4m1 0h3m1 0h1m1 0h3m1 0h2m-40 1h3m2 0h1m1 0h9m1 0h4m1 0h2m2 0h7m1 0h2m1 0h3m1 0h1m4 0h2m3 0h1m-49 1h1m1 0h4m1 0h3m2 0h3m1 0h4m1 0h5m2 0h1m1 0h3m3 0h1m1 0h2m-44 1h3m1 0h2m3 0h1m1 0h1m1 0h1m1 0h1m2 0h2m2 0h5m1 0h5m1 0h2m2 0h2m2 0h1m1 0h1m-47 1h1m1 0h1m1 0h2m4 0h2m1 0h2m1 0h3m2 0h2m1 0h8m1 0h3m2 0h2m2 0h2m3 0h1m2 0h1m-53 1h1m3 0h1m3 0h4m1 0h1m3 0h1m2 0h1m1 0h3m1 0h1m1 0h2m3 0h1m2 0h2m1 0h2m3 0h2m1 0h1m5 0h1m-39 1h2m1 0h2m1 0h3m4 0h5m3 0h1m2 0h1m1 0h2m1 0h1m1 0h1m-45 1h1m10 0h2m2 0h1m1 0h1m1 0h3m2 0h3m1 0h1m4 0h1m1 0h3m6 0h1m1 0h1m4 0h1m-42 1h1m1 0h2m6 0h1m1 0h1m1 0h1m1 0h2m2 0h5m2 0h1m12 0h1m-50 1h1m20 0h1m4 0h3m3 0h1m4 0h2m1 0h1m8 0h1m-35 1h1m1 0h1m1 0h2m6 0h1m6 0h2m2 0h1m8 0h1m-48 1h1m2 0h1m17 0h1m1 0h1m6 0h1m1 0h1m8 0h1m-18 1h1m3 0h1m8 0h1m11 0h1m-26 1h1m2 0h1m4 0h1m2 0h1m11 0h1m-32 1h1m7 0h1m6 0h1m15 0h1m-23 1h1m-2 1h1m1 0h1m-23 2h1m15 0h1m-15 1h1m22 2h1m-29 3h1m17 2h1m-9 2h1" fill="none" stroke="#1a2aff" stroke-width="1" stroke-opacity="0.6"/>
<ellipse cx="218.6" cy="1389.9" rx="14" ry="9.7" fill="url(#coreR)" transform="rotate(-25 218.6 1389.9)"/>
<line x1="225.7" y1="1327.5" x2="225.7" y2="1424.7" stroke="#858585" stroke-width="1.1"/>
<line x1="183.8" y1="1376.8" x2="280.1" y2="1376.8" stroke="#858585" stroke-width="1.1"/>
<rect x="183.8" y="1327.5" width="96.3" height="97.2" fill="none" stroke="#6a6a6a" stroke-width="1.3"/>
<path d="M185.8 1424.7v-1.5M188.4 1424.7v-1.5M191 1424.7v-1.5M193.6 1424.7v-1.5M196.2 1424.7v-1.5M198.8 1424.7v-1.5M201.4 1424.7v-1.5M204 1424.7v-1.5M206.6 1424.7v-1.5M209.2 1424.7v-1.5M211.8 1424.7v-1.5M214.4 1424.7v-1.5M217 1424.7v-1.5M219.6 1424.7v-1.5M222.2 1424.7v-1.5M224.8 1424.7v-1.5M227.4 1424.7v-1.5M230 1424.7v-1.5M232.6 1424.7v-1.5M235.2 1424.7v-1.5M237.8 1424.7v-1.5M240.4 1424.7v-1.5M243 1424.7v-1.5M245.6 1424.7v-1.5M248.2 1424.7v-1.5M250.8 1424.7v-1.5M253.4 1424.7v-1.5M256 1424.7v-1.5M258.6 1424.7v-1.5M261.2 1424.7v-1.5M263.8 1424.7v-1.5M266.4 1424.7v-1.5M269 1424.7v-1.5M271.6 1424.7v-1.5M274.2 1424.7v-1.5M276.8 1424.7v-1.5M183.8 1422.7h1.5M183.8 1420.1h1.5M183.8 1417.5h1.5M183.8 1414.9h1.5M183.8 1412.3h1.5M183.8 1409.7h1.5M183.8 1407.1h1.5M183.8 1404.5h1.5M183.8 1401.9h1.5M183.8 1399.3h1.5M183.8 1396.7h1.5M183.8 1394.1h1.5M183.8 1391.5h1.5M183.8 1388.9h1.5M183.8 1386.3h1.5M183.8 1383.7h1.5M183.8 1381.1h1.5M183.8 1378.5h1.5M183.8 1375.9h1.5M183.8 1373.3h1.5M183.8 1370.7h1.5M183.8 1368.1h1.5M183.8 1365.5h1.5M183.8 1362.9h1.5M183.8 1360.3h1.5M183.8 1357.7h1.5M183.8 1355.1h1.5M183.8 1352.5h1.5M183.8 1349.9h1.5M183.8 1347.3h1.5M183.8 1344.7h1.5M183.8 1342.1h1.5M183.8 1339.5h1.5M183.8 1336.9h1.5M183.8 1334.3h1.5M183.8 1331.7h1.5" fill="none" stroke="#555" stroke-width="0.7"/>
<text x="188.9" y="1433" class="c7">0</text>
<text x="197" y="1433" class="c7">10¹</text>
<text x="209" y="1433" class="c7">10²</text>
<text x="222.3" y="1433" class="c7">10³</text>
<text x="236.6" y="1433" class="c7">10⁴</text>
<text x="249.9" y="1433" class="c7">10⁵</text>
<text x="264.5" y="1433" class="c7">10⁶</text>
<text x="277.8" y="1433" class="c7">10⁷</text>
<text x="181.8" y="1419.8" class="c7" transform="rotate(-90 181.8 1419.8)">0</text>
<text x="181.8" y="1409.1" class="c7" transform="rotate(-90 181.8 1409.1)">10²</text>
<text x="181.8" y="1395.5" class="c7" transform="rotate(-90 181.8 1395.5)">10³</text>
<text x="181.8" y="1381.9" class="c7" transform="rotate(-90 181.8 1381.9)">10⁴</text>
<text x="181.8" y="1366.4" class="c7" transform="rotate(-90 181.8 1366.4)">10⁵</text>
<text x="181.8" y="1350.8" class="c7" transform="rotate(-90 181.8 1350.8)">10⁶</text>
<text x="181.8" y="1335.3" class="c7" transform="rotate(-90 181.8 1335.3)">10⁷</text>
<text x="186.3" y="1338.8" class="c6">0.00%</text>
<text x="278.1" y="1338.8" class="c8">0.57%</text>
<text x="186.3" y="1421.8" class="c6">98.37%</text>
<text x="278.1" y="1421.8" class="c8">1.06%</text>
<path d="M332 1355.5h1m24 2h1m-9 1h1m4 0h1m13 0h1m-14 1h1m3 0h1m-11 1h1m1 0h1m1 0h1m2 0h2m-12 1h2m2 0h1m1 0h1m-10 1h1m3 0h1m1 0h1m1 0h1m5 0h1m-14 1h1m1 0h8m1 0h1m1 0h1m2 0h2m-23 1h3m1 0h1m1 0h1m1 0h8m1 0h1m-18 1h1m3 0h1m1 0h2m1 0h8m-40 1h1m20 0h1m1 0h1m2 0h6m3 0h3m2 0h1m4 0h1m-26 1h1m1 0h1m1 0h1m1 0h1m1 0h1m1 0h4m3 0h1m-23 1h1m2 0h1m5 0h1m2 0h6m4 0h1m4 0h1m-42 1h1m13 0h2m6 0h2m1 0h1m1 0h2m1 0h3m2 0h1m-31 1h1m16 0h1m1 0h1m2 0h1m1 0h1m2 0h3m1 0h1m2 0h1m-34 1h1m7 0h2m2 0h1m1 0h3m2 0h1m2 0h1m1 0h3m6 0h1m6 0h1m-50 1h1m18 0h1m2 0h1m5 0h2m2 0h1m5 0h1m3 0h1m-24 1h1m2 0h1m1 0h2m5 0h1m6 0h2m-37 1h1m6 0h1m1 0h1m12 0h1m4 0h1m3 0h1m-29 1h1m4 0h1m1 0h1m3 0h4m4 0h1m3 0h2m1 0h2m-30 1h1m1 0h2m4 0h2m3 0h1m8 0h1m3 0h1m9 0h1m-39 1h1m1 0h2m1 0h5m1 0h1m3 0h4m5 0h1m1 0h1m3 0h1m2 0h1m3 0h1m-40 1h2m1 0h5m3 0h2m2 0h2m1 0h1m7 0h1m2 0h1m1 0h5m2 0h1m1 0h2m-44 1h1m2 0h1m3 0h1m2 0h1m2 0h1m1 0h2m1 0h1m1 0h1m1 0h1m5 0h5m1 0h2m1 0h2m-44 1h1m2 0h1m2 0h7m1 0h2m1 0h4m1 0h2m1 0h3m1 0h1m2 0h1m1 0h5m3 0h1m1 0h2m3 0h1m-63 1h1m12 0h1m3 0h1m1 0h1m1 0h2m3 0h5m1 0h4m1 0h2m1 0h2m1 0h1m1 0h2m1 0h3m1 0h1m1 0h1m-52 1h1m3 0h1m2 0h1m3 0h3m1 0h5m1 0h1m1 0h5m2 0h1m2 0h1m1 0h1m1 0h7m1 0h1m1 0h1m1 0h1m2 0h1m-55 1h1m7 0h1m2 0h1m1 0h7m1 0h2m2 0h4m1 0h4m1 0h1m1 0h3m1 0h1m1 0h5m1 0h2m4 0h1m5 0h1m-59 1h1m2 0h1m9 0h1m1 0h10m1 0h4m1 0h2m2 0h2m1 0h4m2 0h3m1 0h4m-54 1h2m2 0h1m1 0h1m2 0h1m2 0h4m1 0h1m1 0h2m1 0h9m1 0h1m3 0h2m1 0h1m1 0h2m1 0h1m3 0h1m5 0h2m-61 1h1m7 0h3m1 0h1m1 0h3m1 0h1m1 0h2m3 0h14m11 0h1m8 0h1m-56 1h1m1 0h1m6 0h5m4 0h1m1 0h4m1 0h4m1 0h2m1 0h2m1 0h1m1 0h1m9 0h1m3 0h1m2 0h1m-59 1h1m5 0h2m3 0h1m1 0h2m2 0h3m1 0h7m1 0h8m1 0h1m6 0h1m1 0h1m3 0h1m-53 1h1m2 0h1m6 0h1m2 0h2m1 0h1m2 0h2m1 0h7m2 0h4m1 0h1m1 0h2m6 0h1m1 0h1m4 0h1m-51 1h1m2 0h2m2 0h1m1 0h1m1 0h2m1 0h4m3 0h1m1 0h9m2 0h1m1 0h1m6 0h1m-45 1h3m1 0h1m2 0h2m2 0h2m2 0h1m1 0h2m1 0h1m1 0h1m1 0h2m1 0h1m1 0h1m6 0h2m22 0h1m-59 1h1m1 0h1m5 0h1m5 0h2m3 0h1m1 0h1m1 0h1m3 0h2m1 0h1m12 0h1m-44 1h1m5 0h1m2 0h1m2 0h3m1 0h1m9 0h1m1 0h1m1 0h1m5 0h1m6 0h1m-48 1h1m15 0h1m3 0h1m2 0h1m4 0h1m2 0h2m1 0h2m-21 1h1m2 0h1m5 0h3m3 0h2m7 0h1m5 0h1m-25 1h1m3 0h1m1 0h2m9 0h1m-13 1h1m1 0h1m5 0h1m-12 1h1m2 0h1m4 0h1m12 0h1m-18 2h1m9 0h1m-15 1h1m6 1h1m-6 1h1m12 0h1m-38 1h1m40 0h1m-21 7h1" fill="none" stroke="#1a2aff" stroke-width="1" stroke-opacity="0.6"/>
<ellipse cx="322" cy="1385.6" rx="13" ry="8.6" fill="url(#core)" transform="rotate(-25 322 1385.6)"/>
<ellipse cx="347.2" cy="1366.5" rx="10.8" ry="5.4" fill="url(#coreB)" transform="rotate(-20 347.2 1366.5)"/>
<ellipse cx="344" cy="1381.4" rx="10.8" ry="5.9" fill="url(#coreB)" transform="rotate(-15 344 1381.4)"/>
<line x1="331.7" y1="1327.5" x2="331.7" y2="1424.7" stroke="#858585" stroke-width="1.1"/>
<line x1="290" y1="1376.8" x2="385.8" y2="1376.8" stroke="#858585" stroke-width="1.1"/>
<rect x="290" y="1327.5" width="95.8" height="97.2" fill="none" stroke="#6a6a6a" stroke-width="1.3"/>
<path d="M292 1424.7v-1.5M294.6 1424.7v-1.5M297.2 1424.7v-1.5M299.8 1424.7v-1.5M302.4 1424.7v-1.5M305 1424.7v-1.5M307.6 1424.7v-1.5M310.2 1424.7v-1.5M312.8 1424.7v-1.5M315.4 1424.7v-1.5M318 1424.7v-1.5M320.6 1424.7v-1.5M323.2 1424.7v-1.5M325.8 1424.7v-1.5M328.4 1424.7v-1.5M331 1424.7v-1.5M333.6 1424.7v-1.5M336.2 1424.7v-1.5M338.8 1424.7v-1.5M341.4 1424.7v-1.5M344 1424.7v-1.5M346.6 1424.7v-1.5M349.2 1424.7v-1.5M351.8 1424.7v-1.5M354.4 1424.7v-1.5M357 1424.7v-1.5M359.6 1424.7v-1.5M362.2 1424.7v-1.5M364.8 1424.7v-1.5M367.4 1424.7v-1.5M370 1424.7v-1.5M372.6 1424.7v-1.5M375.2 1424.7v-1.5M377.8 1424.7v-1.5M380.4 1424.7v-1.5M383 1424.7v-1.5M290 1422.7h1.5M290 1420.1h1.5M290 1417.5h1.5M290 1414.9h1.5M290 1412.3h1.5M290 1409.7h1.5M290 1407.1h1.5M290 1404.5h1.5M290 1401.9h1.5M290 1399.3h1.5M290 1396.7h1.5M290 1394.1h1.5M290 1391.5h1.5M290 1388.9h1.5M290 1386.3h1.5M290 1383.7h1.5M290 1381.1h1.5M290 1378.5h1.5M290 1375.9h1.5M290 1373.3h1.5M290 1370.7h1.5M290 1368.1h1.5M290 1365.5h1.5M290 1362.9h1.5M290 1360.3h1.5M290 1357.7h1.5M290 1355.1h1.5M290 1352.5h1.5M290 1349.9h1.5M290 1347.3h1.5M290 1344.7h1.5M290 1342.1h1.5M290 1339.5h1.5M290 1336.9h1.5M290 1334.3h1.5M290 1331.7h1.5" fill="none" stroke="#555" stroke-width="0.7"/>
<text x="295.1" y="1433" class="c7">0</text>
<text x="303.1" y="1433" class="c7">10¹</text>
<text x="315.1" y="1433" class="c7">10²</text>
<text x="328.3" y="1433" class="c7">10³</text>
<text x="342.5" y="1433" class="c7">10⁴</text>
<text x="355.7" y="1433" class="c7">10⁵</text>
<text x="370.3" y="1433" class="c7">10⁶</text>
<text x="383.5" y="1433" class="c7">10⁷</text>
<text x="288" y="1419.8" class="c7" transform="rotate(-90 288 1419.8)">0</text>
<text x="288" y="1409.1" class="c7" transform="rotate(-90 288 1409.1)">10²</text>
<text x="288" y="1395.5" class="c7" transform="rotate(-90 288 1395.5)">10³</text>
<text x="288" y="1381.9" class="c7" transform="rotate(-90 288 1381.9)">10⁴</text>
<text x="288" y="1366.4" class="c7" transform="rotate(-90 288 1366.4)">10⁵</text>
<text x="288" y="1350.8" class="c7" transform="rotate(-90 288 1350.8)">10⁶</text>
<text x="288" y="1335.3" class="c7" transform="rotate(-90 288 1335.3)">10⁷</text>
<text x="293.3" y="1338.8" class="c6">0.58%</text>
<text x="384.4" y="1338.8" class="c8">19.21%</text>
<text x="291.2" y="1421.8" class="c6">61.86%</text>
<text x="386" y="1421.8" class="c8">18.35%</text>
<path d="M472 1353.5h1m-18 1h1m2 0h1m-14 1h1m10 2h1m-7 3h1m3 0h1m1 0h1m3 0h2m5 0h1m-11 1h3m-9 1h2m3 0h2m1 0h3m12 0h1m-25 1h1m5 0h1m1 0h1m2 0h1m-14 1h1m4 0h2m1 0h1m1 0h1m1 0h2m2 0h1m-20 1h1m4 0h4m1 0h3m-13 1h2m1 0h2m1 0h1m2 0h3m-17 1h1m5 0h1m1 0h3m1 0h2m5 0h1m-17 1h1m2 0h1m1 0h7m-17 1h1m4 0h10m1 0h1m-18 1h1m1 0h1m2 0h1m3 0h2m1 0h1m3 0h1m3 0h1m2 0h1m-37 1h1m2 0h1m9 0h1m1 0h1m4 0h1m2 0h1m1 0h6m3 0h1m-19 1h1m2 0h2m3 0h3m4 0h2m-34 1h1m3 0h1m8 0h1m7 0h1m1 0h5m1 0h1m4 0h1m-21 1h1m1 0h1m1 0h1m4 0h1m3 0h1m2 0h1m-32 1h1m1 0h1m2 0h1m1 0h2m5 0h1m4 0h1m6 0h1m1 0h1m6 0h1m-35 1h1m6 0h2m1 0h2m1 0h1m5 0h1m4 0h5m1 0h1m2 0h1m-30 1h1m3 0h1m1 0h1m1 0h2m1 0h1m2 0h1m2 0h2m1 0h1m3 0h1m1 0h2m-50 1h1m8 0h1m3 0h2m6 0h3m1 0h2m2 0h1m1 0h1m2 0h1m4 0h1m1 0h1m1 0h4m1 0h1m-33 1h2m1 0h1m1 0h5m1 0h1m1 0h3m6 0h1m2 0h1m1 0h1m1 0h2m1 0h1m1 0h1m-46 1h1m5 0h2m5 0h2m1 0h1m1 0h1m1 0h1m2 0h1m1 0h2m4 0h1m1 0h4m2 0h1m1 0h1m2 0h3m1 0h1m-53 1h1m6 0h1m8 0h2m1 0h5m3 0h2m2 0h1m1 0h3m2 0h1m3 0h2m1 0h1m1 0h1m1 0h1m-38 1h1m4 0h4m1 0h1m1 0h1m1 0h5m5 0h2m3 0h3m1 0h1m1 0h2m1 0h1m-46 1h1m7 0h2m3 0h5m2 0h2m1 0h1m2 0h1m1 0h3m4 0h3m1 0h1m-48 1h1m5 0h1m2 0h1m1 0h1m1 0h2m4 0h5m1 0h1m1 0h2m1 0h5m2 0h1m4 0h1m3 0h1m2 0h1m-49 1h1m6 0h1m8 0h1m1 0h1m1 0h1m2 0h3m1 0h3m1 0h1m1 0h2m11 0h1m1 0h1m-52 1h1m3 0h2m2 0h1m6 0h1m1 0h4m1 0h2m1 0h5m1 0h4m3 0h1m8 0h2m1 0h1m-45 1h1m9 0h3m1 0h1m1 0h1m1 0h4m1 0h1m1 0h1m1 0h5m2 0h1m-39 1h1m1 0h1m1 0h1m3 0h2m1 0h1m2 0h2m1 0h14m8 0h1m3 0h1m1 0h1m-48 1h1m3 0h3m1 0h2m3 0h10m1 0h11m1 0h1m1 0h1m8 0h1m2 0h1m-51 1h3m2 0h1m1 0h4m1 0h1m1 0h3m1 0h1m1 0h1m1 0h8m4 0h1m2 0h1m-39 1h1m1 0h2m4 0h4m2 0h2m1 0h5m1 0h2m2 0h3m1 0h4m1 0h1m1 0h1m3 0h1m9 0h1m-50 1h1m2 0h1m3 0h1m2 0h1m1 0h1m1 0h1m1 0h1m1 0h3m1 0h2m1 0h5m2 0h1m1 0h1m5 0h1m3 0h1m-48 1h1m2 0h1m3 0h2m2 0h1m4 0h3m2 0h2m1 0h2m4 0h2m3 0h2m6 0h1m1 0h1m-44 1h2m6 0h3m2 0h1m1 0h1m2 0h1m2 0h1m1 0h3m1 0h1m2 0h3m5 0h1m4 0h1m-38 1h2m3 0h2m2 0h2m2 0h5m2 0h1m2 0h2m4 0h1m8 0h1m-49 1h1m5 0h1m3 0h1m6 0h1m1 0h1m2 0h2m3 0h1m1 0h1m5 0h3m1 0h1m-41 1h2m15 0h1m3 0h1m5 0h2m1 0h1m2 0h2m4 0h1m2 0h1m-38 1h1m8 0h1m3 0h1m5 0h1m1 0h2m5 0h1m-5 1h1m4 0h1m-14 1h1m1 0h1m1 0h1m7 0h2m7 0h1m-27 1h1m1 0h1m5 0h2m5 0h2m-17 1h1m7 0h1m2 1h1m8 0h1m-32 2h1m26 0h1m-20 1h1" fill="none" stroke="#1a2aff" stroke-width="1" stroke-opacity="0.6"/>
<ellipse cx="429.1" cy="1387.7" rx="13" ry="9.7" fill="url(#core)" transform="rotate(-30 429.1 1387.7)"/>
<ellipse cx="451.4" cy="1367.5" rx="10.8" ry="4.3" fill="url(#coreB)" transform="rotate(-25 451.4 1367.5)"/>
<line x1="438.4" y1="1329" x2="438.4" y2="1424.7" stroke="#858585" stroke-width="1.1"/>
<line x1="396.5" y1="1376.8" x2="492.8" y2="1376.8" stroke="#858585" stroke-width="1.1"/>
<rect x="396.5" y="1329" width="96.3" height="95.7" fill="none" stroke="#6a6a6a" stroke-width="1.3"/>
<path d="M398.5 1424.7v-1.5M401.1 1424.7v-1.5M403.7 1424.7v-1.5M406.3 1424.7v-1.5M408.9 1424.7v-1.5M411.5 1424.7v-1.5M414.1 1424.7v-1.5M416.7 1424.7v-1.5M419.3 1424.7v-1.5M421.9 1424.7v-1.5M424.5 1424.7v-1.5M427.1 1424.7v-1.5M429.7 1424.7v-1.5M432.3 1424.7v-1.5M434.9 1424.7v-1.5M437.5 1424.7v-1.5M440.1 1424.7v-1.5M442.7 1424.7v-1.5M445.3 1424.7v-1.5M447.9 1424.7v-1.5M450.5 1424.7v-1.5M453.1 1424.7v-1.5M455.7 1424.7v-1.5M458.3 1424.7v-1.5M460.9 1424.7v-1.5M463.5 1424.7v-1.5M466.1 1424.7v-1.5M468.7 1424.7v-1.5M471.3 1424.7v-1.5M473.9 1424.7v-1.5M476.5 1424.7v-1.5M479.1 1424.7v-1.5M481.7 1424.7v-1.5M484.3 1424.7v-1.5M486.9 1424.7v-1.5M489.5 1424.7v-1.5M396.5 1422.7h1.5M396.5 1420.1h1.5M396.5 1417.5h1.5M396.5 1414.9h1.5M396.5 1412.3h1.5M396.5 1409.7h1.5M396.5 1407.1h1.5M396.5 1404.5h1.5M396.5 1401.9h1.5M396.5 1399.3h1.5M396.5 1396.7h1.5M396.5 1394.1h1.5M396.5 1391.5h1.5M396.5 1388.9h1.5M396.5 1386.3h1.5M396.5 1383.7h1.5M396.5 1381.1h1.5M396.5 1378.5h1.5M396.5 1375.9h1.5M396.5 1373.3h1.5M396.5 1370.7h1.5M396.5 1368.1h1.5M396.5 1365.5h1.5M396.5 1362.9h1.5M396.5 1360.3h1.5M396.5 1357.7h1.5M396.5 1355.1h1.5M396.5 1352.5h1.5M396.5 1349.9h1.5M396.5 1347.3h1.5M396.5 1344.7h1.5M396.5 1342.1h1.5M396.5 1339.5h1.5M396.5 1336.9h1.5M396.5 1334.3h1.5M396.5 1331.7h1.5" fill="none" stroke="#555" stroke-width="0.7"/>
<text x="401.6" y="1433" class="c7">0</text>
<text x="409.7" y="1433" class="c7">10¹</text>
<text x="421.7" y="1433" class="c7">10²</text>
<text x="435" y="1433" class="c7">10³</text>
<text x="449.3" y="1433" class="c7">10⁴</text>
<text x="462.6" y="1433" class="c7">10⁵</text>
<text x="477.2" y="1433" class="c7">10⁶</text>
<text x="490.5" y="1433" class="c7">10⁷</text>
<text x="394.5" y="1419.9" class="c7" transform="rotate(-90 394.5 1419.9)">0</text>
<text x="394.5" y="1409.4" class="c7" transform="rotate(-90 394.5 1409.4)">10²</text>
<text x="394.5" y="1396" class="c7" transform="rotate(-90 394.5 1396)">10³</text>
<text x="394.5" y="1382.6" class="c7" transform="rotate(-90 394.5 1382.6)">10⁴</text>
<text x="394.5" y="1367.3" class="c7" transform="rotate(-90 394.5 1367.3)">10⁵</text>
<text x="394.5" y="1352" class="c7" transform="rotate(-90 394.5 1352)">10⁶</text>
<text x="394.5" y="1336.7" class="c7" transform="rotate(-90 394.5 1336.7)">10⁷</text>
<text x="399" y="1338.8" class="c6">0.26%</text>
<text x="494.8" y="1338.8" class="c8">13.67%</text>
<text x="399" y="1421.8" class="c6">79.90%</text>
<text x="492.4" y="1421.8" class="c8">6.17%</text>
<text x="945.7" y="1198.3" class="c0">U</text>
<path d="M976.7 1172.8V1425.4H1471.1" fill="none" stroke="#333" stroke-width="1.3"/>
<path d="M972.2 1179.3L976.7 1172.8L981.2 1179.3" fill="none" stroke="#333" stroke-width="1.3"/>
<path d="M1464.6 1420.9L1471.1 1425.4L1464.6 1429.9" fill="none" stroke="#333" stroke-width="1.3"/>
<text x="1053.2" y="1183" class="c1">-</text>
<text x="1174.5" y="1183" class="c1">+</text>
<text x="1279.7" y="1183" class="c1">-</text>
<text x="1388.2" y="1183" class="c1">+</text>
<text x="1052.3" y="1204" class="c1">-</text>
<text x="1171.9" y="1204" class="c1">-</text>
<text x="1276.5" y="1204" class="c1">+</text>
<text x="1387.5" y="1204" class="c1">+</text>
<text x="1420.1" y="1182.3" class="c2">Dantrolene (25μM)</text>
<text x="1419.4" y="1203.7" class="c2">CDDP (20μM)</text>
<text x="970.3" y="1296.4" class="c3" transform="rotate(-90 970.3 1296.4)">7-AAD</text>
<text x="1000" y="1301.2" class="c1" transform="rotate(-90 1000 1301.2)">HCC827</text>
<line x1="997.4" y1="1263.7" x2="997.4" y2="1353" stroke="#222" stroke-width="1.2"/>
<text x="1014" y="1266" class="c4" transform="rotate(-90 1014 1266)">Vector</text>
<text x="1014" y="1371.4" class="c4" transform="rotate(-90 1014 1371.4)">CRTAC1</text>
<text x="1112.3" y="1449.6" class="c5">Annexin  V-APC</text>
<path d="M1049 1241.5h1m24 5h1m-10 1h1m1 0h1m2 0h1m-4 2h1m-6 1h1m1 0h1m1 0h1m1 0h1m-8 1h1m2 0h1m1 0h3m17 0h1m-25 1h6m1 0h1m-10 1h1m3 0h2m-38 1h1m26 0h1m1 0h1m5 0h3m1 0h1m-22 1h1m16 0h1m-9 1h1m2 0h1m1 0h1m1 0h5m-7 1h2m1 0h2m-19 2h1m7 0h1m6 0h1m-16 2h1m19 0h1m-16 1h1m15 0h1m-33 1h1m18 0h1m3 0h1m6 0h1m-17 1h1m2 0h1m2 0h1m7 0h1m-10 1h1m4 0h1m-26 1h1m8 0h1m9 0h1m2 0h1m-23 1h1m5 0h1m1 0h1m4 0h1m5 0h1m1 0h1m1 0h1m2 0h2m-25 1h1m7 0h1m1 0h1m2 0h1m1 0h1m1 0h6m-17 1h3m1 0h1m2 0h2m2 0h3m2 0h2m4 0h1m5 0h1m-37 1h1m3 0h4m2 0h2m2 0h3m2 0h1m1 0h2m2 0h3m-29 1h1m2 0h1m1 0h1m1 0h1m1 0h6m2 0h2m3 0h1m3 0h1m-33 1h3m4 0h1m3 0h2m1 0h2m2 0h1m2 0h2m1 0h2m1 0h1m1 0h1m1 0h4m-35 1h1m5 0h3m2 0h2m2 0h6m5 0h7m7 0h1m-44 1h1m3 0h2m4 0h3m2 0h2m1 0h3m1 0h6m2 0h2m3 0h1m10 0h1m-48 1h2m5 0h2m1 0h2m2 0h2m1 0h2m3 0h1m2 0h4m1 0h1m1 0h1m1 0h2m1 0h1m1 0h1m5 0h1m-46 1h2m6 0h1m2 0h2m1 0h4m1 0h4m2 0h7m2 0h2m8 0h1m-45 1h2m1 0h3m1 0h2m1 0h2m2 0h4m1 0h7m1 0h2m1 0h1m1 0h1m1 0h1m1 0h2m3 0h1m-39 1h1m1 0h1m1 0h1m1 0h2m2 0h4m1 0h2m1 0h2m1 0h3m1 0h1m1 0h2m1 0h3m5 0h2m-40 1h1m3 0h1m1 0h14m1 0h3m1 0h1m3 0h1m16 0h1m-49 1h1m3 0h1m2 0h9m1 0h1m1 0h1m1 0h10m1 0h1m7 0h1m-40 1h1m3 0h3m2 0h1m2 0h1m1 0h5m1 0h3m1 0h3m1 0h1m3 0h1m-34 1h1m1 0h1m1 0h2m2 0h1m2 0h1m2 0h2m2 0h1m2 0h3m1 0h1m1 0h3m2 0h1m1 0h1m7 0h1m-38 1h1m8 0h2m2 0h2m13 0h1m2 0h1m-35 1h1m1 0h1m2 0h1m5 0h1m2 0h2m5 0h1m1 0h1m1 0h3m2 0h1m-25 1h1m1 0h1m2 0h1m4 0h2m4 0h1m8 0h1m-27 1h1m3 0h1m1 0h1m9 0h1m5 0h2m-18 1h1m2 0h1m2 0h1m9 0h1m-22 1h1m1 0h1m11 0h1m1 0h1m-10 1h1m3 0h2m4 0h1m5 0h1m1 0h1m1 0h1m-36 1h1m17 0h1m2 0h2m8 0h1m-25 1h1m2 0h1m2 0h1m1 0h1m12 0h1m-4 1h1m-12 2h1m11 1h1m-8 1h1m-14 3h1" fill="none" stroke="#1a2aff" stroke-width="1" stroke-opacity="0.6"/>
<ellipse cx="1049.8" cy="1276.2" rx="14" ry="10.3" fill="url(#core)" transform="rotate(-30 1049.8 1276.2)"/>
<line x1="1062.8" y1="1211" x2="1062.8" y2="1307.7" stroke="#858585" stroke-width="1.1"/>
<line x1="1022.3" y1="1260.5" x2="1118.6" y2="1260.5" stroke="#858585" stroke-width="1.1"/>
<rect x="1022.3" y="1211" width="96.3" height="96.7" fill="none" stroke="#6a6a6a" stroke-width="1.3"/>
<path d="M1024.3 1307.7v-1.5M1026.9 1307.7v-1.5M1029.5 1307.7v-1.5M1032.1 1307.7v-1.5M1034.7 1307.7v-1.5M1037.3 1307.7v-1.5M1039.9 1307.7v-1.5M1042.5 1307.7v-1.5M1045.1 1307.7v-1.5M1047.7 1307.7v-1.5M1050.3 1307.7v-1.5M1052.9 1307.7v-1.5M1055.5 1307.7v-1.5M1058.1 1307.7v-1.5M1060.7 1307.7v-1.5M1063.3 1307.7v-1.5M1065.9 1307.7v-1.5M1068.5 1307.7v-1.5M1071.1 1307.7v-1.5M1073.7 1307.7v-1.5M1076.3 1307.7v-1.5M1078.9 1307.7v-1.5M1081.5 1307.7v-1.5M1084.1 1307.7v-1.5M1086.7 1307.7v-1.5M1089.3 1307.7v-1.5M1091.9 1307.7v-1.5M1094.5 1307.7v-1.5M1097.1 1307.7v-1.5M1099.7 1307.7v-1.5M1102.3 1307.7v-1.5M1104.9 1307.7v-1.5M1107.5 1307.7v-1.5M1110.1 1307.7v-1.5M1112.7 1307.7v-1.5M1115.3 1307.7v-1.5M1022.3 1305.7h1.5M1022.3 1303.1h1.5M1022.3 1300.5h1.5M1022.3 1297.9h1.5M1022.3 1295.3h1.5M1022.3 1292.7h1.5M1022.3 1290.1h1.5M1022.3 1287.5h1.5M1022.3 1284.9h1.5M1022.3 1282.3h1.5M1022.3 1279.7h1.5M1022.3 1277.1h1.5M1022.3 1274.5h1.5M1022.3 1271.9h1.5M1022.3 1269.3h1.5M1022.3 1266.7h1.5M1022.3 1264.1h1.5M1022.3 1261.5h1.5M1022.3 1258.9h1.5M1022.3 1256.3h1.5M1022.3 1253.7h1.5M1022.3 1251.1h1.5M1022.3 1248.5h1.5M1022.3 1245.9h1.5M1022.3 1243.3h1.5M1022.3 1240.7h1.5M1022.3 1238.1h1.5M1022.3 1235.5h1.5M1022.3 1232.9h1.5M1022.3 1230.3h1.5M1022.3 1227.7h1.5M1022.3 1225.1h1.5M1022.3 1222.5h1.5M1022.3 1219.9h1.5M1022.3 1217.3h1.5M1022.3 1214.7h1.5" fill="none" stroke="#555" stroke-width="0.7"/>
<text x="1029.3" y="1316" class="c7">0</text>
<text x="1041.4" y="1316" class="c7">10²</text>
<text x="1056.4" y="1316" class="c7">10³</text>
<text x="1070.7" y="1316" class="c7">10⁴</text>
<text x="1086.1" y="1316" class="c7">10⁵</text>
<text x="1101.1" y="1316" class="c7">10⁶</text>
<text x="1115.3" y="1316" class="c7">10⁷</text>
<text x="1020.3" y="1302.9" class="c7" transform="rotate(-90 1020.3 1302.9)">0</text>
<text x="1020.3" y="1292.2" class="c7" transform="rotate(-90 1020.3 1292.2)">10²</text>
<text x="1020.3" y="1278.7" class="c7" transform="rotate(-90 1020.3 1278.7)">10³</text>
<text x="1020.3" y="1265.2" class="c7" transform="rotate(-90 1020.3 1265.2)">10⁴</text>
<text x="1020.3" y="1249.7" class="c7" transform="rotate(-90 1020.3 1249.7)">10⁵</text>
<text x="1020.3" y="1234.2" class="c7" transform="rotate(-90 1020.3 1234.2)">10⁶</text>
<text x="1020.3" y="1218.7" class="c7" transform="rotate(-90 1020.3 1218.7)">10⁷</text>
<text x="1023.6" y="1222.2" class="c6">0.24%</text>
<text x="1117.7" y="1222.2" class="c8">0.77%</text>
<text x="1022.9" y="1306.1" class="c6">98.57%</text>
<text x="1118.6" y="1306.1" class="c8">0.42%</text>
<path d="M1192 1236.5h1m-3 1h1m0 1h1m-7 2h1m4 0h2m-9 1h1m2 1h1m0 1h2m-21 1h1m11 0h1m1 0h1m1 0h2m-7 1h2m1 0h1m4 0h1m-9 1h1m-6 1h1m4 0h1m1 0h2m-12 1h1m4 0h2m2 0h1m1 0h1m-10 1h1m1 0h1m1 0h1m6 0h1m-19 1h1m6 0h2m2 0h2m-7 1h2m1 0h1m0 1h1m-16 1h1m9 0h1m1 1h2m3 0h1m4 0h1m-39 1h1m21 0h1m-14 1h1m14 0h1m-1 1h1m-12 1h1m1 0h1m16 0h1m-8 1h1m14 0h1m-28 1h1m9 0h2m-12 1h1m6 0h1m2 0h1m-20 1h1m9 0h2m1 0h1m4 0h1m1 0h1m-25 1h1m17 0h1m1 0h2m2 0h2m5 0h1m-25 1h3m6 0h2m7 0h2m5 0h1m8 0h2m-43 1h1m1 0h1m6 0h1m1 0h2m1 0h1m8 0h2m2 0h2m6 0h1m-37 1h2m2 0h1m2 0h1m1 0h1m1 0h4m1 0h1m1 0h1m4 0h1m2 0h3m4 0h1m-30 1h1m2 0h1m2 0h1m1 0h4m3 0h2m3 0h1m1 0h2m2 0h1m-41 1h1m10 0h1m6 0h1m1 0h4m2 0h1m2 0h1m1 0h1m-25 1h1m3 0h1m7 0h2m1 0h3m1 0h2m1 0h1m2 0h1m2 0h2m4 0h1m-34 1h1m1 0h1m2 0h1m1 0h1m2 0h1m4 0h1m1 0h3m1 0h1m1 0h3m2 0h1m2 0h1m2 0h1m-35 1h5m1 0h1m1 0h1m2 0h5m1 0h7m3 0h1m2 0h1m4 0h1m-42 1h1m3 0h1m2 0h3m1 0h1m2 0h4m1 0h11m12 0h1m-46 1h2m3 0h1m2 0h1m3 0h3m3 0h1m1 0h10m1 0h2m9 0h1m-44 1h1m3 0h3m1 0h1m1 0h2m1 0h9m1 0h1m1 0h12m1 0h1m3 0h1m-45 1h1m1 0h3m1 0h7m1 0h1m1 0h1m1 0h17m-35 1h1m3 0h1m3 0h2m3 0h3m1 0h16m1 0h3m1 0h1m-36 1h1m1 0h2m2 0h1m1 0h1m1 0h1m2 0h1m2 0h9m1 0h4m2 0h1m-32 1h4m5 0h2m1 0h1m1 0h4m3 0h1m1 0h2m2 0h3m1 0h1m4 0h1m1 0h1m-42 1h1m3 0h2m3 0h1m1 0h4m1 0h1m2 0h4m1 0h5m1 0h1m2 0h2m3 0h1m5 0h1m-42 1h1m1 0h3m1 0h2m1 0h3m1 0h4m2 0h1m1 0h2m1 0h1m7 0h1m-35 1h1m1 0h1m2 0h1m3 0h1m1 0h2m9 0h2m2 0h1m1 0h3m3 0h1m1 0h1m-21 1h1m1 0h3m1 0h4m1 0h1m2 0h2m2 0h1m1 0h1m-37 1h1m6 0h1m1 0h1m1 0h3m1 0h1m1 0h2m1 0h1m1 0h3m1 0h1m2 0h1m1 0h2m2 0h1m16 0h1m-46 1h1m9 0h1m2 0h2m1 0h1m1 0h1m13 0h1m-17 1h1m2 0h1m4 0h1m1 0h1m5 0h2m-32 1h1m4 0h1m9 0h1m-7 1h1m-6 2h1m9 0h1m6 2h1m-8 3h1m-11 1h1m14 3h1m-21 2h1" fill="none" stroke="#1a2aff" stroke-width="1" stroke-opacity="0.6"/>
<ellipse cx="1158.2" cy="1274.1" rx="14" ry="10.3" fill="url(#coreR)" transform="rotate(-30 1158.2 1274.1)"/>
<line x1="1169.7" y1="1211" x2="1169.7" y2="1307.7" stroke="#858585" stroke-width="1.1"/>
<line x1="1129.2" y1="1260.5" x2="1225.5" y2="1260.5" stroke="#858585" stroke-width="1.1"/>
<rect x="1129.2" y="1211" width="96.3" height="96.7" fill="none" stroke="#6a6a6a" stroke-width="1.3"/>
<path d="M1131.2 1307.7v-1.5M1133.8 1307.7v-1.5M1136.4 1307.7v-1.5M1139 1307.7v-1.5M1141.6 1307.7v-1.5M1144.2 1307.7v-1.5M1146.8 1307.7v-1.5M1149.4 1307.7v-1.5M1152 1307.7v-1.5M1154.6 1307.7v-1.5M1157.2 1307.7v-1.5M1159.8 1307.7v-1.5M1162.4 1307.7v-1.5M1165 1307.7v-1.5M1167.6 1307.7v-1.5M1170.2 1307.7v-1.5M1172.8 1307.7v-1.5M1175.4 1307.7v-1.5M1178 1307.7v-1.5M1180.6 1307.7v-1.5M1183.2 1307.7v-1.5M1185.8 1307.7v-1.5M1188.4 1307.7v-1.5M1191 1307.7v-1.5M1193.6 1307.7v-1.5M1196.2 1307.7v-1.5M1198.8 1307.7v-1.5M1201.4 1307.7v-1.5M1204 1307.7v-1.5M1206.6 1307.7v-1.5M1209.2 1307.7v-1.5M1211.8 1307.7v-1.5M1214.4 1307.7v-1.5M1217 1307.7v-1.5M1219.6 1307.7v-1.5M1222.2 1307.7v-1.5M1129.2 1305.7h1.5M1129.2 1303.1h1.5M1129.2 1300.5h1.5M1129.2 1297.9h1.5M1129.2 1295.3h1.5M1129.2 1292.7h1.5M1129.2 1290.1h1.5M1129.2 1287.5h1.5M1129.2 1284.9h1.5M1129.2 1282.3h1.5M1129.2 1279.7h1.5M1129.2 1277.1h1.5M1129.2 1274.5h1.5M1129.2 1271.9h1.5M1129.2 1269.3h1.5M1129.2 1266.7h1.5M1129.2 1264.1h1.5M1129.2 1261.5h1.5M1129.2 1258.9h1.5M1129.2 1256.3h1.5M1129.2 1253.7h1.5M1129.2 1251.1h1.5M1129.2 1248.5h1.5M1129.2 1245.9h1.5M1129.2 1243.3h1.5M1129.2 1240.7h1.5M1129.2 1238.1h1.5M1129.2 1235.5h1.5M1129.2 1232.9h1.5M1129.2 1230.3h1.5M1129.2 1227.7h1.5M1129.2 1225.1h1.5M1129.2 1222.5h1.5M1129.2 1219.9h1.5M1129.2 1217.3h1.5M1129.2 1214.7h1.5" fill="none" stroke="#555" stroke-width="0.7"/>
<text x="1136.2" y="1316" class="c7">0</text>
<text x="1148.3" y="1316" class="c7">10²</text>
<text x="1163.3" y="1316" class="c7">10³</text>
<text x="1177.6" y="1316" class="c7">10⁴</text>
<text x="1193" y="1316" class="c7">10⁵</text>
<text x="1208" y="1316" class="c7">10⁶</text>
<text x="1222.2" y="1316" class="c7">10⁷</text>
<text x="1127.2" y="1302.9" class="c7" transform="rotate(-90 1127.2 1302.9)">0</text>
<text x="1127.2" y="1292.2" class="c7" transform="rotate(-90 1127.2 1292.2)">10²</text>
<text x="1127.2" y="1278.7" class="c7" transform="rotate(-90 1127.2 1278.7)">10³</text>
<text x="1127.2" y="1265.2" class="c7" transform="rotate(-90 1127.2 1265.2)">10⁴</text>
<text x="1127.2" y="1249.7" class="c7" transform="rotate(-90 1127.2 1249.7)">10⁵</text>
<text x="1127.2" y="1234.2" class="c7" transform="rotate(-90 1127.2 1234.2)">10⁶</text>
<text x="1127.2" y="1218.7" class="c7" transform="rotate(-90 1127.2 1218.7)">10⁷</text>
<text x="1130.4" y="1222.2" class="c6">0.45%</text>
<text x="1224.9" y="1222.2" class="c8">0.66%</text>
<text x="1129.8" y="1306.1" class="c6">98.28%</text>
<text x="1223.9" y="1306.1" class="c8">0.61%</text>
<path d="M1285 1234.5h1m-4 1h1m12 0h1m-5 1h1m-1 3h1m5 0h1m-25 1h1m5 0h1m6 0h1m4 0h1m8 0h1m-21 1h1m3 0h1m5 0h1m11 0h1m-21 1h1m4 0h4m1 0h1m1 0h1m2 0h1m-21 1h2m1 0h2m1 0h5m3 0h1m3 0h1m4 0h1m2 0h1m-25 1h2m2 0h7m2 0h1m-17 1h4m4 0h3m1 0h1m1 0h2m-30 1h1m17 0h2m1 0h2m1 0h1m1 0h1m4 0h1m2 0h1m-21 1h1m5 0h2m1 0h1m2 0h4m1 0h2m-17 1h7m1 0h2m2 0h1m7 0h1m-25 1h1m1 0h3m2 0h6m2 0h2m2 0h2m10 0h1m-33 1h1m3 0h2m4 0h6m1 0h1m8 0h1m-24 1h1m6 0h2m1 0h1m1 0h3m3 0h2m-21 1h1m4 0h2m1 0h1m1 0h2m2 0h1m-21 1h1m10 0h1m1 0h2m3 0h1m-14 1h1m7 0h2m2 0h2m2 0h2m-20 1h1m3 0h2m15 0h1m-43 1h1m28 0h1m1 0h2m7 0h1m5 0h1m4 0h1m-36 1h1m2 0h1m1 0h3m2 0h2m1 0h1m1 0h2m2 0h1m5 0h1m4 0h1m-26 1h1m2 0h1m1 0h1m2 0h1m1 0h4m7 0h1m-40 1h1m10 0h1m2 0h2m1 0h1m3 0h1m1 0h2m1 0h2m1 0h2m6 0h1m-33 1h1m1 0h1m3 0h1m1 0h1m5 0h1m2 0h7m2 0h1m2 0h1m-21 1h1m1 0h5m1 0h1m1 0h1m1 0h2m3 0h1m2 0h1m-46 1h1m9 0h1m11 0h2m1 0h1m2 0h2m1 0h1m2 0h1m1 0h1m1 0h1m2 0h3m3 0h1m-27 1h2m3 0h4m1 0h3m2 0h2m4 0h1m1 0h1m1 0h1m-48 1h1m11 0h3m1 0h1m2 0h1m4 0h1m1 0h5m1 0h2m2 0h2m3 0h3m6 0h1m-37 1h1m4 0h1m2 0h3m1 0h1m1 0h5m1 0h2m2 0h1m1 0h3m-44 1h1m14 0h1m3 0h4m3 0h8m8 0h1m2 0h1m3 0h1m-50 1h1m13 0h2m1 0h4m2 0h1m2 0h4m3 0h3m3 0h2m2 0h1m2 0h1m-33 1h1m4 0h1m1 0h5m1 0h4m1 0h1m2 0h1m4 0h1m7 0h1m-39 1h1m2 0h4m1 0h6m2 0h4m1 0h4m2 0h3m-32 1h1m3 0h4m1 0h1m2 0h2m1 0h4m1 0h2m1 0h4m5 0h1m-43 1h1m3 0h2m1 0h1m2 0h1m1 0h4m1 0h1m1 0h1m1 0h2m1 0h11m1 0h1m3 0h1m-37 1h1m1 0h2m4 0h1m2 0h3m1 0h3m1 0h6m1 0h3m1 0h2m10 0h1m-43 1h1m5 0h3m1 0h13m3 0h3m1 0h1m1 0h1m6 0h1m-46 1h1m3 0h1m4 0h2m1 0h1m1 0h10m1 0h7m4 0h1m8 0h1m-44 1h1m1 0h3m1 0h3m2 0h1m4 0h2m1 0h9m1 0h1m1 0h1m4 0h1m5 0h1m-45 1h2m5 0h2m2 0h1m1 0h3m3 0h5m1 0h1m1 0h2m1 0h1m2 0h2m-35 1h2m3 0h1m1 0h2m1 0h8m3 0h3m3 0h3m2 0h1m7 0h1m2 0h1m-43 1h1m1 0h2m1 0h2m2 0h1m1 0h1m1 0h1m1 0h2m1 0h1m1 0h2m1 0h1m1 0h3m2 0h1m-29 1h1m1 0h1m3 0h1m2 0h1m2 0h1m1 0h2m1 0h2m1 0h2m2 0h1m1 0h1m-29 1h1m2 0h2m2 0h1m2 0h1m1 0h1m1 0h1m2 0h1m2 0h2m5 0h1m2 0h1m3 0h1m-31 1h1m2 0h1m2 0h2m5 0h3m1 0h1m6 0h1m9 0h1m-28 1h1m6 0h3m1 0h1m6 0h1m-32 1h1m20 0h1m3 0h1m2 0h1m10 0h1m-29 2h1m8 0h2m-15 1h1m7 0h1m3 0h1m7 0h1m-15 4h1m19 0h1m-11 3h1m-12 3h1m-4 3h1m13 0h1" fill="none" stroke="#1a2aff" stroke-width="1" stroke-opacity="0.6"/>
<ellipse cx="1266" cy="1270" rx="15.1" ry="8.6" fill="url(#core)" transform="rotate(-35 1266 1270)"/>
<ellipse cx="1285.8" cy="1247.5" rx="10.8" ry="7" fill="url(#coreB)" transform="rotate(-20 1285.8 1247.5)"/>
<line x1="1274.9" y1="1211.7" x2="1274.9" y2="1307.7" stroke="#858585" stroke-width="1.1"/>
<line x1="1235.1" y1="1260.5" x2="1330.8" y2="1260.5" stroke="#858585" stroke-width="1.1"/>
<rect x="1235.1" y="1211.7" width="95.7" height="96" fill="none" stroke="#6a6a6a" stroke-width="1.3"/>
<path d="M1237.1 1307.7v-1.5M1239.7 1307.7v-1.5M1242.3 1307.7v-1.5M1244.9 1307.7v-1.5M1247.5 1307.7v-1.5M1250.1 1307.7v-1.5M1252.7 1307.7v-1.5M1255.3 1307.7v-1.5M1257.9 1307.7v-1.5M1260.5 1307.7v-1.5M1263.1 1307.7v-1.5M1265.7 1307.7v-1.5M1268.3 1307.7v-1.5M1270.9 1307.7v-1.5M1273.5 1307.7v-1.5M1276.1 1307.7v-1.5M1278.7 1307.7v-1.5M1281.3 1307.7v-1.5M1283.9 1307.7v-1.5M1286.5 1307.7v-1.5M1289.1 1307.7v-1.5M1291.7 1307.7v-1.5M1294.3 1307.7v-1.5M1296.9 1307.7v-1.5M1299.5 1307.7v-1.5M1302.1 1307.7v-1.5M1304.7 1307.7v-1.5M1307.3 1307.7v-1.5M1309.9 1307.7v-1.5M1312.5 1307.7v-1.5M1315.1 1307.7v-1.5M1317.7 1307.7v-1.5M1320.3 1307.7v-1.5M1322.9 1307.7v-1.5M1325.5 1307.7v-1.5M1328.1 1307.7v-1.5M1235.1 1305.7h1.5M1235.1 1303.1h1.5M1235.1 1300.5h1.5M1235.1 1297.9h1.5M1235.1 1295.3h1.5M1235.1 1292.7h1.5M1235.1 1290.1h1.5M1235.1 1287.5h1.5M1235.1 1284.9h1.5M1235.1 1282.3h1.5M1235.1 1279.7h1.5M1235.1 1277.1h1.5M1235.1 1274.5h1.5M1235.1 1271.9h1.5M1235.1 1269.3h1.5M1235.1 1266.7h1.5M1235.1 1264.1h1.5M1235.1 1261.5h1.5M1235.1 1258.9h1.5M1235.1 1256.3h1.5M1235.1 1253.7h1.5M1235.1 1251.1h1.5M1235.1 1248.5h1.5M1235.1 1245.9h1.5M1235.1 1243.3h1.5M1235.1 1240.7h1.5M1235.1 1238.1h1.5M1235.1 1235.5h1.5M1235.1 1232.9h1.5M1235.1 1230.3h1.5M1235.1 1227.7h1.5M1235.1 1225.1h1.5M1235.1 1222.5h1.5M1235.1 1219.9h1.5M1235.1 1217.3h1.5M1235.1 1214.7h1.5" fill="none" stroke="#555" stroke-width="0.7"/>
<text x="1242.1" y="1316" class="c7">0</text>
<text x="1254" y="1316" class="c7">10²</text>
<text x="1269" y="1316" class="c7">10³</text>
<text x="1283.2" y="1316" class="c7">10⁴</text>
<text x="1298.5" y="1316" class="c7">10⁵</text>
<text x="1313.4" y="1316" class="c7">10⁶</text>
<text x="1327.5" y="1316" class="c7">10⁷</text>
<text x="1233.1" y="1302.9" class="c7" transform="rotate(-90 1233.1 1302.9)">0</text>
<text x="1233.1" y="1292.3" class="c7" transform="rotate(-90 1233.1 1292.3)">10²</text>
<text x="1233.1" y="1278.9" class="c7" transform="rotate(-90 1233.1 1278.9)">10³</text>
<text x="1233.1" y="1265.5" class="c7" transform="rotate(-90 1233.1 1265.5)">10⁴</text>
<text x="1233.1" y="1250.1" class="c7" transform="rotate(-90 1233.1 1250.1)">10⁵</text>
<text x="1233.1" y="1234.7" class="c7" transform="rotate(-90 1233.1 1234.7)">10⁶</text>
<text x="1233.1" y="1219.4" class="c7" transform="rotate(-90 1233.1 1219.4)">10⁷</text>
<text x="1237.3" y="1222.2" class="c6">2.01%</text>
<text x="1330.8" y="1222.2" class="c8">18.22%</text>
<text x="1236" y="1306.1" class="c6">73. 02%</text>
<text x="1329.8" y="1306.1" class="c8">6.75%</text>
<path d="M1397 1235.5h1m8 0h1m-7 1h1m-6 1h1m-5 1h1m7 0h1m-14 2h1m1 0h1m-14 1h1m9 0h1m8 0h1m3 0h2m-13 1h1m3 0h1m2 0h2m5 0h2m-31 1h1m10 0h2m3 0h3m2 0h4m-12 1h1m1 0h2m1 0h1m1 0h1m4 0h2m3 0h1m6 0h1m-33 1h1m5 0h1m3 0h5m4 0h2m1 0h3m-22 1h2m2 0h1m2 0h1m1 0h1m1 0h1m1 0h2m1 0h1m-18 1h1m5 0h8m2 0h2m3 0h1m3 0h1m-30 1h1m3 0h1m4 0h2m1 0h6m1 0h3m2 0h2m1 0h1m4 0h1m-28 1h2m3 0h1m1 0h3m3 0h3m1 0h3m-26 1h1m8 0h1m2 0h2m3 0h2m3 0h3m1 0h1m-25 1h1m2 0h1m3 0h2m1 0h4m1 0h1m4 0h1m-12 1h1m4 0h3m1 0h1m-31 1h1m23 0h1m2 0h3m3 0h1m-25 1h1m8 0h1m10 0h1m-21 1h1m12 0h1m1 0h1m9 0h1m-24 1h1m3 0h1m2 0h1m5 0h1m3 0h2m-31 1h1m2 0h1m9 0h1m1 0h3m6 0h1m6 0h1m-19 1h1m11 0h1m-17 1h1m9 0h1m3 0h1m1 0h1m3 0h1m5 0h1m-39 1h1m13 0h1m1 0h2m5 0h1m1 0h1m1 0h1m1 0h3m-40 1h1m11 0h1m5 0h1m1 0h1m3 0h1m4 0h2m1 0h4m5 0h1m-46 1h1m14 0h1m9 0h1m1 0h1m2 0h1m4 0h2m2 0h2m1 0h5m-41 1h1m10 0h1m2 0h1m7 0h1m2 0h2m1 0h1m1 0h1m1 0h2m2 0h6m-50 1h1m16 0h1m1 0h2m2 0h1m2 0h1m4 0h2m2 0h2m3 0h1m1 0h1m2 0h1m2 0h1m-43 1h1m12 0h1m1 0h1m4 0h1m1 0h4m1 0h1m8 0h2m1 0h1m-39 1h1m6 0h1m4 0h2m1 0h1m2 0h1m1 0h2m1 0h2m11 0h1m5 0h1m-54 1h1m14 0h1m5 0h1m2 0h1m3 0h1m1 0h3m6 0h1m1 0h2m6 0h1m-36 1h1m4 0h1m1 0h1m1 0h3m2 0h4m2 0h1m2 0h1m1 0h1m1 0h1m2 0h1m2 0h1m-38 1h1m4 0h1m1 0h5m1 0h2m1 0h3m1 0h1m1 0h2m1 0h1m1 0h1m8 0h1m2 0h3m-41 1h1m3 0h4m1 0h4m1 0h1m1 0h7m1 0h1m4 0h1m12 0h1m-46 1h1m1 0h1m5 0h3m1 0h9m1 0h4m1 0h4m2 0h2m10 0h1m-48 1h1m2 0h1m1 0h4m5 0h2m1 0h7m3 0h4m1 0h1m1 0h1m2 0h1m-43 1h1m5 0h1m1 0h1m2 0h4m2 0h6m1 0h11m2 0h1m1 0h2m17 0h1m-55 1h2m1 0h2m1 0h3m1 0h1m1 0h10m1 0h1m1 0h3m-31 1h1m2 0h2m2 0h8m1 0h10m1 0h3m3 0h1m-34 1h2m2 0h4m1 0h4m1 0h1m1 0h6m1 0h1m1 0h3m1 0h2m3 0h2m2 0h1m-40 1h1m1 0h2m1 0h1m2 0h2m1 0h11m1 0h2m3 0h1m2 0h1m1 0h1m6 0h1m-42 1h1m1 0h1m2 0h2m2 0h1m4 0h5m1 0h1m1 0h4m2 0h2m1 0h1m3 0h1m-34 1h1m3 0h4m3 0h1m3 0h2m1 0h2m1 0h1m1 0h1m2 0h3m2 0h1m2 0h1m-33 1h1m2 0h1m2 0h4m1 0h3m1 0h1m1 0h4m1 0h1m3 0h1m2 0h1m1 0h1m-32 1h2m1 0h1m8 0h1m4 0h2m-13 1h2m3 0h1m2 0h1m1 0h1m1 0h1m1 0h1m20 0h1m-38 1h1m2 0h1m3 0h1m3 0h1m9 0h1m-28 1h1m10 0h1m10 0h1m2 0h1m2 0h1m-24 1h1m14 0h1m2 0h2m-11 1h1m2 0h1m-1 1h2m-8 1h1m2 0h1m14 0h1m-10 2h1m-19 1h1m6 0h1m0 5h1m23 1h1m-13 2h1" fill="none" stroke="#1a2aff" stroke-width="1" stroke-opacity="0.6"/>
<ellipse cx="1368.8" cy="1273" rx="15.1" ry="9.2" fill="url(#core)" transform="rotate(-30 1368.8 1273)"/>
<ellipse cx="1391.1" cy="1247.5" rx="10.3" ry="7" fill="url(#coreB)" transform="rotate(-20 1391.1 1247.5)"/>
<line x1="1381.8" y1="1212.6" x2="1381.8" y2="1307.7" stroke="#858585" stroke-width="1.1"/>
<line x1="1341.3" y1="1260.5" x2="1437.6" y2="1260.5" stroke="#858585" stroke-width="1.1"/>
<rect x="1341.3" y="1212.6" width="96.3" height="95.1" fill="none" stroke="#6a6a6a" stroke-width="1.3"/>
<path d="M1343.3 1307.7v-1.5M1345.9 1307.7v-1.5M1348.5 1307.7v-1.5M1351.1 1307.7v-1.5M1353.7 1307.7v-1.5M1356.3 1307.7v-1.5M1358.9 1307.7v-1.5M1361.5 1307.7v-1.5M1364.1 1307.7v-1.5M1366.7 1307.7v-1.5M1369.3 1307.7v-1.5M1371.9 1307.7v-1.5M1374.5 1307.7v-1.5M1377.1 1307.7v-1.5M1379.7 1307.7v-1.5M1382.3 1307.7v-1.5M1384.9 1307.7v-1.5M1387.5 1307.7v-1.5M1390.1 1307.7v-1.5M1392.7 1307.7v-1.5M1395.3 1307.7v-1.5M1397.9 1307.7v-1.5M1400.5 1307.7v-1.5M1403.1 1307.7v-1.5M1405.7 1307.7v-1.5M1408.3 1307.7v-1.5M1410.9 1307.7v-1.5M1413.5 1307.7v-1.5M1416.1 1307.7v-1.5M1418.7 1307.7v-1.5M1421.3 1307.7v-1.5M1423.9 1307.7v-1.5M1426.5 1307.7v-1.5M1429.1 1307.7v-1.5M1431.7 1307.7v-1.5M1434.3 1307.7v-1.5M1341.3 1305.7h1.5M1341.3 1303.1h1.5M1341.3 1300.5h1.5M1341.3 1297.9h1.5M1341.3 1295.3h1.5M1341.3 1292.7h1.5M1341.3 1290.1h1.5M1341.3 1287.5h1.5M1341.3 1284.9h1.5M1341.3 1282.3h1.5M1341.3 1279.7h1.5M1341.3 1277.1h1.5M1341.3 1274.5h1.5M1341.3 1271.9h1.5M1341.3 1269.3h1.5M1341.3 1266.7h1.5M1341.3 1264.1h1.5M1341.3 1261.5h1.5M1341.3 1258.9h1.5M1341.3 1256.3h1.5M1341.3 1253.7h1.5M1341.3 1251.1h1.5M1341.3 1248.5h1.5M1341.3 1245.9h1.5M1341.3 1243.3h1.5M1341.3 1240.7h1.5M1341.3 1238.1h1.5M1341.3 1235.5h1.5M1341.3 1232.9h1.5M1341.3 1230.3h1.5M1341.3 1227.7h1.5M1341.3 1225.1h1.5M1341.3 1222.5h1.5M1341.3 1219.9h1.5M1341.3 1217.3h1.5M1341.3 1214.7h1.5" fill="none" stroke="#555" stroke-width="0.7"/>
<text x="1348.3" y="1316" class="c7">0</text>
<text x="1360.4" y="1316" class="c7">10²</text>
<text x="1375.4" y="1316" class="c7">10³</text>
<text x="1389.7" y="1316" class="c7">10⁴</text>
<text x="1405.1" y="1316" class="c7">10⁵</text>
<text x="1420.1" y="1316" class="c7">10⁶</text>
<text x="1434.3" y="1316" class="c7">10⁷</text>
<text x="1339.3" y="1302.9" class="c7" transform="rotate(-90 1339.3 1302.9)">0</text>
<text x="1339.3" y="1292.5" class="c7" transform="rotate(-90 1339.3 1292.5)">10²</text>
<text x="1339.3" y="1279.2" class="c7" transform="rotate(-90 1339.3 1279.2)">10³</text>
<text x="1339.3" y="1265.9" class="c7" transform="rotate(-90 1339.3 1265.9)">10⁴</text>
<text x="1339.3" y="1250.6" class="c7" transform="rotate(-90 1339.3 1250.6)">10⁵</text>
<text x="1339.3" y="1235.4" class="c7" transform="rotate(-90 1339.3 1235.4)">10⁶</text>
<text x="1339.3" y="1220.2" class="c7" transform="rotate(-90 1339.3 1220.2)">10⁷</text>
<text x="1344.2" y="1222.2" class="c6">1.65%</text>
<text x="1436" y="1222.2" class="c8">16.38%</text>
<text x="1342.6" y="1306.1" class="c6">75.66%</text>
<text x="1436.7" y="1306.1" class="c8">6.31%</text>
<path d="M1073 1345.5h1m-7 3h1m-3 1h1m12 0h1m-13 1h2m5 1h1m-9 1h1m4 0h1m-10 1h1m3 0h3m2 0h1m2 0h1m-7 1h1m2 0h2m-9 1h7m5 0h1m-14 1h2m2 0h2m1 0h1m-12 1h1m2 0h1m2 0h1m2 0h1m-7 1h1m1 0h1m1 0h3m7 0h1m-13 1h1m3 0h1m-6 1h1m10 0h1m4 0h1m-17 1h1m-4 1h1m11 0h1m-19 1h1m3 0h1m-22 1h1m24 0h1m4 0h1m-9 1h1m4 0h1m-20 1h1m11 0h1m-2 1h1m14 0h1m-21 1h1m3 0h1m6 0h1m5 0h1m-26 1h1m12 0h1m1 0h1m6 0h1m16 0h1m-38 1h2m3 0h1m11 0h1m-15 1h2m2 0h4m1 0h1m2 0h1m3 0h1m6 0h1m-28 1h2m2 0h1m1 0h1m1 0h1m1 0h1m1 0h1m4 0h2m1 0h1m-18 1h1m2 0h5m1 0h1m2 0h1m2 0h1m-25 1h1m7 0h3m1 0h2m1 0h1m2 0h1m1 0h4m3 0h1m1 0h1m-24 1h1m1 0h5m1 0h1m3 0h4m-32 1h1m12 0h1m2 0h1m7 0h1m2 0h2m2 0h1m4 0h1m19 0h1m-50 1h1m7 0h2m1 0h1m1 0h1m1 0h1m3 0h1m1 0h1m1 0h2m-20 1h1m2 0h2m1 0h1m1 0h1m2 0h2m2 0h2m1 0h3m2 0h1m2 0h1m-35 1h1m8 0h3m2 0h10m1 0h3m2 0h1m7 0h1m-42 1h1m3 0h2m1 0h2m1 0h1m2 0h5m3 0h7m4 0h2m4 0h2m-40 1h2m4 0h4m3 0h1m2 0h2m3 0h4m1 0h1m2 0h2m2 0h2m6 0h1m-41 1h2m2 0h1m1 0h3m4 0h7m1 0h5m1 0h5m15 0h1m-49 1h4m1 0h1m3 0h1m2 0h3m1 0h8m1 0h1m1 0h5m1 0h1m-37 1h1m1 0h2m3 0h1m3 0h2m1 0h4m1 0h4m2 0h2m1 0h1m1 0h3m1 0h1m1 0h2m1 0h1m10 0h1m-52 1h1m1 0h1m1 0h1m1 0h5m1 0h4m3 0h4m1 0h6m1 0h1m1 0h1m-31 1h2m5 0h5m1 0h2m4 0h3m1 0h1m4 0h3m-34 1h1m2 0h1m2 0h2m1 0h9m1 0h5m2 0h1m3 0h3m3 0h1m8 0h1m-47 1h1m6 0h3m4 0h5m3 0h3m1 0h3m1 0h1m1 0h2m7 0h1m14 0h1m-54 1h1m1 0h4m2 0h1m5 0h1m5 0h1m8 0h3m3 0h1m2 0h1m-40 1h1m9 0h3m2 0h2m3 0h1m3 0h1m2 0h2m1 0h1m-13 1h1m1 0h2m1 0h1m2 0h1m3 0h1m2 0h2m2 0h1m2 0h1m-39 1h1m11 0h1m1 0h1m2 0h1m5 0h1m8 0h1m4 0h1m-41 1h1m12 0h1m5 0h2m2 0h1m1 0h2m1 0h1m5 0h1m6 0h1m-21 1h1m4 0h1m11 0h1m-25 1h2m4 0h1m24 0h1m-34 1h1m6 0h1m1 0h2m11 0h1m-21 1h1m3 0h1m4 0h1m-10 1h1m-13 1h1m5 0h1m9 0h1m-17 1h1m1 3h1m32 0h1m-22 3h1m0 1h1m3 6h1" fill="none" stroke="#1a2aff" stroke-width="1" stroke-opacity="0.6"/>
<ellipse cx="1050.8" cy="1382.1" rx="14.6" ry="10.3" fill="url(#core)" transform="rotate(-35 1050.8 1382.1)"/>
<line x1="1062.8" y1="1318.5" x2="1062.8" y2="1414.2" stroke="#858585" stroke-width="1.1"/>
<line x1="1022.3" y1="1367.3" x2="1118.6" y2="1367.3" stroke="#858585" stroke-width="1.1"/>
<rect x="1022.3" y="1318.5" width="96.3" height="95.7" fill="none" stroke="#6a6a6a" stroke-width="1.3"/>
<path d="M1024.3 1414.2v-1.5M1026.9 1414.2v-1.5M1029.5 1414.2v-1.5M1032.1 1414.2v-1.5M1034.7 1414.2v-1.5M1037.3 1414.2v-1.5M1039.9 1414.2v-1.5M1042.5 1414.2v-1.5M1045.1 1414.2v-1.5M1047.7 1414.2v-1.5M1050.3 1414.2v-1.5M1052.9 1414.2v-1.5M1055.5 1414.2v-1.5M1058.1 1414.2v-1.5M1060.7 1414.2v-1.5M1063.3 1414.2v-1.5M1065.9 1414.2v-1.5M1068.5 1414.2v-1.5M1071.1 1414.2v-1.5M1073.7 1414.2v-1.5M1076.3 1414.2v-1.5M1078.9 1414.2v-1.5M1081.5 1414.2v-1.5M1084.1 1414.2v-1.5M1086.7 1414.2v-1.5M1089.3 1414.2v-1.5M1091.9 1414.2v-1.5M1094.5 1414.2v-1.5M1097.1 1414.2v-1.5M1099.7 1414.2v-1.5M1102.3 1414.2v-1.5M1104.9 1414.2v-1.5M1107.5 1414.2v-1.5M1110.1 1414.2v-1.5M1112.7 1414.2v-1.5M1115.3 1414.2v-1.5M1022.3 1412.2h1.5M1022.3 1409.6h1.5M1022.3 1407h1.5M1022.3 1404.4h1.5M1022.3 1401.8h1.5M1022.3 1399.2h1.5M1022.3 1396.6h1.5M1022.3 1394h1.5M1022.3 1391.4h1.5M1022.3 1388.8h1.5M1022.3 1386.2h1.5M1022.3 1383.6h1.5M1022.3 1381h1.5M1022.3 1378.4h1.5M1022.3 1375.8h1.5M1022.3 1373.2h1.5M1022.3 1370.6h1.5M1022.3 1368h1.5M1022.3 1365.4h1.5M1022.3 1362.8h1.5M1022.3 1360.2h1.5M1022.3 1357.6h1.5M1022.3 1355h1.5M1022.3 1352.4h1.5M1022.3 1349.8h1.5M1022.3 1347.2h1.5M1022.3 1344.6h1.5M1022.3 1342h1.5M1022.3 1339.4h1.5M1022.3 1336.8h1.5M1022.3 1334.2h1.5M1022.3 1331.6h1.5M1022.3 1329h1.5M1022.3 1326.4h1.5M1022.3 1323.8h1.5M1022.3 1321.2h1.5" fill="none" stroke="#555" stroke-width="0.7"/>
<text x="1029.3" y="1422.5" class="c7">0</text>
<text x="1041.4" y="1422.5" class="c7">10²</text>
<text x="1056.4" y="1422.5" class="c7">10³</text>
<text x="1070.7" y="1422.5" class="c7">10⁴</text>
<text x="1086.1" y="1422.5" class="c7">10⁵</text>
<text x="1101.1" y="1422.5" class="c7">10⁶</text>
<text x="1115.3" y="1422.5" class="c7">10⁷</text>
<text x="1020.3" y="1409.4" class="c7" transform="rotate(-90 1020.3 1409.4)">0</text>
<text x="1020.3" y="1398.9" class="c7" transform="rotate(-90 1020.3 1398.9)">10²</text>
<text x="1020.3" y="1385.5" class="c7" transform="rotate(-90 1020.3 1385.5)">10³</text>
<text x="1020.3" y="1372.1" class="c7" transform="rotate(-90 1020.3 1372.1)">10⁴</text>
<text x="1020.3" y="1356.8" class="c7" transform="rotate(-90 1020.3 1356.8)">10⁵</text>
<text x="1020.3" y="1341.5" class="c7" transform="rotate(-90 1020.3 1341.5)">10⁶</text>
<text x="1020.3" y="1326.2" class="c7" transform="rotate(-90 1020.3 1326.2)">10⁷</text>
<text x="1024.5" y="1330.7" class="c6">0.20%</text>
<text x="1117.7" y="1330.7" class="c8">0.72%</text>
<text x="1023.6" y="1413.6" class="c6">98.71%</text>
<text x="1118.6" y="1413.6" class="c8">0.37%</text>
<path d="M1183 1344.5h1m-1 3h1m-4 2h1m-6 1h2m1 0h1m1 0h1m-3 1h2m-8 1h1m1 0h4m-4 1h2m1 0h2m-3 1h1m-7 1h1m3 0h1m1 0h1m-6 1h3m5 0h1m-11 1h2m3 0h2m-6 1h1m2 0h1m3 0h1m-19 3h1m6 0h1m5 0h1m-10 1h1m22 0h1m-31 1h1m12 0h1m6 2h1m-31 1h1m8 0h1m-2 1h1m10 0h1m-15 1h1m10 0h1m3 0h1m10 0h1m-17 1h1m26 0h1m-42 1h1m12 0h2m4 0h1m-13 1h3m6 0h1m-14 1h4m3 0h1m1 0h1m2 0h2m2 0h2m1 0h1m-20 1h1m2 0h2m3 0h1m4 0h1m3 0h2m-34 1h1m13 0h1m2 0h1m1 0h2m1 0h1m3 0h1m2 0h1m8 0h1m1 0h1m7 0h1m-35 1h1m2 0h1m2 0h1m2 0h2m1 0h1m1 0h1m-22 1h1m6 0h2m1 0h1m4 0h2m5 0h1m1 0h2m1 0h3m-30 1h1m1 0h1m2 0h1m1 0h2m2 0h1m1 0h1m1 0h3m1 0h1m1 0h1m3 0h4m1 0h1m-28 1h1m1 0h3m2 0h2m1 0h9m1 0h1m-31 1h1m1 0h2m2 0h3m5 0h4m1 0h3m1 0h5m1 0h1m4 0h1m12 0h1m-52 1h1m4 0h1m1 0h1m1 0h4m1 0h1m2 0h2m1 0h9m2 0h5m1 0h1m12 0h1m-44 1h1m1 0h1m1 0h1m2 0h1m1 0h4m1 0h6m1 0h1m1 0h4m4 0h1m4 0h1m-41 1h2m5 0h2m2 0h1m1 0h4m1 0h5m2 0h2m1 0h1m-30 1h1m1 0h2m1 0h7m1 0h5m1 0h6m1 0h3m1 0h1m1 0h1m2 0h1m3 0h1m-43 1h1m2 0h2m1 0h2m1 0h18m1 0h3m1 0h2m2 0h1m-34 1h3m5 0h5m1 0h3m4 0h3m3 0h3m9 0h1m3 0h1m-45 1h4m1 0h1m2 0h1m1 0h2m2 0h2m1 0h1m1 0h3m1 0h2m1 0h2m2 0h1m1 0h2m7 0h1m-41 1h1m1 0h3m2 0h3m1 0h4m1 0h9m1 0h1m3 0h1m5 0h1m-38 1h4m2 0h1m1 0h3m2 0h1m3 0h2m1 0h9m1 0h1m1 0h1m-31 1h1m1 0h1m1 0h3m2 0h1m2 0h1m1 0h1m1 0h2m1 0h3m1 0h1m1 0h1m1 0h1m2 0h1m6 0h1m-35 1h1m2 0h1m2 0h1m1 0h1m5 0h5m6 0h2m-33 1h1m1 0h1m8 0h2m2 0h1m5 0h3m2 0h1m13 0h1m5 0h1m-43 1h1m2 0h1m1 0h1m5 0h1m5 0h1m9 0h1m-30 1h1m3 0h1m2 0h1m1 0h2m4 0h2m1 0h1m5 0h1m-12 1h1m1 0h1m8 0h1m2 0h1m3 0h1m-17 1h1m4 0h1m8 0h1m-23 1h1m2 0h1m8 0h1m3 0h1m15 0h1m-20 1h1m4 0h1m-17 1h1m1 0h1m-10 1h1m13 1h2m2 0h1m-14 3h1m9 2h1m5 1h1m-5 5h1" fill="none" stroke="#1a2aff" stroke-width="1" stroke-opacity="0.6"/>
<ellipse cx="1156.1" cy="1382.1" rx="14" ry="10.3" fill="url(#core)" transform="rotate(-30 1156.1 1382.1)"/>
<line x1="1169.7" y1="1318.5" x2="1169.7" y2="1414.2" stroke="#858585" stroke-width="1.1"/>
<line x1="1129.2" y1="1367.3" x2="1225.5" y2="1367.3" stroke="#858585" stroke-width="1.1"/>
<rect x="1129.2" y="1318.5" width="96.3" height="95.7" fill="none" stroke="#6a6a6a" stroke-width="1.3"/>
<path d="M1131.2 1414.2v-1.5M1133.8 1414.2v-1.5M1136.4 1414.2v-1.5M1139 1414.2v-1.5M1141.6 1414.2v-1.5M1144.2 1414.2v-1.5M1146.8 1414.2v-1.5M1149.4 1414.2v-1.5M1152 1414.2v-1.5M1154.6 1414.2v-1.5M1157.2 1414.2v-1.5M1159.8 1414.2v-1.5M1162.4 1414.2v-1.5M1165 1414.2v-1.5M1167.6 1414.2v-1.5M1170.2 1414.2v-1.5M1172.8 1414.2v-1.5M1175.4 1414.2v-1.5M1178 1414.2v-1.5M1180.6 1414.2v-1.5M1183.2 1414.2v-1.5M1185.8 1414.2v-1.5M1188.4 1414.2v-1.5M1191 1414.2v-1.5M1193.6 1414.2v-1.5M1196.2 1414.2v-1.5M1198.8 1414.2v-1.5M1201.4 1414.2v-1.5M1204 1414.2v-1.5M1206.6 1414.2v-1.5M1209.2 1414.2v-1.5M1211.8 1414.2v-1.5M1214.4 1414.2v-1.5M1217 1414.2v-1.5M1219.6 1414.2v-1.5M1222.2 1414.2v-1.5M1129.2 1412.2h1.5M1129.2 1409.6h1.5M1129.2 1407h1.5M1129.2 1404.4h1.5M1129.2 1401.8h1.5M1129.2 1399.2h1.5M1129.2 1396.6h1.5M1129.2 1394h1.5M1129.2 1391.4h1.5M1129.2 1388.8h1.5M1129.2 1386.2h1.5M1129.2 1383.6h1.5M1129.2 1381h1.5M1129.2 1378.4h1.5M1129.2 1375.8h1.5M1129.2 1373.2h1.5M1129.2 1370.6h1.5M1129.2 1368h1.5M1129.2 1365.4h1.5M1129.2 1362.8h1.5M1129.2 1360.2h1.5M1129.2 1357.6h1.5M1129.2 1355h1.5M1129.2 1352.4h1.5M1129.2 1349.8h1.5M1129.2 1347.2h1.5M1129.2 1344.6h1.5M1129.2 1342h1.5M1129.2 1339.4h1.5M1129.2 1336.8h1.5M1129.2 1334.2h1.5M1129.2 1331.6h1.5M1129.2 1329h1.5M1129.2 1326.4h1.5M1129.2 1323.8h1.5M1129.2 1321.2h1.5" fill="none" stroke="#555" stroke-width="0.7"/>
<text x="1136.2" y="1422.5" class="c7">0</text>
<text x="1148.3" y="1422.5" class="c7">10²</text>
<text x="1163.3" y="1422.5" class="c7">10³</text>
<text x="1177.6" y="1422.5" class="c7">10⁴</text>
<text x="1193" y="1422.5" class="c7">10⁵</text>
<text x="1208" y="1422.5" class="c7">10⁶</text>
<text x="1222.2" y="1422.5" class="c7">10⁷</text>
<text x="1127.2" y="1409.4" class="c7" transform="rotate(-90 1127.2 1409.4)">0</text>
<text x="1127.2" y="1398.9" class="c7" transform="rotate(-90 1127.2 1398.9)">10²</text>
<text x="1127.2" y="1385.5" class="c7" transform="rotate(-90 1127.2 1385.5)">10³</text>
<text x="1127.2" y="1372.1" class="c7" transform="rotate(-90 1127.2 1372.1)">10⁴</text>
<text x="1127.2" y="1356.8" class="c7" transform="rotate(-90 1127.2 1356.8)">10⁵</text>
<text x="1127.2" y="1341.5" class="c7" transform="rotate(-90 1127.2 1341.5)">10⁶</text>
<text x="1127.2" y="1326.2" class="c7" transform="rotate(-90 1127.2 1326.2)">10⁷</text>
<text x="1131.4" y="1330.7" class="c6">0.16%</text>
<text x="1224.9" y="1330.7" class="c8">0.47%</text>
<text x="1132" y="1413.6" class="c6">99.08%</text>
<text x="1224.9" y="1413.6" class="c8">0.29%</text>
<path d="M1286 1343.5h1m-5 2h1m14 0h1m-20 1h1m6 0h1m14 0h1m-25 1h1m10 0h1m6 0h1m-17 1h1m1 0h1m8 0h1m7 0h1m-18 1h1m3 0h7m-10 1h1m4 0h2m1 0h1m1 0h1m-14 1h1m3 0h1m4 0h7m10 0h1m-29 1h1m4 0h3m2 0h2m1 0h3m-19 1h1m5 0h1m3 0h1m1 0h3m1 0h1m2 0h1m-14 1h1m1 0h8m1 0h1m3 0h2m-21 1h1m4 0h4m2 0h5m-20 1h1m7 0h1m1 0h7m1 0h3m-21 1h2m2 0h1m2 0h2m2 0h4m2 0h1m3 0h2m1 0h1m-40 1h1m15 0h1m5 0h3m2 0h2m1 0h1m2 0h2m-25 1h1m9 0h1m1 0h1m2 0h3m4 0h2m-18 1h1m5 0h3m7 0h1m4 0h1m1 0h2m-20 1h1m1 0h1m1 0h2m3 0h2m-19 1h1m1 0h1m2 0h1m1 0h3m1 0h1m2 0h1m1 0h2m3 0h1m-24 1h1m9 0h1m1 0h1m3 0h1m2 0h2m2 0h2m8 0h1m-32 1h1m1 0h1m5 0h1m2 0h1m3 0h1m5 0h1m-18 1h3m1 0h1m1 0h1m1 0h1m4 0h1m1 0h2m-22 1h1m1 0h1m1 0h1m1 0h1m2 0h1m-11 1h1m1 0h3m1 0h3m1 0h6m1 0h3m-20 1h1m2 0h1m1 0h2m1 0h5m2 0h2m3 0h1m-43 1h1m19 0h4m1 0h2m1 0h2m3 0h3m1 0h4m1 0h1m-27 1h2m4 0h1m1 0h4m1 0h1m1 0h3m2 0h7m-29 1h1m6 0h1m1 0h2m1 0h2m1 0h6m2 0h3m1 0h2m2 0h1m-30 1h4m1 0h2m1 0h3m1 0h4m2 0h1m1 0h1m1 0h3m1 0h2m-30 1h1m4 0h7m1 0h2m1 0h2m1 0h2m1 0h1m6 0h1m1 0h1m-41 1h1m7 0h2m3 0h3m1 0h11m1 0h1m4 0h1m4 0h1m-46 1h3m10 0h1m4 0h6m1 0h7m1 0h6m5 0h1m-34 1h1m2 0h2m2 0h3m1 0h10m1 0h1m1 0h1m1 0h2m3 0h1m-34 1h3m1 0h1m1 0h1m4 0h13m1 0h2m-36 1h1m8 0h1m1 0h2m3 0h1m1 0h6m1 0h10m1 0h1m7 0h1m2 0h1m-47 1h1m7 0h1m2 0h1m3 0h2m2 0h13m1 0h1m10 0h1m-47 1h1m11 0h1m1 0h1m1 0h2m2 0h1m1 0h2m1 0h1m3 0h2m-24 1h2m4 0h1m2 0h2m2 0h4m1 0h9m1 0h2m1 0h1m-39 1h1m1 0h2m1 0h1m1 0h1m3 0h1m2 0h3m1 0h1m1 0h2m1 0h1m6 0h1m2 0h1m-33 1h1m1 0h1m5 0h1m1 0h1m1 0h1m2 0h2m1 0h1m3 0h2m1 0h1m2 0h1m-26 1h1m1 0h1m10 0h1m3 0h1m1 0h4m5 0h1m2 0h1m-40 1h1m2 0h1m5 0h1m2 0h2m1 0h1m1 0h1m3 0h3m3 0h2m10 0h1m-37 1h1m8 0h1m2 0h1m4 0h1m1 0h1m2 0h1m3 0h1m1 0h1m1 0h1m6 0h1m-33 1h1m7 0h1m9 0h1m-28 1h1m1 0h2m6 0h1m11 0h1m5 0h1m20 0h1m-48 1h1m1 0h1m4 0h1m24 0h1m4 0h1m-11 1h1m1 0h1m-16 1h1m8 1h1m-20 1h2m3 3h1m13 3h1" fill="none" stroke="#1a2aff" stroke-width="1" stroke-opacity="0.6"/>
<ellipse cx="1271" cy="1375.7" rx="11.3" ry="7.6" fill="url(#core)" transform="rotate(-30 1271 1375.7)"/>
<ellipse cx="1284.8" cy="1355.5" rx="10.3" ry="7.6" fill="url(#coreG)" transform="rotate(-40 1284.8 1355.5)"/>
<line x1="1274.9" y1="1318.5" x2="1274.9" y2="1414.2" stroke="#858585" stroke-width="1.1"/>
<line x1="1235.1" y1="1367.3" x2="1330.8" y2="1367.3" stroke="#858585" stroke-width="1.1"/>
<rect x="1235.1" y="1318.5" width="95.7" height="95.7" fill="none" stroke="#6a6a6a" stroke-width="1.3"/>
<path d="M1237.1 1414.2v-1.5M1239.7 1414.2v-1.5M1242.3 1414.2v-1.5M1244.9 1414.2v-1.5M1247.5 1414.2v-1.5M1250.1 1414.2v-1.5M1252.7 1414.2v-1.5M1255.3 1414.2v-1.5M1257.9 1414.2v-1.5M1260.5 1414.2v-1.5M1263.1 1414.2v-1.5M1265.7 1414.2v-1.5M1268.3 1414.2v-1.5M1270.9 1414.2v-1.5M1273.5 1414.2v-1.5M1276.1 1414.2v-1.5M1278.7 1414.2v-1.5M1281.3 1414.2v-1.5M1283.9 1414.2v-1.5M1286.5 1414.2v-1.5M1289.1 1414.2v-1.5M1291.7 1414.2v-1.5M1294.3 1414.2v-1.5M1296.9 1414.2v-1.5M1299.5 1414.2v-1.5M1302.1 1414.2v-1.5M1304.7 1414.2v-1.5M1307.3 1414.2v-1.5M1309.9 1414.2v-1.5M1312.5 1414.2v-1.5M1315.1 1414.2v-1.5M1317.7 1414.2v-1.5M1320.3 1414.2v-1.5M1322.9 1414.2v-1.5M1325.5 1414.2v-1.5M1328.1 1414.2v-1.5M1235.1 1412.2h1.5M1235.1 1409.6h1.5M1235.1 1407h1.5M1235.1 1404.4h1.5M1235.1 1401.8h1.5M1235.1 1399.2h1.5M1235.1 1396.6h1.5M1235.1 1394h1.5M1235.1 1391.4h1.5M1235.1 1388.8h1.5M1235.1 1386.2h1.5M1235.1 1383.6h1.5M1235.1 1381h1.5M1235.1 1378.4h1.5M1235.1 1375.8h1.5M1235.1 1373.2h1.5M1235.1 1370.6h1.5M1235.1 1368h1.5M1235.1 1365.4h1.5M1235.1 1362.8h1.5M1235.1 1360.2h1.5M1235.1 1357.6h1.5M1235.1 1355h1.5M1235.1 1352.4h1.5M1235.1 1349.8h1.5M1235.1 1347.2h1.5M1235.1 1344.6h1.5M1235.1 1342h1.5M1235.1 1339.4h1.5M1235.1 1336.8h1.5M1235.1 1334.2h1.5M1235.1 1331.6h1.5M1235.1 1329h1.5M1235.1 1326.4h1.5M1235.1 1323.8h1.5M1235.1 1321.2h1.5" fill="none" stroke="#555" stroke-width="0.7"/>
<text x="1242.1" y="1422.5" class="c7">0</text>
<text x="1254" y="1422.5" class="c7">10²</text>
<text x="1269" y="1422.5" class="c7">10³</text>
<text x="1283.2" y="1422.5" class="c7">10⁴</text>
<text x="1298.5" y="1422.5" class="c7">10⁵</text>
<text x="1313.4" y="1422.5" class="c7">10⁶</text>
<text x="1327.5" y="1422.5" class="c7">10⁷</text>
<text x="1233.1" y="1409.4" class="c7" transform="rotate(-90 1233.1 1409.4)">0</text>
<text x="1233.1" y="1398.9" class="c7" transform="rotate(-90 1233.1 1398.9)">10²</text>
<text x="1233.1" y="1385.5" class="c7" transform="rotate(-90 1233.1 1385.5)">10³</text>
<text x="1233.1" y="1372.1" class="c7" transform="rotate(-90 1233.1 1372.1)">10⁴</text>
<text x="1233.1" y="1356.8" class="c7" transform="rotate(-90 1233.1 1356.8)">10⁵</text>
<text x="1233.1" y="1341.5" class="c7" transform="rotate(-90 1233.1 1341.5)">10⁶</text>
<text x="1233.1" y="1326.2" class="c7" transform="rotate(-90 1233.1 1326.2)">10⁷</text>
<text x="1236" y="1330.7" class="c6">2.36%</text>
<text x="1328.5" y="1330.7" class="c8">37.04%</text>
<text x="1235.1" y="1413.6" class="c6">52.87%</text>
<text x="1328.5" y="1413.6" class="c8">7.73%</text>
<path d="M1398 1343.5h1m-1 1h1m-10 2h1m1 0h1m7 0h2m4 0h1m-24 1h1m7 1h1m1 0h1m-4 1h1m6 0h2m2 0h1m-18 1h1m5 0h1m3 0h1m6 0h1m24 0h1m-44 1h1m2 0h1m1 0h1m1 0h2m2 0h2m1 0h1m4 0h1m1 0h1m-18 1h1m3 0h1m1 0h3m1 0h3m4 0h1m1 0h1m4 0h1m-42 1h1m9 0h1m1 0h2m5 0h5m1 0h1m1 0h2m2 0h1m-15 1h1m1 0h3m1 0h3m3 0h2m1 0h1m7 0h1m-30 1h1m2 0h1m1 0h11m3 0h1m1 0h1m-22 1h1m3 0h3m1 0h7m1 0h1m1 0h1m2 0h1m-28 1h1m5 0h2m1 0h1m1 0h5m5 0h3m-18 1h1m2 0h3m5 0h1m1 0h2m-18 1h1m1 0h1m2 0h1m3 0h1m1 0h2m1 0h4m2 0h1m1 0h1m-12 1h2m-10 1h1m4 0h1m8 0h1m1 0h1m-14 2h1m1 0h2m5 0h1m-14 1h3m3 0h1m1 0h2m1 0h3m1 0h1m-16 1h1m6 0h1m2 0h2m1 0h1m-18 1h1m4 0h1m4 0h2m1 0h1m1 0h2m18 0h1m-39 1h1m2 0h1m6 0h1m3 0h4m1 0h1m-20 1h1m8 0h1m2 0h1m6 0h1m4 0h1m-17 1h1m1 0h2m5 0h1m1 0h1m1 0h2m-18 1h1m2 0h1m3 0h1m1 0h2m1 0h1m1 0h1m1 0h1m-32 1h1m3 0h1m2 0h1m2 0h1m1 0h1m4 0h3m2 0h1m3 0h1m1 0h3m-27 1h1m2 0h1m5 0h1m1 0h4m2 0h2m2 0h1m4 0h2m4 0h1m-31 1h1m1 0h4m1 0h1m1 0h2m4 0h2m1 0h2m3 0h1m2 0h1m14 0h1m-58 1h1m13 0h2m2 0h1m2 0h1m1 0h1m1 0h1m2 0h3m2 0h1m1 0h3m3 0h1m-29 1h1m1 0h2m1 0h3m2 0h2m1 0h1m3 0h3m1 0h1m1 0h1m-23 1h1m1 0h1m1 0h1m1 0h3m1 0h3m1 0h1m1 0h1m4 0h1m4 0h1m-41 1h1m5 0h1m3 0h3m3 0h3m1 0h5m2 0h3m2 0h1m4 0h1m1 0h1m-38 1h1m9 0h2m1 0h1m4 0h7m1 0h1m1 0h1m1 0h1m-33 1h1m4 0h1m4 0h1m1 0h1m1 0h1m1 0h9m5 0h2m-37 1h1m1 0h1m1 0h1m1 0h2m4 0h2m2 0h2m1 0h8m1 0h2m3 0h1m2 0h1m1 0h1m1 0h1m-42 1h1m1 0h1m2 0h1m2 0h1m3 0h3m1 0h1m1 0h3m1 0h2m1 0h1m1 0h3m3 0h1m1 0h2m-41 1h1m1 0h1m3 0h2m2 0h2m2 0h1m3 0h1m1 0h9m1 0h1m1 0h7m7 0h1m5 0h1m-52 1h1m3 0h2m1 0h1m1 0h1m1 0h1m1 0h3m1 0h1m3 0h14m1 0h2m1 0h2m-42 1h2m1 0h2m4 0h1m1 0h1m5 0h7m3 0h6m1 0h1m2 0h1m-37 1h2m3 0h3m3 0h1m1 0h2m3 0h2m1 0h4m1 0h1m2 0h5m1 0h1m2 0h1m2 0h1m-42 1h2m1 0h6m1 0h2m1 0h2m2 0h2m1 0h2m3 0h6m2 0h1m3 0h1m11 0h1m-50 1h1m1 0h1m5 0h1m6 0h1m1 0h6m1 0h1m2 0h4m1 0h2m2 0h1m5 0h1m-42 1h2m3 0h2m3 0h1m4 0h5m1 0h2m1 0h1m1 0h1m2 0h2m1 0h1m11 0h1m-42 1h4m3 0h2m1 0h4m1 0h3m5 0h1m1 0h1m1 0h1m1 0h1m14 0h1m-45 1h1m2 0h1m5 0h3m2 0h4m3 0h1m1 0h2m1 0h1m-20 1h2m1 0h4m4 0h3m2 0h2m6 0h1m3 0h1m-27 1h1m1 0h2m2 0h1m2 0h2m1 0h2m-27 1h2m2 0h3m6 0h2m2 0h2m8 0h1m-21 1h1m5 0h1m1 0h1m5 0h2m12 0h1m-33 2h1m10 0h1m4 0h1m12 0h1m6 0h1m-34 1h1m12 0h1m5 0h1m2 0h1m5 0h1m-33 1h1m20 0h1m-17 1h1m13 0h1m-15 3h1m-3 1h1m0 4h1" fill="none" stroke="#1a2aff" stroke-width="1" stroke-opacity="0.6"/>
<ellipse cx="1373" cy="1381" rx="16.2" ry="8.6" fill="url(#core)" transform="rotate(-30 1373 1381)"/>
<ellipse cx="1391.1" cy="1354.5" rx="10.8" ry="6.5" fill="url(#coreB)" transform="rotate(-20 1391.1 1354.5)"/>
<line x1="1381.8" y1="1318.5" x2="1381.8" y2="1414.2" stroke="#858585" stroke-width="1.1"/>
<line x1="1341.3" y1="1367.3" x2="1437.6" y2="1367.3" stroke="#858585" stroke-width="1.1"/>
<rect x="1341.3" y="1318.5" width="96.3" height="95.7" fill="none" stroke="#6a6a6a" stroke-width="1.3"/>
<path d="M1343.3 1414.2v-1.5M1345.9 1414.2v-1.5M1348.5 1414.2v-1.5M1351.1 1414.2v-1.5M1353.7 1414.2v-1.5M1356.3 1414.2v-1.5M1358.9 1414.2v-1.5M1361.5 1414.2v-1.5M1364.1 1414.2v-1.5M1366.7 1414.2v-1.5M1369.3 1414.2v-1.5M1371.9 1414.2v-1.5M1374.5 1414.2v-1.5M1377.1 1414.2v-1.5M1379.7 1414.2v-1.5M1382.3 1414.2v-1.5M1384.9 1414.2v-1.5M1387.5 1414.2v-1.5M1390.1 1414.2v-1.5M1392.7 1414.2v-1.5M1395.3 1414.2v-1.5M1397.9 1414.2v-1.5M1400.5 1414.2v-1.5M1403.1 1414.2v-1.5M1405.7 1414.2v-1.5M1408.3 1414.2v-1.5M1410.9 1414.2v-1.5M1413.5 1414.2v-1.5M1416.1 1414.2v-1.5M1418.7 1414.2v-1.5M1421.3 1414.2v-1.5M1423.9 1414.2v-1.5M1426.5 1414.2v-1.5M1429.1 1414.2v-1.5M1431.7 1414.2v-1.5M1434.3 1414.2v-1.5M1341.3 1412.2h1.5M1341.3 1409.6h1.5M1341.3 1407h1.5M1341.3 1404.4h1.5M1341.3 1401.8h1.5M1341.3 1399.2h1.5M1341.3 1396.6h1.5M1341.3 1394h1.5M1341.3 1391.4h1.5M1341.3 1388.8h1.5M1341.3 1386.2h1.5M1341.3 1383.6h1.5M1341.3 1381h1.5M1341.3 1378.4h1.5M1341.3 1375.8h1.5M1341.3 1373.2h1.5M1341.3 1370.6h1.5M1341.3 1368h1.5M1341.3 1365.4h1.5M1341.3 1362.8h1.5M1341.3 1360.2h1.5M1341.3 1357.6h1.5M1341.3 1355h1.5M1341.3 1352.4h1.5M1341.3 1349.8h1.5M1341.3 1347.2h1.5M1341.3 1344.6h1.5M1341.3 1342h1.5M1341.3 1339.4h1.5M1341.3 1336.8h1.5M1341.3 1334.2h1.5M1341.3 1331.6h1.5M1341.3 1329h1.5M1341.3 1326.4h1.5M1341.3 1323.8h1.5M1341.3 1321.2h1.5" fill="none" stroke="#555" stroke-width="0.7"/>
<text x="1348.3" y="1422.5" class="c7">0</text>
<text x="1360.4" y="1422.5" class="c7">10²</text>
<text x="1375.4" y="1422.5" class="c7">10³</text>
<text x="1389.7" y="1422.5" class="c7">10⁴</text>
<text x="1405.1" y="1422.5" class="c7">10⁵</text>
<text x="1420.1" y="1422.5" class="c7">10⁶</text>
<text x="1434.3" y="1422.5" class="c7">10⁷</text>
<text x="1339.3" y="1409.4" class="c7" transform="rotate(-90 1339.3 1409.4)">0</text>
<text x="1339.3" y="1398.9" class="c7" transform="rotate(-90 1339.3 1398.9)">10²</text>
<text x="1339.3" y="1385.5" class="c7" transform="rotate(-90 1339.3 1385.5)">10³</text>
<text x="1339.3" y="1372.1" class="c7" transform="rotate(-90 1339.3 1372.1)">10⁴</text>
<text x="1339.3" y="1356.8" class="c7" transform="rotate(-90 1339.3 1356.8)">10⁵</text>
<text x="1339.3" y="1341.5" class="c7" transform="rotate(-90 1339.3 1341.5)">10⁶</text>
<text x="1339.3" y="1326.2" class="c7" transform="rotate(-90 1339.3 1326.2)">10⁷</text>
<text x="1344.2" y="1330.7" class="c6">1.34%</text>
<text x="1437.6" y="1330.7" class="c8">14.39%</text>
<text x="1342.6" y="1413.6" class="c6">77.11%</text>
<text x="1435" y="1413.6" class="c8">7.16%</text>
<text x="615.8" y="69.8" class="c0">B</text>
<rect x="647.5" y="258.1" width="13.9" height="43.5" fill="#0000ff" stroke="#111" stroke-width="1"/>
<line x1="654.5" y1="258.1" x2="654.5" y2="257.7" stroke="#222" stroke-width="1"/>
<line x1="651" y1="257.7" x2="658" y2="257.7" stroke="#222" stroke-width="1"/>
<rect x="690.2" y="278.1" width="14.3" height="23.5" fill="#0000ff" stroke="#111" stroke-width="1"/>
<line x1="697.4" y1="278.1" x2="697.4" y2="276.8" stroke="#222" stroke-width="1"/>
<line x1="693.9" y1="276.8" x2="700.9" y2="276.8" stroke="#222" stroke-width="1"/>
<rect x="732.3" y="226" width="14.8" height="75.6" fill="#0000ff" stroke="#111" stroke-width="1"/>
<line x1="739.7" y1="226" x2="739.7" y2="222.9" stroke="#222" stroke-width="1"/>
<line x1="736.2" y1="222.9" x2="743.2" y2="222.9" stroke="#222" stroke-width="1"/>
<rect x="775.1" y="254.2" width="14.9" height="47.4" fill="#0000ff" stroke="#111" stroke-width="1"/>
<line x1="782.5" y1="254.2" x2="782.5" y2="253.4" stroke="#222" stroke-width="1"/>
<line x1="779" y1="253.4" x2="786" y2="253.4" stroke="#222" stroke-width="1"/>
<rect x="661.4" y="242.9" width="13.9" height="58.7" fill="#ff0000" stroke="#111" stroke-width="1"/>
<line x1="668.3" y1="242.9" x2="668.3" y2="242.5" stroke="#222" stroke-width="1"/>
<line x1="664.8" y1="242.5" x2="671.8" y2="242.5" stroke="#222" stroke-width="1"/>
<rect x="704.5" y="273.4" width="13.9" height="28.2" fill="#ff0000" stroke="#111" stroke-width="1"/>
<line x1="711.5" y1="273.4" x2="711.5" y2="272.9" stroke="#222" stroke-width="1"/>
<line x1="708" y1="272.9" x2="715" y2="272.9" stroke="#222" stroke-width="1"/>
<rect x="747.7" y="118.2" width="13.9" height="183.4" fill="#ff0000" stroke="#111" stroke-width="1"/>
<line x1="754.7" y1="118.2" x2="754.7" y2="114.7" stroke="#222" stroke-width="1"/>
<line x1="751.2" y1="114.7" x2="758.2" y2="114.7" stroke="#222" stroke-width="1"/>
<rect x="790.4" y="233.4" width="13.9" height="68.2" fill="#ff0000" stroke="#111" stroke-width="1"/>
<line x1="797.3" y1="233.4" x2="797.3" y2="232.9" stroke="#222" stroke-width="1"/>
<line x1="793.8" y1="232.9" x2="800.8" y2="232.9" stroke="#222" stroke-width="1"/>
<rect x="639.2" y="84.3" width="172.4" height="217.3" fill="none" stroke="#222" stroke-width="1.3"/>
<line x1="639.2" y1="301.6" x2="644.2" y2="301.6" stroke="#222" stroke-width="1.1"/>
<text x="637.7" y="307.5" class="c12">0</text>
<line x1="639.2" y1="258.1" x2="644.2" y2="258.1" stroke="#222" stroke-width="1.1"/>
<text x="637.7" y="264.1" class="c12">1</text>
<line x1="639.2" y1="214.7" x2="644.2" y2="214.7" stroke="#222" stroke-width="1.1"/>
<text x="637.7" y="220.6" class="c12">2</text>
<line x1="639.2" y1="171.2" x2="644.2" y2="171.2" stroke="#222" stroke-width="1.1"/>
<text x="637.7" y="177.2" class="c12">3</text>
<line x1="639.2" y1="127.8" x2="644.2" y2="127.8" stroke="#222" stroke-width="1.1"/>
<text x="637.7" y="133.7" class="c12">4</text>
<line x1="639.2" y1="84.3" x2="644.2" y2="84.3" stroke="#222" stroke-width="1.1"/>
<text x="637.7" y="90.2" class="c12">5</text>
<rect x="642.8" y="90.4" width="15.2" height="7.1" fill="#0000ff" stroke="#111" stroke-width="1.1" rx="1"/>
<text x="660.5" y="98" class="c13">H1299 Vector</text>
<rect x="642.8" y="104.9" width="15.2" height="6.8" fill="#ff0000" stroke="#111" stroke-width="1.1" rx="1"/>
<text x="660.5" y="113.1" class="c13">H1299 CRTAC1</text>
<text x="754.7" y="115.5" class="c14">*</text>
<text x="620.3" y="295.2" class="c15" transform="rotate(-90 620.3 295.2)">Relative</text>
<text x="620.3" y="226.7" class="c15" transform="rotate(-90 620.3 226.7)">Ca</text>
<text x="613.8" y="204.7" class="c16" transform="rotate(-90 613.8 204.7)">2+</text>
<text x="620.3" y="183.8" class="c15" transform="rotate(-90 620.3 183.8)">Fluorescence</text>
<text x="647.5" y="316.1" class="c17">-</text>
<text x="667.4" y="316.1" class="c17">-</text>
<text x="692.2" y="316.1" class="c17">+</text>
<text x="711.4" y="316.1" class="c17">+</text>
<text x="736.4" y="316.1" class="c17">-</text>
<text x="756.3" y="316.1" class="c17">-</text>
<text x="780.9" y="316.1" class="c17">+</text>
<text x="799.9" y="316.1" class="c17">+</text>
<text x="647.5" y="329.9" class="c17">-</text>
<text x="667.4" y="329.9" class="c17">-</text>
<text x="692.2" y="329.9" class="c17">-</text>
<text x="711.4" y="329.9" class="c17">-</text>
<text x="736.4" y="329.9" class="c17">+</text>
<text x="756.3" y="329.9" class="c17">+</text>
<text x="780.9" y="329.9" class="c17">+</text>
<text x="799.9" y="329.9" class="c17">+</text>
<text x="819.2" y="313.9" class="c2">BAPTA-AM (2.5μM)</text>
<text x="817.8" y="328.8" class="c2">CDDP (20μM)</text>
<text x="615.8" y="340.5" class="c0">D</text>
<rect x="646.5" y="557.9" width="13.9" height="18.1" fill="#0000ff" stroke="#111" stroke-width="1"/>
<line x1="650" y1="557.1" x2="657" y2="557.1" stroke="#333" stroke-width="0.9"/>
<rect x="689.6" y="562.8" width="13.9" height="13.2" fill="#0000ff" stroke="#111" stroke-width="1"/>
<line x1="696.5" y1="562.8" x2="696.5" y2="561.1" stroke="#222" stroke-width="1"/>
<line x1="693" y1="561.1" x2="700" y2="561.1" stroke="#222" stroke-width="1"/>
<rect x="731.5" y="469.9" width="14.8" height="106.1" fill="#0000ff" stroke="#111" stroke-width="1"/>
<line x1="738.9" y1="469.9" x2="738.9" y2="466.3" stroke="#222" stroke-width="1"/>
<line x1="735.4" y1="466.3" x2="742.4" y2="466.3" stroke="#222" stroke-width="1"/>
<rect x="774.5" y="508.9" width="14.9" height="67.1" fill="#0000ff" stroke="#111" stroke-width="1"/>
<line x1="782" y1="508.9" x2="782" y2="504.4" stroke="#222" stroke-width="1"/>
<line x1="778.5" y1="504.4" x2="785.5" y2="504.4" stroke="#222" stroke-width="1"/>
<rect x="660.8" y="554.2" width="13.9" height="21.8" fill="#ff0000" stroke="#111" stroke-width="1"/>
<line x1="667.8" y1="554.2" x2="667.8" y2="553.9" stroke="#222" stroke-width="1"/>
<line x1="664.2" y1="553.9" x2="671.2" y2="553.9" stroke="#222" stroke-width="1"/>
<rect x="703.7" y="561.5" width="13.9" height="14.5" fill="#ff0000" stroke="#111" stroke-width="1"/>
<line x1="710.7" y1="561.5" x2="710.7" y2="561.1" stroke="#222" stroke-width="1"/>
<line x1="707.2" y1="561.1" x2="714.2" y2="561.1" stroke="#222" stroke-width="1"/>
<rect x="746.7" y="414.6" width="13.9" height="161.4" fill="#ff0000" stroke="#111" stroke-width="1"/>
<line x1="753.7" y1="414.6" x2="753.7" y2="396.5" stroke="#222" stroke-width="1"/>
<line x1="750.2" y1="396.5" x2="757.2" y2="396.5" stroke="#222" stroke-width="1"/>
<rect x="789.8" y="479" width="13.9" height="97" fill="#ff0000" stroke="#111" stroke-width="1"/>
<line x1="796.8" y1="479" x2="796.8" y2="475.4" stroke="#222" stroke-width="1"/>
<line x1="793.2" y1="475.4" x2="800.2" y2="475.4" stroke="#222" stroke-width="1"/>
<rect x="638.6" y="358.4" width="171.6" height="217.6" fill="none" stroke="#222" stroke-width="1.3"/>
<line x1="638.6" y1="576" x2="643.6" y2="576" stroke="#222" stroke-width="1.1"/>
<text x="637.1" y="581.9" class="c12">0</text>
<line x1="638.6" y1="521.6" x2="643.6" y2="521.6" stroke="#222" stroke-width="1.1"/>
<text x="637.1" y="527.5" class="c12">3</text>
<line x1="638.6" y1="467.2" x2="643.6" y2="467.2" stroke="#222" stroke-width="1.1"/>
<text x="637.1" y="473.1" class="c12">6</text>
<line x1="638.6" y1="412.8" x2="643.6" y2="412.8" stroke="#222" stroke-width="1.1"/>
<text x="637.1" y="418.7" class="c12">9</text>
<line x1="638.6" y1="358.4" x2="643.6" y2="358.4" stroke="#222" stroke-width="1.1"/>
<text x="637.1" y="364.3" class="c12">12</text>
<rect x="642" y="365.3" width="15" height="6.7" fill="#0000ff" stroke="#111" stroke-width="1.1" rx="1"/>
<text x="660" y="371.3" class="c13">HCC827 Vector</text>
<rect x="642" y="379.2" width="15" height="6.9" fill="#ff0000" stroke="#111" stroke-width="1.1" rx="1"/>
<text x="660" y="385.6" class="c13">HCC827 CRTAC1</text>
<text x="752.7" y="397.5" class="c14">*</text>
<text x="619.8" y="577" class="c15" transform="rotate(-90 619.8 577)">Relative</text>
<text x="619.8" y="508.5" class="c15" transform="rotate(-90 619.8 508.5)">Ca</text>
<text x="613.3" y="486.5" class="c16" transform="rotate(-90 613.3 486.5)">2+</text>
<text x="619.8" y="465.6" class="c15" transform="rotate(-90 619.8 465.6)">Fluorescence</text>
<text x="647.5" y="590.1" class="c17">-</text>
<text x="667.4" y="590.1" class="c17">-</text>
<text x="697.1" y="590.1" class="c17">+</text>
<text x="715.4" y="590.1" class="c17">+</text>
<text x="736.4" y="590.1" class="c17">-</text>
<text x="756.3" y="590.1" class="c17">-</text>
<text x="780.9" y="590.1" class="c17">+</text>
<text x="799.9" y="590.1" class="c17">+</text>
<text x="647.5" y="603.3" class="c17">-</text>
<text x="667.4" y="603.3" class="c17">-</text>
<text x="695.5" y="603.3" class="c17">-</text>
<text x="713.5" y="603.3" class="c17">-</text>
<text x="735" y="603.3" class="c17">+</text>
<text x="756.3" y="603.3" class="c17">+</text>
<text x="780.9" y="603.3" class="c17">+</text>
<text x="799.9" y="603.3" class="c17">+</text>
<text x="823.7" y="587.9" class="c13">BAPTA-AM(2.5μM)</text>
<text x="818.2" y="603.4" class="c13">CDDP(20μM)</text>
<text x="1200.2" y="33.5" class="c18">G</text>
<rect x="1260.4" y="188.2" width="14.1" height="76.8" fill="#0000ff" stroke="#111" stroke-width="1"/>
<line x1="1267.5" y1="188.2" x2="1267.5" y2="172.8" stroke="#222" stroke-width="1"/>
<line x1="1264" y1="172.8" x2="1271" y2="172.8" stroke="#222" stroke-width="1"/>
<rect x="1304.6" y="193.5" width="14.3" height="71.5" fill="#0000ff" stroke="#111" stroke-width="1"/>
<line x1="1311.8" y1="193.5" x2="1311.8" y2="182.8" stroke="#222" stroke-width="1"/>
<line x1="1308.2" y1="182.8" x2="1315.2" y2="182.8" stroke="#222" stroke-width="1"/>
<rect x="1348.6" y="180.5" width="14.6" height="84.5" fill="#0000ff" stroke="#111" stroke-width="1"/>
<line x1="1355.9" y1="180.5" x2="1355.9" y2="157.4" stroke="#222" stroke-width="1"/>
<line x1="1352.4" y1="157.4" x2="1359.4" y2="157.4" stroke="#222" stroke-width="1"/>
<rect x="1393.3" y="203.5" width="14.5" height="61.5" fill="#0000ff" stroke="#111" stroke-width="1"/>
<line x1="1400.5" y1="203.5" x2="1400.5" y2="178.2" stroke="#222" stroke-width="1"/>
<line x1="1397" y1="178.2" x2="1404" y2="178.2" stroke="#222" stroke-width="1"/>
<rect x="1274.9" y="182" width="15" height="83" fill="#ff0000" stroke="#111" stroke-width="1"/>
<line x1="1282.4" y1="182" x2="1282.4" y2="148.2" stroke="#222" stroke-width="1"/>
<line x1="1278.9" y1="148.2" x2="1285.9" y2="148.2" stroke="#222" stroke-width="1"/>
<rect x="1319.1" y="202" width="14.6" height="63" fill="#ff0000" stroke="#111" stroke-width="1"/>
<line x1="1326.4" y1="202" x2="1326.4" y2="199.7" stroke="#222" stroke-width="1"/>
<line x1="1322.9" y1="199.7" x2="1329.9" y2="199.7" stroke="#222" stroke-width="1"/>
<rect x="1363.6" y="111.3" width="14.7" height="153.7" fill="#ff0000" stroke="#111" stroke-width="1"/>
<line x1="1370.9" y1="111.3" x2="1370.9" y2="75.2" stroke="#222" stroke-width="1"/>
<line x1="1367.4" y1="75.2" x2="1374.4" y2="75.2" stroke="#222" stroke-width="1"/>
<rect x="1408.2" y="194.3" width="15.2" height="70.7" fill="#ff0000" stroke="#111" stroke-width="1"/>
<line x1="1415.8" y1="194.3" x2="1415.8" y2="169" stroke="#222" stroke-width="1"/>
<line x1="1412.3" y1="169" x2="1419.3" y2="169" stroke="#222" stroke-width="1"/>
<rect x="1252.1" y="34.5" width="178.9" height="230.5" fill="none" stroke="#222" stroke-width="1.3"/>
<line x1="1252.1" y1="265" x2="1257.1" y2="265" stroke="#222" stroke-width="1.1"/>
<text x="1250.6" y="270.9" class="c12">0</text>
<line x1="1252.1" y1="188.2" x2="1257.1" y2="188.2" stroke="#222" stroke-width="1.1"/>
<text x="1250.6" y="194.1" class="c12">1</text>
<line x1="1252.1" y1="111.3" x2="1257.1" y2="111.3" stroke="#222" stroke-width="1.1"/>
<text x="1250.6" y="117.3" class="c12">2</text>
<line x1="1252.1" y1="34.5" x2="1257.1" y2="34.5" stroke="#222" stroke-width="1.1"/>
<text x="1250.6" y="40.4" class="c12">3</text>
<rect x="1255.2" y="40.8" width="16.2" height="7.8" fill="#0000ff" stroke="#111" stroke-width="1.1" rx="1"/>
<text x="1272.8" y="49.1" class="c18">H1299 Vector</text>
<rect x="1255.2" y="58" width="16.2" height="7.7" fill="#ff0000" stroke="#111" stroke-width="1.1" rx="1"/>
<text x="1272.8" y="66.7" class="c18">H1299 CRTAC1</text>
<text x="1370.4" y="79" class="c14">*</text>
<text x="1235.5" y="282.6" class="c19" transform="rotate(-90 1235.5 282.6)">Relative STUB1 mRNA expression</text>
<text x="1266.2" y="276.3" class="c17">-</text>
<text x="1284.9" y="276.3" class="c17">-</text>
<text x="1310.2" y="276.3" class="c17">+</text>
<text x="1329.3" y="276.3" class="c17">+</text>
<text x="1353.8" y="276.3" class="c17">-</text>
<text x="1373.5" y="276.3" class="c17">-</text>
<text x="1399.5" y="276.3" class="c17">+</text>
<text x="1418.2" y="276.3" class="c17">+</text>
<text x="1266.2" y="289.8" class="c17">-</text>
<text x="1284.9" y="289.8" class="c17">-</text>
<text x="1310.2" y="289.8" class="c17">-</text>
<text x="1329.3" y="289.8" class="c17">-</text>
<text x="1353.8" y="289.8" class="c17">+</text>
<text x="1373.5" y="289.8" class="c17">+</text>
<text x="1399.5" y="289.8" class="c17">+</text>
<text x="1418.2" y="289.8" class="c17">+</text>
<text x="1442" y="274.9" class="c20">BAPTA-AM (2.5μM)</text>
<text x="1440" y="288.8" class="c20">CDDP (20μM)</text>
<text x="1202.3" y="314.1" class="c18">H</text>
<rect x="1259.4" y="486.3" width="13.9" height="51.2" fill="#0000ff" stroke="#111" stroke-width="1"/>
<line x1="1266.3" y1="486.3" x2="1266.3" y2="477.1" stroke="#222" stroke-width="1"/>
<line x1="1262.8" y1="477.1" x2="1269.8" y2="477.1" stroke="#222" stroke-width="1"/>
<rect x="1303" y="489.9" width="14.9" height="47.6" fill="#0000ff" stroke="#111" stroke-width="1"/>
<line x1="1310.5" y1="489.9" x2="1310.5" y2="483.7" stroke="#222" stroke-width="1"/>
<line x1="1307" y1="483.7" x2="1314" y2="483.7" stroke="#222" stroke-width="1"/>
<rect x="1347.6" y="478.6" width="14.9" height="58.9" fill="#0000ff" stroke="#111" stroke-width="1"/>
<line x1="1355" y1="478.6" x2="1355" y2="466.8" stroke="#222" stroke-width="1"/>
<line x1="1351.5" y1="466.8" x2="1358.5" y2="466.8" stroke="#222" stroke-width="1"/>
<rect x="1392.2" y="482.7" width="14.6" height="54.8" fill="#0000ff" stroke="#111" stroke-width="1"/>
<line x1="1399.5" y1="482.7" x2="1399.5" y2="462.7" stroke="#222" stroke-width="1"/>
<line x1="1396" y1="462.7" x2="1403" y2="462.7" stroke="#222" stroke-width="1"/>
<rect x="1273.3" y="476" width="15.1" height="61.5" fill="#ff0000" stroke="#111" stroke-width="1"/>
<line x1="1280.8" y1="476" x2="1280.8" y2="473" stroke="#222" stroke-width="1"/>
<line x1="1277.3" y1="473" x2="1284.3" y2="473" stroke="#222" stroke-width="1"/>
<rect x="1317.9" y="489.9" width="14.7" height="47.6" fill="#ff0000" stroke="#111" stroke-width="1"/>
<line x1="1325.2" y1="489.9" x2="1325.2" y2="481.2" stroke="#222" stroke-width="1"/>
<line x1="1321.8" y1="481.2" x2="1328.8" y2="481.2" stroke="#222" stroke-width="1"/>
<rect x="1363.2" y="371" width="14.5" height="166.5" fill="#ff0000" stroke="#111" stroke-width="1"/>
<line x1="1370.5" y1="371" x2="1370.5" y2="359.8" stroke="#222" stroke-width="1"/>
<line x1="1367" y1="359.8" x2="1374" y2="359.8" stroke="#222" stroke-width="1"/>
<rect x="1406.8" y="503.2" width="14.5" height="34.3" fill="#ff0000" stroke="#111" stroke-width="1"/>
<line x1="1414" y1="503.2" x2="1414" y2="483.7" stroke="#222" stroke-width="1"/>
<line x1="1410.5" y1="483.7" x2="1417.5" y2="483.7" stroke="#222" stroke-width="1"/>
<rect x="1251.5" y="307" width="178.1" height="230.5" fill="none" stroke="#222" stroke-width="1.3"/>
<line x1="1251.5" y1="537.5" x2="1256.5" y2="537.5" stroke="#222" stroke-width="1.1"/>
<text x="1250" y="543.4" class="c12">0</text>
<line x1="1251.5" y1="486.3" x2="1256.5" y2="486.3" stroke="#222" stroke-width="1.1"/>
<text x="1250" y="492.2" class="c12">1</text>
<line x1="1251.5" y1="435.1" x2="1256.5" y2="435.1" stroke="#222" stroke-width="1.1"/>
<text x="1250" y="441" class="c12">2</text>
<line x1="1251.5" y1="383.8" x2="1256.5" y2="383.8" stroke="#222" stroke-width="1.1"/>
<text x="1250" y="389.8" class="c12">3</text>
<line x1="1251.5" y1="332.6" x2="1256.5" y2="332.6" stroke="#222" stroke-width="1.1"/>
<text x="1250" y="338.6" class="c12">4</text>
<rect x="1254.8" y="313.3" width="16" height="8.1" fill="#0000ff" stroke="#111" stroke-width="1.1" rx="1"/>
<text x="1272.5" y="322.4" class="c18">HCC827 Vector</text>
<rect x="1254.8" y="330.9" width="16" height="7.7" fill="#ff0000" stroke="#111" stroke-width="1.1" rx="1"/>
<text x="1272.5" y="339.6" class="c18">HCC827 CRTAC1</text>
<text x="1369.8" y="361.2" class="c14">*</text>
<text x="1233.4" y="555.5" class="c19" transform="rotate(-90 1233.4 555.5)">Relative STUB1 mRNA expression</text>
<text x="1264.1" y="550.3" class="c17">-</text>
<text x="1283.9" y="550.3" class="c17">-</text>
<text x="1308.1" y="550.3" class="c17">+</text>
<text x="1327.9" y="550.3" class="c17">+</text>
<text x="1352.8" y="550.3" class="c17">-</text>
<text x="1372.5" y="550.3" class="c17">-</text>
<text x="1397.4" y="550.3" class="c17">+</text>
<text x="1416.7" y="550.3" class="c17">+</text>
<text x="1264.1" y="564.8" class="c17">-</text>
<text x="1283.9" y="564.8" class="c17">-</text>
<text x="1308.1" y="564.8" class="c17">-</text>
<text x="1327.9" y="564.8" class="c17">-</text>
<text x="1352.8" y="564.8" class="c17">+</text>
<text x="1372.5" y="564.8" class="c17">+</text>
<text x="1397.4" y="564.8" class="c17">+</text>
<text x="1416.7" y="564.8" class="c17">+</text>
<text x="1442" y="549.3" class="c20">BAPTA-AM (2.5μM)</text>
<text x="1437.5" y="565.9" class="c20">CDDP (20μM)</text>
<text x="1594" y="28.7" class="c18">I</text>
<rect x="1650.2" y="193.1" width="13.9" height="65.9" fill="#0000ff" stroke="#111" stroke-width="1"/>
<line x1="1657.2" y1="193.1" x2="1657.2" y2="190.4" stroke="#222" stroke-width="1"/>
<line x1="1653.7" y1="190.4" x2="1660.7" y2="190.4" stroke="#222" stroke-width="1"/>
<rect x="1694.3" y="198.4" width="14.4" height="60.6" fill="#0000ff" stroke="#111" stroke-width="1"/>
<line x1="1701.5" y1="198.4" x2="1701.5" y2="195.7" stroke="#222" stroke-width="1"/>
<line x1="1698" y1="195.7" x2="1705" y2="195.7" stroke="#222" stroke-width="1"/>
<rect x="1738.4" y="168.7" width="15" height="90.3" fill="#0000ff" stroke="#111" stroke-width="1"/>
<line x1="1745.9" y1="168.7" x2="1745.9" y2="162.8" stroke="#222" stroke-width="1"/>
<line x1="1742.4" y1="162.8" x2="1749.4" y2="162.8" stroke="#222" stroke-width="1"/>
<rect x="1783.2" y="193.1" width="14.3" height="65.9" fill="#0000ff" stroke="#111" stroke-width="1"/>
<line x1="1790.3" y1="193.1" x2="1790.3" y2="190.4" stroke="#222" stroke-width="1"/>
<line x1="1786.8" y1="190.4" x2="1793.8" y2="190.4" stroke="#222" stroke-width="1"/>
<rect x="1664.1" y="185.2" width="15" height="73.8" fill="#ff0000" stroke="#111" stroke-width="1"/>
<line x1="1671.6" y1="185.2" x2="1671.6" y2="179.9" stroke="#222" stroke-width="1"/>
<line x1="1668.1" y1="179.9" x2="1675.1" y2="179.9" stroke="#222" stroke-width="1"/>
<rect x="1708.9" y="195.1" width="14.7" height="63.9" fill="#ff0000" stroke="#111" stroke-width="1"/>
<line x1="1716.2" y1="195.1" x2="1716.2" y2="191.8" stroke="#222" stroke-width="1"/>
<line x1="1712.8" y1="191.8" x2="1719.8" y2="191.8" stroke="#222" stroke-width="1"/>
<rect x="1753.8" y="88.9" width="14.6" height="170.1" fill="#ff0000" stroke="#111" stroke-width="1"/>
<line x1="1761.1" y1="88.9" x2="1761.1" y2="85.6" stroke="#222" stroke-width="1"/>
<line x1="1757.6" y1="85.6" x2="1764.6" y2="85.6" stroke="#222" stroke-width="1"/>
<rect x="1797.9" y="208.2" width="14.6" height="50.8" fill="#ff0000" stroke="#111" stroke-width="1"/>
<line x1="1805.2" y1="208.2" x2="1805.2" y2="202.3" stroke="#222" stroke-width="1"/>
<line x1="1801.7" y1="202.3" x2="1808.7" y2="202.3" stroke="#222" stroke-width="1"/>
<rect x="1642.6" y="28.3" width="177.5" height="230.7" fill="none" stroke="#222" stroke-width="1.3"/>
<line x1="1642.6" y1="259" x2="1647.6" y2="259" stroke="#222" stroke-width="1.1"/>
<text x="1641.1" y="264.9" class="c12">0</text>
<line x1="1642.6" y1="193.1" x2="1647.6" y2="193.1" stroke="#222" stroke-width="1.1"/>
<text x="1641.1" y="199" class="c12">1</text>
<line x1="1642.6" y1="127.2" x2="1647.6" y2="127.2" stroke="#222" stroke-width="1.1"/>
<text x="1641.1" y="133.1" class="c12">2</text>
<line x1="1642.6" y1="61.3" x2="1647.6" y2="61.3" stroke="#222" stroke-width="1.1"/>
<text x="1641.1" y="67.2" class="c12">3</text>
<rect x="1645.7" y="34.9" width="15.8" height="7.8" fill="#0000ff" stroke="#111" stroke-width="1.1" rx="1"/>
<text x="1663.5" y="44.1" class="c18">H1299 Vector</text>
<rect x="1645.7" y="51.3" width="15.8" height="8.2" fill="#ff0000" stroke="#111" stroke-width="1.1" rx="1"/>
<text x="1663.5" y="60.1" class="c18">H1299 CRTAC1</text>
<text x="1760" y="86" class="c14">*</text>
<text x="1626.2" y="275" class="c19" transform="rotate(-90 1626.2 275)">Relative  promoter  activity of  STUB1</text>
<text x="1655.3" y="271.5" class="c17">-</text>
<text x="1674.4" y="271.5" class="c17">-</text>
<text x="1700" y="271.5" class="c17">+</text>
<text x="1718.5" y="271.5" class="c17">+</text>
<text x="1743.6" y="271.5" class="c17">-</text>
<text x="1763.3" y="271.5" class="c17">-</text>
<text x="1788.9" y="271.5" class="c17">+</text>
<text x="1807.4" y="271.5" class="c17">+</text>
<text x="1655.3" y="284.2" class="c17">-</text>
<text x="1674.4" y="284.2" class="c17">-</text>
<text x="1700" y="284.2" class="c17">-</text>
<text x="1718.5" y="284.2" class="c17">-</text>
<text x="1743.6" y="284.2" class="c17">+</text>
<text x="1763.3" y="284.2" class="c17">+</text>
<text x="1788.9" y="284.2" class="c17">+</text>
<text x="1807.4" y="284.2" class="c17">+</text>
<text x="1828.3" y="270.9" class="c20">BAPTA-AM (2.5μM)</text>
<text x="1828.3" y="286.3" class="c20">CDDP (20μM)</text>
<text x="1592.7" y="299.4" class="c18">J</text>
<rect x="1649.4" y="466.3" width="14.7" height="66" fill="#0000ff" stroke="#111" stroke-width="1"/>
<line x1="1656.8" y1="466.3" x2="1656.8" y2="458.4" stroke="#222" stroke-width="1"/>
<line x1="1653.2" y1="458.4" x2="1660.2" y2="458.4" stroke="#222" stroke-width="1"/>
<rect x="1692.9" y="460.4" width="15.4" height="71.9" fill="#0000ff" stroke="#111" stroke-width="1"/>
<line x1="1700.6" y1="460.4" x2="1700.6" y2="456.4" stroke="#222" stroke-width="1"/>
<line x1="1697.1" y1="456.4" x2="1704.1" y2="456.4" stroke="#222" stroke-width="1"/>
<rect x="1737" y="450.5" width="15" height="81.8" fill="#0000ff" stroke="#111" stroke-width="1"/>
<line x1="1741" y1="449.7" x2="1748" y2="449.7" stroke="#333" stroke-width="0.9"/>
<rect x="1781.1" y="509.9" width="14.8" height="22.4" fill="#0000ff" stroke="#111" stroke-width="1"/>
<line x1="1788.5" y1="509.9" x2="1788.5" y2="507.9" stroke="#222" stroke-width="1"/>
<line x1="1785" y1="507.9" x2="1792" y2="507.9" stroke="#222" stroke-width="1"/>
<rect x="1664.1" y="458.4" width="14.4" height="73.9" fill="#ff0000" stroke="#111" stroke-width="1"/>
<line x1="1671.3" y1="458.4" x2="1671.3" y2="454.5" stroke="#222" stroke-width="1"/>
<line x1="1667.8" y1="454.5" x2="1674.8" y2="454.5" stroke="#222" stroke-width="1"/>
<rect x="1708.3" y="454.5" width="14.7" height="77.8" fill="#ff0000" stroke="#111" stroke-width="1"/>
<line x1="1715.7" y1="454.5" x2="1715.7" y2="453.8" stroke="#222" stroke-width="1"/>
<line x1="1712.2" y1="453.8" x2="1719.2" y2="453.8" stroke="#222" stroke-width="1"/>
<rect x="1752" y="360.8" width="14.7" height="171.5" fill="#ff0000" stroke="#111" stroke-width="1"/>
<line x1="1759.3" y1="360.8" x2="1759.3" y2="348.9" stroke="#222" stroke-width="1"/>
<line x1="1755.8" y1="348.9" x2="1762.8" y2="348.9" stroke="#222" stroke-width="1"/>
<rect x="1795.9" y="508.6" width="15" height="23.7" fill="#ff0000" stroke="#111" stroke-width="1"/>
<line x1="1803.4" y1="508.6" x2="1803.4" y2="507.9" stroke="#222" stroke-width="1"/>
<line x1="1799.9" y1="507.9" x2="1806.9" y2="507.9" stroke="#222" stroke-width="1"/>
<rect x="1642.6" y="301.4" width="175.9" height="230.9" fill="none" stroke="#222" stroke-width="1.3"/>
<line x1="1642.6" y1="532.3" x2="1647.6" y2="532.3" stroke="#222" stroke-width="1.1"/>
<text x="1641.1" y="538.2" class="c12">0</text>
<line x1="1642.6" y1="466.3" x2="1647.6" y2="466.3" stroke="#222" stroke-width="1.1"/>
<text x="1641.1" y="472.3" class="c12">1</text>
<line x1="1642.6" y1="400.4" x2="1647.6" y2="400.4" stroke="#222" stroke-width="1.1"/>
<text x="1641.1" y="406.3" class="c12">2</text>
<line x1="1642.6" y1="334.4" x2="1647.6" y2="334.4" stroke="#222" stroke-width="1.1"/>
<text x="1641.1" y="340.3" class="c12">3</text>
<rect x="1646" y="308" width="18.1" height="8.2" fill="#0000ff" stroke="#111" stroke-width="1.1" rx="1"/>
<text x="1668.2" y="316.8" class="c18">HCC827 Vector</text>
<rect x="1646" y="324.4" width="18.1" height="8.2" fill="#ff0000" stroke="#111" stroke-width="1.1" rx="1"/>
<text x="1668.2" y="332.2" class="c18">HCC827 CRTAC1</text>
<text x="1757.9" y="350.5" class="c14">*</text>
<text x="1626.2" y="553.8" class="c19" transform="rotate(-90 1626.2 553.8)">Relative  promoter  activity of  STUB1</text>
<text x="1654.3" y="545.1" class="c17">-</text>
<text x="1673.4" y="545.1" class="c17">-</text>
<text x="1698" y="545.1" class="c17">+</text>
<text x="1717.1" y="545.1" class="c17">+</text>
<text x="1742.7" y="545.1" class="c17">-</text>
<text x="1762.6" y="545.1" class="c17">-</text>
<text x="1787.3" y="545.1" class="c17">+</text>
<text x="1806.4" y="545.1" class="c17">+</text>
<text x="1654.3" y="556.9" class="c17">-</text>
<text x="1673.4" y="556.9" class="c17">-</text>
<text x="1698" y="556.9" class="c17">-</text>
<text x="1717.1" y="556.9" class="c17">-</text>
<text x="1742.7" y="556.9" class="c17">+</text>
<text x="1762.6" y="556.9" class="c17">+</text>
<text x="1787.3" y="556.9" class="c17">+</text>
<text x="1806.4" y="556.9" class="c17">+</text>
<text x="1825.2" y="543.6" class="c20">BAPTA-AM (2.5μM)</text>
<text x="1823.2" y="559" class="c20">CDDP (20μM)</text>
<text x="609.8" y="620.8" class="c21">L</text>
<rect x="655.5" y="851.7" width="13.5" height="4.8" fill="#0000ff" stroke="#111" stroke-width="1"/>
<line x1="662.2" y1="851.7" x2="662.2" y2="850.8" stroke="#222" stroke-width="1"/>
<line x1="658.8" y1="850.8" x2="665.8" y2="850.8" stroke="#222" stroke-width="1"/>
<rect x="698.1" y="853.5" width="13.9" height="3" fill="#0000ff" stroke="#111" stroke-width="1"/>
<line x1="705" y1="853.5" x2="705" y2="853.2" stroke="#222" stroke-width="1"/>
<line x1="701.5" y1="853.2" x2="708.5" y2="853.2" stroke="#222" stroke-width="1"/>
<rect x="740.2" y="791.2" width="14.9" height="65.3" fill="#0000ff" stroke="#111" stroke-width="1"/>
<line x1="747.7" y1="791.2" x2="747.7" y2="787.7" stroke="#222" stroke-width="1"/>
<line x1="744.2" y1="787.7" x2="751.2" y2="787.7" stroke="#222" stroke-width="1"/>
<rect x="783" y="804.2" width="14.9" height="52.3" fill="#0000ff" stroke="#111" stroke-width="1"/>
<line x1="790.5" y1="804.2" x2="790.5" y2="802.5" stroke="#222" stroke-width="1"/>
<line x1="787" y1="802.5" x2="794" y2="802.5" stroke="#222" stroke-width="1"/>
<rect x="669.4" y="847.4" width="14.2" height="9.1" fill="#ff0000" stroke="#111" stroke-width="1"/>
<line x1="676.5" y1="847.4" x2="676.5" y2="846.9" stroke="#222" stroke-width="1"/>
<line x1="673" y1="846.9" x2="680" y2="846.9" stroke="#222" stroke-width="1"/>
<rect x="712.4" y="853.2" width="14.1" height="3.3" fill="#ff0000" stroke="#111" stroke-width="1"/>
<line x1="719.5" y1="853.2" x2="719.5" y2="853" stroke="#222" stroke-width="1"/>
<line x1="716" y1="853" x2="723" y2="853" stroke="#222" stroke-width="1"/>
<rect x="755.7" y="691" width="13.8" height="165.5" fill="#ff0000" stroke="#111" stroke-width="1"/>
<line x1="762.6" y1="691" x2="762.6" y2="687.5" stroke="#222" stroke-width="1"/>
<line x1="759.1" y1="687.5" x2="766.1" y2="687.5" stroke="#222" stroke-width="1"/>
<rect x="798.3" y="758.9" width="13.9" height="97.6" fill="#ff0000" stroke="#111" stroke-width="1"/>
<line x1="805.2" y1="758.9" x2="805.2" y2="752.8" stroke="#222" stroke-width="1"/>
<line x1="801.8" y1="752.8" x2="808.8" y2="752.8" stroke="#222" stroke-width="1"/>
<rect x="647.1" y="638.7" width="172.4" height="217.8" fill="none" stroke="#222" stroke-width="1.3"/>
<line x1="647.1" y1="856.5" x2="652.1" y2="856.5" stroke="#222" stroke-width="1.1"/>
<text x="645.6" y="862.4" class="c12">0</text>
<line x1="647.1" y1="812.9" x2="652.1" y2="812.9" stroke="#222" stroke-width="1.1"/>
<text x="645.6" y="818.9" class="c12">10</text>
<line x1="647.1" y1="769.4" x2="652.1" y2="769.4" stroke="#222" stroke-width="1.1"/>
<text x="645.6" y="775.3" class="c12">20</text>
<line x1="647.1" y1="725.8" x2="652.1" y2="725.8" stroke="#222" stroke-width="1.1"/>
<text x="645.6" y="731.8" class="c12">30</text>
<line x1="647.1" y1="682.3" x2="652.1" y2="682.3" stroke="#222" stroke-width="1.1"/>
<text x="645.6" y="688.2" class="c12">40</text>
<line x1="647.1" y1="638.7" x2="652.1" y2="638.7" stroke="#222" stroke-width="1.1"/>
<text x="645.6" y="644.6" class="c12">50</text>
<rect x="650.5" y="645.6" width="15.3" height="7" fill="#0000ff" stroke="#111" stroke-width="1.1" rx="1"/>
<text x="669" y="655.2" class="c13">H1299 Vector</text>
<rect x="650.5" y="660.1" width="15.3" height="6.9" fill="#ff0000" stroke="#111" stroke-width="1.1" rx="1"/>
<text x="669" y="669.4" class="c13">H1299 CRTAC1</text>
<text x="780" y="673.5" class="c14">*</text>
<path d="M759.6 684.3V672.8H803.7V747.8" fill="none" stroke="#333" stroke-width="1"/>
<text x="621.3" y="817.2" class="c22" transform="rotate(-90 621.3 817.2)">Cell Apoptosis (%)</text>
<text x="657.5" y="871.5" class="c17">-</text>
<text x="676.7" y="871.5" class="c17">-</text>
<text x="701.5" y="871.5" class="c17">+</text>
<text x="720.5" y="871.5" class="c17">+</text>
<text x="746.1" y="871.5" class="c17">-</text>
<text x="764.6" y="871.5" class="c17">-</text>
<text x="790.8" y="871.5" class="c17">+</text>
<text x="809.2" y="871.5" class="c17">+</text>
<text x="657.5" y="884.8" class="c17">-</text>
<text x="676.7" y="884.8" class="c17">-</text>
<text x="701.5" y="884.8" class="c17">-</text>
<text x="720.5" y="884.8" class="c17">-</text>
<text x="746.1" y="884.8" class="c17">+</text>
<text x="764.6" y="884.8" class="c17">+</text>
<text x="790.8" y="884.8" class="c17">+</text>
<text x="809.2" y="884.8" class="c17">+</text>
<text x="825.1" y="866.8" class="c2">BAPTA-AM (2.5μM)</text>
<text x="824.5" y="883.3" class="c2">CDDP (20μM)</text>
<text x="607.5" y="910.8" class="c21">N</text>
<rect x="651.5" y="1138.5" width="13.9" height="0.4" fill="#0000ff" stroke="#111" stroke-width="1"/>
<rect x="735.8" y="1054.7" width="14.9" height="84.2" fill="#0000ff" stroke="#111" stroke-width="1"/>
<line x1="743.2" y1="1054.7" x2="743.2" y2="1050" stroke="#222" stroke-width="1"/>
<line x1="739.8" y1="1050" x2="746.8" y2="1050" stroke="#222" stroke-width="1"/>
<rect x="778.5" y="1065.2" width="14.9" height="73.7" fill="#0000ff" stroke="#111" stroke-width="1"/>
<line x1="786" y1="1065.2" x2="786" y2="1063" stroke="#222" stroke-width="1"/>
<line x1="782.5" y1="1063" x2="789.5" y2="1063" stroke="#222" stroke-width="1"/>
<rect x="665.4" y="1138.4" width="13.9" height="0.5" fill="#ff0000" stroke="#111" stroke-width="1"/>
<rect x="708.4" y="1138.5" width="13.9" height="0.4" fill="#ff0000" stroke="#111" stroke-width="1"/>
<rect x="750.7" y="987.8" width="13.9" height="151.1" fill="#ff0000" stroke="#111" stroke-width="1"/>
<line x1="757.7" y1="987.8" x2="757.7" y2="986.7" stroke="#222" stroke-width="1"/>
<line x1="754.2" y1="986.7" x2="761.2" y2="986.7" stroke="#222" stroke-width="1"/>
<rect x="793.8" y="1051.8" width="13.8" height="87.1" fill="#ff0000" stroke="#111" stroke-width="1"/>
<line x1="800.7" y1="1051.8" x2="800.7" y2="1050.3" stroke="#222" stroke-width="1"/>
<line x1="797.2" y1="1050.3" x2="804.2" y2="1050.3" stroke="#222" stroke-width="1"/>
<rect x="643.6" y="922" width="171.2" height="216.9" fill="none" stroke="#222" stroke-width="1.3"/>
<line x1="643.6" y1="1138.9" x2="648.6" y2="1138.9" stroke="#222" stroke-width="1.1"/>
<text x="642.1" y="1144.8" class="c12">0</text>
<line x1="643.6" y1="1066.6" x2="648.6" y2="1066.6" stroke="#222" stroke-width="1.1"/>
<text x="642.1" y="1072.5" class="c12">20</text>
<line x1="643.6" y1="994.3" x2="648.6" y2="994.3" stroke="#222" stroke-width="1.1"/>
<text x="642.1" y="1000.2" class="c12">40</text>
<line x1="643.6" y1="922" x2="648.6" y2="922" stroke="#222" stroke-width="1.1"/>
<text x="642.1" y="927.9" class="c12">60</text>
<rect x="646.5" y="929.2" width="14.9" height="6.4" fill="#0000ff" stroke="#111" stroke-width="1.1" rx="1"/>
<text x="665.4" y="937.5" class="c13">HCC827 Vector</text>
<rect x="646.5" y="942.5" width="14.9" height="6.5" fill="#ff0000" stroke="#111" stroke-width="1.1" rx="1"/>
<text x="665.4" y="952.4" class="c13">HCC827 CRTAC1</text>
<text x="777.5" y="971.3" class="c14">*</text>
<path d="M756.7 982.2V970.7H800.7V1045.7" fill="none" stroke="#333" stroke-width="1"/>
<text x="619.8" y="1090.3" class="c22" transform="rotate(-90 619.8 1090.3)">Cell Apoptosis (%)</text>
<text x="653.9" y="1153.9" class="c17">-</text>
<text x="673.7" y="1153.9" class="c17">-</text>
<text x="703.1" y="1153.9" class="c17">+</text>
<text x="721.9" y="1153.9" class="c17">+</text>
<text x="746.7" y="1153.9" class="c17">-</text>
<text x="766.2" y="1153.9" class="c17">-</text>
<text x="796.3" y="1153.9" class="c17">+</text>
<text x="814.8" y="1153.9" class="c17">+</text>
<text x="653.9" y="1166.8" class="c17">-</text>
<text x="673.7" y="1166.8" class="c17">-</text>
<text x="701.5" y="1166.8" class="c17">-</text>
<text x="720.5" y="1166.8" class="c17">-</text>
<text x="750.6" y="1166.8" class="c17">+</text>
<text x="769.5" y="1166.8" class="c17">+</text>
<text x="796.3" y="1166.8" class="c17">+</text>
<text x="814.8" y="1166.8" class="c17">+</text>
<text x="826.5" y="1150.8" class="c2">BAPTA-AM (2.5μM)</text>
<text x="820.7" y="1165.7" class="c2">CDDP (20μM)</text>
<text x="608" y="1190" class="c21">T</text>
<rect x="645.5" y="1407" width="14" height="12.2" fill="#0000ff" stroke="#111" stroke-width="1"/>
<line x1="652.5" y1="1407" x2="652.5" y2="1406" stroke="#222" stroke-width="1"/>
<line x1="649" y1="1406" x2="656" y2="1406" stroke="#222" stroke-width="1"/>
<rect x="688.2" y="1408.8" width="14.2" height="10.4" fill="#0000ff" stroke="#111" stroke-width="1"/>
<line x1="695.3" y1="1408.8" x2="695.3" y2="1408.6" stroke="#222" stroke-width="1"/>
<line x1="691.8" y1="1408.6" x2="698.8" y2="1408.6" stroke="#222" stroke-width="1"/>
<rect x="730.4" y="1325.4" width="15" height="93.8" fill="#0000ff" stroke="#111" stroke-width="1"/>
<line x1="737.9" y1="1325.4" x2="737.9" y2="1325.2" stroke="#222" stroke-width="1"/>
<line x1="734.4" y1="1325.2" x2="741.4" y2="1325.2" stroke="#222" stroke-width="1"/>
<rect x="773.7" y="1334.5" width="14.6" height="84.7" fill="#0000ff" stroke="#111" stroke-width="1"/>
<line x1="781" y1="1334.5" x2="781" y2="1332.8" stroke="#222" stroke-width="1"/>
<line x1="777.5" y1="1332.8" x2="784.5" y2="1332.8" stroke="#222" stroke-width="1"/>
<rect x="659.5" y="1399.2" width="14" height="20" fill="#ff0000" stroke="#111" stroke-width="1"/>
<line x1="666.5" y1="1399.2" x2="666.5" y2="1398.8" stroke="#222" stroke-width="1"/>
<line x1="663" y1="1398.8" x2="670" y2="1398.8" stroke="#222" stroke-width="1"/>
<rect x="702.8" y="1412.2" width="13.6" height="7" fill="#ff0000" stroke="#111" stroke-width="1"/>
<line x1="709.6" y1="1412.2" x2="709.6" y2="1412" stroke="#222" stroke-width="1"/>
<line x1="706.1" y1="1412" x2="713.1" y2="1412" stroke="#222" stroke-width="1"/>
<rect x="745.8" y="1257.6" width="13.5" height="161.6" fill="#ff0000" stroke="#111" stroke-width="1"/>
<line x1="752.5" y1="1257.6" x2="752.5" y2="1250.2" stroke="#222" stroke-width="1"/>
<line x1="749" y1="1250.2" x2="756" y2="1250.2" stroke="#222" stroke-width="1"/>
<rect x="788.7" y="1333.2" width="13.6" height="86" fill="#ff0000" stroke="#111" stroke-width="1"/>
<line x1="795.5" y1="1333.2" x2="795.5" y2="1331.5" stroke="#222" stroke-width="1"/>
<line x1="792" y1="1331.5" x2="799" y2="1331.5" stroke="#222" stroke-width="1"/>
<rect x="637.9" y="1202" width="171.7" height="217.2" fill="none" stroke="#222" stroke-width="1.3"/>
<line x1="637.9" y1="1419.2" x2="642.9" y2="1419.2" stroke="#222" stroke-width="1.1"/>
<text x="636.4" y="1425.1" class="c12">0</text>
<line x1="637.9" y1="1375.8" x2="642.9" y2="1375.8" stroke="#222" stroke-width="1.1"/>
<text x="636.4" y="1381.7" class="c12">10</text>
<line x1="637.9" y1="1332.3" x2="642.9" y2="1332.3" stroke="#222" stroke-width="1.1"/>
<text x="636.4" y="1338.3" class="c12">20</text>
<line x1="637.9" y1="1288.9" x2="642.9" y2="1288.9" stroke="#222" stroke-width="1.1"/>
<text x="636.4" y="1294.8" class="c12">30</text>
<line x1="637.9" y1="1245.4" x2="642.9" y2="1245.4" stroke="#222" stroke-width="1.1"/>
<text x="636.4" y="1251.4" class="c12">40</text>
<line x1="637.9" y1="1202" x2="642.9" y2="1202" stroke="#222" stroke-width="1.1"/>
<text x="636.4" y="1207.9" class="c12">50</text>
<rect x="640.9" y="1207.5" width="15" height="6.8" fill="#0000ff" stroke="#111" stroke-width="1.1" rx="1"/>
<text x="659.5" y="1214.9" class="c13">H1299 Vector</text>
<rect x="640.9" y="1221.5" width="15" height="6.4" fill="#ff0000" stroke="#111" stroke-width="1.1" rx="1"/>
<text x="659.5" y="1229.5" class="c13">H1299 CRTAC1</text>
<text x="771.7" y="1241.9" class="c14">*</text>
<path d="M753.3 1246.9V1240.9H796.3V1327.7" fill="none" stroke="#333" stroke-width="1"/>
<text x="616" y="1390.6" class="c22" transform="rotate(-90 616 1390.6)">Cell Apoptosis (%)</text>
<text x="648.5" y="1434.3" class="c17">-</text>
<text x="667.9" y="1434.3" class="c17">-</text>
<text x="692.8" y="1434.3" class="c17">+</text>
<text x="712.2" y="1434.3" class="c17">+</text>
<text x="737.2" y="1434.3" class="c17">-</text>
<text x="752.1" y="1434.3" class="c17">-</text>
<text x="777.1" y="1434.3" class="c17">+</text>
<text x="796.3" y="1434.3" class="c17">+</text>
<text x="648.5" y="1447.1" class="c17">-</text>
<text x="667.9" y="1447.1" class="c17">-</text>
<text x="691.4" y="1447.1" class="c17">-</text>
<text x="709.8" y="1447.1" class="c17">-</text>
<text x="731.4" y="1447.1" class="c17">+</text>
<text x="749.7" y="1447.1" class="c17">+</text>
<text x="777.1" y="1447.1" class="c17">+</text>
<text x="796.3" y="1447.1" class="c17">+</text>
<text x="807.3" y="1433.6" class="c23">Dantrolene (25μM)</text>
<text x="815.6" y="1447.6" class="c23">CDDP (20μM)</text>
<text x="1584.4" y="617" class="c21">P</text>
<rect x="1641.4" y="810.3" width="14" height="27.1" fill="#0000ff" stroke="#111" stroke-width="1"/>
<line x1="1648.4" y1="810.3" x2="1648.4" y2="808.9" stroke="#222" stroke-width="1"/>
<line x1="1644.9" y1="808.9" x2="1651.9" y2="808.9" stroke="#222" stroke-width="1"/>
<rect x="1684" y="815.7" width="14.4" height="21.7" fill="#0000ff" stroke="#111" stroke-width="1"/>
<line x1="1691.2" y1="815.7" x2="1691.2" y2="814.6" stroke="#222" stroke-width="1"/>
<line x1="1687.7" y1="814.6" x2="1694.7" y2="814.6" stroke="#222" stroke-width="1"/>
<rect x="1726.4" y="766.9" width="15" height="70.5" fill="#0000ff" stroke="#111" stroke-width="1"/>
<line x1="1733.9" y1="766.9" x2="1733.9" y2="765.8" stroke="#222" stroke-width="1"/>
<line x1="1730.4" y1="765.8" x2="1737.4" y2="765.8" stroke="#222" stroke-width="1"/>
<rect x="1769.4" y="793.5" width="14.6" height="43.9" fill="#0000ff" stroke="#111" stroke-width="1"/>
<line x1="1776.7" y1="793.5" x2="1776.7" y2="791.6" stroke="#222" stroke-width="1"/>
<line x1="1773.2" y1="791.6" x2="1780.2" y2="791.6" stroke="#222" stroke-width="1"/>
<rect x="1655.4" y="814.9" width="14.2" height="22.5" fill="#ff0000" stroke="#111" stroke-width="1"/>
<line x1="1662.5" y1="814.9" x2="1662.5" y2="814.1" stroke="#222" stroke-width="1"/>
<line x1="1659" y1="814.1" x2="1666" y2="814.1" stroke="#222" stroke-width="1"/>
<rect x="1698.4" y="816.5" width="14" height="20.9" fill="#ff0000" stroke="#111" stroke-width="1"/>
<line x1="1705.4" y1="816.5" x2="1705.4" y2="816.2" stroke="#222" stroke-width="1"/>
<line x1="1701.9" y1="816.2" x2="1708.9" y2="816.2" stroke="#222" stroke-width="1"/>
<rect x="1741.6" y="670" width="14" height="167.4" fill="#ff0000" stroke="#111" stroke-width="1"/>
<line x1="1748.6" y1="670" x2="1748.6" y2="667.3" stroke="#222" stroke-width="1"/>
<line x1="1745.1" y1="667.3" x2="1752.1" y2="667.3" stroke="#222" stroke-width="1"/>
<rect x="1784.4" y="775.8" width="14" height="61.6" fill="#ff0000" stroke="#111" stroke-width="1"/>
<line x1="1791.4" y1="775.8" x2="1791.4" y2="772.3" stroke="#222" stroke-width="1"/>
<line x1="1787.9" y1="772.3" x2="1794.9" y2="772.3" stroke="#222" stroke-width="1"/>
<rect x="1634" y="620.4" width="171.6" height="217" fill="none" stroke="#222" stroke-width="1.3"/>
<line x1="1634" y1="837.4" x2="1639" y2="837.4" stroke="#222" stroke-width="1.1"/>
<text x="1632.5" y="843.3" class="c12">0</text>
<line x1="1634" y1="783.1" x2="1639" y2="783.1" stroke="#222" stroke-width="1.1"/>
<text x="1632.5" y="789.1" class="c12">2</text>
<line x1="1634" y1="728.9" x2="1639" y2="728.9" stroke="#222" stroke-width="1.1"/>
<text x="1632.5" y="734.8" class="c12">4</text>
<line x1="1634" y1="674.6" x2="1639" y2="674.6" stroke="#222" stroke-width="1.1"/>
<text x="1632.5" y="680.6" class="c12">6</text>
<line x1="1634" y1="620.4" x2="1639" y2="620.4" stroke="#222" stroke-width="1.1"/>
<text x="1632.5" y="626.3" class="c12">8</text>
<rect x="1637" y="627" width="15" height="7" fill="#0000ff" stroke="#111" stroke-width="1.1" rx="1"/>
<text x="1654.5" y="635" class="c13">H1299 Vector</text>
<rect x="1637" y="640.6" width="15" height="6.8" fill="#ff0000" stroke="#111" stroke-width="1.1" rx="1"/>
<text x="1654.5" y="649" class="c13">H1299 CRTAC1</text>
<text x="1769" y="654" class="c14">*</text>
<path d="M1748 662V654.4H1791.4V764" fill="none" stroke="#333" stroke-width="1"/>
<text x="1613" y="839" class="c15" transform="rotate(-90 1613 839)">Relative</text>
<text x="1613" y="770.5" class="c15" transform="rotate(-90 1613 770.5)">Ca</text>
<text x="1606.5" y="748.5" class="c16" transform="rotate(-90 1606.5 748.5)">2+</text>
<text x="1613" y="727.6" class="c15" transform="rotate(-90 1613 727.6)">Fluorescence</text>
<text x="1647.4" y="853.1" class="c17">-</text>
<text x="1666.4" y="853.1" class="c17">-</text>
<text x="1691.6" y="853.1" class="c17">+</text>
<text x="1705.6" y="853.1" class="c17">+</text>
<text x="1731.4" y="853.1" class="c17">-</text>
<text x="1750.4" y="853.1" class="c17">-</text>
<text x="1775.6" y="853.1" class="c17">+</text>
<text x="1789.6" y="853.1" class="c17">+</text>
<text x="1646.6" y="866.1" class="c17">-</text>
<text x="1665.6" y="866.1" class="c17">-</text>
<text x="1688.6" y="866.1" class="c17">-</text>
<text x="1707.4" y="866.1" class="c17">-</text>
<text x="1729" y="866.1" class="c17">+</text>
<text x="1748" y="866.1" class="c17">+</text>
<text x="1774.4" y="866.1" class="c17">+</text>
<text x="1789" y="866.1" class="c17">+</text>
<text x="1805.6" y="850.6" class="c23">Dantrolene (25μM)</text>
<text x="1807" y="864" class="c23">CDDP (20μM)</text>
<text x="1587.6" y="904" class="c21">R</text>
<rect x="1642.4" y="1092.6" width="14" height="20.8" fill="#0000ff" stroke="#111" stroke-width="1"/>
<line x1="1649.4" y1="1092.6" x2="1649.4" y2="1090.6" stroke="#222" stroke-width="1"/>
<line x1="1645.9" y1="1090.6" x2="1652.9" y2="1090.6" stroke="#222" stroke-width="1"/>
<rect x="1684.4" y="1097.1" width="14" height="16.3" fill="#0000ff" stroke="#111" stroke-width="1"/>
<line x1="1691.4" y1="1097.1" x2="1691.4" y2="1096.5" stroke="#222" stroke-width="1"/>
<line x1="1687.9" y1="1096.5" x2="1694.9" y2="1096.5" stroke="#222" stroke-width="1"/>
<rect x="1727.4" y="1027.1" width="14" height="86.3" fill="#0000ff" stroke="#111" stroke-width="1"/>
<line x1="1734.4" y1="1027.1" x2="1734.4" y2="1024.5" stroke="#222" stroke-width="1"/>
<line x1="1730.9" y1="1024.5" x2="1737.9" y2="1024.5" stroke="#222" stroke-width="1"/>
<rect x="1770.4" y="1048.8" width="14" height="64.6" fill="#0000ff" stroke="#111" stroke-width="1"/>
<line x1="1777.4" y1="1048.8" x2="1777.4" y2="1041.9" stroke="#222" stroke-width="1"/>
<line x1="1773.9" y1="1041.9" x2="1780.9" y2="1041.9" stroke="#222" stroke-width="1"/>
<rect x="1656.4" y="1093.2" width="14" height="20.2" fill="#ff0000" stroke="#111" stroke-width="1"/>
<line x1="1663.4" y1="1093.2" x2="1663.4" y2="1091.1" stroke="#222" stroke-width="1"/>
<line x1="1659.9" y1="1091.1" x2="1666.9" y2="1091.1" stroke="#222" stroke-width="1"/>
<rect x="1698.4" y="1099.7" width="14.6" height="13.7" fill="#ff0000" stroke="#111" stroke-width="1"/>
<line x1="1705.7" y1="1099.7" x2="1705.7" y2="1099.5" stroke="#222" stroke-width="1"/>
<line x1="1702.2" y1="1099.5" x2="1709.2" y2="1099.5" stroke="#222" stroke-width="1"/>
<rect x="1741.6" y="953.4" width="13.8" height="160" fill="#ff0000" stroke="#111" stroke-width="1"/>
<line x1="1748.5" y1="953.4" x2="1748.5" y2="949.3" stroke="#222" stroke-width="1"/>
<line x1="1745" y1="949.3" x2="1752" y2="949.3" stroke="#222" stroke-width="1"/>
<rect x="1784.4" y="1045.5" width="14" height="67.9" fill="#ff0000" stroke="#111" stroke-width="1"/>
<line x1="1791.4" y1="1045.5" x2="1791.4" y2="1040.8" stroke="#222" stroke-width="1"/>
<line x1="1787.9" y1="1040.8" x2="1794.9" y2="1040.8" stroke="#222" stroke-width="1"/>
<rect x="1634.4" y="896.6" width="171.2" height="216.8" fill="none" stroke="#222" stroke-width="1.3"/>
<line x1="1634.4" y1="1113.4" x2="1639.4" y2="1113.4" stroke="#222" stroke-width="1.1"/>
<text x="1632.9" y="1119.3" class="c12">0</text>
<line x1="1634.4" y1="1070" x2="1639.4" y2="1070" stroke="#222" stroke-width="1.1"/>
<text x="1632.9" y="1076" class="c12">2</text>
<line x1="1634.4" y1="1026.7" x2="1639.4" y2="1026.7" stroke="#222" stroke-width="1.1"/>
<text x="1632.9" y="1032.6" class="c12">4</text>
<line x1="1634.4" y1="983.3" x2="1639.4" y2="983.3" stroke="#222" stroke-width="1.1"/>
<text x="1632.9" y="989.3" class="c12">6</text>
<line x1="1634.4" y1="940" x2="1639.4" y2="940" stroke="#222" stroke-width="1.1"/>
<text x="1632.9" y="945.9" class="c12">8</text>
<line x1="1634.4" y1="896.6" x2="1639.4" y2="896.6" stroke="#222" stroke-width="1.1"/>
<text x="1632.9" y="902.5" class="c12">10</text>
<rect x="1638" y="903.6" width="14.4" height="6.8" fill="#0000ff" stroke="#111" stroke-width="1.1" rx="1"/>
<text x="1654" y="909.6" class="c13">HCC827 Vector</text>
<rect x="1638" y="917" width="14.4" height="6.6" fill="#ff0000" stroke="#111" stroke-width="1.1" rx="1"/>
<text x="1654" y="923.6" class="c13">HCC827 CRTAC1</text>
<text x="1770" y="940.4" class="c14">*</text>
<path d="M1749 948V940.4H1792.4V1039" fill="none" stroke="#333" stroke-width="1"/>
<text x="1613" y="1102" class="c15" transform="rotate(-90 1613 1102)">Relative</text>
<text x="1613" y="1033.5" class="c15" transform="rotate(-90 1613 1033.5)">Ca</text>
<text x="1606.5" y="1011.5" class="c16" transform="rotate(-90 1606.5 1011.5)">2+</text>
<text x="1613" y="990.6" class="c15" transform="rotate(-90 1613 990.6)">Fluorescence</text>
<text x="1643" y="1127.1" class="c17">-</text>
<text x="1662" y="1127.1" class="c17">-</text>
<text x="1687" y="1127.1" class="c17">+</text>
<text x="1706" y="1127.1" class="c17">+</text>
<text x="1731.4" y="1127.1" class="c17">-</text>
<text x="1750.4" y="1127.1" class="c17">-</text>
<text x="1776.6" y="1127.1" class="c17">+</text>
<text x="1795" y="1127.1" class="c17">+</text>
<text x="1643" y="1141.1" class="c17">-</text>
<text x="1662" y="1141.1" class="c17">-</text>
<text x="1687" y="1141.1" class="c17">-</text>
<text x="1706" y="1141.1" class="c17">-</text>
<text x="1731.4" y="1141.1" class="c17">+</text>
<text x="1750.4" y="1141.1" class="c17">+</text>
<text x="1776.6" y="1141.1" class="c17">+</text>
<text x="1795" y="1141.1" class="c17">+</text>
<text x="1811" y="1125.6" class="c23">Dantrolene (25μM )</text>
<text x="1811.6" y="1141" class="c23">CDDP (20μM)</text>
<text x="1601.7" y="1169.3" class="c21">V</text>
<rect x="1638.5" y="1394.3" width="11.1" height="3.9" fill="#0000ff" stroke="#111" stroke-width="1"/>
<line x1="1644" y1="1394.3" x2="1644" y2="1393.9" stroke="#222" stroke-width="1"/>
<line x1="1640.5" y1="1393.9" x2="1647.5" y2="1393.9" stroke="#222" stroke-width="1"/>
<rect x="1682.3" y="1394.3" width="11.3" height="3.9" fill="#0000ff" stroke="#111" stroke-width="1"/>
<line x1="1687.9" y1="1394.3" x2="1687.9" y2="1393.9" stroke="#222" stroke-width="1"/>
<line x1="1684.4" y1="1393.9" x2="1691.4" y2="1393.9" stroke="#222" stroke-width="1"/>
<rect x="1726.3" y="1297.6" width="11.7" height="100.6" fill="#0000ff" stroke="#111" stroke-width="1"/>
<line x1="1732.2" y1="1297.6" x2="1732.2" y2="1292.5" stroke="#222" stroke-width="1"/>
<line x1="1728.7" y1="1292.5" x2="1735.7" y2="1292.5" stroke="#222" stroke-width="1"/>
<rect x="1770.5" y="1307.9" width="11.3" height="90.3" fill="#0000ff" stroke="#111" stroke-width="1"/>
<line x1="1776.2" y1="1307.9" x2="1776.2" y2="1304.7" stroke="#222" stroke-width="1"/>
<line x1="1772.7" y1="1304.7" x2="1779.7" y2="1304.7" stroke="#222" stroke-width="1"/>
<rect x="1655" y="1394.3" width="11.2" height="3.9" fill="#ff0000" stroke="#111" stroke-width="1"/>
<line x1="1660.6" y1="1394.3" x2="1660.6" y2="1394.1" stroke="#222" stroke-width="1"/>
<line x1="1657.1" y1="1394.1" x2="1664.1" y2="1394.1" stroke="#222" stroke-width="1"/>
<rect x="1699.2" y="1395.8" width="10.5" height="2.4" fill="#ff0000" stroke="#111" stroke-width="1"/>
<line x1="1704.5" y1="1395.8" x2="1704.5" y2="1395.6" stroke="#222" stroke-width="1"/>
<line x1="1701" y1="1395.6" x2="1708" y2="1395.6" stroke="#222" stroke-width="1"/>
<rect x="1743.2" y="1222.3" width="11.4" height="175.9" fill="#ff0000" stroke="#111" stroke-width="1"/>
<line x1="1748.9" y1="1222.3" x2="1748.9" y2="1221.1" stroke="#222" stroke-width="1"/>
<line x1="1745.4" y1="1221.1" x2="1752.4" y2="1221.1" stroke="#222" stroke-width="1"/>
<rect x="1787" y="1314.6" width="11.6" height="83.6" fill="#ff0000" stroke="#111" stroke-width="1"/>
<line x1="1792.8" y1="1314.6" x2="1792.8" y2="1313.4" stroke="#222" stroke-width="1"/>
<line x1="1789.3" y1="1313.4" x2="1796.3" y2="1313.4" stroke="#222" stroke-width="1"/>
<rect x="1632.7" y="1181.3" width="171.9" height="216.9" fill="none" stroke="#222" stroke-width="1.3"/>
<line x1="1632.7" y1="1398.2" x2="1637.7" y2="1398.2" stroke="#222" stroke-width="1.1"/>
<text x="1631.2" y="1404.1" class="c12">0</text>
<line x1="1632.7" y1="1358.8" x2="1637.7" y2="1358.8" stroke="#222" stroke-width="1.1"/>
<text x="1631.2" y="1364.7" class="c12">10</text>
<line x1="1632.7" y1="1319.3" x2="1637.7" y2="1319.3" stroke="#222" stroke-width="1.1"/>
<text x="1631.2" y="1325.3" class="c12">20</text>
<line x1="1632.7" y1="1279.9" x2="1637.7" y2="1279.9" stroke="#222" stroke-width="1.1"/>
<text x="1631.2" y="1285.8" class="c12">30</text>
<line x1="1632.7" y1="1240.5" x2="1637.7" y2="1240.5" stroke="#222" stroke-width="1.1"/>
<text x="1631.2" y="1246.4" class="c12">40</text>
<line x1="1632.7" y1="1201" x2="1637.7" y2="1201" stroke="#222" stroke-width="1.1"/>
<text x="1631.2" y="1207" class="c12">50</text>
<rect x="1636.2" y="1186.4" width="15.1" height="7.3" fill="#0000ff" stroke="#111" stroke-width="1.1" rx="1"/>
<text x="1653.3" y="1194.1" class="c13">HCC827 Vector</text>
<rect x="1636.2" y="1200.3" width="15.1" height="6.8" fill="#ff0000" stroke="#111" stroke-width="1.1" rx="1"/>
<text x="1653.3" y="1209.2" class="c13">HCC827 CRTAC1</text>
<text x="1771.7" y="1212.5" class="c14">*</text>
<path d="M1749.4 1221V1213.3H1793.8V1310.8" fill="none" stroke="#333" stroke-width="1"/>
<text x="1605.8" y="1363.5" class="c22" transform="rotate(-90 1605.8 1363.5)">Cell Apoptosis (%)</text>
<text x="1643" y="1413" class="c17">-</text>
<text x="1662.2" y="1413" class="c17">-</text>
<text x="1687" y="1413" class="c17">+</text>
<text x="1706" y="1413" class="c17">+</text>
<text x="1731.9" y="1413" class="c17">-</text>
<text x="1750.4" y="1413" class="c17">-</text>
<text x="1776.7" y="1413" class="c17">+</text>
<text x="1794.9" y="1413" class="c17">+</text>
<text x="1643" y="1427.1" class="c17">-</text>
<text x="1662.2" y="1427.1" class="c17">-</text>
<text x="1685.4" y="1427.1" class="c17">-</text>
<text x="1704.4" y="1427.1" class="c17">-</text>
<text x="1730.2" y="1427.1" class="c17">+</text>
<text x="1748.4" y="1427.1" class="c17">+</text>
<text x="1776.3" y="1427.1" class="c17">+</text>
<text x="1794.9" y="1427.1" class="c17">+</text>
<text x="1802.1" y="1413.1" class="c23">Dantrolene (25μM)</text>
<text x="1809.7" y="1427.5" class="c23">CDDP (20μM)</text>
<defs><filter id="bb" x="-10%" y="-40%" width="120%" height="180%"><feGaussianBlur stdDeviation="0.7"/></filter></defs>
<text x="861.5" y="110" class="c21">E</text>
<text x="965.3" y="104.9" class="c24">H1299</text>
<line x1="890" y1="109.5" x2="1075.8" y2="109.5" stroke="#222" stroke-width="1.1"/>
<text x="875.9" y="157.9" class="c25" transform="rotate(-49 875.9 157.9)">Vector</text>
<text x="901.6" y="158.8" class="c25" transform="rotate(-49 901.6 158.8)">CRTAC1</text>
<text x="925.4" y="157.9" class="c25" transform="rotate(-49 925.4 157.9)">Vector</text>
<text x="955.9" y="158.8" class="c25" transform="rotate(-49 955.9 158.8)">CRTAC1</text>
<text x="978.4" y="157.9" class="c25" transform="rotate(-49 978.4 157.9)">Vector</text>
<text x="1005.6" y="158.8" class="c25" transform="rotate(-49 1005.6 158.8)">CRTAC1</text>
<text x="1028" y="157.9" class="c25" transform="rotate(-49 1028 157.9)">Vector</text>
<text x="1055.2" y="158.8" class="c25" transform="rotate(-49 1055.2 158.8)">CRTAC1</text>
<text x="872.7" y="169.8" class="c17">-</text>
<text x="900.8" y="169.8" class="c17">-</text>
<text x="925.9" y="169.8" class="c17">+</text>
<text x="953.3" y="169.8" class="c17">+</text>
<text x="978.9" y="169.8" class="c17">-</text>
<text x="1006.5" y="169.8" class="c17">-</text>
<text x="1028.2" y="169.8" class="c17">+</text>
<text x="1055.7" y="169.8" class="c17">+</text>
<text x="872.7" y="183.5" class="c17">-</text>
<text x="900.8" y="183.5" class="c17">-</text>
<text x="925.9" y="183.5" class="c17">-</text>
<text x="953.3" y="183.5" class="c17">-</text>
<text x="978.9" y="183.5" class="c17">+</text>
<text x="1006.5" y="183.5" class="c17">+</text>
<text x="1028.2" y="183.5" class="c17">+</text>
<text x="1055.7" y="183.5" class="c17">+</text>
<text x="1075.4" y="169.5" class="c2">BAPTA-AM (2.5μM)</text>
<text x="1073.5" y="184.9" class="c2">CDDP (20μM)</text>
<rect x="862.8" y="183.3" width="199.4" height="23.1" fill="#a9a9a9" stroke="#222" stroke-width="1.6"/>
<rect x="867.8" y="192" width="18.9" height="6.7" rx="3.4" fill="#050505" filter="url(#bb)"/>
<rect x="893.4" y="192" width="17.9" height="6.7" rx="3.4" fill="#050505" filter="url(#bb)"/>
<rect x="919" y="192.2" width="17.3" height="5.6" rx="2.8" fill="#050505" filter="url(#bb)"/>
<rect x="944.7" y="191.8" width="15.6" height="6.4" rx="3.2" fill="#050505" filter="url(#bb)"/>
<rect x="968.1" y="192.2" width="17.2" height="6.7" rx="3.4" fill="#050505" filter="url(#bb)"/>
<rect x="992" y="192.2" width="20.1" height="7.2" rx="3.6" fill="#050505" filter="url(#bb)"/>
<rect x="1017.1" y="192.9" width="17.2" height="6.1" rx="3" fill="#050505" filter="url(#bb)"/>
<rect x="1042.1" y="192.9" width="16.2" height="4.1" rx="2" fill="#050505" filter="url(#bb)"/>
<rect x="862.8" y="210.5" width="199.4" height="18.2" fill="#a9a9a9" stroke="#222" stroke-width="1.6"/>
<rect x="868.4" y="216" width="24.6" height="7.3" rx="3" fill="#050505" filter="url(#bb)"/>
<rect x="892" y="216.8" width="24.6" height="7.3" rx="3" fill="#050505" filter="url(#bb)"/>
<rect x="915.6" y="216" width="24.6" height="7.3" rx="3" fill="#050505" filter="url(#bb)"/>
<rect x="939.2" y="216.8" width="24.6" height="7.3" rx="3" fill="#050505" filter="url(#bb)"/>
<rect x="962.8" y="216" width="24.6" height="7.3" rx="3" fill="#050505" filter="url(#bb)"/>
<rect x="986.4" y="216.8" width="24.6" height="7.3" rx="3" fill="#050505" filter="url(#bb)"/>
<rect x="1010" y="216" width="24.6" height="7.3" rx="3" fill="#050505" filter="url(#bb)"/>
<rect x="1033.6" y="216.8" width="24.6" height="7.3" rx="3" fill="#050505" filter="url(#bb)"/>
<text x="841.2" y="203.6" class="c26">35</text>
<line x1="858.5" y1="199.4" x2="862.8" y2="199.4" stroke="#222" stroke-width="1.2"/>
<text x="841.2" y="227" class="c26">40</text>
<line x1="858.5" y1="223.4" x2="862.8" y2="223.4" stroke="#222" stroke-width="1.2"/>
<line x1="1063.2" y1="196.9" x2="1079.2" y2="196.9" stroke="#333" stroke-width="1.1"/>
<path d="M1069.9 192.4L1063.2 196.9L1069.9 201.4" fill="none" stroke="#333" stroke-width="1.1"/>
<text x="1082" y="202.7" class="c26">STUB1</text>
<line x1="1063.2" y1="219" x2="1079.2" y2="219" stroke="#333" stroke-width="1.1"/>
<path d="M1069.9 214.5L1063.2 219L1069.9 223.5" fill="none" stroke="#333" stroke-width="1.1"/>
<text x="1082" y="225.7" class="c5">β-Actin</text>
<text x="870.8" y="389.4" class="c21">F</text>
<text x="963.1" y="379.2" class="c24">HCC827</text>
<line x1="901.6" y1="387.5" x2="1087.3" y2="387.5" stroke="#222" stroke-width="1.1"/>
<text x="886.5" y="433.7" class="c25" transform="rotate(-49 886.5 433.7)">Vector</text>
<text x="911.5" y="434.6" class="c25" transform="rotate(-49 911.5 434.6)">CRTAC1</text>
<text x="935.2" y="433.7" class="c25" transform="rotate(-49 935.2 433.7)">Vector</text>
<text x="961" y="434.6" class="c25" transform="rotate(-49 961 434.6)">CRTAC1</text>
<text x="985.6" y="433.7" class="c25" transform="rotate(-49 985.6 433.7)">Vector</text>
<text x="1012.2" y="434.6" class="c25" transform="rotate(-49 1012.2 434.6)">CRTAC1</text>
<text x="1034.7" y="433.7" class="c25" transform="rotate(-49 1034.7 433.7)">Vector</text>
<text x="1064.1" y="434.6" class="c25" transform="rotate(-49 1064.1 434.6)">CRTAC1</text>
<text x="882.7" y="445.5" class="c17">-</text>
<text x="906.4" y="445.5" class="c17">-</text>
<text x="932.4" y="445.5" class="c17">+</text>
<text x="959.3" y="445.5" class="c17">+</text>
<text x="985.3" y="445.5" class="c17">-</text>
<text x="1013.2" y="445.5" class="c17">-</text>
<text x="1034.3" y="445.5" class="c17">+</text>
<text x="1062.2" y="445.5" class="c17">+</text>
<text x="882.7" y="460" class="c17">-</text>
<text x="906.4" y="460" class="c17">-</text>
<text x="932.4" y="460" class="c17">-</text>
<text x="959.3" y="460" class="c17">-</text>
<text x="985.3" y="460" class="c17">+</text>
<text x="1013.2" y="460" class="c17">+</text>
<text x="1034.3" y="460" class="c17">+</text>
<text x="1062.2" y="460" class="c17">+</text>
<text x="1091" y="445.6" class="c13">BAPTA-AM(2.5μM)</text>
<text x="1086.7" y="460.6" class="c13">CDDP(20μM)</text>
<rect x="873.7" y="463.9" width="200.1" height="19.3" fill="#a9a9a9" stroke="#222" stroke-width="1.6"/>
<rect x="877" y="472.9" width="17" height="5.2" rx="2.6" fill="#050505" filter="url(#bb)"/>
<rect x="902" y="473.5" width="15" height="4.6" rx="2.3" fill="#050505" filter="url(#bb)"/>
<rect x="925" y="472.2" width="16.5" height="5.6" rx="2.8" fill="#050505" filter="url(#bb)"/>
<rect x="950.5" y="472.9" width="15.5" height="5.2" rx="2.6" fill="#050505" filter="url(#bb)"/>
<rect x="974.5" y="471.7" width="17.5" height="6.2" rx="3.1" fill="#050505" filter="url(#bb)"/>
<rect x="1000" y="470.2" width="19" height="8.5" rx="4.2" fill="#050505" filter="url(#bb)"/>
<rect x="1025" y="471.7" width="17" height="6.2" rx="3.1" fill="#050505" filter="url(#bb)"/>
<rect x="1052" y="470.5" width="16.5" height="4.6" rx="2.3" fill="#050505" filter="url(#bb)"/>
<rect x="873.7" y="487.6" width="200.1" height="19.2" fill="#a9a9a9" stroke="#222" stroke-width="1.6"/>
<rect x="877" y="493.1" width="24.8" height="8" rx="3" fill="#050505" filter="url(#bb)"/>
<rect x="900.8" y="493.8" width="24.8" height="8" rx="3" fill="#050505" filter="url(#bb)"/>
<rect x="924.6" y="493.1" width="24.8" height="8" rx="3" fill="#050505" filter="url(#bb)"/>
<rect x="948.4" y="493.8" width="24.8" height="8" rx="3" fill="#050505" filter="url(#bb)"/>
<rect x="972.2" y="493.1" width="24.8" height="8" rx="3" fill="#050505" filter="url(#bb)"/>
<rect x="996.1" y="493.8" width="24.8" height="8" rx="3" fill="#050505" filter="url(#bb)"/>
<rect x="1019.9" y="493.1" width="24.8" height="8" rx="3" fill="#050505" filter="url(#bb)"/>
<rect x="1043.7" y="493.8" width="24.8" height="8" rx="3" fill="#050505" filter="url(#bb)"/>
<text x="852" y="482.4" class="c26">35</text>
<line x1="869.5" y1="478.5" x2="873.7" y2="478.5" stroke="#222" stroke-width="1.2"/>
<text x="852" y="503.9" class="c26">40</text>
<line x1="869.5" y1="500" x2="873.7" y2="500" stroke="#222" stroke-width="1.2"/>
<line x1="1074.4" y1="472.2" x2="1091" y2="472.2" stroke="#333" stroke-width="1.1"/>
<path d="M1081.1 467.7L1074.4 472.2L1081.1 476.7" fill="none" stroke="#333" stroke-width="1.1"/>
<text x="1092.5" y="477.4" class="c26">STUB1</text>
<line x1="1074.4" y1="497.2" x2="1091" y2="497.2" stroke="#333" stroke-width="1.1"/>
<path d="M1081.1 492.7L1074.4 497.2L1081.1 501.7" fill="none" stroke="#333" stroke-width="1.1"/>
<text x="1094.4" y="502" class="c5">β-Actin</text>
</svg></body></html>
